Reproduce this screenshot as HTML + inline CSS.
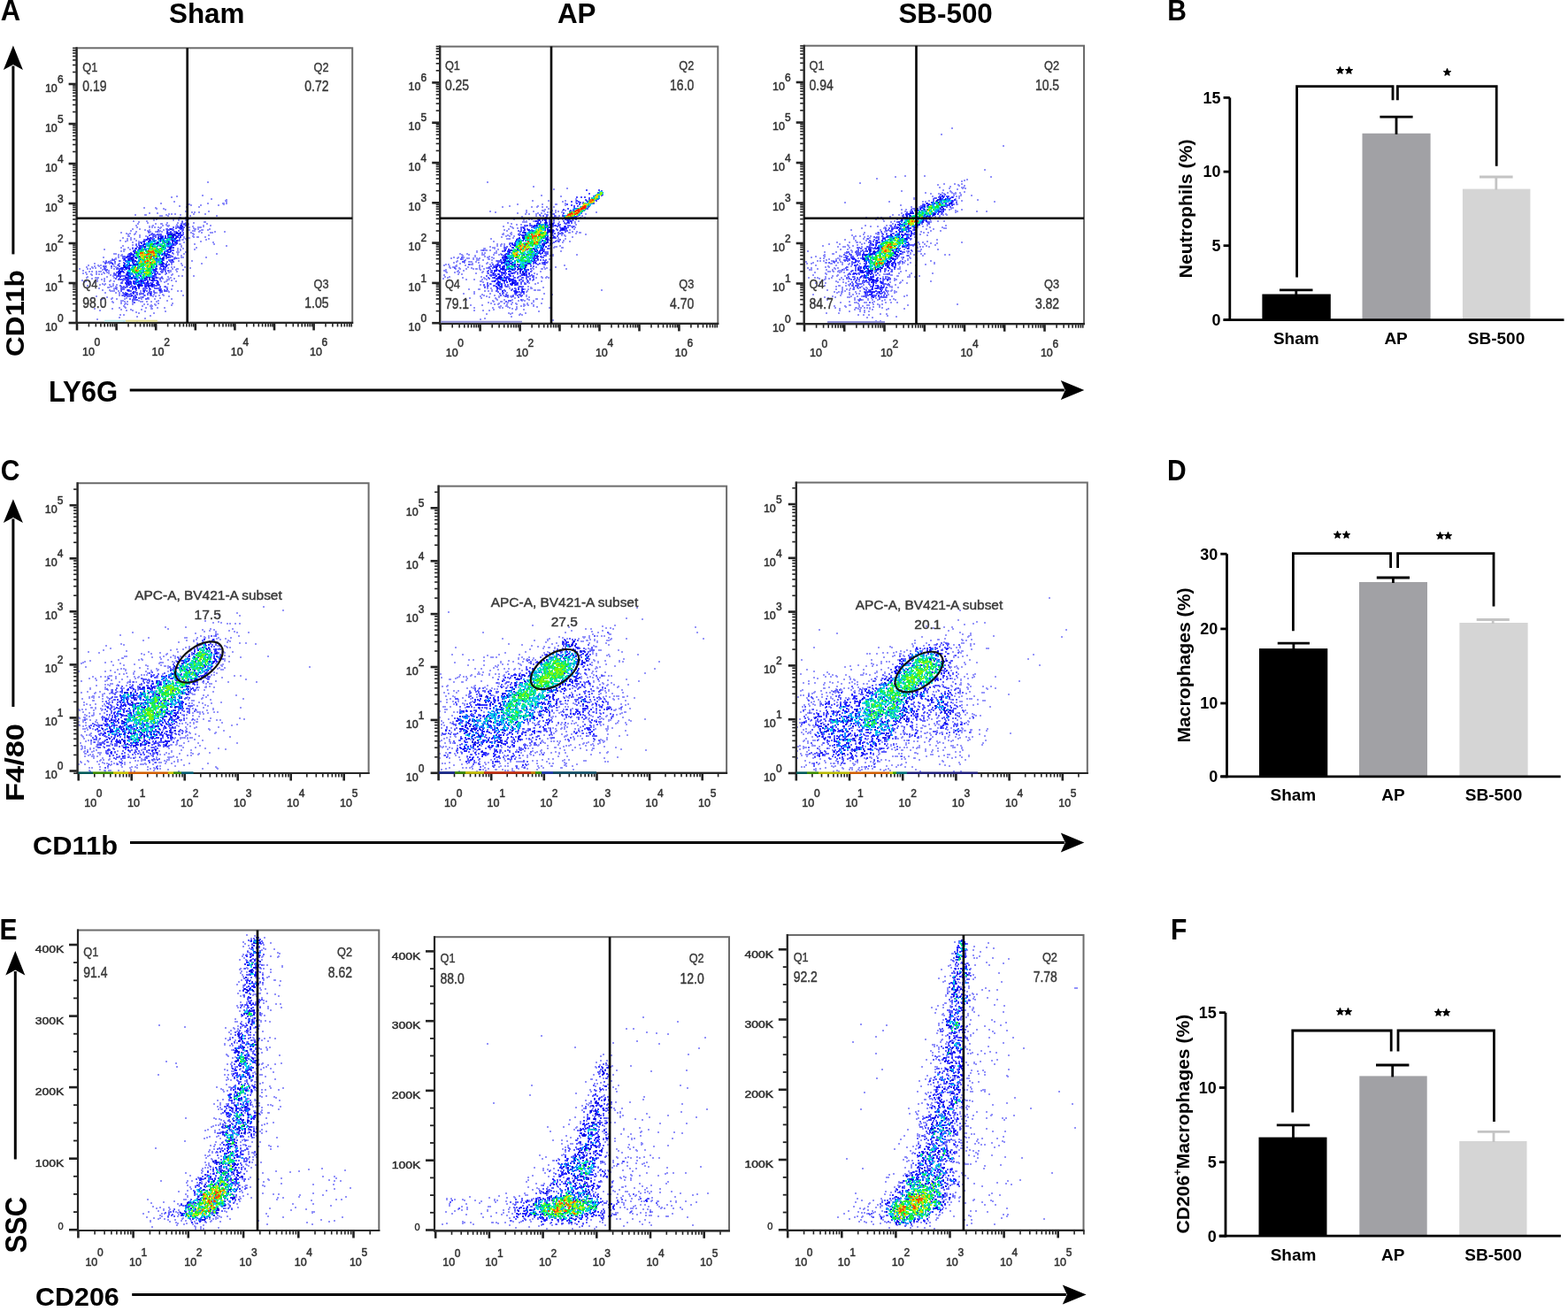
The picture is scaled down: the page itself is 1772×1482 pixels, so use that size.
<!DOCTYPE html><html><head><meta charset="utf-8"><title>Figure</title><style>html,body{margin:0;padding:0;background:#fff;overflow:hidden}svg{display:block}</style></head><body><svg width="1772" height="1482" viewBox="0 0 1772 1482" font-family='"Liberation Sans", Arial, Helvetica, sans-serif'><rect width="1772" height="1482" fill="#fff"/><g fill="none" stroke-linecap="square"><path stroke="rgb(135,135,250)" stroke-width="1.8" d="M235 206h0m-6 15h0m-29 1h0m-6 1h0m45 2h0m17 1h0m-1 1h0m-58 1h0m59 0h0m-74 2h0m53 0h0m17 0h0m1 0h0m3 0h0m-42 1h0m39 0h0m-37 1h0m11 0h0m20 0h0m-44 1h0m8 1h0m14 0h0m-62 1h0m13 0h0m1 1h0m8 0h0m2 1h0m23 2h0m26 0h0m-19 1h0m3 0h0m5 0h0m-56 1h0m9 0h0m13 1h0m3 0h0m4 0h0m21 0h0m13 0h0m-79 1h0m11 0h0m1 0h0m23 0h0m16 0h0m-23 1h0m2 0h0m7 0h0m25 0h0m30 0h0m-42 2h0m1 0h0m6 0h0m1 0h0m-58 1h0m38 0h0m9 0h0m11 0h0m-34 1h0m19 0h0m14 0h0m2 0h0m1 0h0m-39 1h0m22 0h0m6 0h0m8 0h0m-59 1h0m15 0h0m40 0h0m-49 1h0m74 0h0m1 0h0m-65 1h0m22 0h0m12 0h0m9 0h0m9 0h0m-63 1h0m20 0h0m6 0h0m1 0h0m24 0h0m6 0h0m21 0h0m-46 1h0m12 0h0m13 0h0m-59 1h0m19 0h0m11 0h0m5 0h0m2 0h0m39 0h0m8 0h0m-69 1h0m3 0h0m18 0h0m9 0h0m13 0h0m6 0h0m12 0h0m-75 1h0m14 0h0m3 0h0m3 0h0m4 0h0m3 0h0m32 0h0m10 0h0m2 0h0m1 0h0m-46 1h0m38 0h0m-69 1h0m8 0h0m30 0h0m32 0h0m1 0h0m3 0h0m13 0h0m-73 1h0m5 0h0m16 0h0m29 0h0m14 0h0m1 0h0m6 0h0m-87 1h0m19 0h0m14 0h0m37 0h0m2 0h0m6 0h0m-72 1h0m16 0h0m6 0h0m4 0h0m3 0h0m42 0h0m18 0h0m11 0h0m-117 1h0m31 0h0m1 0h0m47 0h0m12 0h0m10 0h0m2 0h0m-97 1h0m4 0h0m6 0h0m65 0h0m-73 1h0m7 0h0m67 0h0m-61 1h0m78 0h0m-91 1h0m1 0h0m19 0h0m53 0h0m-60 1h0m50 0h0m11 0h0m4 0h0m1 0h0m8 0h0m-93 1h0m9 0h0m60 0h0m4 0h0m2 0h0m-70 1h0m8 0h0m58 0h0m26 0h0m-88 1h0m58 0h0m1 0h0m4 0h0m22 0h0m-97 1h0m8 0h0m10 0h0m-12 1h0m15 0h0m70 0h0m-77 1h0m10 0h0m48 0h0m4 0h0m29 0h0m-87 2h0m49 0h0m1 0h0m16 0h0m22 0h0m-92 1h0m-11 1h0m66 0h0m7 0h0m44 0h0m-51 1h0m-68 1h0m8 0h0m5 0h0m72 0h0m-21 1h0m6 0h0m-89 1h0m22 0h0m1 0h0m6 0h0m57 0h0m16 0h0m-19 1h0m3 0h0m-67 1h0m3 0h0m60 1h0m2 0h0m8 0h0m-9 1h0m11 0h0m-83 1h0m2 0h0m65 0h0m12 0h0m37 0h0m-111 1h0m4 0h0m63 0h0m-67 1h0m3 0h0m68 0h0m-88 2h0m17 0h0m64 0h0m7 0h0m2 0h0m26 0h0m-102 1h0m69 0h0m2 0h0m-75 1h0m3 0h0m1 0h0m66 0h0m-77 2h0m5 0h0m11 0h0m66 0h0m15 0h0m-100 1h0m5 1h0m-15 1h0m17 0h0m6 0h0m5 0h0m70 0h0m23 0h0m-100 1h0m66 0h0m-94 1h0m11 0h0m3 0h0m19 0h0m73 0h0m-99 1h0m5 0h0m8 0h0m9 0h0m-31 1h0m6 0h0m16 0h0m6 0h0m5 0h0m63 0h0m3 0h0m12 0h0m-104 1h0m3 0h0m6 0h0m12 0h0m64 0h0m25 0h0m-125 1h0m9 0h0m3 0h0m27 0h0m66 0h0m5 0h0m1 0h0m-85 1h0m83 0h0m8 0h0m-113 1h0m29 0h0m68 0h0m2 0h0m-92 1h0m3 0h0m5 0h0m3 0h0m2 0h0m79 0h0m7 0h0m-103 1h0m20 0h0m4 0h0m2 0h0m68 0h0m-97 1h0m15 0h0m9 0h0m5 0h0m-25 1h0m5 0h0m6 0h0m3 0h0m3 0h0m66 0h0m6 0h0m8 0h0m-91 1h0m21 0h0m69 0h0m-66 1h0m74 0h0m4 0h0m13 0h0m-120 1h0m22 0h0m62 0h0m7 0h0m-92 1h0m10 0h0m2 0h0m1 0h0m18 0h0m50 0h0m3 0h0m11 0h0m-89 1h0m14 0h0m66 0h0m7 0h0m6 0h0m-87 1h0m5 0h0m3 0h0m71 0h0m2 0h0m-98 1h0m25 0h0m7 0h0m64 0h0m5 0h0m-97 1h0m4 0h0m9 0h0m8 0h0m6 0h0m5 0h0m53 0h0m6 0h0m11 0h0m-104 1h0m12 0h0m79 0h0m-70 2h0m3 0h0m9 0h0m62 0h0m-77 1h0m5 0h0m6 0h0m8 0h0m-33 1h0m29 0h0m67 0h0m-70 1h0m1 0h0m5 0h0m55 0h0m-64 1h0m1 0h0m9 0h0m56 0h0m1 0h0m-77 1h0m17 0h0m60 0h0m-60 1h0m3 0h0m62 0h0m-78 1h0m8 0h0m1 1h0m2 0h0m2 0h0m5 0h0m25 0h0m28 0h0m3 0h0m11 0h0m4 0h0m-46 1h0m32 0h0m-72 1h0m12 0h0m4 0h0m42 0h0m4 0h0m-46 1h0m23 1h0m16 0h0m10 0h0m-49 1h0m3 0h0m26 0h0m6 0h0m10 0h0m5 0h0m22 0h0m-98 1h0m64 0h0m3 0h0m15 0h0m-70 1h0m38 0h0m3 0h0m-58 1h0m14 0h0m9 0h0m16 0h0m16 0h0m9 0h0m13 0h0m-65 1h0m10 0h0m6 0h0m9 0h0m10 0h0m9 0h0m6 0h0m2 0h0m7 0h0m19 0h0m-80 1h0m23 1h0m2 0h0m18 0h0m22 0h0m10 0h0m-62 1h0m10 0h0m4 0h0m3 0h0m15 0h0m2 0h0m5 0h0m5 0h0m6 0h0m-49 1h0m22 0h0m1 0h0m-14 1h0m5 0h0m37 0h0m16 0h0m-54 1h0m3 0h0m6 0h0m13 0h0m4 0h0m8 0h0m-4 1h0m5 0h0m18 0h0m-54 1h0m21 0h0m9 0h0m2 0h0m-31 1h0m30 0h0m-36 1h0m7 0h0m23 0h0m13 0h0m8 0h0m-79 1h0m20 0h0m44 0h0m1 0h0m-35 1h0m11 0h0m12 0h0m-47 1h0m30 0h0m7 0h0m14 1h0m23 0h0m-33 1h0m3 1h0m17 0h0m-38 2h0m4 0h0m30 1h0m-15 1h0m-20 1h0m29 1h0m-54 1h0m30 2h0m15 0h0"/><path stroke="rgb(80,80,252)" stroke-width="1.8" d="M206 251h0m-1 2h0m4 0h0m-4 1h0m3 0h0m3 0h0m-7 1h0m6 0h0m-9 1h0m-5 1h0m5 0h0m1 0h0m6 0h0m-9 1h0m4 0h0m3 0h0m-17 1h0m3 0h0m2 0h0m1 0h0m9 0h0m3 0h0m-28 1h0m10 0h0m1 0h0m1 0h0m4 0h0m1 0h0m10 0h0m1 0h0m-5 1h0m4 0h0m-38 1h0m10 0h0m15 0h0m4 0h0m2 0h0m-10 1h0m2 0h0m7 0h0m9 0h0m-35 1h0m23 0h0m4 0h0m5 0h0m-33 1h0m2 0h0m1 0h0m4 0h0m1 0h0m2 0h0m1 0h0m25 0h0m-38 1h0m7 0h0m28 0h0m2 0h0m-33 1h0m1 0h0m5 0h0m2 0h0m3 0h0m15 0h0m-32 1h0m6 0h0m3 0h0m-4 1h0m31 0h0m-32 1h0m3 0h0m6 0h0m-17 1h0m2 0h0m38 0h0m-39 1h0m37 0h0m2 0h0m-41 1h0m35 0h0m3 0h0m-41 1h0m4 0h0m-6 1h0m20 1h0m21 0h0m1 0h0m-45 1h0m3 0h0m41 0h0m-43 2h0m2 1h0m38 0h0m-45 1h0m3 0h0m0 1h0m40 0h0m-41 1h0m43 0h0m1 0h0m-6 1h0m-42 2h0m47 0h0m-49 1h0m41 0h0m-42 1h0m44 0h0m1 0h0m-45 1h0m41 0h0m5 0h0m2 0h0m-54 1h0m2 0h0m52 0h0m2 0h0m-56 1h0m2 0h0m4 0h0m43 0h0m4 0h0m-53 1h0m49 0h0m9 0h0m2 0h0m-59 1h0m-13 1h0m2 0h0m11 0h0m45 0h0m6 0h0m2 0h0m1 0h0m-59 1h0m57 0h0m1 0h0m-73 1h0m3 0h0m7 0h0m22 0h0m37 0h0m4 0h0m2 0h0m1 0h0m-77 1h0m1 0h0m5 0h0m1 0h0m14 0h0m54 0h0m-75 1h0m69 0h0m-54 1h0m46 0h0m4 0h0m3 0h0m4 0h0m-57 1h0m55 0h0m-72 1h0m2 0h0m7 0h0m9 0h0m11 1h0m30 0h0m9 0h0m-67 1h0m15 0h0m4 0h0m44 0h0m-63 1h0m1 0h0m13 0h0m2 0h0m4 0h0m43 0h0m1 0h0m5 0h0m-68 1h0m2 0h0m20 0h0m42 0h0m2 0h0m-65 1h0m67 0h0m3 0h0m-52 1h0m39 0h0m5 0h0m2 0h0m3 0h0m-55 1h0m1 0h0m7 0h0m38 0h0m5 0h0m-54 1h0m5 0h0m2 0h0m42 0h0m10 0h0m-59 1h0m2 0h0m49 0h0m-50 1h0m1 0h0m5 0h0m-3 1h0m5 0h0m2 0h0m2 0h0m34 0h0m-44 1h0m41 1h0m2 0h0m8 0h0m-52 1h0m4 0h0m5 0h0m12 0h0m29 0h0m-47 1h0m2 0h0m1 0h0m1 0h0m1 0h0m2 0h0m1 0h0m32 0h0m7 0h0m-42 1h0m15 0h0m17 0h0m5 0h0m1 0h0m-39 2h0m35 0h0m6 0h0m-42 1h0m1 0h0m10 0h0m11 0h0m6 0h0m5 0h0m1 0h0m1 0h0m5 0h0m2 1h0m-36 1h0m37 0h0m-44 1h0m13 0h0m12 0h0m11 0h0m2 0h0m2 0h0m1 0h0m-40 1h0m3 0h0m3 0h0m1 0h0m4 0h0m1 0h0m2 0h0m13 0h0m10 0h0m7 0h0m6 0h0m-48 1h0m1 0h0m2 0h0m5 0h0m34 0h0m-50 1h0m6 0h0m16 0h0m4 0h0m5 0h0m2 0h0m2 0h0m9 0h0m2 0h0m2 0h0m2 0h0m-44 1h0m1 0h0m2 0h0m10 0h0m3 0h0m17 0h0m12 0h0m7 0h0m-45 1h0m2 0h0m8 0h0m8 0h0m2 0h0m5 0h0m11 0h0m2 0h0m4 0h0m-49 1h0m8 0h0m1 0h0m1 0h0m1 0h0m14 0h0m4 0h0m3 0h0m5 0h0m7 0h0m2 0h0m3 0h0m2 0h0m-35 1h0m10 0h0m7 0h0m1 0h0m3 0h0m8 0h0m1 0h0m-44 1h0m3 0h0m8 0h0m4 0h0m1 0h0m13 0h0m7 0h0m-35 1h0m4 0h0m4 0h0m3 0h0m7 0h0m2 0h0m2 0h0m5 0h0m4 0h0m-30 1h0m4 0h0m2 0h0m8 0h0m12 0h0m3 0h0m-31 1h0m4 0h0m10 0h0m10 0h0m8 0h0m-30 1h0m3 0h0m2 0h0m2 0h0m3 0h0m1 1h0m9 0h0m-10 1h0m2 0h0m4 0h0m10 0h0m-20 1h0m6 0h0m12 0h0m-15 1h0m2 0h0m2 0h0m1 0h0m-5 1h0m2 2h0"/><path stroke="rgb(25,25,255)" stroke-width="1.8" d="M205 255h0m1 1h0m-2 1h0m1 1h0m-12 1h0m-4 3h0m4 1h0m11 0h0m-15 1h0m11 0h0m1 0h0m1 0h0m1 0h0m-9 1h0m4 1h0m4 0h0m3 0h0m-23 1h0m5 0h0m3 0h0m10 0h0m-17 1h0m1 0h0m3 0h0m3 0h0m11 0h0m3 0h0m-34 1h0m-3 1h0m1 0h0m21 0h0m8 0h0m1 0h0m-32 1h0m3 0h0m4 0h0m21 0h0m-21 1h0m8 0h0m1 0h0m15 0h0m3 0h0m-37 1h0m5 0h0m7 0h0m6 0h0m-12 1h0m26 0h0m3 0h0m1 0h0m-39 1h0m16 0h0m16 0h0m8 0h0m-36 1h0m28 0h0m3 0h0m1 0h0m-34 1h0m34 0h0m-38 1h0m1 0h0m2 0h0m33 0h0m-36 1h0m4 0h0m28 0h0m3 0h0m-33 1h0m27 0h0m9 0h0m-42 1h0m3 1h0m34 0h0m1 0h0m-3 1h0m-38 1h0m2 0h0m36 0h0m4 0h0m-7 1h0m4 0h0m2 0h0m-40 1h0m1 0h0m-6 1h0m2 0h0m36 0h0m4 0h0m-41 1h0m1 0h0m2 0h0m32 0h0m8 0h0m-44 1h0m33 0h0m-36 1h0m2 0h0m5 0h0m37 0h0m-45 1h0m5 0h0m5 0h0m37 0h0m-43 1h0m1 0h0m6 0h0m31 0h0m-44 1h0m4 0h0m1 0h0m5 0h0m31 0h0m-35 1h0m3 0h0m1 0h0m33 0h0m11 0h0m-53 1h0m4 0h0m34 0h0m2 0h0m-32 2h0m13 0h0m21 0h0m-57 1h0m14 0h0m5 0h0m5 0h0m31 0h0m3 0h0m-41 1h0m38 0h0m-37 1h0m8 0h0m31 0h0m4 0h0m-48 1h0m2 0h0m35 0h0m5 0h0m2 0h0m1 0h0m3 0h0m-48 1h0m4 0h0m14 0h0m29 0h0m-49 1h0m1 0h0m3 0h0m2 0h0m2 0h0m-10 1h0m3 0h0m4 0h0m33 0h0m1 0h0m8 0h0m-47 1h0m9 0h0m26 0h0m1 0h0m1 0h0m-40 1h0m39 0h0m2 0h0m-42 1h0m2 0h0m1 0h0m2 0h0m5 1h0m31 0h0m-31 1h0m1 0h0m27 0h0m-38 1h0m9 0h0m14 0h0m18 0h0m1 0h0m-32 1h0m-10 1h0m11 0h0m2 0h0m4 0h0m8 0h0m14 0h0m1 0h0m-38 1h0m6 1h0m3 0h0m7 0h0m5 0h0m15 0h0m5 0h0m-30 1h0m2 0h0m17 0h0m8 0h0m-30 1h0m1 0h0m10 0h0m11 0h0m-22 1h0m1 0h0m14 0h0m1 0h0m4 0h0m10 0h0m-31 1h0m2 0h0m2 0h0m4 0h0m2 0h0m4 0h0m2 0h0m3 0h0m5 0h0m11 0h0m-34 1h0m3 0h0m1 0h0m6 0h0m6 0h0m-18 1h0m9 0h0m2 0h0m9 0h0m1 0h0m3 0h0m1 0h0m11 0h0m-35 1h0m3 0h0m2 0h0m4 0h0m8 0h0m6 0h0m2 0h0m4 0h0m6 0h0m-33 1h0m1 0h0m10 0h0m8 0h0m7 0h0m3 0h0m5 0h0m-22 1h0m2 0h0m1 0h0m4 0h0m2 0h0m4 0h0m-17 1h0m12 0h0m3 0h0m4 0h0m-20 1h0m5 0h0m-7 1h0m4 0h0m15 0h0m-24 2h0m36 0h0m-18 1h0m-12 1h0m0 1h0m-8 1h0m27 0h0m-28 1h0m1 0h0m6 1h0m5 2h0"/><path stroke="rgb(0,0,220)" stroke-width="1.8" d="M200 263h0m-9 2h0m2 0h0m4 0h0m-7 1h0m5 0h0m1 0h0m-2 1h0m2 0h0m-4 1h0m2 0h0m-15 1h0m3 0h0m5 0h0m5 0h0m2 0h0m2 0h0m3 0h0m-20 1h0m2 0h0m2 0h0m-1 1h0m3 0h0m-16 1h0m1 0h0m25 0h0m-21 1h0m11 0h0m5 0h0m-12 1h0m1 0h0m12 0h0m-2 1h0m-26 1h0m11 0h0m4 0h0m12 0h0m-22 2h0m10 0h0m3 0h0m4 0h0m-21 1h0m8 0h0m12 0h0m1 0h0m-10 1h0m11 0h0m6 0h0m1 0h0m-35 1h0m6 0h0m20 0h0m8 0h0m-9 1h0m-23 1h0m1 0h0m4 0h0m3 0h0m-13 3h0m16 1h0m8 0h0m4 0h0m3 0h0m0 1h0m-35 1h0m4 0h0m1 0h0m32 0h0m-30 1h0m16 0h0m-24 1h0m4 0h0m31 0h0m-36 1h0m28 0h0m4 0h0m3 0h0m-1 1h0m-34 1h0m9 0h0m3 0h0m-16 1h0m5 0h0m3 0h0m4 0h0m20 0h0m-33 1h0m11 0h0m28 0h0m-7 2h0m7 0h0m-31 1h0m2 0h0m1 0h0m1 0h0m-16 1h0m6 0h0m1 0h0m4 0h0m20 1h0m-30 1h0m2 0h0m28 0h0m-15 1h0m-10 1h0m22 0h0m-23 3h0m7 0h0m7 0h0m3 0h0m3 0h0m-29 1h0m35 0h0m-36 1h0m11 0h0m9 0h0m1 0h0m4 0h0m-15 1h0m1 1h0m8 0h0m-7 2h0m19 0h0m1 0h0m-24 1h0m6 0h0m14 0h0m1 0h0m5 0h0m-16 1h0m8 0h0m3 0h0m9 0h0m-4 1h0m3 1h0m-16 1h0m4 0h0m-4 1h0m11 0h0m-22 1h0m12 1h0m0 1h0m1 0h0m14 0h0m-16 1h0m12 0h0m-11 1h0"/><path stroke="rgb(0,140,255)" stroke-width="1.8" d="M191 267h0m-6 3h0m5 0h0m3 0h0m3 0h0m-22 1h0m6 0h0m3 0h0m9 0h0m-16 1h0m4 0h0m6 0h0m3 0h0m2 0h0m7 0h0m-28 1h0m3 0h0m15 0h0m1 0h0m-18 1h0m16 0h0m1 0h0m4 0h0m-25 1h0m2 0h0m15 0h0m-18 1h0m2 0h0m26 0h0m-29 1h0m3 0h0m4 0h0m8 0h0m9 0h0m-20 1h0m20 0h0m2 0h0m-30 1h0m22 0h0m-15 2h0m9 0h0m4 0h0m6 0h0m-27 1h0m3 0h0m5 0h0m11 0h0m3 0h0m-26 1h0m15 0h0m-15 1h0m25 0h0m6 0h0m-7 2h0m0 1h0m5 1h0m-33 1h0m27 1h0m-23 1h0m18 0h0m1 2h0m4 0h0m1 0h0m-23 1h0m6 0h0m1 0h0m13 0h0m1 0h0m-34 1h0m4 0h0m28 0h0m-33 1h0m2 0h0m13 0h0m5 0h0m14 0h0m4 0h0m-36 1h0m11 0h0m4 0h0m1 0h0m5 0h0m8 0h0m3 0h0m-23 1h0m26 0h0m-3 1h0m-35 1h0m7 0h0m22 0h0m-28 1h0m10 0h0m14 0h0m7 0h0m-24 1h0m-1 1h0m12 0h0m-11 1h0m5 0h0m-8 2h0m5 0h0m7 0h0m3 0h0m5 1h0m7 1h0m-26 1h0m1 0h0m4 0h0m15 0h0m-22 1h0m2 0h0m2 0h0m8 0h0m5 0h0m-16 1h0m7 1h0m-1 1h0m3 0h0m15 0h0m-24 1h0m4 0h0m4 0h0m5 0h0m2 2h0m-8 2h0m1 0h0m2 2h0m4 0h0m-7 1h0"/><path stroke="rgb(0,215,230)" stroke-width="1.8" d="M192 267h0m-1 3h0m-1 1h0m1 0h0m-8 1h0m4 0h0m-15 1h0m8 0h0m-5 1h0m-9 1h0m4 0h0m2 0h0m-3 1h0m11 0h0m1 0h0m1 0h0m-7 1h0m3 0h0m5 0h0m4 0h0m5 0h0m-26 1h0m8 0h0m1 1h0m1 0h0m11 0h0m-18 1h0m8 0h0m-16 1h0m4 0h0m1 0h0m17 0h0m2 0h0m-14 1h0m15 0h0m-24 1h0m-4 1h0m-1 1h0m18 0h0m6 0h0m-19 1h0m4 0h0m17 0h0m-27 1h0m10 0h0m16 0h0m-28 1h0m6 0h0m18 0h0m-6 1h0m4 0h0m1 0h0m-22 1h0m11 0h0m6 0h0m6 0h0m-3 1h0m6 0h0m-24 2h0m15 0h0m-12 1h0m21 0h0m1 0h0m-21 1h0m20 0h0m-35 1h0m10 0h0m6 0h0m6 0h0m8 1h0m-18 1h0m-13 1h0m14 0h0m9 0h0m1 0h0m2 0h0m3 0h0m1 0h0m-18 1h0m2 0h0m3 0h0m2 0h0m10 0h0m-23 1h0m9 0h0m1 0h0m5 1h0m9 0h0m-24 1h0m2 0h0m5 0h0m5 0h0m-15 1h0m1 0h0m11 0h0m2 0h0m9 0h0m-17 1h0m6 0h0m10 0h0m-25 1h0m20 0h0m7 0h0m-26 1h0m1 0h0m11 0h0m2 0h0m10 0h0m-13 1h0m5 0h0m9 1h0m-16 1h0m5 0h0m5 0h0m-2 1h0m1 0h0m2 0h0m3 0h0m2 0h0m-7 1h0m3 0h0m2 0h0m-8 1h0m3 0h0m-8 1h0m3 1h0m3 0h0m-6 2h0"/><path stroke="rgb(0,235,120)" stroke-width="1.8" d="M193 267h0m-1 3h0m-3 1h0m-5 2h0m5 1h0m-4 1h0m1 1h0m-4 1h0m4 0h0m-19 1h0m3 0h0m4 1h0m3 0h0m9 0h0m-16 1h0m2 0h0m4 0h0m7 0h0m-5 1h0m-3 1h0m9 0h0m1 0h0m-27 1h0m20 0h0m2 0h0m2 0h0m-22 1h0m5 0h0m2 0h0m3 0h0m5 0h0m5 0h0m-11 1h0m-13 1h0m4 0h0m3 0h0m5 0h0m9 0h0m-20 1h0m7 0h0m-8 1h0m5 0h0m12 0h0m1 0h0m-1 1h0m-17 1h0m6 0h0m18 0h0m-15 1h0m4 0h0m2 0h0m-13 1h0m1 0h0m4 0h0m4 0h0m1 0h0m3 1h0m-5 1h0m1 0h0m1 0h0m2 0h0m5 0h0m-12 1h0m16 1h0m-7 1h0m10 0h0m-25 1h0m2 0h0m1 0h0m2 0h0m1 0h0m8 0h0m5 1h0m-3 1h0m-17 1h0m6 0h0m8 1h0m3 0h0m-16 1h0m12 0h0m4 0h0m-12 1h0m2 0h0m4 0h0m3 0h0m-19 1h0m16 0h0m-16 1h0m7 0h0m11 0h0m1 0h0m-19 1h0m2 0h0m2 0h0m1 0h0m8 0h0m2 0h0m2 0h0m-15 1h0m1 0h0m5 0h0m10 1h0m-1 1h0m1 0h0m-12 1h0m11 0h0m-13 1h0m13 0h0m-6 1h0m0 1h0"/><path stroke="rgb(30,240,30)" stroke-width="1.8" d="M171 276h0m1 0h0m-2 1h0m14 1h0m-14 1h0m1 0h0m-2 2h0m13 0h0m-20 1h0m10 0h0m1 0h0m7 0h0m-4 1h0m5 0h0m-15 1h0m5 0h0m5 0h0m1 0h0m6 0h0m-29 1h0m5 0h0m1 0h0m19 0h0m-12 1h0m14 0h0m-22 1h0m8 0h0m2 0h0m7 0h0m-21 1h0m14 0h0m-8 1h0m3 0h0m4 0h0m3 0h0m4 0h0m-11 1h0m5 0h0m8 0h0m-14 1h0m3 1h0m3 0h0m-8 1h0m1 0h0m4 0h0m3 0h0m4 0h0m-4 1h0m3 2h0m2 0h0m-7 1h0m-2 1h0m7 0h0m3 0h0m-15 1h0m2 0h0m8 0h0m2 0h0m-12 1h0m6 0h0m-7 1h0m9 0h0m2 0h0m-17 1h0m14 0h0m-15 1h0m-3 2h0m7 0h0m12 0h0m-18 1h0m3 0h0m13 0h0m1 0h0m-17 1h0m2 1h0m3 0h0m8 0h0m2 0h0m4 0h0m-4 1h0m5 0h0m-3 1h0m-5 1h0"/><path stroke="rgb(180,245,0)" stroke-width="1.8" d="M171 280h0m3 1h0m7 1h0m-12 1h0m1 0h0m2 0h0m-10 2h0m11 0h0m1 0h0m-4 1h0m-10 1h0m1 0h0m1 0h0m11 0h0m-8 1h0m3 0h0m4 0h0m4 0h0m-16 3h0m16 0h0m-5 1h0m-3 1h0m-3 1h0m8 0h0m-14 1h0m6 0h0m3 0h0m1 0h0m5 0h0m-10 2h0m4 1h0m-2 1h0m2 3h0m-9 2h0m6 0h0m-12 1h0m13 3h0m2 0h0m-1 1h0m-2 2h0"/><path stroke="rgb(255,200,0)" stroke-width="1.8" d="M175 281h0m-3 5h0m2 1h0m-15 1h0m3 0h0m1 0h0m1 0h0m-5 1h0m3 0h0m-1 1h0m6 1h0m-5 1h0m4 3h0m-6 1h0m15 0h0m-17 1h0m15 0h0m-4 3h0m-4 1h0m4 0h0m-15 2h0m-1 1h0m3 2h0m8 2h0"/><path stroke="rgb(255,70,0)" stroke-width="1.8" d="M168 284h0m5 0h0m-3 1h0m1 0h0m1 0h0m-13 1h0m2 0h0m13 0h0m-6 1h0m-2 1h0m8 1h0m-3 1h0m-5 1h0m4 1h0m-3 3h0m-3 1h0m6 1h0m-16 9h0"/><path stroke="rgb(135,135,250)" stroke-width="1.8" d="M551 206h0m52 5h0m38 2h0m-15 1h0m-14 7h0m22 1h0m17 3h0m-49 2h0m18 0h0m19 0h0m12 0h0m-15 1h0m15 1h0m-12 1h0m-54 1h0m28 0h0m10 0h0m5 0h0m1 0h0m10 1h0m-63 1h0m32 0h0m-40 1h0m33 0h0m6 0h0m6 0h0m5 0h0m8 0h0m30 0h0m-36 2h0m-4 1h0m7 0h0m32 0h0m-60 1h0m18 0h0m1 0h0m10 0h0m4 0h0m8 0h0m3 0h0m15 0h0m-100 1h0m49 0h0m12 0h0m13 0h0m3 0h0m15 0h0m1 0h0m-87 1h0m35 0h0m24 0h0m3 0h0m6 0h0m7 0h0m39 0h0m-89 1h0m23 0h0m4 0h0m-18 1h0m4 0h0m8 0h0m10 0h0m8 0h0m38 0h0m-43 1h0m17 0h0m-30 1h0m5 0h0m17 0h0m4 0h0m17 0h0m9 0h0m-68 1h0m50 0h0m-9 1h0m11 0h0m4 0h0m10 0h0m5 0h0m-89 1h0m17 0h0m16 0h0m1 0h0m6 0h0m22 0h0m13 0h0m7 0h0m-73 1h0m17 0h0m3 0h0m30 0h0m5 0h0m5 0h0m-49 1h0m56 0h0m-53 1h0m8 0h0m23 0h0m28 0h0m-63 1h0m2 0h0m2 0h0m37 0h0m18 0h0m-76 1h0m76 0h0m-72 1h0m6 1h0m5 0h0m62 0h0m-82 2h0m8 0h0m17 0h0m52 0h0m3 0h0m-70 1h0m71 0h0m-70 1h0m5 0h0m-10 1h0m74 0h0m-79 1h0m74 0h0m-71 1h0m74 1h0m5 0h0m-74 1h0m65 0h0m1 0h0m11 0h0m1 0h0m-87 1h0m8 0h0m10 0h0m64 0h0m-83 1h0m1 0h0m9 0h0m84 0h0m-88 1h0m61 0h0m3 0h0m-66 1h0m4 0h0m5 0h0m58 0h0m-72 1h0m80 0h0m-67 1h0m51 0h0m-76 1h0m18 0h0m2 0h0m1 0h0m63 0h0m-8 1h0m-2 1h0m8 0h0m-79 1h0m74 0h0m12 0h0m-8 1h0m-60 1h0m48 0h0m-62 1h0m5 0h0m3 0h0m-4 1h0m-4 1h0m4 0h0m4 0h0m63 0h0m-79 1h0m73 0h0m2 0h0m-72 1h0m2 0h0m67 0h0m9 0h0m1 0h0m-89 1h0m1 0h0m11 0h0m62 0h0m-58 1h0m7 0h0m-26 1h0m3 0h0m2 0h0m1 0h0m4 0h0m-15 1h0m22 0h0m73 0h0m-95 1h0m6 1h0m3 0h0m11 0h0m2 0h0m-41 1h0m8 0h0m38 0h0m-44 1h0m8 0h0m15 0h0m2 0h0m11 0h0m6 0h0m61 0h0m27 0h0m-129 1h0m14 0h0m85 0h0m3 0h0m-88 1h0m11 0h0m5 0h0m70 0h0m-110 1h0m5 0h0m6 0h0m27 0h0m1 0h0m4 0h0m-46 1h0m7 0h0m11 0h0m2 0h0m5 0h0m4 0h0m3 0h0m16 0h0m-36 1h0m1 0h0m12 0h0m6 0h0m11 0h0m1 0h0m68 0h0m-95 1h0m13 0h0m2 0h0m5 0h0m10 0h0m-39 1h0m44 0h0m-45 1h0m14 0h0m1 0h0m2 0h0m5 0h0m81 0h0m-106 1h0m12 0h0m16 0h0m10 0h0m5 0h0m-36 1h0m14 0h0m16 0h0m65 0h0m-111 1h0m3 0h0m24 0h0m2 0h0m1 0h0m20 0h0m-52 1h0m14 0h0m10 0h0m16 0h0m96 0h0m-130 1h0m7 0h0m1 0h0m29 0h0m-37 1h0m4 0h0m1 0h0m16 0h0m13 0h0m64 0h0m9 0h0m13 0h0m-119 1h0m10 0h0m14 0h0m17 0h0m52 0h0m16 0h0m-103 1h0m5 0h0m7 0h0m8 0h0m3 0h0m1 0h0m3 0h0m5 0h0m56 0h0m9 0h0m1 0h0m3 0h0m24 0h0m-136 1h0m39 0h0m79 0h0m-120 1h0m1 0h0m15 0h0m6 0h0m77 0h0m-97 1h0m13 0h0m29 0h0m65 0h0m-106 1h0m9 0h0m5 0h0m26 0h0m40 0h0m-47 1h0m13 0h0m53 0h0m19 0h0m-105 1h0m4 0h0m63 0h0m22 0h0m-105 1h0m1 2h0m5 0h0m36 0h0m68 0h0m6 0h0m-112 1h0m17 0h0m24 0h0m59 0h0m7 0h0m4 0h0m3 0h0m-119 1h0m47 0h0m55 0h0m-76 1h0m9 0h0m9 0h0m5 0h0m37 0h0m15 1h0m-59 1h0m1 0h0m12 0h0m56 0h0m-66 1h0m52 1h0m10 0h0m-53 1h0m50 0h0m-62 1h0m4 1h0m5 0h0m-4 1h0m27 0h0m22 0h0m3 1h0m14 0h0m-63 1h0m4 0h0m21 0h0m24 0h0m1 0h0m-71 1h0m11 0h0m1 0h0m51 0h0m4 0h0m-41 1h0m48 0h0m1 0h0m3 0h0m2 0h0m70 0h0m-132 1h0m4 0h0m4 0h0m40 0h0m-60 1h0m59 0h0m-22 1h0m-49 1h0m12 0h0m18 0h0m61 0h0m-70 1h0m79 0h0m-77 1h0m12 0h0m10 0h0m26 0h0m-52 1h0m7 0h0m14 0h0m13 0h0m18 0h0m-42 1h0m11 0h0m10 0h0m4 0h0m20 0h0m-67 1h0m13 0h0m16 0h0m22 0h0m-21 1h0m35 0h0m10 0h0m1 0h0m6 0h0m-86 1h0m35 0h0m8 0h0m9 0h0m12 0h0m7 0h0m-41 1h0m29 0h0m4 0h0m3 0h0m10 0h0m-45 1h0m8 0h0m1 0h0m36 0h0m-51 1h0m22 0h0m5 0h0m-24 1h0m9 0h0m6 0h0m13 0h0m13 0h0m5 0h0m11 0h0m-53 1h0m4 0h0m10 0h0m5 0h0m6 0h0m8 0h0m4 0h0m-64 1h0m13 0h0m28 0h0m20 0h0m4 0h0m6 0h0m-37 1h0m6 0h0m17 0h0m3 0h0m11 0h0m-39 1h0m10 0h0m10 0h0m23 0h0m-71 1h0m21 0h0m8 0h0m3 0h0m8 0h0m45 0h0m-42 1h0m5 0h0m39 0h0m-65 1h0m25 0h0m9 0h0m-56 1h0m10 0h0m7 0h0m56 1h0m-34 2h0m4 0h0m15 0h0m-44 1h0m27 0h0m11 0h0m-1 1h0m3 0h0m-12 2h0m-30 2h0m-5 1h0m82 1h0"/><path stroke="rgb(80,80,252)" stroke-width="1.8" d="M626 242h0m-16 1h0m8 0h0m-4 1h0m13 0h0m-9 1h0m9 0h0m-10 1h0m5 0h0m3 0h0m4 0h0m-19 1h0m8 0h0m5 0h0m-8 1h0m8 0h0m19 0h0m-34 1h0m5 0h0m8 0h0m5 0h0m15 0h0m6 0h0m-42 1h0m16 0h0m16 0h0m6 0h0m-32 1h0m12 0h0m23 0h0m-25 1h0m5 0h0m12 0h0m3 0h0m5 0h0m-47 1h0m32 0h0m8 0h0m1 0h0m-19 1h0m10 0h0m2 0h0m-40 1h0m2 0h0m1 0h0m3 0h0m1 0h0m1 0h0m26 0h0m4 0h0m1 0h0m10 0h0m2 0h0m-19 1h0m5 0h0m8 0h0m4 0h0m6 0h0m-59 1h0m2 0h0m1 0h0m9 0h0m2 0h0m30 0h0m9 0h0m5 0h0m-58 1h0m45 0h0m-45 1h0m4 0h0m3 0h0m33 0h0m-7 1h0m2 0h0m1 0h0m5 0h0m10 0h0m-54 1h0m3 0h0m3 0h0m34 0h0m7 0h0m8 0h0m-53 1h0m51 0h0m-14 1h0m6 0h0m4 0h0m-8 1h0m6 0h0m2 0h0m1 0h0m-50 1h0m2 0h0m36 0h0m7 0h0m-44 1h0m38 0h0m5 1h0m-3 1h0m-3 1h0m2 0h0m1 0h0m1 0h0m-43 1h0m35 1h0m3 0h0m10 0h0m-11 1h0m1 1h0m5 0h0m3 0h0m-14 1h0m9 0h0m-49 1h0m2 0h0m43 0h0m-46 1h0m46 1h0m-45 1h0m43 0h0m-47 1h0m-3 1h0m1 0h0m41 0h0m-40 1h0m47 0h0m1 0h0m-49 1h0m44 0h0m-69 1h0m69 0h0m-47 1h0m2 0h0m45 0h0m2 1h0m2 0h0m-3 1h0m3 0h0m-47 1h0m45 0h0m1 0h0m1 0h0m-52 1h0m2 1h0m46 0h0m2 0h0m-6 1h0m1 0h0m-90 1h0m90 0h0m2 0h0m-46 1h0m39 0h0m-86 1h0m87 1h0m3 0h0m3 0h0m3 0h0m-92 1h0m37 0h0m2 0h0m42 0h0m10 0h0m-93 1h0m1 0h0m39 0h0m2 0h0m2 0h0m38 0h0m-6 1h0m14 0h0m3 0h0m1 0h0m1 0h0m-55 1h0m4 0h0m36 0h0m3 0h0m4 0h0m3 0h0m-83 1h0m27 0h0m16 0h0m35 0h0m7 0h0m1 0h0m-56 1h0m40 0h0m-45 1h0m3 0h0m3 0h0m39 0h0m3 0h0m-50 1h0m5 0h0m-44 1h0m38 0h0m5 0h0m13 0h0m12 0h0m-28 1h0m46 0h0m-38 1h0m23 0h0m10 0h0m-43 1h0m3 0h0m1 0h0m-5 1h0m32 0h0m17 0h0m-45 1h0m1 0h0m13 0h0m12 0h0m1 0h0m-30 1h0m5 0h0m15 0h0m6 0h0m3 0h0m4 0h0m3 0h0m7 0h0m-35 1h0m7 0h0m23 0h0m8 0h0m-44 1h0m1 0h0m1 0h0m12 0h0m3 0h0m21 0h0m9 0h0m-51 1h0m5 0h0m5 0h0m20 0h0m8 0h0m11 0h0m4 0h0m-33 1h0m5 0h0m11 0h0m9 0h0m1 0h0m1 0h0m5 0h0m1 0h0m-51 1h0m5 0h0m1 0h0m23 0h0m1 0h0m3 0h0m5 0h0m1 0h0m-38 1h0m8 0h0m34 0h0m4 0h0m-37 1h0m13 0h0m14 0h0m10 0h0m4 0h0m-43 1h0m27 0h0m4 0h0m5 0h0m-39 1h0m34 0h0m6 0h0m-8 1h0m7 0h0m-45 1h0m19 0h0m23 0h0m-39 1h0m7 0h0m28 0h0m4 0h0m1 0h0m-47 1h0m4 0h0m20 0h0m3 0h0m5 0h0m6 0h0m-27 1h0m1 0h0m12 0h0m-20 1h0m21 0h0m1 0h0m14 0h0m1 0h0m1 0h0m2 0h0m-43 1h0m17 0h0m2 0h0m19 0h0m-22 1h0m18 0h0m8 0h0m-28 1h0m3 0h0m1 0h0m13 0h0m4 0h0m-21 1h0m8 0h0m8 0h0m-17 1h0m10 0h0m10 0h0m-18 1h0m22 0h0m2 0h0m3 0h0m-22 1h0m1 0h0m15 0h0m5 0h0m-24 1h0m3 0h0m14 0h0m10 0h0m-20 1h0m11 0h0m4 0h0m1 0h0m-22 1h0m7 0h0m1 0h0m6 0h0m5 0h0m3 0h0m2 0h0m-19 1h0m1 0h0m2 0h0m5 0h0m1 0h0m9 0h0m-3 1h0m3 3h0m-14 1h0m2 0h0m-5 1h0"/><path stroke="rgb(25,25,255)" stroke-width="1.8" d="M609 249h0m1 0h0m6 0h0m1 0h0m25 0h0m-36 1h0m39 0h0m-37 1h0m34 0h0m-26 1h0m1 0h0m1 0h0m25 0h0m-36 1h0m3 0h0m7 0h0m7 0h0m1 0h0m-2 1h0m2 0h0m-21 1h0m2 0h0m13 0h0m3 0h0m6 0h0m-25 1h0m1 0h0m35 0h0m-19 1h0m18 0h0m-46 1h0m44 0h0m4 0h0m-24 1h0m18 0h0m3 0h0m1 0h0m-45 1h0m4 0h0m1 0h0m36 0h0m1 0h0m1 0h0m2 0h0m-38 1h0m2 0h0m17 0h0m6 0h0m-3 1h0m1 0h0m1 0h0m-33 1h0m3 0h0m30 0h0m-30 1h0m24 0h0m-28 2h0m1 0h0m1 0h0m-1 2h0m4 0h0m31 0h0m-39 1h0m6 0h0m24 0h0m2 0h0m3 0h0m-38 2h0m35 0h0m-35 1h0m10 0h0m25 0h0m-36 1h0m3 0h0m24 1h0m8 0h0m-36 1h0m-3 1h0m34 0h0m-33 1h0m2 0h0m1 0h0m32 0h0m-1 2h0m3 0h0m-38 1h0m1 0h0m-5 2h0m-4 1h0m6 0h0m34 0h0m2 0h0m-39 1h0m1 0h0m1 0h0m30 0h0m4 0h0m4 0h0m-39 1h0m1 0h0m34 0h0m-3 1h0m1 0h0m5 0h0m-40 1h0m38 0h0m-40 1h0m36 1h0m1 1h0m-40 1h0m2 0h0m2 0h0m35 0h0m-30 1h0m3 0h0m23 0h0m2 0h0m-35 1h0m38 0h0m-42 1h0m3 0h0m2 1h0m25 0h0m-26 1h0m6 0h0m10 0h0m17 0h0m-36 1h0m2 0h0m36 0h0m10 0h0m-38 1h0m-15 1h0m1 1h0m2 0h0m14 0h0m-17 1h0m3 0h0m4 0h0m1 0h0m-11 1h0m6 0h0m3 0h0m1 0h0m19 1h0m4 0h0m1 0h0m-32 1h0m5 0h0m1 0h0m12 0h0m-11 1h0m2 0h0m2 0h0m16 0h0m1 0h0m8 0h0m-38 1h0m1 0h0m1 0h0m3 0h0m1 0h0m29 0h0m-35 1h0m6 0h0m6 0h0m4 0h0m1 0h0m1 0h0m14 0h0m3 0h0m1 0h0m-28 1h0m-9 1h0m11 0h0m1 0h0m9 0h0m14 0h0m5 0h0m-35 1h0m1 0h0m11 0h0m1 0h0m17 0h0m-35 1h0m18 0h0m14 0h0m3 0h0m2 0h0m-34 1h0m4 0h0m1 0h0m11 0h0m-12 1h0m8 0h0m-14 1h0m4 0h0m7 0h0m1 0h0m2 0h0m-11 1h0m1 0h0m1 0h0m2 0h0m6 0h0m3 0h0m1 0h0m-10 1h0m12 0h0m1 0h0m1 0h0m-12 1h0m2 0h0m2 0h0m4 0h0m1 0h0m5 0h0m-23 1h0m4 0h0m7 0h0m6 0h0m3 0h0m1 0h0m2 0h0m1 0h0m-20 1h0m1 0h0m1 0h0m8 0h0m7 0h0m3 0h0m-21 1h0m2 0h0m17 0h0m1 0h0m3 0h0m-21 1h0m3 0h0m10 0h0m2 0h0m5 0h0m-21 1h0m4 0h0m11 0h0m4 0h0m1 0h0m-19 1h0m3 0h0m-6 1h0m5 0h0m1 0h0m-5 1h0m0 1h0m24 1h0m5 0h0m-1 1h0m-22 1h0m14 0h0m1 0h0m7 0h0m-8 1h0m2 0h0m7 0h0m1 0h0m-9 1h0"/><path stroke="rgb(0,0,220)" stroke-width="1.8" d="M617 251h0m-9 2h0m1 1h0m5 0h0m2 0h0m6 0h0m-15 1h0m11 0h0m-6 1h0m5 1h0m5 0h0m-3 2h0m17 0h0m-15 1h0m-5 1h0m4 0h0m-21 1h0m22 0h0m-28 1h0m26 0h0m-25 3h0m22 1h0m3 0h0m-26 1h0m-2 1h0m23 0h0m-27 1h0m5 0h0m13 0h0m12 0h0m1 1h0m-31 1h0m1 0h0m3 0h0m22 0h0m3 1h0m3 1h0m-4 1h0m2 0h0m-24 1h0m22 0h0m-9 1h0m4 0h0m-28 1h0m32 0h0m-2 1h0m1 1h0m-28 1h0m13 0h0m5 0h0m3 0h0m6 0h0m1 0h0m-25 1h0m6 0h0m7 0h0m3 0h0m-26 1h0m7 0h0m22 0h0m-6 1h0m4 0h0m-30 2h0m34 0h0m-34 1h0m30 0h0m-13 1h0m3 0h0m-17 1h0m26 0h0m1 0h0m-34 1h0m2 0h0m17 0h0m14 0h0m3 0h0m-29 1h0m5 0h0m-11 1h0m2 0h0m-3 2h0m17 0h0m16 0h0m-31 1h0m1 0h0m12 0h0m12 0h0m3 0h0m-27 1h0m1 0h0m7 0h0m12 0h0m5 0h0m-29 1h0m9 0h0m1 0h0m17 1h0m2 0h0m-27 1h0m3 0h0m4 0h0m1 0h0m2 0h0m3 0h0m3 0h0m-8 1h0m7 0h0m6 0h0m2 0h0m-22 1h0m6 0h0m2 0h0m6 0h0m-26 1h0m24 0h0m9 0h0m-21 1h0m2 0h0m-7 1h0m1 0h0m5 0h0m1 0h0m2 0h0m1 0h0m4 0h0m4 0h0m3 0h0m1 0h0m3 0h0m-14 1h0m2 0h0m7 2h0m3 1h0m1 2h0m-28 3h0m1 1h0m2 0h0m2 3h0m10 3h0m1 0h0m-16 2h0"/><path stroke="rgb(0,140,255)" stroke-width="1.8" d="M608 254h0m3 0h0m2 0h0m5 0h0m-5 1h0m2 1h0m1 0h0m-10 1h0m1 0h0m2 0h0m1 0h0m5 0h0m3 0h0m1 0h0m-15 1h0m2 0h0m-5 2h0m8 0h0m-5 1h0m-6 1h0m14 0h0m-14 1h0m2 0h0m11 0h0m-16 1h0m16 1h0m-15 1h0m21 0h0m2 0h0m-23 1h0m20 2h0m-30 2h0m4 1h0m22 1h0m3 0h0m-28 1h0m17 0h0m7 0h0m5 0h0m-22 1h0m-2 1h0m-8 2h0m23 0h0m5 0h0m1 1h0m-25 1h0m19 0h0m1 0h0m-17 1h0m8 0h0m6 0h0m6 0h0m-19 1h0m8 0h0m-20 1h0m6 0h0m1 0h0m7 0h0m12 0h0m-24 1h0m2 0h0m16 0h0m-16 1h0m24 0h0m-34 1h0m4 0h0m11 0h0m3 0h0m9 0h0m2 0h0m-13 1h0m7 0h0m7 0h0m-3 1h0m5 0h0m-26 1h0m1 0h0m20 0h0m-27 1h0m2 0h0m24 0h0m3 0h0m-23 1h0m18 0h0m3 0h0m-26 1h0m13 0h0m2 0h0m9 0h0m-19 1h0m6 0h0m3 0h0m-13 1h0m11 0h0m10 0h0m-19 1h0m4 0h0m17 0h0m-4 1h0m-23 1h0m19 0h0m4 0h0m-24 1h0m4 0h0m20 0h0m-24 1h0m3 1h0m14 0h0m4 0h0m-9 1h0m5 0h0m1 0h0m1 0h0m-11 1h0m12 0h0m-17 1h0m17 0h0m-18 1h0m8 0h0m-5 1h0m17 1h0m-25 9h0m-3 6h0"/><path stroke="rgb(0,215,230)" stroke-width="1.8" d="M615 254h0m-2 4h0m-7 1h0m5 1h0m2 0h0m1 0h0m1 0h0m-10 1h0m-5 1h0m4 0h0m-7 1h0m16 0h0m2 0h0m1 0h0m-20 1h0m5 0h0m3 0h0m-1 1h0m-4 2h0m-5 1h0m17 0h0m2 1h0m-11 1h0m7 0h0m3 0h0m-24 1h0m6 0h0m2 0h0m1 0h0m1 0h0m11 1h0m6 0h0m-30 1h0m13 0h0m12 0h0m-26 1h0m1 0h0m15 0h0m8 0h0m-24 1h0m2 0h0m6 0h0m7 1h0m9 0h0m2 0h0m-26 1h0m2 0h0m1 0h0m22 0h0m-13 1h0m3 0h0m2 0h0m4 0h0m1 0h0m-19 1h0m18 0h0m5 0h0m-26 1h0m11 0h0m10 0h0m1 0h0m-11 1h0m-14 1h0m18 0h0m-17 1h0m6 1h0m9 0h0m-17 1h0m12 0h0m1 0h0m5 0h0m1 0h0m4 0h0m1 1h0m-19 1h0m4 0h0m5 0h0m4 0h0m9 0h0m-27 1h0m7 0h0m-13 1h0m2 0h0m1 0h0m7 0h0m1 0h0m10 0h0m-17 1h0m2 0h0m6 0h0m9 0h0m2 0h0m4 0h0m-10 1h0m2 0h0m2 0h0m0 1h0m-7 1h0m13 0h0m-28 1h0m13 0h0m7 0h0m9 0h0m-17 1h0m2 1h0m2 0h0m2 0h0m1 0h0m8 0h0m-26 1h0m7 0h0m1 0h0m18 0h0m-20 1h0m9 0h0m4 0h0m-3 1h0m-1 1h0m-13 1h0m-3 1h0m19 0h0m-14 1h0m1 0h0m11 0h0"/><path stroke="rgb(0,235,120)" stroke-width="1.8" d="M614 255h0m-3 1h0m2 1h0m1 0h0m-5 1h0m1 0h0m1 0h0m4 0h0m-14 5h0m2 0h0m1 0h0m13 0h0m-17 1h0m5 0h0m8 0h0m-1 1h0m2 0h0m3 0h0m-11 1h0m-12 1h0m7 0h0m10 0h0m3 0h0m-17 1h0m3 0h0m5 0h0m3 0h0m7 0h0m-21 1h0m2 0h0m2 0h0m6 0h0m-7 1h0m1 0h0m5 0h0m7 1h0m-14 1h0m5 0h0m4 0h0m5 0h0m6 0h0m-28 1h0m1 0h0m10 0h0m3 0h0m7 0h0m-20 1h0m16 0h0m-17 1h0m1 0h0m4 0h0m2 0h0m7 0h0m1 0h0m-3 1h0m3 0h0m-15 1h0m9 0h0m3 0h0m-7 1h0m2 0h0m-12 1h0m8 0h0m3 0h0m7 2h0m-19 1h0m9 0h0m-3 1h0m4 0h0m-12 1h0m1 0h0m18 0h0m3 0h0m-6 1h0m4 0h0m-8 2h0m7 0h0m-20 1h0m19 0h0m1 0h0m4 0h0m-7 1h0m-11 1h0m8 0h0m-16 1h0m12 0h0m11 0h0m-3 1h0m-18 1h0m11 0h0m1 0h0m-7 1h0m7 0h0m5 0h0m2 0h0m-8 1h0m2 0h0m5 0h0m0 1h0m1 0h0m-7 3h0m-13 2h0m2 0h0m12 0h0m-18 1h0m14 0h0"/><path stroke="rgb(30,240,30)" stroke-width="1.8" d="M610 255h0m8 1h0m-6 1h0m2 1h0m-3 1h0m-2 2h0m-3 1h0m1 0h0m3 0h0m-5 1h0m3 0h0m6 0h0m-2 1h0m-14 1h0m8 0h0m7 0h0m-15 2h0m2 0h0m5 0h0m4 0h0m1 0h0m5 0h0m-19 1h0m8 0h0m9 0h0m-8 1h0m2 0h0m5 0h0m-16 1h0m4 0h0m4 0h0m4 1h0m-2 2h0m-18 1h0m13 0h0m-5 1h0m1 0h0m2 0h0m1 0h0m8 0h0m-21 1h0m4 0h0m5 0h0m8 0h0m2 0h0m-16 1h0m12 0h0m-8 1h0m3 0h0m5 0h0m-18 1h0m2 1h0m1 1h0m2 0h0m3 0h0m8 0h0m-17 2h0m16 0h0m-14 1h0m-4 1h0m7 0h0m13 0h0m-11 1h0m-7 1h0m-2 1h0m16 0h0m3 0h0m-18 1h0m5 0h0m3 0h0m-9 1h0m3 0h0m1 1h0m7 0h0m2 0h0m-3 1h0m-2 2h0m5 1h0m-9 1h0"/><path stroke="rgb(180,245,0)" stroke-width="1.8" d="M610 259h0m-3 1h0m5 1h0m-4 1h0m-1 2h0m2 0h0m7 0h0m-14 1h0m5 0h0m8 0h0m-10 1h0m7 0h0m-9 1h0m0 2h0m3 0h0m4 0h0m-6 2h0m5 0h0m-1 1h0m-4 1h0m2 2h0m1 1h0m-11 1h0m-10 1h0m9 1h0m3 0h0m-5 1h0m1 0h0m2 0h0m2 0h0m-7 3h0m2 0h0m-13 3h0m4 1h0m-2 1h0m1 1h0m3 0h0m-4 1h0m5 2h0"/><path stroke="rgb(255,200,0)" stroke-width="1.8" d="M614 256h0m-4 5h0m-1 1h0m7 0h0m-11 3h0m3 0h0m5 1h0m-7 4h0m-3 1h0m2 2h0m-7 2h0m-8 1h0m1 1h0m-1 2h0m-1 1h0m-1 1h0m5 0h0m0 1h0m-2 2h0m-6 1h0m-2 1h0m-2 1h0m1 0h0"/><path stroke="rgb(255,70,0)" stroke-width="1.8" d="M601 265h0m9 0h0m-1 1h0m-7 1h0m2 0h0m2 0h0m-9 2h0m5 0h0m-5 4h0m10 1h0m-3 1h0m-9 1h0m-7 2h0m5 1h0m-4 3h0m7 0h0m-12 6h0"/><path stroke="rgb(60,60,255)" stroke-width="1.8" d="M663 215h0m14 0h0m3 1h0m-4 2h0m-10 1h0m15 1h0m-1 1h0m-9 1h0m-19 1h0m5 0h0m4 0h0m5 1h0m10 1h0m-14 1h0m4 0h0m-14 1h0m11 0h0m11 0h0m-28 1h0m8 0h0m10 0h0m-9 1h0m1 0h0m3 0h0m-7 1h0m7 0h0m12 0h0m-30 1h0m14 0h0m-9 1h0m3 1h0m4 0h0m13 0h0m-1 1h0m-16 1h0m-7 1h0m9 0h0m10 0h0m3 0h0m-27 1h0m8 1h0m3 0h0m-4 1h0m-7 2h0m7 0h0m13 0h0m-11 1h0m9 1h0m-19 1h0m1 0h0m3 0h0m13 0h0m-5 1h0m3 0h0m-5 1h0m4 0h0m-12 1h0m9 0h0m5 0h0m-13 1h0m1 0h0m2 0h0m1 0h0m1 0h0m7 0h0"/><path stroke="rgb(0,120,255)" stroke-width="1.8" d="M677 218h0m4 0h0m-5 1h0m1 0h0m-4 2h0m4 1h0m-5 1h0m4 0h0m-7 1h0m8 0h0m-6 1h0m3 0h0m1 0h0m-3 1h0m-1 1h0m-6 1h0m-4 2h0m4 0h0m3 0h0m2 0h0m-5 3h0m-3 2h0m-12 1h0m2 0h0m1 0h0m9 0h0m-14 1h0m10 0h0m2 1h0m-6 4h0m-11 1h0m-5 1h0m4 0h0m7 0h0m-11 1h0m1 0h0m3 0h0m3 1h0"/><path stroke="rgb(0,220,220)" stroke-width="1.8" d="M678 217h0m2 0h0m-1 2h0m2 0h0m-8 3h0m-2 1h0m6 0h0m-7 1h0m-1 3h0m-1 2h0m-6 1h0m2 0h0m2 1h0m1 1h0m-7 1h0m3 0h0m-7 1h0m7 0h0m-12 3h0m-1 1h0m8 0h0m-2 2h0m-11 1h0m9 0h0m2 0h0m-14 1h0m13 0h0m-2 1h0m-14 1h0m9 0h0m-6 2h0"/><path stroke="rgb(0,235,80)" stroke-width="1.8" d="M680 219h0m-5 1h0m-1 1h0m-2 3h0m3 0h0m-6 1h0m-3 2h0m4 0h0m-4 1h0m-1 3h0m0 1h0m-7 2h0m0 1h0m-4 1h0m1 0h0m6 1h0m-5 1h0m0 1h0m2 0h0m-14 1h0m1 0h0m3 0h0m5 0h0m-4 1h0m3 1h0m-6 1h0m3 0h0m-10 3h0m2 0h0m2 0h0m1 0h0"/><path stroke="rgb(150,245,0)" stroke-width="1.8" d="M679 218h0m1 0h0m-4 2h0m2 0h0m1 0h0m-4 2h0m-1 1h0m-1 2h0m-2 1h0m0 2h0m-2 1h0m-9 1h0m0 1h0m1 0h0m0 1h0m-2 1h0m-8 6h0m-4 2h0m3 0h0m1 0h0m-3 2h0m4 0h0m-9 1h0m3 0h0m1 0h0m-7 3h0"/><path stroke="rgb(255,200,0)" stroke-width="1.8" d="M675 221h0m-1 1h0m-1 1h0m2 0h0m-6 5h0m1 0h0m-4 1h0m1 0h0m-5 2h0m2 0h0m-4 1h0m-4 4h0m4 0h0m-9 2h0m2 0h0m1 0h0m-7 2h0m4 0h0m1 0h0m-9 2h0m6 0h0m2 0h0m-7 2h0m-4 1h0m1 0h0"/><path stroke="rgb(255,110,0)" stroke-width="1.8" d="M668 226h0m1 0h0m-2 1h0m1 0h0m-1 1h0m1 0h0m-6 5h0m-2 1h0m1 0h0m1 0h0m-5 1h0m2 1h0m-6 1h0m2 0h0m1 0h0m1 0h0m-2 1h0m0 1h0m-1 1h0m-1 1h0m-8 1h0m2 0h0m-3 1h0m1 1h0"/><path stroke="rgb(255,30,0)" stroke-width="1.8" d="M670 226h0m-9 7h0m-2 1h0m0 1h0m1 0h0m1 0h0m-4 1h0m1 0h0m-4 1h0m-2 1h0m-2 1h0m4 0h0m-8 2h0m6 0h0m-8 1h0m6 0h0m-8 1h0"/><path stroke="rgb(135,135,250)" stroke-width="1.8" d="M1076 145h0m-12 7h0m70 13h0m-98 21h0m77 6h0m-90 7h0m22 0h0m-33 1h0m108 0h0m-129 2h0m102 1h0m-3 1h0m-3 1h0m-115 2h0m95 1h0m12 0h0m8 0h0m-27 1h0m23 0h0m1 1h0m6 0h0m-16 1h0m-12 1h0m25 0h0m2 0h0m-16 1h0m15 0h0m3 0h0m-9 1h0m-16 1h0m-47 1h0m55 0h0m1 1h0m15 0h0m-44 1h0m19 0h0m6 0h0m5 0h0m4 0h0m5 0h0m-33 1h0m9 0h0m6 0h0m11 0h0m2 0h0m6 1h0m-8 1h0m8 0h0m12 0h0m-44 1h0m27 0h0m3 0h0m-51 2h0m23 0h0m28 0h0m-51 1h0m47 0h0m25 1h0m-55 1h0m31 0h0m6 0h0m-82 1h0m38 0h0m3 0h0m78 0h0m-169 1h0m126 2h0m1 0h0m-64 1h0m12 2h0m9 0h0m37 1h0m1 0h0m-46 1h0m44 0h0m-56 1h0m5 0h0m49 0h0m14 0h0m-7 1h0m-57 1h0m41 0h0m18 0h0m22 0h0m11 0h0m-35 1h0m-61 1h0m50 1h0m-60 1h0m7 0h0m50 0h0m4 0h0m-8 1h0m-56 1h0m15 0h0m36 0h0m-78 1h0m13 0h0m4 0h0m65 0h0m1 0h0m10 1h0m-82 1h0m8 0h0m16 0h0m-15 2h0m12 0h0m41 0h0m8 0h0m7 0h0m-60 1h0m45 0h0m-43 2h0m39 1h0m-70 1h0m24 0h0m4 0h0m42 0h0m21 0h0m-85 1h0m8 0h0m51 0h0m-43 1h0m37 0h0m14 0h0m14 0h0m-91 1h0m25 0h0m68 0h0m2 0h0m-22 1h0m8 0h0m-93 1h0m33 0h0m57 1h0m11 0h0m-63 1h0m41 0h0m-64 1h0m15 0h0m52 0h0m5 0h0m-59 1h0m-14 1h0m16 0h0m1 0h0m42 0h0m5 0h0m-77 1h0m85 0h0m-81 1h0m5 0h0m9 0h0m3 0h0m-19 1h0m12 0h0m57 0h0m-51 1h0m9 0h0m44 0h0m-71 1h0m11 0h0m4 0h0m50 0h0m-75 1h0m74 0h0m30 0h0m-92 1h0m12 0h0m11 0h0m45 0h0m13 1h0m-102 1h0m14 0h0m8 0h0m1 0h0m3 0h0m63 0h0m3 0h0m5 0h0m44 0h0m-110 1h0m75 0h0m7 0h0m-122 1h0m12 0h0m25 0h0m65 0h0m6 0h0m-87 1h0m11 0h0m64 0h0m24 0h0m-127 1h0m29 0h0m5 0h0m68 0h0m15 0h0m-100 1h0m6 0h0m2 0h0m19 0h0m62 0h0m4 0h0m3 0h0m7 0h0m-90 1h0m14 0h0m63 0h0m-87 2h0m8 0h0m64 0h0m19 0h0m19 0h0m-98 1h0m-49 1h0m50 0h0m62 0h0m6 0h0m7 0h0m2 0h0m-108 1h0m13 0h0m18 0h0m-8 1h0m65 0h0m6 0h0m3 0h0m7 0h0m-95 1h0m1 0h0m78 0h0m9 0h0m12 0h0m4 0h0m-113 1h0m101 0h0m35 0h0m5 0h0m-142 1h0m18 0h0m76 0h0m2 0h0m16 0h0m-121 1h0m10 0h0m17 0h0m2 0h0m-34 1h0m37 0h0m65 0h0m9 0h0m-101 1h0m4 0h0m16 0h0m23 0h0m59 0h0m7 0h0m-99 1h0m8 0h0m4 0h0m16 0h0m55 0h0m6 0h0m-92 1h0m15 0h0m8 0h0m69 0h0m10 0h0m-112 1h0m3 0h0m4 0h0m9 0h0m2 0h0m76 0h0m5 0h0m29 0h0m-141 1h0m39 0h0m-31 1h0m14 0h0m1 0h0m9 0h0m4 0h0m5 0h0m68 0h0m2 0h0m7 0h0m27 0h0m-144 1h0m5 0h0m22 0h0m1 0h0m20 0h0m12 0h0m48 0h0m36 0h0m-104 1h0m7 0h0m57 0h0m10 0h0m20 0h0m-124 1h0m23 0h0m90 0h0m-99 1h0m26 0h0m-29 1h0m4 0h0m21 0h0m54 0h0m5 0h0m-104 1h0m4 0h0m26 0h0m4 0h0m-23 1h0m20 0h0m10 0h0m52 0h0m9 0h0m2 0h0m-102 1h0m2 0h0m17 0h0m7 0h0m13 0h0m4 0h0m-17 1h0m7 0h0m2 0h0m14 0h0m44 0h0m16 0h0m-88 1h0m2 0h0m4 0h0m5 0h0m4 0h0m56 0h0m11 0h0m-97 1h0m28 0h0m5 0h0m-21 1h0m83 0h0m14 0h0m24 0h0m-120 1h0m65 0h0m2 0h0m-82 1h0m28 0h0m11 0h0m36 0h0m13 0h0m1 0h0m20 0h0m-87 1h0m5 0h0m9 0h0m59 0h0m1 0h0m24 0h0m-106 1h0m33 0h0m32 0h0m5 0h0m23 0h0m2 0h0m6 0h0m-120 1h0m7 0h0m3 0h0m16 0h0m11 0h0m-25 1h0m7 0h0m4 0h0m20 0h0m1 0h0m53 0h0m-79 1h0m17 0h0m4 0h0m53 0h0m6 0h0m1 0h0m-83 1h0m81 0h0m9 0h0m-75 1h0m14 0h0m12 0h0m81 0h0m-125 1h0m20 0h0m6 0h0m53 0h0m12 0h0m-96 1h0m11 0h0m23 0h0m61 0h0m8 0h0m-66 2h0m17 0h0m36 0h0m-87 1h0m7 0h0m16 0h0m1 0h0m7 0h0m4 0h0m45 0h0m-60 1h0m29 0h0m32 0h0m2 0h0m-56 1h0m27 0h0m29 0h0m7 0h0m-63 1h0m9 0h0m9 0h0m6 0h0m4 0h0m21 0h0m-56 1h0m12 0h0m7 0h0m-29 1h0m17 0h0m8 0h0m48 0h0m-53 1h0m17 0h0m32 0h0m3 0h0m4 0h0m-68 1h0m5 0h0m3 0h0m1 0h0m15 0h0m46 0h0m-67 1h0m14 0h0m40 0h0m3 0h0m8 0h0m-60 1h0m17 0h0m3 0h0m-52 1h0m41 0h0m4 0h0m40 0h0m-54 1h0m75 0h0m-84 1h0m21 0h0m7 0h0m5 0h0m34 0h0m14 0h0m-90 1h0m12 0h0m14 0h0m2 0h0m42 0h0m-66 1h0m30 0h0m19 0h0m5 0h0m-9 1h0m29 0h0m-75 1h0m31 0h0m4 0h0m1 0h0m4 0h0m6 0h0m5 0h0m6 0h0m8 0h0m6 0h0m6 0h0m-15 1h0m-37 1h0m28 0h0m-38 1h0m16 0h0m2 0h0m9 0h0m2 0h0m7 0h0m15 0h0m6 0h0m7 0h0m-94 1h0m50 0h0m17 1h0m5 0h0m5 0h0m85 0h0m-122 1h0m1 0h0m10 0h0m9 0h0m2 0h0m12 0h0m32 0h0m-83 1h0m12 0h0m20 0h0m19 0h0m-38 1h0m15 0h0m16 0h0m7 0h0m-50 1h0m23 0h0m1 0h0m5 0h0m4 0h0m3 0h0m3 0h0m14 0h0m-48 1h0m21 0h0m13 0h0m21 0h0m18 0h0m-56 1h0m6 0h0m14 0h0m16 0h0m-53 1h0m28 0h0m-17 1h0m12 0h0m10 0h0m-5 1h0m-43 1h0m14 0h0m47 1h0m7 0h0m-32 1h0m6 0h0m6 0h0m21 1h0m10 1h0m-33 1h0m6 0h0m4 4h0m5 0h0m-48 1h0"/><path stroke="rgb(80,80,252)" stroke-width="1.8" d="M1063 220h0m5 0h0m-3 1h0m-3 1h0m5 0h0m3 0h0m2 0h0m-11 1h0m16 0h0m-20 1h0m1 0h0m4 0h0m12 0h0m-19 1h0m0 2h0m22 0h0m0 1h0m-23 1h0m27 0h0m-34 1h0m29 0h0m-33 1h0m1 0h0m34 0h0m-5 1h0m-32 1h0m29 1h0m4 0h0m-41 2h0m-3 1h0m34 0h0m4 0h0m-34 1h0m3 0h0m-8 1h0m-4 1h0m32 0h0m7 0h0m1 1h0m-37 1h0m36 0h0m-43 1h0m3 0h0m32 0h0m-36 1h0m34 0h0m-2 2h0m-1 2h0m-32 1h0m1 0h0m25 0h0m2 0h0m-29 1h0m-4 1h0m34 0h0m2 0h0m-1 1h0m-7 1h0m8 0h0m-38 1h0m-5 1h0m0 1h0m4 0h0m1 0h0m-4 1h0m-7 1h0m4 0h0m5 0h0m1 0h0m2 0h0m20 0h0m-24 1h0m9 0h0m7 0h0m8 0h0m-32 1h0m3 0h0m28 0h0m1 0h0m-31 1h0m4 0h0m2 0h0m21 0h0m-33 1h0m11 0h0m20 0h0m-34 1h0m41 0h0m-37 1h0m5 0h0m7 0h0m1 0h0m13 0h0m8 0h0m2 0h0m-35 1h0m4 0h0m25 0h0m6 0h0m-4 1h0m1 0h0m-33 1h0m-9 1h0m3 0h0m2 0h0m5 0h0m-8 1h0m8 0h0m2 0h0m-19 1h0m12 0h0m36 0h0m-41 1h0m5 0h0m-10 1h0m1 1h0m3 0h0m-5 1h0m8 0h0m-4 2h0m4 0h0m44 0h0m-51 1h0m2 0h0m43 0h0m2 0h0m2 0h0m3 0h0m-52 1h0m7 0h0m30 0h0m16 0h0m-56 1h0m1 0h0m46 0h0m-58 1h0m2 0h0m14 0h0m39 0h0m3 0h0m-54 1h0m5 0h0m1 0h0m8 0h0m30 0h0m10 0h0m-57 1h0m9 0h0m-4 1h0m55 0h0m-62 1h0m2 0h0m3 0h0m5 0h0m49 0h0m-70 1h0m1 0h0m1 0h0m8 0h0m1 0h0m8 0h0m44 0h0m2 0h0m-65 1h0m13 0h0m2 0h0m-12 1h0m8 0h0m15 0h0m34 0h0m-63 1h0m7 0h0m1 0h0m8 0h0m2 0h0m-16 1h0m6 0h0m7 0h0m47 0h0m10 0h0m-68 1h0m6 0h0m50 0h0m1 0h0m-59 1h0m6 0h0m59 0h0m-48 1h0m41 0h0m-55 1h0m1 0h0m6 0h0m9 0h0m-21 1h0m2 0h0m4 0h0m-15 1h0m10 0h0m3 0h0m10 0h0m1 0h0m2 0h0m-29 1h0m1 0h0m20 0h0m7 0h0m47 0h0m3 0h0m-83 1h0m26 0h0m2 0h0m1 0h0m43 0h0m2 0h0m4 0h0m2 0h0m-40 1h0m32 0h0m-46 1h0m6 0h0m36 0h0m-38 1h0m1 0h0m44 0h0m-41 1h0m38 0h0m-52 1h0m10 0h0m9 0h0m28 0h0m-48 1h0m11 0h0m5 0h0m-5 1h0m3 0h0m30 0h0m1 0h0m10 0h0m-59 1h0m5 0h0m10 0h0m5 0h0m28 0h0m1 0h0m7 0h0m-45 1h0m4 0h0m37 0h0m-42 1h0m28 0h0m5 0h0m5 0h0m8 0h0m-36 1h0m17 0h0m-29 1h0m10 0h0m16 0h0m6 0h0m13 0h0m-46 1h0m2 0h0m3 0h0m1 0h0m3 0h0m3 0h0m32 0h0m2 0h0m-18 1h0m3 0h0m-16 1h0m1 0h0m-16 1h0m5 0h0m1 0h0m36 0h0m-44 1h0m12 0h0m3 0h0m4 0h0m16 0h0m12 0h0m1 0h0m-45 1h0m6 0h0m3 0h0m26 0h0m3 0h0m3 0h0m5 0h0m-44 1h0m3 0h0m6 0h0m28 0h0m5 0h0m-36 1h0m8 0h0m22 0h0m5 0h0m-36 1h0m8 0h0m3 0h0m17 0h0m-32 1h0m4 0h0m10 0h0m3 0h0m2 0h0m6 0h0m7 0h0m3 0h0m-30 1h0m7 0h0m12 0h0m3 0h0m-29 1h0m3 0h0m5 0h0m2 0h0m2 0h0m9 0h0m16 0h0m1 0h0m2 0h0m3 0h0m-40 1h0m19 0h0m20 0h0m2 0h0m-42 1h0m1 0h0m3 0h0m1 0h0m1 0h0m1 0h0m17 0h0m3 0h0m6 0h0m3 0h0m-15 1h0m9 0h0m6 0h0m-34 1h0m4 0h0m3 0h0m21 0h0m2 0h0m7 0h0m-13 1h0m1 0h0m3 0h0m-28 1h0m12 0h0m8 0h0m12 0h0m-18 1h0m3 0h0m2 0h0m17 0h0m1 1h0m-25 1h0m2 0h0m13 0h0m1 0h0m6 0h0m-19 1h0m6 0h0m6 0h0m5 0h0m-6 1h0m4 0h0m1 0h0m4 0h0m-22 1h0m2 0h0m-1 1h0m2 0h0m7 0h0m1 0h0m1 0h0m9 0h0m3 0h0m-26 1h0m2 0h0m7 0h0m4 0h0m4 0h0m3 0h0m-17 1h0m15 0h0m2 0h0m2 0h0m1 0h0m2 0h0m-29 2h0m22 0h0m-21 1h0m-2 1h0m12 2h0"/><path stroke="rgb(25,25,255)" stroke-width="1.8" d="M1065 222h0m-2 1h0m3 0h0m5 0h0m5 0h0m-11 2h0m6 0h0m2 0h0m0 1h0m6 0h0m-6 1h0m3 0h0m-18 1h0m18 0h0m-23 1h0m16 0h0m6 0h0m-27 1h0m8 0h0m9 0h0m8 0h0m-23 1h0m19 0h0m4 0h0m-28 1h0m4 0h0m22 0h0m5 0h0m-33 1h0m2 0h0m22 0h0m1 0h0m-4 1h0m-23 1h0m1 0h0m-5 1h0m3 0h0m4 0h0m-7 1h0m3 0h0m19 0h0m7 0h0m-28 1h0m4 0h0m-11 1h0m8 0h0m23 0h0m1 0h0m3 0h0m-5 1h0m-31 1h0m1 0h0m-7 1h0m2 0h0m1 0h0m30 0h0m3 0h0m-32 2h0m23 0h0m-1 1h0m-29 1h0m2 0h0m1 1h0m-5 1h0m28 2h0m-31 1h0m7 0h0m18 0h0m-19 1h0m-5 1h0m-2 1h0m2 0h0m1 0h0m4 0h0m1 0h0m14 0h0m-1 1h0m1 0h0m-23 2h0m1 0h0m19 0h0m-20 1h0m13 0h0m2 0h0m-21 1h0m15 0h0m-7 1h0m11 0h0m7 0h0m-14 1h0m7 0h0m-14 1h0m5 0h0m12 0h0m0 1h0m-14 1h0m14 0h0m-7 1h0m2 0h0m-13 1h0m4 0h0m4 0h0m1 0h0m-18 1h0m1 0h0m1 0h0m15 0h0m6 0h0m3 0h0m-27 1h0m2 0h0m21 1h0m2 0h0m-29 1h0m2 0h0m25 1h0m-34 1h0m6 0h0m3 1h0m17 0h0m-25 1h0m2 0h0m30 0h0m2 0h0m-42 1h0m7 0h0m32 0h0m4 1h0m-40 1h0m3 0h0m35 0h0m1 0h0m-5 1h0m4 0h0m-32 1h0m27 0h0m2 0h0m-39 1h0m6 0h0m26 0h0m-33 1h0m7 0h0m2 0h0m24 0h0m11 0h0m-44 1h0m2 0h0m9 1h0m23 0h0m-36 1h0m4 0h0m28 0h0m6 0h0m-35 1h0m4 0h0m1 0h0m2 0h0m20 0h0m1 1h0m1 0h0m-36 1h0m8 0h0m4 0h0m30 0h0m-43 1h0m2 0h0m2 0h0m3 0h0m-7 1h0m35 0h0m-35 1h0m5 1h0m5 0h0m-28 1h0m6 0h0m2 0h0m10 0h0m1 0h0m20 0h0m-32 1h0m45 0h0m1 0h0m2 0h0m-45 1h0m10 0h0m0 1h0m8 0h0m26 0h0m-44 1h0m12 0h0m27 0h0m-3 1h0m2 0h0m5 0h0m-31 1h0m21 0h0m8 0h0m4 0h0m-9 1h0m6 0h0m3 0h0m-46 1h0m12 0h0m23 0h0m7 0h0m-31 1h0m3 0h0m1 0h0m17 0h0m6 0h0m-31 1h0m5 0h0m1 0h0m24 0h0m8 0h0m-41 1h0m3 0h0m3 0h0m21 0h0m8 0h0m-28 1h0m12 1h0m3 0h0m3 0h0m-23 1h0m3 0h0m9 0h0m-11 1h0m5 0h0m-4 1h0m1 0h0m1 0h0m4 0h0m5 0h0m-20 1h0m2 0h0m15 0h0m-5 2h0m0 1h0m1 0h0m1 0h0m-6 1h0m5 0h0m6 0h0m2 0h0m1 0h0m-8 1h0m2 0h0m4 0h0m-2 1h0m8 0h0m-9 1h0m2 0h0m3 0h0m4 0h0m12 0h0m-24 1h0m4 0h0m3 0h0m3 0h0m1 0h0m2 0h0m-6 1h0m4 0h0m1 0h0m-6 1h0m2 0h0m9 0h0m0 1h0m1 0h0m-10 1h0m0 1h0m5 1h0m-6 1h0m0 1h0m6 0h0m4 0h0m2 0h0m-7 1h0m-5 1h0m9 0h0m-12 2h0m7 0h0m6 0h0m-15 1h0m2 0h0m1 0h0m2 0h0m2 0h0m6 0h0m-16 1h0m16 0h0m-9 1h0m-2 1h0m1 0h0m2 1h0m7 0h0m-7 1h0m1 1h0"/><path stroke="rgb(0,0,220)" stroke-width="1.8" d="M1063 225h0m6 0h0m-9 1h0m2 0h0m6 0h0m1 0h0m-10 1h0m5 0h0m-5 1h0m2 1h0m-1 1h0m15 0h0m-23 2h0m7 0h0m-11 1h0m-3 1h0m4 0h0m16 0h0m-2 2h0m3 0h0m-21 1h0m3 0h0m12 1h0m-24 1h0m10 0h0m-17 2h0m3 0h0m5 0h0m18 0h0m-19 1h0m10 0h0m10 0h0m-11 1h0m10 0h0m-30 1h0m4 0h0m13 0h0m6 0h0m-1 1h0m-22 1h0m3 0h0m9 0h0m6 0h0m4 1h0m-4 2h0m-24 1h0m19 1h0m2 0h0m3 0h0m-12 1h0m-11 2h0m7 0h0m12 0h0m-22 1h0m10 0h0m-5 1h0m4 0h0m6 0h0m-8 1h0m2 0h0m-9 1h0m6 2h0m-6 2h0m3 0h0m5 0h0m-18 3h0m8 0h0m1 0h0m3 0h0m-6 1h0m-6 1h0m1 0h0m-2 1h0m10 0h0m-6 1h0m9 0h0m1 0h0m3 1h0m1 0h0m-17 1h0m11 0h0m-17 1h0m14 0h0m6 1h0m-9 4h0m-1 1h0m5 0h0m-24 2h0m4 0h0m-3 1h0m13 0h0m7 0h0m0 1h0m-30 1h0m26 0h0m-21 1h0m4 0h0m4 0h0m17 0h0m2 1h0m-26 1h0m-3 1h0m3 0h0m22 0h0m-31 1h0m4 0h0m29 0h0m1 0h0m-36 1h0m4 0h0m8 0h0m15 1h0m2 0h0m5 0h0m-34 2h0m28 0h0m2 0h0m1 0h0m-33 1h0m5 0h0m6 0h0m-9 1h0m3 0h0m20 0h0m2 1h0m4 0h0m-25 1h0m22 0h0m-14 2h0m12 0h0m-4 1h0m-9 1h0m3 1h0m11 0h0m-9 1h0m1 0h0m-16 1h0m10 0h0m7 0h0m-15 1h0m11 0h0m1 0h0m-23 1h0m14 0h0m6 0h0m-17 1h0m8 0h0m1 0h0m3 0h0m1 0h0m4 0h0m-15 1h0m8 0h0m-1 1h0m-2 2h0m4 0h0m-3 1h0m-3 3h0m7 2h0m2 1h0"/><path stroke="rgb(0,140,255)" stroke-width="1.8" d="M1070 225h0m-4 1h0m4 0h0m2 0h0m-10 1h0m8 0h0m2 0h0m-9 1h0m8 0h0m-16 1h0m9 0h0m3 0h0m-13 2h0m5 0h0m2 0h0m-8 1h0m2 0h0m14 0h0m-21 2h0m7 0h0m-11 1h0m18 0h0m-10 2h0m9 0h0m-18 1h0m2 0h0m12 0h0m2 0h0m-7 1h0m7 0h0m-18 1h0m17 0h0m-11 1h0m2 0h0m5 0h0m-1 1h0m-3 1h0m-6 1h0m-16 1h0m10 0h0m8 0h0m-7 1h0m5 0h0m1 0h0m-22 2h0m9 0h0m6 0h0m-13 1h0m-1 1h0m16 0h0m1 0h0m-22 1h0m17 1h0m3 0h0m1 0h0m-5 2h0m-16 1h0m1 0h0m13 0h0m-2 1h0m-13 1h0m6 1h0m-4 1h0m-1 1h0m2 0h0m3 0h0m-5 1h0m7 1h0m-11 2h0m-2 1h0m0 2h0m2 0h0m10 0h0m-18 1h0m7 0h0m-6 1h0m-2 1h0m10 0h0m1 0h0m-13 1h0m4 0h0m13 0h0m-9 1h0m4 0h0m6 0h0m1 0h0m-24 1h0m23 0h0m2 0h0m-27 1h0m19 1h0m-21 2h0m18 0h0m4 0h0m4 0h0m3 0h0m-31 1h0m2 0h0m1 0h0m1 0h0m26 0h0m-28 2h0m21 1h0m-22 2h0m21 1h0m-23 1h0m4 1h0m5 0h0m-19 1h0m24 0h0m3 0h0m-27 3h0m-1 1h0m24 0h0m-4 2h0m1 0h0m3 0h0m1 0h0m-27 1h0m1 0h0m3 0h0m-1 1h0m4 1h0m-3 1h0m5 0h0m12 0h0m-17 1h0m3 2h0m8 0h0m3 0h0m-14 1h0m6 0h0m-7 1h0m-4 1h0m6 0h0m2 1h0m-6 2h0m9 0h0m-9 5h0m-1 2h0"/><path stroke="rgb(0,215,230)" stroke-width="1.8" d="M1065 227h0m9 0h0m-6 1h0m2 0h0m-12 2h0m5 0h0m-3 1h0m5 0h0m-3 1h0m4 0h0m-12 1h0m6 0h0m1 0h0m-11 2h0m4 0h0m2 0h0m3 1h0m-20 2h0m12 0h0m1 0h0m4 0h0m-13 2h0m1 0h0m2 0h0m5 0h0m1 0h0m-13 1h0m1 0h0m2 0h0m4 0h0m-9 1h0m2 0h0m5 0h0m-9 1h0m4 0h0m10 0h0m-17 1h0m2 0h0m0 1h0m1 1h0m-6 1h0m12 0h0m0 1h0m1 0h0m-19 1h0m4 0h0m1 0h0m8 0h0m5 0h0m-18 1h0m5 0h0m8 0h0m-12 1h0m15 0h0m-18 2h0m5 0h0m-2 1h0m-6 1h0m10 0h0m-7 1h0m1 3h0m-5 8h0m-12 1h0m5 0h0m3 0h0m6 2h0m2 0h0m-12 1h0m2 0h0m-9 1h0m-1 1h0m2 0h0m3 0h0m-7 1h0m1 0h0m18 0h0m5 0h0m-22 1h0m13 0h0m5 0h0m-22 1h0m4 0h0m10 0h0m4 0h0m2 0h0m-20 1h0m14 0h0m5 0h0m-18 1h0m10 0h0m7 1h0m-13 1h0m6 0h0m-13 1h0m10 0h0m3 0h0m3 1h0m1 1h0m-17 1h0m-4 2h0m1 0h0m13 0h0m1 0h0m2 0h0m-18 1h0m7 0h0m7 0h0m6 1h0m-29 1h0m5 0h0m5 0h0m8 0h0m6 0h0m-11 1h0m-16 1h0m9 0h0m7 0h0m2 0h0m-11 1h0m4 0h0m15 0h0m-5 2h0m-7 1h0m5 0h0m4 0h0m-17 1h0m9 0h0m6 0h0m-14 1h0m4 0h0m0 1h0m9 0h0m-14 2h0m1 0h0m0 1h0m1 0h0m9 0h0m-11 1h0m9 0h0"/><path stroke="rgb(0,235,120)" stroke-width="1.8" d="M1068 227h0m-1 1h0m-9 1h0m1 0h0m3 1h0m-2 2h0m1 0h0m2 0h0m1 0h0m3 0h0m-14 1h0m-2 1h0m2 0h0m4 0h0m-6 1h0m1 0h0m8 0h0m-3 1h0m-9 2h0m-6 1h0m5 1h0m1 1h0m-10 1h0m4 0h0m5 0h0m5 0h0m-10 1h0m-2 1h0m-9 1h0m2 0h0m2 0h0m1 0h0m3 0h0m-6 1h0m1 0h0m-6 1h0m3 0h0m4 0h0m-4 2h0m7 1h0m-10 1h0m5 0h0m3 0h0m2 1h0m-15 1h0m1 0h0m4 0h0m3 0h0m1 1h0m-10 4h0m0 2h0m-9 9h0m-6 1h0m3 1h0m5 0h0m-4 1h0m7 0h0m2 0h0m-13 1h0m1 0h0m-2 1h0m14 0h0m-22 1h0m0 1h0m11 1h0m-10 1h0m1 0h0m2 0h0m10 0h0m-8 1h0m-3 2h0m6 0h0m-11 2h0m9 0h0m-8 1h0m1 0h0m-4 1h0m4 0h0m7 0h0m-11 1h0m0 1h0m6 0h0m7 0h0m-6 1h0m-3 1h0m3 0h0m7 0h0m-29 1h0m5 1h0m4 0h0m2 0h0m8 0h0m3 0h0m-17 1h0m3 0h0m8 0h0m-16 1h0m9 0h0m12 0h0m-16 1h0m6 0h0m8 0h0m-14 1h0m1 1h0m7 0h0m2 0h0m1 0h0m2 0h0m1 0h0m-12 1h0m-2 1h0m9 0h0m1 0h0m-7 1h0m5 0h0m-8 2h0m9 0h0m-2 1h0m-3 1h0m-4 1h0"/><path stroke="rgb(30,240,30)" stroke-width="1.8" d="M1059 233h0m-9 1h0m8 0h0m2 0h0m-7 1h0m-1 1h0m-3 1h0m1 0h0m5 0h0m-5 1h0m3 1h0m-14 1h0m4 1h0m-3 2h0m-1 1h0m-7 3h0m7 0h0m1 0h0m-12 1h0m4 1h0m-6 1h0m1 0h0m5 0h0m-5 1h0m2 1h0m0 2h0m-17 15h0m-7 2h0m15 0h0m-6 2h0m-13 1h0m1 0h0m1 0h0m2 0h0m3 0h0m1 0h0m7 0h0m-17 1h0m3 0h0m4 0h0m1 0h0m5 0h0m5 0h0m3 0h0m-24 1h0m11 0h0m1 0h0m6 0h0m-11 1h0m7 0h0m-3 1h0m-9 1h0m7 0h0m-1 1h0m5 0h0m-11 1h0m6 1h0m-2 1h0m5 0h0m-4 2h0m3 0h0m-7 1h0m1 0h0m9 0h0m-14 1h0m0 1h0m8 0h0m4 0h0m-14 1h0m1 0h0m9 0h0m3 0h0m-23 1h0m7 0h0m5 0h0m6 0h0m5 0h0m-15 1h0m9 0h0m4 0h0m-15 2h0m1 0h0m1 0h0m3 0h0m-5 3h0m7 1h0m1 0h0m-9 1h0m6 1h0m3 0h0"/><path stroke="rgb(180,245,0)" stroke-width="1.8" d="M1052 233h0m-1 3h0m0 5h0m-9 4h0m0 1h0m0 1h0m-11 1h0m-2 1h0m4 1h0m-2 1h0m-1 1h0m-1 1h0m1 0h0m2 0h0m-10 4h0m-10 13h0m3 0h0m-2 2h0m-9 3h0m7 0h0m2 1h0m-12 1h0m4 0h0m-4 1h0m7 1h0m-7 1h0m9 0h0m2 0h0m-11 2h0m-3 1h0m7 1h0m-5 1h0m1 0h0m1 3h0m-10 1h0m12 0h0m-7 2h0m2 0h0m-7 2h0m0 1h0m2 0h0m-4 3h0m0 3h0m-2 4h0"/><path stroke="rgb(255,200,0)" stroke-width="1.8" d="M1049 238h0m-13 10h0m-6 2h0m-1 1h0m3 0h0m-2 3h0m-20 22h0m2 0h0m-9 2h0m-3 1h0m-1 1h0m7 0h0m-8 2h0m2 0h0m3 0h0m0 2h0m1 0h0m-7 1h0m5 4h0m-9 4h0m6 0h0m-6 1h0m3 0h0m-1 3h0m3 0h0m-8 2h0"/><path stroke="rgb(255,70,0)" stroke-width="1.8" d="M1062 231h0m-31 19h0m3 0h0m3 0h0m-10 3h0m-21 23h0m-2 1h0m-1 2h0m3 0h0m1 0h0m0 1h0m-10 1h0m4 2h0m-1 1h0m1 0h0m-6 9h0m-1 4h0m-3 1h0m5 0h0"/><path stroke="rgb(140,140,250)" stroke-width="1.8" d="M298 686h0m22 4h0m-52 3h0m-21 2h0m24 1h0m-39 6h0m15 1h0m-6 1h0m9 0h0m7 1h0m3 0h0m6 0h0m5 0h0m-84 4h0m23 0h0m-20 2h0m48 0h0m25 0h0m-34 1h0m13 0h0m-5 1h0m22 0h0m-28 1h0m13 0h0m21 0h0m-115 1h0m118 0h0m13 0h0m-60 1h0m23 0h0m2 1h0m-110 1h0m91 1h0m9 0h0m6 0h0m28 0h0m-39 1h0m-63 1h0m41 0h0m2 0h0m12 0h0m9 0h0m4 0h0m11 0h0m14 0h0m-30 1h0m14 0h0m10 0h0m-33 1h0m20 0h0m7 0h0m-87 1h0m49 0h0m8 0h0m39 0h0m-39 1h0m10 0h0m31 0h0m-58 1h0m41 0h0m3 0h0m11 0h0m-34 1h0m48 0h0m7 0h0m-141 1h0m92 0h0m9 0h0m51 0h0m-149 1h0m-20 1h0m105 0h0m21 0h0m8 0h0m-40 1h0m42 0h0m-46 1h0m47 0h0m3 0h0m-135 1h0m89 0h0m34 0h0m-48 1h0m7 0h0m39 0h0m-129 1h0m76 0h0m23 0h0m-73 1h0m72 0h0m23 0h0m-138 1h0m68 0h0m33 0h0m50 0h0m2 0h0m10 0h0m-151 1h0m69 0h0m73 0h0m-94 1h0m11 0h0m18 0h0m-26 1h0m25 0h0m8 1h0m58 0h0m-113 1h0m2 0h0m42 0h0m13 0h0m6 0h0m6 0h0m49 0h0m44 0h0m-131 1h0m9 0h0m12 0h0m53 0h0m26 0h0m-134 1h0m1 0h0m59 0h0m-38 1h0m22 0h0m69 0h0m3 0h0m-120 1h0m23 0h0m4 0h0m29 0h0m-88 1h0m97 0h0m55 0h0m-158 1h0m30 0h0m69 0h0m52 0h0m12 0h0m-165 1h0m25 0h0m62 0h0m1 0h0m2 0h0m13 0h0m-105 1h0m44 0h0m44 0h0m64 0h0m-92 1h0m100 0h0m-124 1h0m12 0h0m25 0h0m17 0h0m68 0h0m-83 1h0m19 0h0m1 0h0m3 0h0m61 0h0m-154 1h0m253 0h0m-192 1h0m32 0h0m58 0h0m6 0h0m-117 1h0m3 0h0m27 0h0m10 0h0m69 0h0m-113 1h0m9 0h0m37 0h0m71 0h0m2 0h0m-127 1h0m17 0h0m29 0h0m7 0h0m-89 1h0m30 0h0m33 0h0m13 0h0m6 0h0m19 0h0m-60 1h0m112 0h0m-99 1h0m8 0h0m16 0h0m78 0h0m-110 1h0m5 0h0m11 0h0m33 0h0m-24 1h0m3 0h0m3 0h0m73 0h0m3 0h0m-118 1h0m2 0h0m57 0h0m82 0h0m7 0h0m-167 1h0m9 0h0m5 0h0m3 0h0m9 0h0m13 0h0m8 0h0m5 0h0m-35 1h0m34 0h0m22 0h0m73 0h0m-150 1h0m7 0h0m14 0h0m9 0h0m22 0h0m8 0h0m-23 1h0m30 0h0m16 0h0m52 0h0m42 0h0m-169 1h0m12 0h0m5 0h0m21 0h0m-55 1h0m27 0h0m125 0h0m-109 1h0m10 0h0m5 0h0m4 0h0m12 0h0m7 0h0m56 0h0m29 0h0m32 0h0m-146 1h0m79 0h0m7 0h0m-105 1h0m2 0h0m106 0h0m4 0h0m2 0h0m-120 1h0m3 0h0m11 0h0m14 0h0m3 0h0m-41 1h0m15 0h0m8 0h0m1 0h0m10 0h0m90 1h0m4 0h0m-118 1h0m96 0h0m10 0h0m7 0h0m1 0h0m9 0h0m-140 1h0m38 0h0m82 0h0m-120 1h0m17 0h0m37 0h0m-34 1h0m4 0h0m30 0h0m68 0h0m7 0h0m-105 1h0m24 0h0m25 0h0m-76 1h0m14 0h0m19 0h0m1 0h0m4 0h0m104 0h0m-149 1h0m16 0h0m-1 1h0m11 0h0m6 0h0m4 0h0m1 0h0m84 0h0m4 0h0m-101 1h0m102 0h0m2 0h0m10 1h0m5 0h0m32 0h0m-162 1h0m1 0h0m10 0h0m-15 1h0m3 0h0m8 0h0m9 0h0m27 0h0m64 0h0m21 0h0m-132 1h0m5 0h0m16 0h0m33 0h0m74 0h0m-136 1h0m23 0h0m112 0h0m47 0h0m-62 1h0m25 0h0m-133 1h0m1 0h0m17 0h0m4 0h0m21 0h0m69 0h0m2 0h0m-103 1h0m28 0h0m-49 1h0m29 0h0m101 0h0m25 0h0m-113 1h0m77 0h0m3 0h0m12 0h0m10 0h0m-141 1h0m10 0h0m10 0h0m14 0h0m5 0h0m-42 1h0m7 0h0m117 0h0m13 0h0m-116 1h0m3 0h0m104 0h0m12 0h0m-108 1h0m2 0h0m86 0h0m-112 1h0m1 0h0m4 0h0m122 0h0m42 0h0m-164 1h0m6 0h0m10 0h0m90 0h0m4 0h0m23 0h0m-152 1h0m4 0h0m4 0h0m19 0h0m125 0h0m-151 1h0m16 0h0m9 0h0m29 0h0m78 0h0m12 0h0m-22 1h0m-118 1h0m129 0h0m1 0h0m2 0h0m3 0h0m13 0h0m4 0h0m-145 1h0m5 0h0m12 0h0m100 0h0m17 0h0m-122 1h0m113 0h0m4 0h0m-134 1h0m10 0h0m85 0h0m15 0h0m2 0h0m3 0h0m-113 1h0m6 0h0m1 0h0m19 0h0m94 0h0m-117 1h0m29 0h0m95 0h0m-136 1h0m6 0h0m1 0h0m19 0h0m8 0h0m-33 1h0m102 0h0m8 0h0m11 0h0m27 0h0m33 0h0m-175 1h0m2 0h0m125 0h0m7 0h0m46 0h0m-182 1h0m8 0h0m7 0h0m7 0h0m101 0h0m3 0h0m25 0h0m4 0h0m-128 1h0m83 0h0m32 0h0m1 0h0m-148 1h0m5 0h0m14 0h0m114 0h0m1 0h0m-126 1h0m13 0h0m90 0h0m10 0h0m5 0h0m4 0h0m32 0h0m-134 1h0m64 0h0m22 0h0m3 0h0m13 0h0m-130 1h0m22 0h0m101 0h0m56 0h0m-179 1h0m1 0h0m7 0h0m103 0h0m62 0h0m-168 1h0m108 0h0m13 0h0m-114 1h0m109 0h0m12 0h0m25 0h0m-149 1h0m90 0h0m32 0h0m-126 1h0m2 0h0m9 0h0m106 0h0m25 0h0m-137 1h0m52 0h0m86 0h0m-120 1h0m67 0h0m13 0h0m13 0h0m43 0h0m-157 1h0m111 0h0m-88 1h0m91 0h0m4 0h0m30 0h0m-141 1h0m12 0h0m100 0h0m28 0h0m-141 1h0m28 0h0m51 0h0m40 0h0m-129 1h0m6 0h0m3 0h0m93 0h0m9 0h0m9 0h0m-119 1h0m10 0h0m107 0h0m15 0h0m-131 1h0m15 0h0m12 0h0m139 0h0m-82 1h0m20 0h0m6 0h0m2 0h0m2 0h0m1 0h0m3 0h0m3 0h0m2 0h0m-122 1h0m102 0h0m7 0h0m8 0h0m-106 1h0m6 0h0m108 0h0m-120 1h0m44 0h0m43 0h0m6 0h0m36 0h0m-132 1h0m14 0h0m89 0h0m13 0h0m-110 1h0m3 0h0m67 0h0m27 0h0m-109 1h0m20 0h0m15 0h0m82 0h0m16 0h0m44 0h0m-165 1h0m22 0h0m75 0h0m-60 1h0m53 0h0m1 0h0m5 0h0m-107 1h0m32 0h0m14 0h0m65 0h0m2 0h0m21 0h0m-133 1h0m3 0h0m13 0h0m1 0h0m7 0h0m22 0h0m9 1h0m23 0h0m36 0h0m14 0h0m-128 1h0m3 0h0m6 0h0m4 0h0m85 0h0m41 0h0m15 0h0m-155 1h0m10 0h0m60 0h0m93 0h0m-156 1h0m10 0h0m51 0h0m45 0h0m11 0h0m-120 1h0m10 0h0m27 0h0m47 0h0m14 0h0m-99 1h0m9 0h0m18 0h0m40 0h0m14 0h0m18 0h0m-83 1h0m1 0h0m2 0h0m16 0h0m28 0h0m10 0h0m7 0h0m13 0h0m28 0h0m21 0h0m-141 1h0m1 0h0m94 0h0m12 0h0m15 0h0m7 0h0m-123 1h0m3 0h0m8 0h0m32 0h0m8 0h0m7 0h0m21 0h0m5 0h0m38 0h0m-124 1h0m41 0h0m30 0h0m41 0h0m4 0h0m-120 1h0m8 0h0m2 0h0m4 0h0m36 0h0m20 0h0m30 0h0m-61 1h0m11 0h0m7 0h0m24 0h0m13 0h0m2 0h0m2 0h0m6 0h0m-94 1h0m10 0h0m32 0h0m4 0h0m12 0h0m13 0h0m14 0h0m-67 1h0m36 0h0m17 0h0m-63 1h0m3 0h0m6 0h0m39 0h0m13 0h0m14 0h0m2 0h0m10 0h0m4 0h0m-106 1h0m14 0h0m25 0h0m15 0h0m3 0h0m4 0h0m9 0h0m4 0h0m13 0h0m-95 1h0m9 0h0m10 0h0m16 0h0m9 0h0m34 0h0m19 0h0m9 0h0m4 0h0m-109 1h0m24 0h0m25 0h0m6 0h0m28 0h0m5 0h0m2 0h0m-64 1h0m3 0h0m8 0h0m3 0h0m32 0h0m23 0h0m7 0h0m20 0h0m21 0h0m-146 1h0m7 0h0m16 0h0m14 0h0m6 0h0m9 0h0m18 0h0m1 0h0m2 0h0m3 0h0m8 0h0m-48 1h0m12 0h0m18 0h0m53 0h0m-30 1h0m3 0h0m17 0h0m-85 1h0m25 0h0m11 0h0m4 0h0m14 0h0m77 0h0m-143 1h0m3 0h0m18 0h0m25 0h0m8 0h0m19 0h0m3 0h0m68 0h0m-75 1h0m5 0h0m6 0h0m48 0h0m17 0h0m-133 1h0m35 0h0m19 0h0m23 0h0m-89 1h0m17 0h0m1 0h0m4 0h0m2 0h0m9 0h0m40 0h0m-72 1h0m17 0h0m21 0h0m8 0h0m4 0h0m50 0h0"/><path stroke="rgb(80,80,252)" stroke-width="1.8" d="M244 718h0m-5 1h0m5 0h0m-15 5h0m11 0h0m-3 1h0m5 0h0m-12 1h0m8 1h0m-15 1h0m21 0h0m-18 1h0m1 0h0m13 0h0m4 0h0m-11 1h0m15 0h0m-9 1h0m3 0h0m-19 1h0m0 1h0m13 0h0m-16 1h0m22 0h0m5 0h0m2 0h0m-29 3h0m9 0h0m16 0h0m-28 1h0m26 0h0m4 0h0m-1 1h0m-32 1h0m3 0h0m32 0h0m1 1h0m-37 1h0m36 0h0m-48 1h0m18 0h0m16 0h0m-33 1h0m10 0h0m-10 1h0m46 0h0m4 0h0m-43 1h0m-5 1h0m39 0h0m1 0h0m-44 1h0m1 1h0m-5 2h0m10 0h0m10 1h0m19 1h0m5 0h0m-48 1h0m6 0h0m41 0h0m-43 1h0m42 0h0m-45 1h0m3 0h0m2 0h0m5 0h0m-8 1h0m44 0h0m1 0h0m-31 2h0m22 0h0m8 0h0m-67 1h0m62 0h0m-65 1h0m17 0h0m8 0h0m38 0h0m3 0h0m-56 1h0m26 0h0m-34 1h0m3 0h0m57 0h0m-58 1h0m5 0h0m49 0h0m-50 1h0m10 0h0m48 0h0m1 0h0m1 0h0m-62 1h0m1 0h0m15 0h0m41 0h0m-109 1h0m37 0h0m33 0h0m10 0h0m31 0h0m2 0h0m-74 1h0m1 0h0m2 0h0m41 0h0m29 0h0m-68 1h0m2 0h0m32 0h0m15 0h0m1 0h0m-55 1h0m7 0h0m18 0h0m43 0h0m-83 1h0m4 0h0m31 0h0m39 0h0m2 0h0m12 0h0m-72 1h0m4 0h0m1 0h0m14 0h0m-22 1h0m12 0h0m46 0h0m-60 1h0m2 0h0m60 0h0m3 0h0m-89 1h0m16 0h0m16 0h0m1 0h0m31 0h0m-60 1h0m11 0h0m7 0h0m11 0h0m7 0h0m2 0h0m-20 1h0m12 0h0m44 0h0m11 0h0m-91 1h0m5 0h0m11 0h0m2 0h0m11 0h0m7 0h0m7 0h0m-54 1h0m17 0h0m19 0h0m-30 1h0m4 0h0m14 0h0m8 0h0m18 0h0m1 0h0m9 0h0m38 0h0m2 0h0m-94 1h0m88 0h0m5 0h0m-84 1h0m-10 1h0m1 0h0m4 0h0m7 0h0m37 0h0m34 0h0m6 0h0m-47 1h0m42 0h0m-80 1h0m83 0h0m-60 1h0m1 0h0m-18 1h0m1 0h0m19 0h0m1 0h0m-30 1h0m3 0h0m2 0h0m-6 1h0m14 0h0m70 0h0m1 0h0m3 0h0m-90 1h0m21 0h0m13 0h0m51 0h0m-80 1h0m1 0h0m-10 2h0m15 0h0m-8 1h0m6 0h0m17 0h0m36 0h0m-65 1h0m2 0h0m18 0h0m4 0h0m30 0h0m10 0h0m19 0h0m-81 1h0m29 0h0m46 0h0m-73 1h0m81 0h0m-80 1h0m24 0h0m38 0h0m25 0h0m2 0h0m2 0h0m-96 1h0m1 0h0m15 0h0m-11 1h0m27 0h0m-28 1h0m5 0h0m4 0h0m1 0h0m2 0h0m4 0h0m62 0h0m3 0h0m1 0h0m4 0h0m1 0h0m-93 1h0m6 0h0m4 0h0m7 0h0m3 0h0m12 0h0m63 0h0m7 0h0m-60 1h0m41 0h0m4 0h0m-85 1h0m5 0h0m19 0h0m46 0h0m17 0h0m6 0h0m6 0h0m-90 1h0m17 0h0m41 0h0m6 0h0m18 0h0m-86 1h0m74 0h0m4 0h0m10 0h0m-85 1h0m3 0h0m2 0h0m65 0h0m-78 1h0m3 0h0m15 0h0m18 0h0m19 0h0m16 0h0m-65 1h0m13 0h0m1 0h0m8 0h0m28 0h0m31 0h0m-92 1h0m16 0h0m66 0h0m-82 1h0m2 0h0m9 0h0m10 0h0m-17 1h0m88 0h0m-92 1h0m3 0h0m12 0h0m16 0h0m37 0h0m11 0h0m4 0h0m19 0h0m-122 1h0m31 0h0m2 0h0m13 0h0m53 0h0m8 0h0m2 0h0m3 0h0m-22 1h0m-66 1h0m11 0h0m7 0h0m7 0h0m42 0h0m-30 1h0m18 0h0m19 0h0m-89 1h0m16 0h0m8 0h0m27 0h0m6 0h0m17 0h0m18 0h0m-90 1h0m15 0h0m29 0h0m38 0h0m2 0h0m4 0h0m-92 1h0m6 0h0m3 0h0m1 0h0m14 0h0m3 0h0m2 0h0m15 0h0m17 0h0m3 0h0m-66 1h0m5 0h0m5 0h0m10 0h0m5 0h0m13 0h0m32 0h0m20 0h0m-79 1h0m27 0h0m36 0h0m12 0h0m11 0h0m-96 1h0m13 0h0m17 0h0m3 0h0m13 0h0m37 0h0m7 0h0m2 0h0m2 0h0m2 0h0m-73 1h0m20 0h0m5 0h0m9 0h0m26 0h0m-77 1h0m11 0h0m24 0h0m38 0h0m23 0h0m-93 1h0m2 0h0m19 0h0m8 0h0m6 0h0m6 0h0m41 0h0m10 0h0m3 0h0m-95 1h0m12 0h0m2 0h0m54 0h0m10 0h0m13 0h0m1 0h0m8 0h0m-93 1h0m14 0h0m2 0h0m19 0h0m27 0h0m12 0h0m3 0h0m-81 1h0m72 0h0m8 0h0m4 0h0m8 0h0m-94 1h0m15 0h0m4 0h0m18 0h0m21 0h0m7 0h0m17 0h0m5 0h0m3 0h0m-89 1h0m3 0h0m42 0h0m23 0h0m2 0h0m1 0h0m8 0h0m-84 1h0m10 0h0m1 0h0m1 1h0m6 0h0m4 0h0m6 0h0m58 0h0m-89 1h0m4 0h0m14 0h0m6 0h0m12 0h0m29 0h0m14 0h0m-71 1h0m33 0h0m17 0h0m12 0h0m18 0h0m-86 1h0m2 0h0m18 0h0m5 0h0m14 0h0m2 0h0m21 0h0m25 0h0m-91 1h0m16 0h0m16 0h0m5 0h0m23 0h0m38 0h0m-83 1h0m13 0h0m42 0h0m-66 1h0m9 0h0m5 0h0m1 0h0m19 0h0m20 0h0m7 0h0m12 0h0m1 0h0m2 0h0m13 0h0m-83 1h0m2 0h0m2 0h0m49 0h0m10 0h0m2 0h0m-60 1h0m12 0h0m2 0h0m28 0h0m14 0h0m5 0h0m-69 1h0m2 0h0m15 0h0m19 0h0m3 0h0m12 0h0m2 0h0m9 0h0m8 0h0m5 0h0m1 0h0m-65 1h0m2 0h0m7 0h0m2 0h0m36 0h0m11 0h0m2 0h0m10 0h0m-56 1h0m7 0h0m1 0h0m8 0h0m25 0h0m9 0h0m4 0h0m1 0h0m-79 1h0m2 0h0m5 0h0m25 0h0m21 0h0m8 0h0m2 0h0m-46 1h0m14 0h0m13 0h0m23 0h0m-55 1h0m6 0h0m13 0h0m13 0h0m9 0h0m11 0h0m1 0h0m-52 1h0m25 0h0m4 0h0m15 0h0m1 0h0m3 0h0m1 0h0m-53 1h0m19 0h0m7 0h0m1 0h0m6 0h0m4 0h0m9 0h0m-67 1h0m31 0h0m17 0h0m6 0h0m1 0h0m12 0h0m-46 1h0m5 0h0m16 0h0m11 0h0m10 0h0m11 0h0m5 0h0m-57 1h0m1 0h0m4 0h0m12 0h0m18 0h0m14 0h0m4 0h0m-42 1h0m18 0h0m9 0h0m4 0h0m10 0h0m5 0h0m-54 1h0m4 0h0m-4 1h0m11 0h0m6 0h0m27 0h0m5 0h0m-41 1h0m1 0h0m6 0h0m2 0h0m4 0h0m13 0h0m7 0h0m1 0h0m-37 1h0m10 0h0m2 0h0m10 0h0m15 0h0m-35 1h0m6 0h0m37 0h0m6 0h0m-16 1h0m8 0h0m6 0h0m-10 1h0m-32 2h0m1 0h0m32 0h0m7 0h0m-38 1h0m-15 1h0m10 0h0m-11 2h0m55 1h0m-58 1h0m59 1h0"/><path stroke="rgb(25,25,255)" stroke-width="1.8" d="M231 723h0m10 0h0m-12 4h0m3 1h0m0 1h0m4 0h0m-7 3h0m7 0h0m1 2h0m7 0h0m0 1h0m-24 1h0m23 0h0m-18 2h0m20 0h0m-7 2h0m-6 1h0m19 0h0m-37 1h0m28 0h0m-18 1h0m3 0h0m4 0h0m7 0h0m-3 1h0m3 0h0m4 0h0m6 0h0m-28 1h0m7 0h0m16 0h0m1 1h0m-41 1h0m3 0h0m1 0h0m18 0h0m12 0h0m-36 1h0m10 0h0m10 0h0m20 0h0m4 0h0m-4 1h0m-13 2h0m-31 2h0m8 0h0m34 0h0m-35 1h0m4 0h0m24 0h0m-31 1h0m13 0h0m-3 2h0m-18 1h0m4 2h0m2 0h0m33 2h0m-18 1h0m20 0h0m-46 1h0m13 0h0m28 0h0m1 0h0m-59 1h0m12 0h0m2 0h0m6 0h0m6 0h0m28 0h0m3 0h0m-29 1h0m-14 1h0m9 0h0m1 0h0m18 1h0m7 0h0m3 0h0m4 0h0m-40 1h0m12 0h0m9 0h0m-36 1h0m5 0h0m3 0h0m5 0h0m37 0h0m-27 1h0m24 0h0m-42 1h0m4 0h0m18 0h0m12 0h0m-38 1h0m46 0h0m-39 1h0m2 0h0m28 0h0m-39 1h0m0 1h0m8 0h0m9 0h0m22 0h0m1 0h0m-64 1h0m16 0h0m9 0h0m2 0h0m32 0h0m12 1h0m-73 1h0m6 0h0m8 0h0m2 0h0m2 0h0m7 0h0m41 0h0m2 0h0m3 0h0m-72 1h0m-6 1h0m57 0h0m-42 1h0m10 0h0m42 0h0m-61 1h0m15 0h0m47 0h0m-62 1h0m4 0h0m7 0h0m6 0h0m12 0h0m34 0h0m-44 1h0m-27 1h0m4 0h0m8 0h0m16 0h0m9 0h0m7 0h0m-17 1h0m16 0h0m-40 1h0m19 0h0m12 0h0m24 0h0m-57 1h0m12 0h0m4 0h0m6 0h0m44 0h0m-44 1h0m-26 1h0m21 0h0m8 0h0m6 0h0m-31 1h0m27 0h0m18 1h0m12 0h0m8 0h0m4 0h0m-70 1h0m3 0h0m5 0h0m20 0h0m38 0h0m5 0h0m-52 1h0m5 0h0m18 0h0m27 0h0m1 0h0m-61 1h0m2 0h0m3 0h0m43 0h0m17 0h0m-77 1h0m4 0h0m5 0h0m5 0h0m-8 1h0m3 0h0m11 0h0m3 0h0m12 0h0m-32 1h0m24 0h0m34 0h0m4 0h0m3 0h0m-79 1h0m10 0h0m71 0h0m-57 1h0m7 0h0m51 0h0m-15 1h0m-49 1h0m56 0h0m-62 1h0m9 0h0m8 0h0m-11 1h0m61 0h0m-72 1h0m4 0h0m14 0h0m36 0h0m14 0h0m1 0h0m3 0h0m-65 1h0m54 0h0m2 0h0m-37 1h0m-25 1h0m8 0h0m58 0h0m-45 1h0m1 0h0m34 0h0m2 0h0m5 0h0m8 0h0m-71 1h0m34 0h0m38 0h0m-9 1h0m-73 1h0m2 0h0m4 0h0m8 0h0m7 0h0m11 0h0m-5 1h0m10 0h0m29 0h0m5 0h0m3 0h0m3 0h0m-78 1h0m5 0h0m5 0h0m1 0h0m67 0h0m-17 1h0m10 0h0m9 0h0m-71 1h0m6 0h0m8 0h0m19 0h0m5 0h0m18 0h0m-46 1h0m2 0h0m3 0h0m31 0h0m-55 1h0m2 0h0m22 0h0m39 0h0m10 0h0m-77 1h0m4 0h0m10 0h0m12 0h0m7 0h0m25 0h0m5 0h0m5 0h0m10 0h0m-57 1h0m39 0h0m2 0h0m2 0h0m7 0h0m-49 1h0m11 0h0m1 0h0m21 0h0m2 0h0m-48 1h0m13 0h0m50 0h0m-77 1h0m27 0h0m15 0h0m13 0h0m-40 1h0m2 0h0m11 0h0m38 0h0m17 0h0m-21 1h0m20 0h0m-70 1h0m5 0h0m1 0h0m11 0h0m1 0h0m26 0h0m3 0h0m5 0h0m14 0h0m-63 1h0m38 0h0m8 0h0m-52 1h0m26 0h0m15 0h0m10 0h0m-53 1h0m18 0h0m1 0h0m4 0h0m1 0h0m41 0h0m6 0h0m-65 1h0m7 0h0m5 0h0m28 0h0m13 0h0m1 0h0m13 0h0m-57 1h0m51 0h0m5 0h0m4 0h0m-46 1h0m12 0h0m-14 1h0m12 0h0m2 0h0m12 0h0m6 0h0m2 0h0m11 0h0m3 0h0m2 0h0m-66 1h0m43 0h0m10 0h0m-61 1h0m32 0h0m2 0h0m-23 1h0m9 0h0m12 0h0m5 0h0m6 0h0m18 0h0m-56 1h0m7 0h0m3 0h0m5 0h0m22 0h0m3 0h0m10 0h0m12 0h0m1 0h0m-57 1h0m24 0h0m29 0h0m-37 1h0m5 0h0m16 0h0m6 0h0m14 0h0m-34 1h0m33 0h0m-74 1h0m28 0h0m14 0h0m8 0h0m-16 1h0m3 0h0m8 0h0m28 0h0m-47 2h0m2 0h0m3 0h0m9 0h0m-32 3h0m23 0h0m27 1h0m-46 1h0m0 1h0m51 0h0m-38 4h0"/><path stroke="rgb(0,0,220)" stroke-width="1.8" d="M233 733h0m1 1h0m-10 1h0m15 3h0m-20 1h0m4 0h0m21 0h0m1 3h0m-25 1h0m-6 2h0m-1 2h0m-3 1h0m27 0h0m5 0h0m-34 1h0m-2 1h0m34 0h0m-9 2h0m-31 3h0m26 0h0m-21 1h0m24 0h0m-14 1h0m19 0h0m-30 1h0m9 0h0m7 0h0m15 0h0m-9 2h0m-5 1h0m12 0h0m-39 1h0m1 0h0m1 0h0m25 0h0m3 0h0m-20 1h0m19 0h0m-1 2h0m-2 2h0m-4 1h0m6 0h0m-44 2h0m0 2h0m35 0h0m-25 1h0m-7 1h0m32 2h0m-55 1h0m4 0h0m5 1h0m2 0h0m3 0h0m24 2h0m12 0h0m-45 1h0m26 1h0m5 0h0m19 0h0m-72 1h0m1 0h0m6 0h0m20 0h0m-27 1h0m44 0h0m21 0h0m-55 1h0m9 0h0m17 0h0m1 0h0m33 0h0m-60 2h0m-7 1h0m20 0h0m33 0h0m6 0h0m2 0h0m-54 1h0m43 0h0m11 0h0m-62 1h0m-5 1h0m14 0h0m14 0h0m14 0h0m7 0h0m-43 1h0m42 0h0m4 0h0m8 0h0m-49 2h0m8 1h0m8 0h0m2 0h0m-14 1h0m50 0h0m-63 1h0m9 0h0m1 0h0m9 0h0m31 0h0m-23 1h0m37 0h0m-40 1h0m29 0h0m6 0h0m7 0h0m-45 1h0m2 0h0m35 0h0m-23 1h0m14 0h0m-21 1h0m14 0h0m-31 1h0m32 0h0m15 0h0m-16 1h0m12 0h0m-46 2h0m26 0h0m14 0h0m1 0h0m4 0h0m-15 1h0m-41 1h0m11 0h0m51 0h0m-56 1h0m43 0h0m12 0h0m-13 1h0m-39 1h0m48 0h0m-10 1h0m17 0h0m-58 1h0m31 0h0m18 0h0m-66 1h0m7 1h0m5 0h0m44 0h0m-42 1h0m-14 1h0m15 0h0m47 1h0m-34 1h0m10 0h0m-19 2h0m1 0h0m30 0h0m-52 1h0m11 0h0m27 0h0m33 0h0m-40 1h0m5 0h0m-44 1h0m24 0h0m3 0h0m37 0h0m-48 1h0m2 0h0m-9 1h0m73 0h0m-72 1h0m31 0h0m20 0h0m-31 1h0m13 0h0m20 0h0m4 0h0m10 0h0m-52 1h0m7 0h0m3 0h0m2 0h0m8 1h0m5 0h0m5 0h0m3 0h0m-14 1h0m-16 1h0m19 0h0m4 0h0m-23 1h0m1 0h0m18 0h0m10 0h0m0 1h0m-49 1h0m25 0h0m-11 1h0m11 0h0m8 0h0m-17 2h0m47 0h0m4 0h0m-57 1h0m17 0h0m3 0h0m-18 1h0m5 0h0m27 0h0m-24 1h0m15 0h0m6 0h0m-11 1h0m34 0h0m-35 1h0m23 5h0"/><path stroke="rgb(0,140,255)" stroke-width="1.8" d="M231 732h0m-5 1h0m-1 1h0m8 3h0m3 0h0m0 3h0m3 0h0m3 0h0m-23 2h0m13 1h0m15 0h0m-10 1h0m-25 1h0m2 1h0m7 0h0m1 0h0m-13 1h0m1 0h0m-1 1h0m21 0h0m5 0h0m-20 2h0m2 0h0m8 0h0m3 0h0m8 0h0m3 0h0m-32 1h0m7 0h0m1 1h0m13 0h0m5 0h0m-27 1h0m24 0h0m-18 1h0m16 1h0m2 0h0m5 0h0m2 0h0m-1 1h0m1 0h0m-30 1h0m21 0h0m-32 1h0m36 0h0m2 0h0m-35 1h0m30 0h0m-13 1h0m3 0h0m0 1h0m4 0h0m-30 1h0m4 0h0m12 0h0m14 0h0m-32 1h0m9 0h0m13 0h0m-20 1h0m-6 2h0m9 0h0m6 0h0m9 0h0m4 0h0m7 0h0m-34 1h0m-5 1h0m15 0h0m5 0h0m-13 2h0m1 0h0m1 1h0m18 0h0m4 0h0m-14 1h0m2 0h0m6 0h0m-29 1h0m35 0h0m-36 2h0m22 0h0m-14 1h0m3 0h0m-1 2h0m5 0h0m4 0h0m4 1h0m-38 1h0m17 0h0m32 0h0m-29 1h0m-13 1h0m1 0h0m2 0h0m10 0h0m1 0h0m6 0h0m9 0h0m-23 1h0m32 0h0m-57 1h0m8 0h0m4 0h0m16 0h0m22 0h0m-57 1h0m18 0h0m38 0h0m-59 1h0m8 0h0m9 0h0m29 0h0m9 0h0m1 0h0m6 0h0m-65 1h0m9 0h0m12 0h0m5 0h0m8 0h0m1 0h0m10 0h0m12 0h0m7 0h0m-61 1h0m4 0h0m12 0h0m10 0h0m10 0h0m3 0h0m18 0h0m6 0h0m-62 1h0m56 0h0m-58 1h0m26 0h0m-27 1h0m20 0h0m11 0h0m26 0h0m5 0h0m-61 1h0m33 0h0m-33 1h0m32 0h0m23 0h0m3 0h0m6 0h0m-34 1h0m12 0h0m12 0h0m6 0h0m-38 1h0m26 0h0m2 0h0m-25 1h0m1 0h0m29 0h0m9 0h0m-42 1h0m-5 1h0m1 0h0m24 0h0m21 0h0m-53 1h0m5 0h0m33 0h0m17 0h0m-34 1h0m8 0h0m10 0h0m16 0h0m-48 1h0m26 0h0m19 0h0m-50 1h0m8 0h0m4 0h0m-17 1h0m25 0h0m15 0h0m-27 1h0m1 0h0m3 0h0m31 0h0m-62 1h0m21 0h0m-3 1h0m9 0h0m-15 1h0m42 0h0m-40 1h0m5 0h0m9 0h0m21 0h0m-49 1h0m13 0h0m13 0h0m20 0h0m-32 1h0m32 1h0m3 0h0m-35 1h0m32 0h0m-25 1h0m14 0h0m25 0h0m-40 1h0m2 0h0m26 0h0m-35 1h0m3 0h0m8 0h0m1 0h0m14 0h0m11 0h0m-26 1h0m4 0h0m5 0h0m13 0h0m-8 1h0m5 0h0m-15 1h0m7 0h0m7 0h0m16 0h0m-50 1h0m-18 1h0m37 0h0m2 0h0m-11 1h0m3 0h0m-25 1h0m14 0h0m4 0h0m3 0h0m8 0h0m10 0h0m-39 1h0m41 0h0m-49 1h0m25 1h0m8 0h0m7 0h0m-30 1h0m10 0h0m15 0h0m11 0h0m-36 1h0m20 0h0m25 0h0m-34 1h0m32 0h0m-8 1h0m5 0h0m9 0h0m-51 1h0m3 0h0m5 0h0m18 0h0m4 0h0m-7 1h0m-11 1h0m24 0h0m6 0h0m-4 1h0m-12 2h0m-10 2h0m7 0h0m-2 3h0m14 0h0"/><path stroke="rgb(0,210,230)" stroke-width="1.8" d="M230 729h0m1 1h0m-4 3h0m0 2h0m3 0h0m1 0h0m4 1h0m-5 1h0m8 2h0m-17 1h0m1 0h0m13 0h0m2 0h0m2 1h0m-14 1h0m6 0h0m1 0h0m4 0h0m-3 1h0m-15 1h0m-8 1h0m22 0h0m-14 2h0m12 0h0m4 0h0m-15 1h0m6 0h0m14 0h0m-23 1h0m13 0h0m-19 1h0m4 0h0m12 0h0m-9 1h0m1 0h0m14 0h0m-29 1h0m4 0h0m29 0h0m1 0h0m2 0h0m-20 1h0m3 0h0m4 0h0m-20 1h0m3 0h0m10 0h0m1 0h0m2 0h0m1 0h0m-19 1h0m7 0h0m2 0h0m4 0h0m18 1h0m-31 1h0m21 0h0m4 0h0m3 0h0m-27 1h0m2 0h0m1 0h0m2 0h0m18 0h0m-3 1h0m-21 1h0m7 0h0m2 0h0m7 0h0m9 0h0m-29 1h0m24 0h0m3 0h0m-25 1h0m6 0h0m10 1h0m15 0h0m-25 1h0m5 0h0m-8 1h0m2 0h0m2 0h0m6 0h0m1 0h0m5 0h0m2 0h0m-39 1h0m14 1h0m14 0h0m4 0h0m-28 2h0m15 1h0m10 0h0m6 0h0m-40 1h0m6 0h0m1 0h0m-1 1h0m1 0h0m4 0h0m5 0h0m8 0h0m3 0h0m1 0h0m5 0h0m-26 1h0m7 0h0m17 0h0m2 0h0m-13 1h0m-14 1h0m1 0h0m10 0h0m1 0h0m2 0h0m10 0h0m-16 1h0m8 0h0m6 0h0m2 0h0m-28 1h0m11 0h0m1 0h0m-12 2h0m4 0h0m7 1h0m17 0h0m-42 1h0m10 0h0m26 0h0m1 0h0m3 0h0m-31 1h0m-4 1h0m9 0h0m22 0h0m1 0h0m-40 1h0m44 0h0m-67 1h0m54 0h0m-50 1h0m18 0h0m30 0h0m-53 1h0m20 0h0m37 0h0m-13 1h0m-19 1h0m9 0h0m3 0h0m1 0h0m9 0h0m-17 1h0m3 0h0m20 0h0m5 0h0m-31 1h0m26 0h0m9 0h0m-23 1h0m-15 1h0m3 0h0m3 0h0m9 0h0m14 0h0m10 0h0m-34 1h0m7 0h0m12 0h0m7 0h0m-37 1h0m23 0h0m6 0h0m2 0h0m10 0h0m-17 1h0m6 0h0m8 0h0m-44 1h0m11 0h0m4 0h0m8 0h0m4 0h0m4 0h0m3 0h0m11 0h0m-25 1h0m2 0h0m13 0h0m7 0h0m-42 1h0m5 0h0m10 0h0m14 0h0m-5 1h0m2 0h0m7 0h0m-24 1h0m15 0h0m1 0h0m-21 1h0m3 0h0m9 1h0m8 0h0m10 0h0m-50 1h0m48 0h0m6 0h0m-19 1h0m8 0h0m4 0h0m10 0h0m-39 1h0m1 0h0m1 0h0m2 0h0m22 0h0m-7 1h0m9 0h0m12 0h0m-40 1h0m8 0h0m3 0h0m2 0h0m16 0h0m-18 1h0m10 0h0m-30 1h0m1 0h0m2 1h0m3 0h0m24 0h0m-11 1h0m10 0h0m2 0h0m2 0h0m-27 1h0m7 0h0m6 0h0m-20 1h0m6 0h0m11 0h0m5 0h0m-18 1h0m6 0h0m8 0h0m13 0h0m-31 1h0m8 0h0m43 0h0m-43 1h0m3 0h0m-28 1h0m15 0h0m29 0h0m2 0h0m-18 1h0m10 0h0m2 0h0m11 0h0m-34 2h0m9 0h0m21 0h0m-13 1h0m-16 1h0m21 0h0m8 0h0m5 0h0m-47 1h0m2 0h0m33 0h0m3 0h0m-22 1h0m9 0h0m9 0h0m1 0h0m-4 1h0m-33 1h0m5 0h0m13 0h0m13 0h0m6 0h0m-40 2h0m-4 1h0m31 0h0m4 0h0m-9 2h0m6 0h0m20 0h0m-27 1h0m0 1h0m4 0h0m3 0h0m14 0h0m-19 1h0m3 0h0m1 0h0m-8 3h0m6 0h0m1 0h0m3 0h0m-14 5h0"/><path stroke="rgb(0,230,150)" stroke-width="1.8" d="M232 732h0m-2 1h0m-4 1h0m2 1h0m1 1h0m1 0h0m4 0h0m2 0h0m1 0h0m-13 2h0m7 0h0m-4 1h0m2 0h0m5 0h0m-10 1h0m3 0h0m10 1h0m-1 2h0m1 0h0m-16 1h0m10 0h0m5 0h0m-17 1h0m4 0h0m14 1h0m-20 1h0m12 0h0m3 0h0m-14 1h0m2 1h0m4 0h0m-5 1h0m3 0h0m2 0h0m11 0h0m-6 1h0m-12 1h0m3 0h0m2 0h0m2 0h0m-17 1h0m3 0h0m1 0h0m7 1h0m12 0h0m-27 1h0m1 1h0m4 0h0m13 0h0m-18 1h0m6 0h0m9 0h0m-4 1h0m10 0h0m-27 1h0m7 0h0m7 0h0m-13 1h0m14 0h0m-2 1h0m4 0h0m6 0h0m-8 1h0m3 0h0m1 0h0m-14 1h0m1 0h0m7 0h0m1 0h0m-14 1h0m6 0h0m5 1h0m3 0h0m2 0h0m-15 1h0m9 0h0m5 0h0m5 1h0m2 0h0m-12 1h0m-18 1h0m13 0h0m10 0h0m-17 1h0m7 1h0m3 0h0m1 0h0m2 0h0m-12 1h0m5 0h0m8 0h0m-31 1h0m18 0h0m8 0h0m7 0h0m-20 1h0m16 0h0m-16 1h0m12 0h0m-18 1h0m6 0h0m-12 1h0m25 0h0m-26 1h0m3 0h0m13 0h0m1 0h0m3 0h0m-18 1h0m13 0h0m6 0h0m-2 1h0m4 0h0m2 0h0m-23 1h0m2 0h0m6 0h0m2 0h0m-13 1h0m25 0h0m-40 1h0m21 0h0m1 0h0m4 0h0m7 0h0m-28 1h0m26 0h0m7 0h0m5 0h0m-60 1h0m30 0h0m10 0h0m2 0h0m5 0h0m4 0h0m2 0h0m-8 1h0m5 0h0m-28 1h0m8 0h0m1 0h0m8 0h0m3 0h0m1 0h0m2 0h0m-25 1h0m11 0h0m-9 1h0m13 0h0m1 0h0m5 0h0m9 0h0m-23 2h0m3 0h0m19 0h0m-22 1h0m3 0h0m9 0h0m4 1h0m-21 1h0m6 1h0m1 0h0m5 1h0m12 0h0m-40 1h0m8 1h0m17 0h0m7 0h0m-7 1h0m7 0h0m-28 1h0m2 0h0m15 0h0m16 0h0m-37 1h0m15 0h0m1 0h0m2 0h0m-7 1h0m5 0h0m-11 1h0m25 0h0m-25 1h0m14 0h0m2 0h0m14 0h0m-29 1h0m16 0h0m4 0h0m-16 1h0m3 0h0m15 0h0m-33 2h0m31 0h0m9 0h0m-35 1h0m12 0h0m13 0h0m2 0h0m-21 1h0m3 0h0m2 0h0m3 0h0m19 0h0m-34 1h0m22 0h0m-13 1h0m10 0h0m-25 1h0m1 0h0m22 0h0m4 0h0m-25 1h0m10 0h0m2 0h0m13 0h0m2 0h0m-10 1h0m3 0h0m5 0h0m7 0h0m-20 1h0m12 0h0m1 0h0m-17 1h0m23 0h0m-23 1h0m4 1h0m7 1h0m1 1h0m2 0h0m-5 3h0m9 0h0m-12 1h0m2 1h0m2 0h0m7 0h0m-9 1h0m-12 5h0m1 0h0m9 2h0m-10 2h0"/><path stroke="rgb(30,240,60)" stroke-width="1.8" d="M227 738h0m-2 1h0m7 0h0m-2 1h0m4 0h0m-12 1h0m3 0h0m3 0h0m1 0h0m-5 1h0m2 0h0m1 0h0m-5 2h0m-1 1h0m9 0h0m1 0h0m4 0h0m3 0h0m-6 1h0m2 0h0m-10 1h0m-4 1h0m7 1h0m5 0h0m-5 1h0m-15 1h0m4 0h0m11 0h0m6 0h0m-7 1h0m1 0h0m-7 1h0m-4 1h0m-8 1h0m15 0h0m2 0h0m-16 1h0m10 0h0m4 0h0m4 0h0m-21 2h0m4 2h0m4 0h0m4 0h0m-7 1h0m-2 2h0m11 0h0m-9 1h0m10 0h0m-15 3h0m4 3h0m-10 1h0m3 0h0m4 0h0m-12 2h0m11 0h0m-1 1h0m3 0h0m-20 1h0m2 0h0m16 0h0m-10 1h0m-12 1h0m5 0h0m0 1h0m10 0h0m2 0h0m-11 1h0m7 0h0m1 0h0m-15 1h0m19 0h0m-21 2h0m5 1h0m1 0h0m3 0h0m-10 1h0m4 0h0m2 0h0m2 0h0m2 0h0m6 0h0m-13 1h0m3 0h0m5 0h0m2 0h0m-9 1h0m5 1h0m-10 1h0m-4 1h0m-1 1h0m11 0h0m2 0h0m4 0h0m-13 1h0m-1 1h0m-2 1h0m11 0h0m-13 1h0m2 0h0m-5 1h0m1 0h0m9 0h0m-8 1h0m12 0h0m-12 1h0m2 0h0m4 1h0m7 0h0m1 0h0m-13 1h0m2 0h0m5 0h0m7 0h0m-19 1h0m7 0h0m9 0h0m-28 1h0m14 0h0m4 0h0m-8 1h0m9 0h0m-8 1h0m2 0h0m1 0h0m1 0h0m2 0h0m-4 1h0m12 0h0m-25 1h0m7 0h0m5 0h0m4 0h0m13 0h0m1 0h0m-20 1h0m7 0h0m-17 1h0m2 0h0m7 0h0m11 0h0m-8 1h0m5 0h0m7 0h0m-19 1h0m3 0h0m3 0h0m5 0h0m1 0h0m-15 1h0m11 0h0m1 0h0m3 0h0m5 0h0m1 0h0m-26 2h0m10 0h0m-3 1h0m-9 1h0m8 0h0m5 1h0m3 0h0m7 1h0m-15 2h0m-6 8h0m3 10h0"/><path stroke="rgb(130,245,0)" stroke-width="1.8" d="M226 737h0m3 3h0m2 0h0m-3 3h0m1 0h0m-2 1h0m-1 1h0m0 2h0m8 1h0m-14 3h0m9 2h0m-15 6h0m3 3h0m-7 5h0m-2 6h0m-15 2h0m-3 1h0m2 0h0m3 0h0m-7 1h0m7 0h0m-9 1h0m4 0h0m1 0h0m5 0h0m-4 1h0m2 0h0m1 0h0m-6 1h0m4 0h0m5 0h0m-11 1h0m6 0h0m1 0h0m3 0h0m-4 2h0m1 0h0m8 0h0m-14 2h0m7 3h0m-19 1h0m0 2h0m0 2h0m1 0h0m6 2h0m-6 3h0m5 1h0m-14 2h0m11 0h0m-14 1h0m0 1h0m-3 1h0m9 0h0m-4 1h0m2 0h0m9 0h0m3 0h0m-14 2h0m1 0h0m2 0h0m-6 1h0m5 0h0m1 0h0m2 0h0m-2 1h0m-15 2h0m14 0h0m2 0h0m-1 1h0m3 0h0m-12 1h0m8 0h0m1 0h0m2 0h0m2 4h0"/><path stroke="rgb(140,140,250)" stroke-width="1.8" d="M720 687h0m-213 5h0m201 7h0m18 1h0m-124 7h0m93 0h0m-14 1h0m-38 1h0m143 0h0m-101 1h0m5 0h0m-28 1h0m6 0h0m25 0h0m-47 2h0m35 0h0m-12 1h0m-123 1h0m93 0h0m37 0h0m112 0h0m-100 1h0m-18 1h0m19 0h0m1 0h0m-24 2h0m9 0h0m5 0h0m3 0h0m-51 1h0m27 0h0m2 0h0m-25 1h0m24 0h0m6 0h0m22 0h0m-120 1h0m53 0h0m20 0h0m13 0h0m37 0h0m17 0h0m87 0h0m-176 1h0m48 0h0m5 0h0m18 0h0m-86 1h0m15 0h0m44 0h0m1 0h0m8 0h0m14 0h0m2 0h0m-52 1h0m21 0h0m2 0h0m16 0h0m-58 1h0m58 0h0m-46 1h0m37 0h0m19 0h0m-110 1h0m49 0h0m-34 1h0m98 0h0m-87 1h0m30 0h0m40 0h0m-63 1h0m7 0h0m58 0h0m1 0h0m-159 1h0m105 0h0m1 0h0m6 0h0m-13 1h0m13 0h0m38 0h0m-66 1h0m63 0h0m5 0h0m10 1h0m2 0h0m20 0h0m-105 2h0m25 0h0m51 0h0m33 0h0m-132 1h0m44 0h0m55 1h0m4 0h0m-163 1h0m12 0h0m41 0h0m23 0h0m101 0h0m33 0h0m-170 1h0m62 0h0m42 0h0m19 0h0m12 0h0m3 1h0m-142 1h0m8 0h0m2 0h0m4 0h0m29 0h0m8 0h0m-12 1h0m17 0h0m-17 1h0m6 0h0m4 0h0m109 0h0m-175 1h0m5 0h0m60 0h0m7 0h0m3 0h0m66 0h0m-124 1h0m28 0h0m89 0h0m8 0h0m12 0h0m16 0h0m-134 1h0m14 0h0m11 0h0m85 0h0m24 0h0m4 0h0m41 0h0m-231 1h0m52 0h0m32 0h0m71 0h0m7 0h0m-90 1h0m75 0h0m-93 1h0m6 0h0m14 0h0m97 0h0m-156 1h0m18 0h0m16 0h0m26 0h0m80 0h0m-109 1h0m135 0h0m-133 1h0m112 0h0m4 0h0m-120 1h0m117 0h0m-138 1h0m7 0h0m26 0h0m5 0h0m7 0h0m5 0h0m78 0h0m8 0h0m67 0h0m-177 1h0m18 0h0m80 0h0m4 0h0m-111 1h0m36 0h0m-16 1h0m96 0h0m4 0h0m-133 1h0m5 0h0m26 0h0m112 0h0m-96 1h0m81 0h0m60 0h0m-231 1h0m42 0h0m2 0h0m11 0h0m7 0h0m4 0h0m92 0h0m-136 1h0m13 0h0m12 0h0m8 0h0m17 0h0m93 0h0m8 0h0m9 0h0m-148 1h0m37 0h0m1 0h0m113 0h0m5 0h0m3 0h0m-172 1h0m5 0h0m3 0h0m10 0h0m27 0h0m26 0h0m7 0h0m60 0h0m10 0h0m-168 1h0m18 0h0m40 0h0m107 0h0m6 0h0m5 0h0m3 0h0m-163 1h0m13 0h0m129 0h0m-149 1h0m1 0h0m74 0h0m125 0h0m-181 1h0m120 0h0m40 0h0m-143 1h0m127 0h0m6 0h0m45 0h0m-209 1h0m9 0h0m1 0h0m137 0h0m11 0h0m-110 1h0m3 0h0m117 0h0m10 0h0m-127 1h0m7 0h0m111 0h0m-21 1h0m17 0h0m9 0h0m7 0h0m16 0h0m-204 1h0m31 0h0m14 0h0m23 0h0m55 0h0m38 0h0m19 0h0m-186 1h0m5 0h0m31 0h0m27 0h0m6 0h0m130 0h0m-166 1h0m15 0h0m25 0h0m13 0h0m65 0h0m24 0h0m23 0h0m-170 1h0m7 0h0m21 0h0m91 0h0m28 0h0m1 0h0m-135 1h0m9 0h0m9 0h0m3 0h0m119 0h0m-175 1h0m48 0h0m85 0h0m1 0h0m41 0h0m7 0h0m15 0h0m-190 1h0m5 0h0m13 0h0m22 0h0m80 0h0m36 0h0m15 0h0m4 0h0m-186 2h0m14 0h0m46 0h0m84 0h0m39 0h0m19 0h0m-197 1h0m172 0h0m13 0h0m-162 1h0m147 0h0m-150 1h0m30 0h0m95 0h0m-148 1h0m8 0h0m18 0h0m29 0h0m81 0h0m3 0h0m42 0h0m9 0h0m3 0h0m2 0h0m10 0h0m-195 1h0m25 0h0m98 0h0m4 0h0m7 0h0m15 0h0m19 0h0m7 0h0m15 0h0m1 0h0m-182 1h0m120 0h0m74 0h0m-208 1h0m7 0h0m16 0h0m161 0h0m6 0h0m-194 1h0m13 0h0m31 0h0m128 0h0m7 0h0m10 0h0m-168 1h0m181 0h0m-209 1h0m14 0h0m6 0h0m16 0h0m24 0h0m76 0h0m34 0h0m-163 1h0m27 0h0m101 0h0m-110 1h0m116 0h0m9 0h0m-135 1h0m12 0h0m111 0h0m5 0h0m9 0h0m52 0h0m8 0h0m-194 1h0m9 0h0m144 0h0m38 0h0m-51 1h0m22 0h0m-177 1h0m2 0h0m6 0h0m123 0h0m7 0h0m3 0h0m45 0h0m16 0h0m-177 1h0m10 0h0m77 0h0m17 0h0m40 0h0m10 0h0m-33 1h0m53 0h0m12 0h0m-209 1h0m2 0h0m15 0h0m117 0h0m8 0h0m8 0h0m43 0h0m6 0h0m-73 1h0m1 0h0m64 0h0m1 0h0m-198 1h0m36 0h0m141 0h0m-171 1h0m10 0h0m4 0h0m30 0h0m61 0h0m26 0h0m11 0h0m25 0h0m36 0h0m1 0h0m-185 1h0m87 0h0m17 0h0m6 0h0m46 0h0m25 0h0m-2 1h0m-89 1h0m2 0h0m83 0h0m-186 1h0m157 0h0m18 0h0m-61 1h0m3 0h0m18 0h0m24 0h0m15 0h0m8 0h0m-196 1h0m126 0h0m29 0h0m11 0h0m28 0h0m13 0h0m-80 1h0m30 0h0m12 0h0m14 0h0m-173 1h0m131 0h0m27 0h0m13 0h0m4 0h0m47 0h0m-107 1h0m52 0h0m14 0h0m2 0h0m21 0h0m-212 1h0m111 0h0m37 0h0m19 0h0m22 0h0m11 0h0m14 0h0m-201 1h0m147 0h0m-158 1h0m8 0h0m93 0h0m6 0h0m27 0h0m16 0h0m47 0h0m9 0h0m-196 1h0m93 0h0m27 0h0m11 0h0m4 0h0m3 0h0m29 0h0m18 0h0m-197 1h0m98 0h0m10 0h0m27 0h0m4 0h0m44 0h0m26 0h0m-206 1h0m127 0h0m10 0h0m14 0h0m18 0h0m8 0h0m-68 1h0m76 0h0m-49 1h0m3 0h0m15 0h0m15 0h0m16 0h0m-188 1h0m11 0h0m93 0h0m17 0h0m2 0h0m3 0h0m10 0h0m57 0h0m-187 1h0m9 0h0m114 0h0m6 0h0m4 0h0m12 0h0m4 0h0m19 0h0m12 0h0m2 0h0m-92 2h0m34 0h0m57 0h0m21 0h0m-121 1h0m21 0h0m21 0h0m12 0h0m15 0h0m-145 1h0m101 0h0m38 0h0m-145 1h0m122 0h0m32 0h0m5 0h0m-28 1h0m11 0h0m41 0h0m-188 1h0m100 0h0m1 0h0m15 0h0m9 0h0m17 0h0m68 0h0m-195 1h0m125 0h0m1 0h0m13 0h0m3 0h0m9 0h0m35 0h0m-191 1h0m6 0h0m91 0h0m32 0h0m10 0h0m-143 1h0m16 0h0m101 0h0m64 0h0m-184 1h0m93 0h0m24 0h0m4 0h0m26 0h0m9 0h0m-150 1h0m24 0h0m66 0h0m2 0h0m39 0h0m10 0h0m30 0h0m7 0h0m-187 1h0m26 0h0m34 0h0m20 0h0m9 0h0m25 0h0m68 0h0m-184 1h0m11 0h0m70 0h0m34 0h0m11 0h0m3 0h0m4 0h0m3 0h0m10 0h0m28 0h0m7 0h0m5 0h0m-174 1h0m92 0h0m13 0h0m51 0h0m17 0h0m-179 1h0m6 0h0m3 0h0m104 0h0m16 0h0m28 0h0m3 0h0m15 0h0m-85 1h0m66 0h0m11 0h0m6 0h0m-76 1h0m9 0h0m22 0h0m14 0h0m10 0h0m13 0h0m-171 1h0m20 0h0m27 0h0m52 0h0m3 0h0m9 0h0m11 0h0m21 0h0m3 0h0m19 0h0m9 0h0m-173 1h0m3 0h0m3 0h0m73 0h0m60 0h0m46 0h0m-183 1h0m8 0h0m46 0h0m13 0h0m60 0h0m1 0h0m22 0h0m46 0h0m-185 1h0m86 0h0m5 0h0m17 0h0m14 0h0m23 0h0m14 0h0m1 0h0m-165 1h0m48 0h0m148 0h0m-186 1h0m23 0h0m26 0h0m19 0h0m28 0h0m26 0h0m9 0h0m16 0h0m6 0h0m61 0h0m-195 1h0m58 0h0m9 0h0m9 0h0m-90 1h0m17 0h0m46 0h0m23 0h0m21 0h0m59 0h0m-183 1h0m64 0h0m21 0h0m16 0h0m7 0h0m3 0h0m8 0h0m9 0h0m7 0h0m39 0h0m8 0h0m-189 1h0m17 0h0m8 0h0m77 0h0m33 0h0m-126 1h0m39 0h0m55 0h0m10 0h0m3 0h0m55 0h0m-166 1h0m13 0h0m55 0h0m21 0h0m5 0h0m7 0h0m-97 1h0m66 0h0m59 0h0m10 0h0m-122 1h0m9 0h0m55 0h0m13 0h0m102 0h0m-201 1h0m11 0h0m79 0h0m1 0h0m95 0h0m-113 1h0m50 0h0m5 0h0m-105 1h0m21 0h0m14 0h0m7 0h0m51 0h0m25 0h0m5 0h0m-72 1h0m31 0h0m5 0h0m29 0h0m24 0h0m2 0h0m-120 1h0m35 0h0m7 0h0m2 0h0m2 0h0m2 0h0m28 0h0m66 0h0m3 0h0m-179 1h0m30 0h0m10 0h0m4 0h0m5 0h0m81 0h0m-138 1h0m3 0h0m25 0h0m37 0h0m9 0h0m33 0h0m14 0h0m4 0h0m15 0h0m-118 1h0m19 0h0m8 0h0m48 0h0m42 0h0m13 0h0m-139 1h0m125 0h0m-104 1h0m12 0h0m20 0h0m5 0h0m3 0h0m9 0h0m25 0h0m4 0h0m11 0h0m1 0h0m16 0h0m7 0h0m-114 1h0m31 0h0m20 0h0m6 0h0m3 0h0m-85 1h0m15 0h0m4 0h0m4 0h0m17 0h0m44 0h0m17 0h0m5 0h0m20 0h0m1 0h0m-131 1h0m30 0h0m18 0h0m27 0h0m7 0h0m10 0h0m-97 1h0m47 0h0m14 0h0m1 0h0m7 0h0m39 0h0m41 0h0m-99 1h0m22 0h0m3 0h0m5 0h0m-60 1h0m20 0h0m42 0h0"/><path stroke="rgb(80,80,252)" stroke-width="1.8" d="M687 715h0m-15 4h0m-28 3h0m-6 1h0m9 0h0m3 0h0m3 1h0m-6 3h0m-9 1h0m27 1h0m-28 1h0m2 2h0m12 0h0m3 0h0m15 0h0m-33 1h0m18 0h0m1 0h0m5 0h0m-30 1h0m9 0h0m30 0h0m-39 1h0m17 0h0m22 0h0m2 0h0m-45 1h0m32 0h0m9 0h0m-32 1h0m30 0h0m-44 1h0m13 0h0m30 1h0m-48 1h0m41 0h0m10 0h0m-50 1h0m34 0h0m5 0h0m-39 1h0m27 0h0m-33 1h0m12 0h0m34 0h0m-35 2h0m44 0h0m-68 1h0m-2 1h0m69 0h0m-65 1h0m7 0h0m29 0h0m-30 1h0m55 0h0m-61 1h0m3 1h0m51 0h0m13 0h0m-3 1h0m-4 1h0m-65 1h0m11 0h0m45 0h0m8 0h0m-64 1h0m4 0h0m-4 2h0m1 0h0m6 0h0m64 0h0m-54 3h0m-17 1h0m59 0h0m7 0h0m-86 1h0m7 0h0m5 0h0m75 0h0m-17 1h0m-67 1h0m1 0h0m95 0h0m6 0h0m1 0h0m-92 1h0m-15 1h0m3 0h0m23 0h0m-24 1h0m9 0h0m-22 1h0m6 0h0m16 0h0m56 0h0m3 0h0m32 0h0m-106 1h0m3 2h0m2 0h0m49 0h0m32 0h0m7 0h0m2 0h0m-103 1h0m10 0h0m6 0h0m83 0h0m5 0h0m-15 1h0m2 0h0m1 0h0m13 0h0m-100 1h0m10 0h0m5 0h0m2 0h0m15 0h0m34 0h0m9 0h0m-53 1h0m58 0h0m5 0h0m6 0h0m-92 1h0m83 0h0m11 0h0m10 0h0m-64 1h0m49 0h0m1 0h0m5 0h0m20 0h0m-144 1h0m5 0h0m4 0h0m26 0h0m82 0h0m30 0h0m-55 1h0m6 0h0m4 0h0m5 0h0m9 0h0m15 0h0m-131 1h0m142 0h0m-139 1h0m6 0h0m2 0h0m102 0h0m12 0h0m9 0h0m7 0h0m-147 1h0m7 0h0m3 0h0m7 0h0m13 0h0m2 0h0m71 0h0m26 0h0m5 0h0m1 0h0m11 0h0m-145 1h0m9 0h0m20 0h0m100 0h0m-130 1h0m22 0h0m84 0h0m24 0h0m8 0h0m-130 1h0m3 0h0m83 0h0m22 0h0m8 0h0m11 0h0m-111 1h0m-23 1h0m10 0h0m1 0h0m104 0h0m15 0h0m-132 1h0m19 0h0m73 0h0m24 0h0m11 0h0m1 0h0m8 0h0m5 0h0m6 0h0m-143 1h0m29 0h0m75 0h0m16 0h0m1 0h0m1 0h0m19 0h0m3 0h0m-163 1h0m2 0h0m46 0h0m58 0h0m4 0h0m6 0h0m48 0h0m4 0h0m-125 1h0m71 0h0m1 0h0m20 0h0m2 0h0m1 0h0m14 0h0m5 0h0m-135 1h0m23 0h0m79 0h0m3 0h0m19 0h0m-124 1h0m96 0h0m18 0h0m24 0h0m10 0h0m-170 1h0m100 0h0m39 0h0m10 0h0m2 0h0m16 0h0m5 0h0m-156 1h0m123 0h0m19 0h0m-157 1h0m12 0h0m14 0h0m77 0h0m9 0h0m6 0h0m36 0h0m17 0h0m-155 1h0m8 0h0m89 0h0m23 0h0m25 0h0m4 0h0m-58 1h0m36 0h0m3 0h0m12 0h0m-154 1h0m13 0h0m90 0h0m1 0h0m54 0h0m11 0h0m-147 1h0m3 0h0m3 0h0m2 0h0m56 0h0m23 0h0m57 0h0m1 0h0m2 0h0m1 0h0m12 0h0m-160 1h0m8 0h0m114 0h0m10 0h0m12 0h0m-46 1h0m1 0h0m10 0h0m8 0h0m15 0h0m9 0h0m8 0h0m-164 1h0m9 0h0m2 0h0m6 0h0m57 0h0m19 0h0m4 0h0m21 0h0m16 0h0m17 0h0m-158 1h0m8 0h0m96 0h0m12 0h0m23 0h0m7 0h0m-142 1h0m80 0h0m6 0h0m27 0h0m34 0h0m-134 1h0m128 0h0m9 0h0m8 0h0m-149 1h0m88 0h0m29 0h0m29 0h0m11 0h0m-158 1h0m3 0h0m6 0h0m1 0h0m67 0h0m12 0h0m14 0h0m4 0h0m2 0h0m8 0h0m10 0h0m7 0h0m27 0h0m-152 1h0m13 0h0m14 0h0m68 0h0m25 0h0m-131 1h0m16 0h0m1 0h0m16 0h0m77 0h0m3 0h0m35 0h0m14 0h0m-52 1h0m5 0h0m9 0h0m4 0h0m4 0h0m14 0h0m-162 1h0m3 0h0m26 0h0m5 0h0m114 0h0m29 0h0m-160 1h0m89 0h0m34 0h0m6 0h0m-139 1h0m20 0h0m33 0h0m49 0h0m-27 1h0m3 0h0m15 0h0m58 0h0m-88 1h0m25 0h0m15 0h0m43 0h0m10 0h0m2 0h0m-159 1h0m2 0h0m18 0h0m57 0h0m20 0h0m2 0h0m12 0h0m8 0h0m29 0h0m-156 1h0m15 0h0m19 0h0m-33 1h0m2 0h0m94 0h0m52 0h0m14 0h0m-160 1h0m23 0h0m67 0h0m11 0h0m51 0h0m-145 1h0m37 0h0m100 0h0m9 0h0m-163 1h0m33 0h0m7 0h0m65 0h0m58 0h0m-152 1h0m23 0h0m17 0h0m24 0h0m24 0h0m59 0h0m-134 1h0m62 0h0m1 0h0m5 0h0m2 0h0m18 0h0m5 0h0m39 0h0m3 0h0m-160 1h0m10 0h0m37 0h0m65 0h0m55 0h0m-163 1h0m13 0h0m3 0h0m35 0h0m38 0h0m18 0h0m2 0h0m5 0h0m32 0h0m4 0h0m-138 1h0m30 0h0m10 0h0m25 0h0m6 0h0m12 0h0m7 0h0m1 0h0m7 0h0m31 0h0m-123 1h0m52 0h0m14 0h0m31 0h0m29 0h0m-152 1h0m7 0h0m10 0h0m14 0h0m24 0h0m7 0h0m8 0h0m6 0h0m9 0h0m19 0h0m55 0h0m-158 1h0m1 0h0m1 0h0m6 0h0m4 0h0m2 0h0m59 0h0m27 0h0m22 0h0m44 0h0m-137 1h0m19 0h0m24 0h0m21 0h0m27 0h0m-13 1h0m1 0h0m54 0h0m7 0h0m2 0h0m1 0h0m1 0h0m-153 1h0m12 0h0m6 0h0m9 0h0m35 0h0m24 0h0m-70 1h0m13 0h0m3 0h0m9 0h0m18 0h0m22 0h0m22 0h0m2 0h0m19 0h0m-123 1h0m7 0h0m5 0h0m64 0h0m12 0h0m61 0h0m-106 1h0m8 0h0m13 0h0m4 0h0m16 0h0m36 0h0m30 0h0m-153 1h0m1 0h0m123 0h0m34 0h0m-164 1h0m12 0h0m9 0h0m13 0h0m4 0h0m16 0h0m5 0h0m10 0h0m3 0h0m16 0h0m-73 1h0m13 0h0m32 0h0m6 0h0m-65 1h0m22 0h0m2 0h0m21 0h0m40 0h0m5 0h0m1 0h0m6 0h0m-89 1h0m-2 1h0m42 0h0m9 0h0m21 0h0m2 0h0m10 0h0m2 0h0m-74 1h0m21 0h0m13 0h0m27 0h0m-61 1h0m31 0h0m11 0h0m6 0h0m1 0h0m-26 1h0m21 0h0m11 0h0m6 0h0m-76 1h0m18 0h0m14 0h0m40 0h0m5 0h0m-71 1h0m5 0h0m9 0h0m22 0h0m28 0h0m4 0h0m-74 1h0m49 0h0m8 0h0m14 0h0m1 0h0m-73 1h0m29 0h0m14 0h0m7 0h0m5 0h0m5 0h0m-46 1h0m14 0h0m15 0h0m6 0h0m11 0h0m7 0h0m17 0h0m-92 1h0m1 0h0m8 0h0m5 0h0m43 0h0m-24 1h0m6 0h0m3 0h0m2 0h0m28 0h0m-48 1h0m1 0h0m5 0h0m13 0h0m9 0h0m54 0h0m-111 1h0m46 0h0m25 0h0m7 0h0m6 0h0m-59 1h0m52 0h0m-75 1h0m30 0h0m5 0h0m21 0h0m2 0h0m6 0h0m9 0h0m-13 1h0m-36 1h0m13 0h0m17 0h0m15 0h0m1 0h0m3 0h0m4 0h0m-49 1h0m44 0h0m-48 1h0m2 0h0m5 0h0m56 0h0m-35 1h0m7 0h0m28 0h0m4 0h0m-66 1h0m6 0h0m5 1h0m16 0h0m-22 1h0m7 0h0m52 0h0m-35 1h0m36 0h0m-38 1h0m27 0h0m-41 1h0m15 0h0m26 1h0m9 0h0m-51 2h0m1 0h0"/><path stroke="rgb(25,25,255)" stroke-width="1.8" d="M639 724h0m9 1h0m-12 1h0m1 0h0m3 0h0m2 0h0m6 0h0m-12 2h0m4 0h0m11 0h0m-8 1h0m3 0h0m0 1h0m6 2h0m1 1h0m-19 2h0m6 0h0m10 0h0m-9 2h0m11 0h0m4 0h0m1 0h0m4 0h0m-11 1h0m-21 1h0m14 0h0m4 0h0m12 0h0m-41 1h0m4 0h0m9 0h0m10 0h0m-8 1h0m29 0h0m-33 1h0m22 0h0m14 0h0m-16 1h0m-12 1h0m-4 1h0m29 0h0m-20 1h0m13 0h0m-40 1h0m43 0h0m-47 1h0m41 0h0m-44 1h0m2 0h0m2 0h0m39 0h0m7 0h0m-15 2h0m9 0h0m5 0h0m1 0h0m-18 2h0m-22 2h0m33 0h0m-49 1h0m52 0h0m8 1h0m-16 1h0m7 0h0m-55 1h0m12 1h0m41 1h0m2 1h0m-72 1h0m2 0h0m7 0h0m1 0h0m1 0h0m7 0h0m53 1h0m-2 1h0m-79 1h0m80 0h0m4 0h0m-66 1h0m64 0h0m-69 1h0m3 0h0m64 0h0m-83 2h0m72 0h0m7 0h0m3 0h0m15 0h0m-71 1h0m9 0h0m43 0h0m-64 1h0m6 0h0m2 0h0m57 0h0m-11 1h0m3 0h0m27 0h0m-79 1h0m49 0h0m3 0h0m5 0h0m14 0h0m-76 1h0m35 0h0m25 0h0m-75 2h0m10 0h0m2 0h0m53 0h0m6 1h0m-31 1h0m29 0h0m-13 1h0m-68 1h0m17 0h0m6 0h0m43 0h0m3 0h0m14 0h0m-86 1h0m70 0h0m6 1h0m-74 1h0m14 0h0m2 0h0m1 0h0m-27 2h0m74 0h0m2 0h0m24 0h0m-77 1h0m3 0h0m-7 1h0m6 0h0m52 0h0m-70 1h0m3 0h0m4 0h0m14 0h0m27 0h0m15 0h0m11 0h0m-82 1h0m118 0h0m-124 1h0m3 0h0m19 0h0m67 0h0m-84 1h0m6 0h0m3 0h0m2 0h0m6 0h0m4 0h0m28 0h0m-39 1h0m68 0h0m2 0h0m7 0h0m32 0h0m1 0h0m19 0h0m-145 1h0m19 0h0m4 0h0m53 0h0m-48 1h0m6 0h0m40 0h0m4 0h0m6 0h0m-80 1h0m76 0h0m58 0h0m-136 1h0m6 0h0m2 0h0m2 0h0m2 0h0m19 0h0m4 0h0m34 0h0m-53 1h0m6 0h0m61 0h0m5 0h0m-98 1h0m2 0h0m134 0h0m16 0h0m-139 1h0m17 0h0m47 0h0m11 0h0m-62 1h0m63 0h0m42 0h0m2 0h0m1 0h0m-100 1h0m5 0h0m101 0h0m18 0h0m-72 1h0m38 0h0m-130 1h0m2 0h0m3 0h0m5 0h0m6 0h0m19 0h0m32 0h0m21 0h0m2 0h0m4 0h0m37 0h0m-35 1h0m3 0h0m30 0h0m4 0h0m4 0h0m-139 1h0m43 0h0m92 0h0m-86 1h0m33 0h0m43 0h0m3 0h0m5 0h0m-101 1h0m23 0h0m81 0h0m-123 1h0m10 0h0m4 0h0m17 0h0m14 0h0m10 0h0m22 0h0m11 0h0m-96 1h0m2 0h0m8 0h0m23 0h0m6 0h0m-39 1h0m2 0h0m86 0h0m-10 1h0m4 0h0m-89 1h0m31 0h0m47 0h0m-77 1h0m12 0h0m62 0h0m25 0h0m51 0h0m-153 1h0m1 0h0m6 0h0m39 0h0m59 0h0m-56 1h0m1 0h0m19 0h0m89 0h0m-82 1h0m28 0h0m-101 1h0m11 0h0m32 0h0m-30 1h0m30 0h0m57 0h0m-83 1h0m16 0h0m2 0h0m10 0h0m-41 1h0m32 0h0m-29 1h0m18 0h0m9 0h0m61 0h0m-86 1h0m8 0h0m38 0h0m13 0h0m77 0h0m2 0h0m-143 1h0m19 0h0m17 0h0m56 0h0m-90 1h0m18 0h0m14 0h0m13 0h0m10 0h0m6 0h0m13 0h0m66 0h0m2 0h0m-163 1h0m23 0h0m5 0h0m8 0h0m5 0h0m25 0h0m1 0h0m33 0h0m-57 1h0m4 0h0m13 0h0m38 0h0m7 0h0m60 0h0m-131 1h0m7 0h0m8 0h0m6 0h0m17 0h0m28 0h0m62 0h0m1 0h0m-142 1h0m15 0h0m50 0h0m61 0h0m-105 1h0m33 0h0m11 0h0m81 0h0m-110 1h0m3 0h0m2 0h0m3 0h0m-26 1h0m2 0h0m13 0h0m29 0h0m1 0h0m-10 1h0m9 0h0m-61 1h0m31 0h0m17 0h0m12 0h0m-65 1h0m35 0h0m-29 1h0m25 0h0m29 0h0m7 0h0m-42 1h0m1 0h0m20 0h0m-7 1h0m11 0h0m-45 1h0m18 0h0m2 0h0m4 0h0m4 0h0m2 0h0m-16 1h0m33 0h0m8 0h0m-45 1h0m9 0h0m24 0h0m2 0h0m-44 1h0m8 0h0m28 0h0m16 0h0m-23 1h0m1 0h0m24 0h0m-56 1h0m4 0h0m6 0h0m17 0h0m4 0h0m-36 1h0m5 0h0m28 0h0m-32 1h0m4 0h0m1 0h0m5 1h0m10 0h0m1 0h0m19 1h0m-36 1h0m1 0h0m1 0h0m33 0h0m2 1h0m24 0h0m-49 1h0m10 0h0m2 0h0m9 1h0m-12 1h0m2 0h0m11 1h0m-14 1h0m13 0h0m6 0h0m15 0h0m-48 1h0m3 1h0m0 1h0m-2 1h0m-5 2h0m33 0h0m2 0h0m29 4h0"/><path stroke="rgb(0,0,220)" stroke-width="1.8" d="M649 725h0m-2 3h0m0 1h0m-7 1h0m10 0h0m-7 1h0m1 0h0m4 3h0m-15 2h0m23 0h0m4 0h0m3 4h0m-23 1h0m8 0h0m-30 1h0m17 0h0m4 0h0m4 1h0m21 0h0m-25 1h0m25 0h0m-50 2h0m4 0h0m35 0h0m-14 1h0m24 0h0m-44 1h0m35 0h0m-43 1h0m49 0h0m-11 1h0m-36 1h0m-8 4h0m40 1h0m6 0h0m-46 4h0m47 0h0m-53 1h0m39 0h0m-11 2h0m-40 1h0m6 0h0m5 0h0m3 0h0m41 0h0m-7 1h0m14 0h0m-67 1h0m45 0h0m-24 1h0m-17 1h0m59 0h0m-9 1h0m14 0h0m-57 1h0m4 0h0m38 0h0m9 0h0m8 0h0m-69 2h0m0 3h0m50 1h0m-12 1h0m-24 1h0m32 0h0m-48 1h0m11 1h0m27 0h0m7 0h0m2 0h0m-52 1h0m54 0h0m-49 1h0m43 0h0m-56 3h0m13 0h0m-8 1h0m4 0h0m6 0h0m3 0h0m40 0h0m-82 1h0m6 0h0m58 0h0m10 0h0m7 0h0m-74 1h0m17 0h0m6 0h0m41 1h0m-47 1h0m91 1h0m-76 1h0m-15 1h0m2 0h0m1 0h0m4 0h0m7 0h0m75 0h0m-108 1h0m16 1h0m19 0h0m24 0h0m21 0h0m-75 1h0m3 0h0m29 0h0m27 0h0m46 0h0m-117 1h0m24 0h0m36 1h0m61 0h0m-98 1h0m2 1h0m9 0h0m7 0h0m12 0h0m22 0h0m71 1h0m-123 1h0m3 0h0m49 0h0m1 0h0m-57 1h0m27 1h0m-26 1h0m5 0h0m32 1h0m-42 2h0m1 0h0m41 0h0m-71 1h0m23 0h0m48 0h0m12 0h0m-91 1h0m3 0h0m27 0h0m26 0h0m15 0h0m12 0h0m-64 1h0m46 0h0m7 0h0m12 0h0m-50 1h0m15 0h0m4 0h0m29 0h0m-66 2h0m33 0h0m-39 1h0m4 0h0m4 0h0m13 0h0m2 0h0m1 0h0m1 1h0m-26 1h0m29 0h0m14 0h0m11 0h0m-32 1h0m-13 1h0m13 0h0m14 0h0m9 0h0m-48 1h0m1 0h0m19 0h0m29 0h0m-44 1h0m4 0h0m49 0h0m-14 1h0m9 0h0m-17 1h0m7 0h0m10 0h0m-59 1h0m2 0h0m11 0h0m2 0h0m3 0h0m8 0h0m-9 1h0m30 0h0m2 0h0m-36 1h0m46 0h0m-51 1h0m6 0h0m-7 1h0m41 0h0m26 0h0m-49 1h0m-15 1h0m-1 1h0m6 0h0m1 0h0m5 0h0m-7 1h0m7 1h0m2 0h0m21 0h0m22 0h0m-20 1h0m-36 1h0m56 0h0m-51 1h0m5 1h0m12 0h0m10 0h0m4 0h0m-32 2h0m3 0h0m26 0h0m1 0h0m1 0h0m2 1h0m-30 2h0m5 0h0m21 1h0m-23 1h0m-16 3h0m21 3h0"/><path stroke="rgb(0,140,255)" stroke-width="1.8" d="M641 729h0m0 1h0m-2 7h0m5 0h0m-15 1h0m-6 1h0m2 1h0m4 0h0m7 0h0m10 0h0m-12 1h0m11 0h0m-18 1h0m7 0h0m9 0h0m-22 1h0m4 0h0m23 0h0m15 0h0m-40 1h0m28 1h0m-13 1h0m8 0h0m-11 2h0m15 0h0m1 0h0m-6 2h0m-34 1h0m1 0h0m36 0h0m-36 1h0m12 1h0m24 1h0m-34 1h0m30 1h0m3 1h0m-43 1h0m7 0h0m38 0h0m-40 1h0m10 0h0m30 0h0m-49 1h0m15 0h0m31 0h0m-42 1h0m2 0h0m36 0h0m10 0h0m-5 1h0m-11 1h0m8 1h0m3 0h0m-46 1h0m5 0h0m34 0h0m-1 1h0m-37 1h0m-10 1h0m4 1h0m18 0h0m15 0h0m-20 1h0m-25 1h0m16 0h0m35 0h0m-30 1h0m18 0h0m-24 1h0m5 0h0m-15 1h0m36 0h0m-34 2h0m6 0h0m28 0h0m-42 1h0m17 0h0m1 0h0m11 0h0m3 0h0m8 0h0m-44 2h0m29 0h0m12 0h0m-16 1h0m23 0h0m-53 1h0m15 0h0m27 0h0m9 0h0m-47 1h0m36 0h0m7 0h0m-38 1h0m30 0h0m-38 1h0m4 0h0m5 0h0m12 0h0m17 0h0m-34 1h0m14 0h0m10 0h0m6 0h0m-34 1h0m32 1h0m-40 1h0m12 0h0m37 0h0m-48 1h0m13 0h0m24 0h0m3 0h0m-56 1h0m18 0h0m38 0h0m-56 1h0m50 0h0m7 0h0m7 0h0m2 0h0m40 0h0m-108 1h0m52 0h0m-10 1h0m15 0h0m53 0h0m-90 1h0m36 0h0m3 0h0m-40 1h0m28 0h0m-27 1h0m8 0h0m9 0h0m35 0h0m-22 1h0m8 0h0m-47 1h0m11 0h0m12 0h0m21 0h0m-33 1h0m22 0h0m1 0h0m13 0h0m4 0h0m-8 1h0m16 0h0m-62 1h0m3 0h0m7 0h0m1 0h0m14 0h0m2 0h0m5 0h0m1 0h0m21 0h0m-48 1h0m17 0h0m14 0h0m1 0h0m3 0h0m-24 1h0m18 0h0m10 0h0m-41 1h0m33 0h0m-74 1h0m31 0h0m7 0h0m36 0h0m2 0h0m-43 1h0m17 0h0m2 0h0m29 0h0m-47 1h0m1 0h0m3 0h0m35 0h0m17 0h0m-84 1h0m33 0h0m13 0h0m25 0h0m4 0h0m-35 1h0m3 0h0m17 0h0m6 0h0m1 0h0m1 0h0m-71 1h0m4 0h0m8 0h0m15 0h0m2 0h0m-29 1h0m36 0h0m4 0h0m3 0h0m34 0h0m-75 1h0m2 0h0m28 0h0m7 0h0m25 0h0m13 0h0m-81 1h0m14 0h0m1 0h0m13 0h0m12 0h0m35 0h0m4 0h0m-64 1h0m7 0h0m62 0h0m-83 1h0m20 0h0m2 0h0m25 0h0m11 0h0m-52 1h0m9 0h0m11 0h0m1 0h0m3 0h0m21 0h0m8 0h0m10 0h0m-31 1h0m8 0h0m20 0h0m-39 1h0m16 0h0m-25 1h0m28 0h0m3 0h0m5 0h0m6 0h0m1 0h0m5 0h0m1 0h0m-48 1h0m23 0h0m-24 1h0m5 0h0m1 0h0m1 0h0m6 0h0m18 0h0m1 0h0m16 0h0m1 0h0m-46 1h0m44 0h0m1 0h0m-40 1h0m8 0h0m4 0h0m1 0h0m9 1h0m13 0h0m-19 1h0m10 0h0m4 0h0m-52 1h0m36 0h0m22 1h0m-48 1h0m28 0h0m-25 1h0m-9 1h0m15 0h0m-10 1h0m6 2h0m22 0h0m-29 1h0m26 0h0m1 0h0m-17 1h0m16 0h0m5 0h0m-15 2h0m10 2h0m-15 1h0m12 0h0m-30 2h0m35 2h0m-28 1h0m-4 1h0"/><path stroke="rgb(0,210,230)" stroke-width="1.8" d="M642 731h0m-3 8h0m7 0h0m4 0h0m-1 3h0m-15 1h0m6 0h0m1 0h0m-20 1h0m26 0h0m-26 1h0m4 0h0m3 0h0m3 0h0m13 0h0m-24 1h0m4 0h0m9 0h0m10 0h0m-14 1h0m4 0h0m1 0h0m4 0h0m-20 1h0m9 0h0m2 0h0m-13 1h0m6 0h0m6 0h0m14 0h0m7 0h0m-6 1h0m7 0h0m-9 1h0m-17 1h0m19 0h0m2 0h0m4 0h0m-37 1h0m13 0h0m19 0h0m-30 1h0m2 0h0m26 0h0m-32 1h0m13 0h0m3 0h0m18 0h0m-36 1h0m3 0h0m14 0h0m12 0h0m-29 1h0m5 0h0m25 0h0m3 0h0m3 0h0m-7 1h0m5 0h0m-38 1h0m1 0h0m1 0h0m5 0h0m20 0h0m3 0h0m6 0h0m-32 1h0m3 0h0m9 0h0m3 0h0m5 0h0m11 0h0m-13 1h0m-21 1h0m12 0h0m27 0h0m-15 1h0m-29 1h0m4 0h0m5 0h0m-10 1h0m20 0h0m1 0h0m13 0h0m-32 1h0m4 0h0m24 0h0m-28 1h0m3 0h0m29 0h0m4 0h0m3 0h0m-35 1h0m24 0h0m8 1h0m-25 1h0m19 0h0m5 0h0m-38 1h0m6 0h0m12 0h0m4 0h0m3 0h0m15 0h0m-43 1h0m6 0h0m5 0h0m-17 1h0m11 0h0m26 0h0m1 0h0m1 0h0m2 0h0m-42 1h0m2 0h0m7 0h0m3 0h0m17 0h0m-23 1h0m10 0h0m6 0h0m8 0h0m7 0h0m-35 1h0m2 0h0m29 0h0m-27 1h0m10 0h0m21 0h0m2 0h0m-39 1h0m5 0h0m1 0h0m13 0h0m13 0h0m-25 1h0m-8 1h0m2 0h0m1 0h0m9 0h0m13 0h0m-26 1h0m16 0h0m3 0h0m8 0h0m2 0h0m-38 1h0m36 0h0m-27 1h0m5 0h0m12 0h0m16 0h0m-33 1h0m14 0h0m5 0h0m5 0h0m-27 1h0m11 0h0m19 0h0m-35 1h0m34 0h0m-24 1h0m10 0h0m5 0h0m9 0h0m1 0h0m-41 1h0m4 0h0m27 0h0m3 0h0m5 0h0m2 0h0m-42 1h0m9 0h0m20 0h0m2 0h0m2 0h0m7 0h0m1 0h0m-25 1h0m23 0h0m3 0h0m-37 1h0m6 0h0m17 0h0m5 0h0m-25 1h0m7 0h0m1 0h0m9 0h0m-27 1h0m9 0h0m17 0h0m4 0h0m5 0h0m1 0h0m1 0h0m-30 1h0m10 0h0m11 0h0m10 0h0m-34 1h0m2 0h0m13 0h0m13 0h0m5 0h0m-23 1h0m9 0h0m8 0h0m2 0h0m3 0h0m-18 1h0m5 0h0m14 0h0m-33 1h0m5 0h0m15 0h0m1 0h0m5 0h0m-26 1h0m7 0h0m11 0h0m1 0h0m8 0h0m11 0h0m-39 1h0m18 0h0m-16 1h0m18 0h0m8 0h0m5 0h0m-30 1h0m8 0h0m1 0h0m-5 1h0m1 0h0m3 0h0m3 0h0m-30 1h0m13 0h0m6 0h0m9 0h0m1 0h0m-12 1h0m3 0h0m3 0h0m8 0h0m3 0h0m6 0h0m-32 1h0m20 0h0m4 0h0m-31 1h0m4 0h0m14 0h0m1 0h0m9 0h0m1 0h0m14 0h0m-45 1h0m6 0h0m-8 1h0m4 0h0m24 0h0m4 0h0m16 0h0m-45 1h0m4 0h0m8 0h0m22 0h0m4 0h0m-36 1h0m15 0h0m6 0h0m1 0h0m13 0h0m-34 2h0m8 0h0m3 0h0m1 0h0m11 0h0m2 0h0m8 0h0m-53 1h0m10 0h0m1 0h0m3 0h0m13 0h0m9 0h0m9 0h0m-44 1h0m20 0h0m3 0h0m4 0h0m11 0h0m-19 1h0m10 0h0m-9 1h0m9 0h0m6 0h0m13 0h0m-43 1h0m43 0h0m-68 1h0m16 0h0m14 0h0m26 0h0m-18 1h0m28 0h0m-8 1h0m8 0h0m-35 1h0m20 0h0m7 0h0m7 0h0m-15 1h0m3 0h0m8 1h0m5 0h0m-20 1h0m-39 6h0m3 1h0m16 0h0m13 0h0m-17 4h0"/><path stroke="rgb(0,230,150)" stroke-width="1.8" d="M628 742h0m10 1h0m-9 1h0m11 0h0m2 1h0m5 0h0m-22 1h0m-2 1h0m4 0h0m4 0h0m11 0h0m7 0h0m-27 1h0m8 0h0m7 0h0m-20 1h0m4 0h0m5 0h0m6 0h0m-15 1h0m1 0h0m1 0h0m3 0h0m3 0h0m12 0h0m1 0h0m4 0h0m5 0h0m-33 1h0m1 0h0m6 0h0m13 0h0m3 1h0m-22 1h0m1 0h0m4 0h0m1 0h0m12 0h0m-18 1h0m3 0h0m4 0h0m5 0h0m9 0h0m8 0h0m-23 1h0m9 0h0m4 0h0m5 0h0m-22 1h0m9 0h0m17 0h0m-32 1h0m3 0h0m1 0h0m3 0h0m10 0h0m6 0h0m-24 1h0m8 0h0m13 0h0m7 0h0m-23 1h0m5 0h0m2 0h0m1 0h0m-6 1h0m24 0h0m-26 1h0m12 0h0m6 0h0m-20 1h0m3 0h0m5 0h0m-18 1h0m3 0h0m2 0h0m8 0h0m9 0h0m1 0h0m6 0h0m5 0h0m-18 1h0m8 0h0m1 0h0m7 0h0m1 0h0m5 0h0m-33 1h0m3 0h0m20 0h0m5 0h0m3 0h0m-26 1h0m10 0h0m9 0h0m-24 1h0m4 0h0m11 0h0m1 0h0m1 0h0m3 0h0m8 0h0m-35 1h0m7 0h0m6 0h0m10 0h0m-26 1h0m5 0h0m19 0h0m1 0h0m-5 1h0m9 0h0m2 0h0m3 0h0m-21 1h0m4 0h0m-7 1h0m17 0h0m-32 1h0m3 0h0m22 0h0m-23 1h0m20 0h0m4 0h0m1 0h0m-33 1h0m11 0h0m1 0h0m3 0h0m5 0h0m7 0h0m-13 1h0m1 0h0m15 0h0m3 0h0m3 0h0m-25 1h0m10 0h0m-6 1h0m6 0h0m-20 1h0m8 0h0m2 0h0m3 0h0m4 0h0m5 0h0m-22 1h0m7 0h0m-8 1h0m1 0h0m4 0h0m0 1h0m7 0h0m2 0h0m2 0h0m1 0h0m1 0h0m-16 1h0m6 0h0m-6 1h0m5 0h0m1 0h0m4 0h0m-19 1h0m4 0h0m-3 1h0m12 0h0m6 0h0m1 0h0m4 0h0m6 0h0m4 0h0m-27 1h0m8 0h0m19 1h0m1 0h0m-33 1h0m4 1h0m3 0h0m2 0h0m1 0h0m1 0h0m13 0h0m-27 1h0m2 0h0m3 0h0m1 0h0m13 0h0m-9 1h0m4 0h0m1 0h0m-17 1h0m23 0h0m1 0h0m-23 1h0m16 0h0m-17 1h0m1 0h0m1 0h0m26 0h0m-31 1h0m10 0h0m1 0h0m12 0h0m1 0h0m-22 1h0m7 0h0m10 0h0m12 0h0m-35 1h0m20 0h0m-15 1h0m1 0h0m17 0h0m-9 1h0m-11 2h0m6 0h0m1 0h0m-8 1h0m-5 1h0m10 1h0m3 0h0m6 0h0m2 0h0m-19 1h0m1 0h0m12 0h0m-10 1h0m12 0h0m-5 1h0m4 0h0m2 0h0m9 0h0m-12 1h0m7 0h0m3 0h0m5 0h0m-23 1h0m3 0h0m5 0h0m6 0h0m7 0h0m-20 1h0m1 0h0m1 0h0m4 0h0m-31 1h0m20 0h0m10 0h0m2 0h0m3 0h0m-16 1h0m8 1h0m5 0h0m-32 1h0m29 1h0m-1 1h0m8 0h0m-1 2h0m0 1h0"/><path stroke="rgb(30,240,60)" stroke-width="1.8" d="M627 743h0m3 2h0m0 1h0m9 2h0m-12 1h0m8 0h0m4 0h0m-13 1h0m1 0h0m1 0h0m6 0h0m1 0h0m-16 1h0m1 0h0m5 0h0m7 0h0m7 0h0m1 0h0m2 0h0m-26 1h0m9 0h0m5 0h0m1 0h0m5 0h0m5 0h0m-18 1h0m11 0h0m1 0h0m4 0h0m-18 1h0m17 0h0m-18 1h0m4 0h0m3 0h0m1 0h0m1 0h0m9 0h0m5 0h0m-27 1h0m4 0h0m7 0h0m8 0h0m1 0h0m10 0h0m-30 1h0m13 0h0m6 0h0m-11 1h0m15 0h0m-23 1h0m8 0h0m5 0h0m9 0h0m1 0h0m-6 1h0m7 0h0m-24 1h0m3 0h0m1 0h0m1 0h0m7 0h0m1 0h0m5 0h0m-15 1h0m7 0h0m6 0h0m3 0h0m-15 1h0m1 0h0m1 0h0m2 0h0m6 0h0m3 0h0m-20 1h0m8 0h0m-8 1h0m1 0h0m10 0h0m2 0h0m6 0h0m-21 1h0m17 0h0m3 0h0m3 0h0m-24 1h0m5 0h0m3 0h0m4 0h0m-15 1h0m2 0h0m1 0h0m1 0h0m2 0h0m14 0h0m-22 1h0m1 0h0m5 0h0m-4 1h0m3 0h0m7 0h0m-4 1h0m1 0h0m3 0h0m4 0h0m-22 1h0m18 0h0m1 0h0m1 0h0m1 0h0m-9 1h0m5 0h0m8 0h0m-20 1h0m3 0h0m5 0h0m-3 1h0m10 0h0m-13 1h0m2 0h0m1 0h0m2 0h0m1 0h0m1 0h0m5 0h0m-20 2h0m11 0h0m-13 3h0m5 0h0m-16 2h0m9 0h0m-7 1h0m1 0h0m15 0h0m-13 1h0m6 0h0m1 0h0m4 0h0m-19 1h0m5 0h0m2 0h0m3 0h0m3 0h0m1 0h0m1 0h0m-6 1h0m-11 1h0m1 0h0m5 0h0m1 0h0m1 0h0m1 0h0m4 0h0m3 0h0m1 1h0m-7 1h0m5 0h0m-3 1h0m-8 1h0m-3 1h0m2 0h0m-7 3h0m1 0h0m14 0h0m-11 1h0m-5 1h0m7 0h0m-5 1h0m0 3h0m15 0h0m-18 2h0m9 0h0m2 2h0m-5 3h0m4 1h0m-6 1h0m1 2h0m1 0h0m-3 3h0"/><path stroke="rgb(130,245,0)" stroke-width="1.8" d="M632 746h0m-4 1h0m-2 1h0m3 2h0m2 0h0m-13 2h0m11 0h0m6 0h0m-5 1h0m1 0h0m1 0h0m5 0h0m-1 2h0m-8 1h0m2 0h0m2 0h0m2 0h0m-3 1h0m1 0h0m7 0h0m-18 1h0m6 0h0m2 0h0m4 0h0m1 0h0m-4 1h0m6 0h0m1 0h0m-16 1h0m3 0h0m5 0h0m2 0h0m4 0h0m1 0h0m-14 1h0m13 0h0m-11 1h0m3 0h0m3 0h0m3 0h0m3 0h0m-19 1h0m17 0h0m-14 1h0m9 0h0m-14 1h0m2 0h0m8 0h0m4 0h0m-15 1h0m2 0h0m3 0h0m1 0h0m6 0h0m-13 1h0m3 0h0m1 0h0m-5 1h0m-4 1h0m5 0h0m-2 1h0m2 0h0m2 0h0m1 0h0m3 0h0m-9 2h0m2 0h0m0 1h0m-14 1h0m3 1h0m12 0h0m-6 5h0m-13 2h0m-2 2h0m3 1h0m-4 1h0m6 1h0m-10 2h0m1 0h0m-15 11h0m11 5h0"/><path stroke="rgb(140,140,250)" stroke-width="1.8" d="M1186 676h0m-101 14h0m-2 11h0m21 2h0m9 1h0m-13 1h0m-10 1h0m-43 2h0m20 1h0m9 0h0m-21 1h0m22 1h0m-151 1h0m279 0h0m-133 1h0m13 2h0m-139 1h0m151 0h0m-9 1h0m-19 1h0m28 0h0m-2 1h0m28 0h0m-81 1h0m52 0h0m106 0h0m-132 2h0m-8 1h0m1 0h0m26 0h0m11 0h0m-64 1h0m18 0h0m36 0h0m4 0h0m-25 2h0m-33 1h0m13 0h0m24 0h0m16 0h0m2 0h0m-58 1h0m66 0h0m4 0h0m-45 1h0m1 0h0m6 0h0m15 0h0m19 0h0m-65 1h0m12 0h0m53 0h0m-91 1h0m26 0h0m53 0h0m-165 1h0m73 0h0m15 0h0m65 0h0m8 0h0m4 0h0m-10 1h0m40 0h0m2 0h0m-74 1h0m22 0h0m33 0h0m-73 1h0m58 0h0m-65 1h0m11 0h0m58 0h0m1 0h0m-75 1h0m9 0h0m55 0h0m7 0h0m-86 1h0m5 0h0m7 0h0m76 0h0m-106 1h0m3 0h0m8 0h0m26 0h0m1 0h0m47 0h0m-48 1h0m151 0h0m-157 1h0m10 0h0m58 0h0m14 0h0m-84 1h0m13 0h0m56 0h0m10 0h0m-89 1h0m79 0h0m5 0h0m-53 2h0m29 0h0m103 0h0m-256 1h0m79 0h0m30 0h0m81 0h0m-100 2h0m6 0h0m3 0h0m85 1h0m14 0h0m-119 1h0m11 0h0m78 0h0m-87 1h0m22 0h0m82 0h0m-121 1h0m21 0h0m184 0h0m-214 1h0m18 0h0m7 0h0m95 0h0m-126 1h0m120 0h0m4 0h0m8 0h0m-83 1h0m70 0h0m8 0h0m1 1h0m-171 1h0m50 0h0m14 0h0m20 0h0m79 1h0m-155 1h0m71 0h0m-56 1h0m56 0h0m9 0h0m72 0h0m-96 1h0m13 0h0m11 0h0m-95 1h0m32 0h0m42 0h0m104 0h0m10 0h0m9 0h0m-171 1h0m10 0h0m15 0h0m17 0h0m2 0h0m8 0h0m90 0h0m27 0h0m-155 1h0m55 0h0m-67 1h0m6 0h0m7 0h0m14 0h0m31 0h0m99 0h0m11 0h0m24 0h0m-205 1h0m91 0h0m71 0h0m17 0h0m-175 1h0m37 0h0m37 0h0m78 0h0m18 0h0m-140 1h0m7 0h0m4 0h0m20 0h0m5 0h0m89 0h0m7 0h0m-120 1h0m120 0h0m-172 1h0m68 0h0m7 0h0m68 0h0m95 0h0m-214 1h0m9 0h0m16 0h0m6 0h0m108 0h0m-169 1h0m13 0h0m11 0h0m9 0h0m19 0h0m37 0h0m89 0h0m-172 1h0m37 0h0m15 0h0m10 0h0m4 0h0m114 0h0m-163 1h0m38 0h0m21 0h0m75 0h0m20 0h0m1 0h0m9 0h0m-29 1h0m9 0h0m-129 1h0m130 0h0m21 0h0m14 0h0m9 0h0m-183 1h0m33 0h0m11 0h0m86 0h0m2 0h0m24 0h0m-162 1h0m1 0h0m22 0h0m5 0h0m5 0h0m11 0h0m106 0h0m1 0h0m12 0h0m21 0h0m10 0h0m-180 1h0m5 0h0m135 0h0m9 0h0m22 0h0m-209 1h0m44 0h0m11 0h0m20 0h0m78 0h0m15 0h0m-170 1h0m23 0h0m12 0h0m26 0h0m5 0h0m-50 1h0m25 0h0m6 0h0m13 0h0m90 0h0m3 0h0m38 0h0m-176 1h0m14 0h0m4 0h0m6 0h0m129 0h0m37 0h0m2 0h0m-198 1h0m4 0h0m53 0h0m109 0h0m5 0h0m7 0h0m-163 1h0m12 0h0m113 0h0m86 0h0m-235 1h0m3 0h0m27 1h0m144 0h0m8 0h0m14 0h0m-199 1h0m21 0h0m6 0h0m10 0h0m117 0h0m28 0h0m-172 1h0m27 0h0m17 0h0m3 0h0m-40 1h0m22 0h0m19 0h0m133 0h0m3 0h0m2 0h0m-185 1h0m12 0h0m41 0h0m109 0h0m30 0h0m-162 1h0m107 0h0m61 0h0m2 0h0m-193 1h0m7 0h0m6 0h0m152 0h0m2 0h0m-170 1h0m29 0h0m135 0h0m-154 1h0m1 0h0m112 0h0m37 0h0m-163 1h0m5 0h0m8 0h0m178 0h0m-196 1h0m12 0h0m26 0h0m140 0h0m6 0h0m7 0h0m-185 1h0m12 0h0m106 0h0m5 0h0m-131 1h0m30 0h0m1 0h0m13 0h0m168 0h0m-32 1h0m-44 1h0m-133 1h0m8 0h0m-3 1h0m8 0h0m50 0h0m78 0h0m12 0h0m12 0h0m16 0h0m-183 1h0m19 0h0m18 0h0m4 0h0m-44 1h0m10 0h0m174 0h0m-176 1h0m4 0h0m141 0h0m24 0h0m11 0h0m-13 1h0m19 0h0m-188 1h0m124 0h0m16 0h0m34 0h0m6 0h0m10 0h0m-57 1h0m59 0h0m5 0h0m-9 1h0m-186 1h0m7 0h0m14 0h0m126 0h0m-63 1h0m53 0h0m9 0h0m12 0h0m15 0h0m10 0h0m4 0h0m-196 1h0m27 0h0m101 0h0m12 0h0m9 0h0m-5 1h0m34 0h0m-166 1h0m6 0h0m15 0h0m124 0h0m1 0h0m32 0h0m-17 1h0m9 0h0m9 0h0m-191 1h0m2 0h0m24 0h0m162 0h0m-120 1h0m84 0h0m3 0h0m23 0h0m-168 1h0m18 0h0m104 0h0m14 0h0m11 0h0m33 0h0m-179 1h0m4 0h0m3 0h0m82 0h0m39 0h0m14 0h0m-152 1h0m16 0h0m38 0h0m60 0h0m1 0h0m25 0h0m1 0h0m17 0h0m-162 1h0m19 0h0m111 0h0m5 0h0m-72 1h0m77 0h0m1 0h0m18 0h0m15 0h0m12 0h0m-176 1h0m15 0h0m96 0h0m29 0h0m1 0h0m36 0h0m28 0h0m-208 1h0m61 0h0m3 0h0m59 0h0m1 0h0m39 0h0m7 0h0m19 0h0m1 0h0m9 0h0m-48 1h0m19 0h0m9 0h0m3 0h0m1 0h0m6 0h0m18 0h0m-204 1h0m5 0h0m125 0h0m15 0h0m22 0h0m-172 1h0m8 0h0m2 0h0m96 0h0m9 0h0m1 0h0m26 0h0m16 0h0m1 0h0m22 0h0m10 0h0m-184 1h0m3 0h0m75 0h0m32 0h0m13 0h0m9 0h0m1 0h0m5 0h0m11 0h0m80 0h0m-234 1h0m13 0h0m97 0h0m16 0h0m73 0h0m-144 1h0m65 0h0m24 0h0m21 0h0m11 0h0m-161 1h0m39 0h0m7 0h0m61 0h0m11 0h0m72 0h0m-195 1h0m95 0h0m7 0h0m21 0h0m13 0h0m14 0h0m4 0h0m8 0h0m12 0h0m7 0h0m-132 1h0m52 0h0m28 0h0m21 0h0m17 0h0m10 0h0m-184 1h0m70 0h0m33 0h0m1 0h0m37 0h0m16 0h0m15 0h0m-158 1h0m26 0h0m29 0h0m5 0h0m111 0h0m-187 1h0m10 0h0m2 0h0m101 0h0m3 0h0m47 0h0m5 0h0m17 0h0m20 0h0m-206 1h0m5 0h0m54 0h0m66 0h0m4 0h0m13 0h0m9 0h0m16 0h0m-108 1h0m30 0h0m48 0h0m17 0h0m-149 1h0m17 0h0m94 0h0m3 0h0m33 0h0m6 0h0m45 0h0m-108 1h0m10 0h0m-95 1h0m11 0h0m78 0h0m17 0h0m27 0h0m31 0h0m28 0h0m-206 1h0m14 0h0m2 0h0m1 0h0m86 0h0m32 0h0m19 0h0m17 0h0m2 0h0m9 0h0m-184 1h0m6 0h0m18 0h0m20 0h0m32 0h0m-69 1h0m2 0h0m93 0h0m7 0h0m6 0h0m5 0h0m3 0h0m7 0h0m5 0h0m2 0h0m29 0h0m9 0h0m2 0h0m8 0h0m-179 1h0m29 0h0m52 0h0m10 0h0m37 0h0m24 0h0m27 0h0m-183 1h0m22 0h0m82 0h0m38 0h0m-132 1h0m27 0h0m21 0h0m22 0h0m28 0h0m7 0h0m1 0h0m9 0h0m25 0h0m12 0h0m22 0h0m-187 1h0m98 0h0m47 0h0m14 0h0m-148 1h0m81 0h0m60 0h0m27 0h0m5 0h0m-117 1h0m66 0h0m1 0h0m-130 1h0m19 0h0m70 0h0m22 0h0m3 0h0m18 0h0m-126 1h0m2 0h0m6 0h0m7 0h0m67 0h0m59 0h0m2 0h0m17 0h0m2 0h0m-167 1h0m49 0h0m112 0h0m18 0h0m10 0h0m-183 1h0m9 0h0m42 0h0m10 0h0m18 0h0m18 0h0m3 0h0m2 0h0m4 0h0m9 0h0m20 0h0m14 0h0m34 0h0m-112 1h0m1 0h0m38 0h0m49 0h0m9 0h0m7 0h0m-186 1h0m18 0h0m42 0h0m16 0h0m8 0h0m48 0h0m1 0h0m42 0h0m-149 1h0m12 0h0m40 0h0m40 0h0m4 0h0m-54 1h0m27 0h0m5 0h0m38 0h0m52 0h0m-181 1h0m22 0h0m13 0h0m16 0h0m44 0h0m60 0h0m-98 1h0m17 0h0m8 0h0m2 0h0m72 0h0m-151 1h0m18 0h0m36 0h0m9 0h0m9 0h0m37 0h0m60 0h0m-166 1h0m1 0h0m7 0h0m13 0h0m3 0h0m1 0h0m4 0h0m8 0h0m9 0h0m25 0h0m-64 1h0m41 0h0m53 0h0m43 0h0m23 0h0m-174 1h0m39 0h0m15 0h0m43 0h0m7 0h0m3 0h0m50 0h0m-128 1h0m4 0h0m41 0h0m17 0h0m71 0h0m-167 1h0m3 0h0m33 0h0m32 0h0m3 0h0m12 0h0m24 0h0m10 0h0m8 0h0m-98 1h0m19 0h0m9 0h0m2 0h0m8 0h0m-49 1h0m5 0h0m26 0h0m25 0h0m3 0h0m5 0h0m18 0h0m-84 1h0m40 0h0m3 0h0m7 0h0m4 0h0m21 0h0m6 0h0m34 0h0m-113 1h0m24 0h0m26 0h0m27 0h0m7 0h0m-64 1h0m6 0h0m20 0h0m72 0h0m38 0h0m8 0h0"/><path stroke="rgb(80,80,252)" stroke-width="1.8" d="M1064 727h0m5 0h0m-10 1h0m11 0h0m1 0h0m1 0h0m-22 1h0m8 0h0m8 0h0m18 0h0m-13 1h0m-9 1h0m-26 1h0m21 0h0m11 0h0m-28 1h0m5 0h0m9 0h0m5 0h0m10 0h0m-34 1h0m2 0h0m20 0h0m-9 1h0m16 0h0m1 0h0m-30 1h0m7 0h0m16 1h0m11 0h0m14 1h0m-54 1h0m35 0h0m7 0h0m1 0h0m-45 2h0m53 0h0m-63 1h0m47 0h0m-43 3h0m2 0h0m9 0h0m37 0h0m-52 1h0m52 1h0m6 0h0m1 0h0m-57 1h0m8 0h0m46 1h0m1 0h0m-47 1h0m-7 1h0m48 1h0m4 0h0m-58 1h0m31 0h0m-33 1h0m61 0h0m-57 2h0m-9 1h0m23 1h0m35 0h0m2 0h0m0 1h0m2 0h0m-61 1h0m73 0h0m-4 1h0m-72 1h0m47 0h0m12 0h0m13 0h0m-79 1h0m9 1h0m60 0h0m7 0h0m7 0h0m-79 1h0m57 0h0m11 0h0m-4 1h0m-77 1h0m8 0h0m4 0h0m59 0h0m11 0h0m3 0h0m-4 1h0m-74 1h0m-9 1h0m1 0h0m78 1h0m-60 1h0m-10 1h0m54 0h0m30 0h0m-94 2h0m71 0h0m1 0h0m2 0h0m1 0h0m-98 1h0m92 0h0m7 0h0m4 0h0m-83 1h0m60 0h0m13 0h0m12 0h0m-82 1h0m50 0h0m34 0h0m2 0h0m11 0h0m-111 1h0m5 0h0m10 0h0m4 0h0m58 0h0m31 0h0m-134 1h0m3 0h0m25 0h0m105 0h0m-135 1h0m45 0h0m58 0h0m1 0h0m13 0h0m24 0h0m-143 1h0m5 0h0m27 0h0m12 0h0m18 0h0m64 0h0m17 0h0m-137 1h0m18 0h0m69 0h0m13 0h0m35 0h0m5 0h0m-24 1h0m7 0h0m-98 1h0m2 0h0m13 0h0m80 0h0m4 0h0m3 0h0m-161 1h0m35 0h0m14 0h0m16 0h0m62 0h0m15 0h0m20 0h0m-162 1h0m31 0h0m3 0h0m17 0h0m3 0h0m48 0h0m24 0h0m1 0h0m8 0h0m17 0h0m-149 1h0m31 0h0m28 0h0m90 0h0m-148 1h0m32 0h0m62 0h0m46 0h0m11 0h0m-135 1h0m16 0h0m14 0h0m43 0h0m25 0h0m10 0h0m4 0h0m27 0h0m-126 1h0m27 0h0m74 0h0m1 0h0m5 0h0m5 0h0m4 0h0m1 0h0m13 0h0m4 0h0m-167 1h0m41 0h0m64 0h0m-64 1h0m11 0h0m6 0h0m53 0h0m1 0h0m-90 1h0m14 0h0m4 0h0m2 0h0m5 0h0m72 0h0m5 0h0m17 0h0m16 0h0m4 0h0m-109 1h0m39 0h0m8 0h0m26 0h0m-111 1h0m8 0h0m1 0h0m6 0h0m87 0h0m2 0h0m19 0h0m-121 1h0m10 0h0m20 0h0m83 0h0m8 0h0m11 0h0m7 0h0m10 0h0m-133 1h0m11 0h0m11 0h0m59 0h0m17 0h0m5 0h0m22 0h0m3 0h0m7 0h0m4 0h0m-175 1h0m44 0h0m8 0h0m72 0h0m5 0h0m43 0h0m-149 1h0m6 0h0m10 0h0m14 0h0m81 0h0m1 0h0m9 0h0m-79 1h0m45 0h0m11 0h0m26 0h0m21 0h0m2 0h0m-161 1h0m34 0h0m6 0h0m66 0h0m6 0h0m6 0h0m1 0h0m5 0h0m10 0h0m9 0h0m4 0h0m-158 1h0m26 0h0m116 0h0m5 0h0m33 0h0m-148 1h0m8 0h0m11 0h0m10 0h0m53 0h0m53 0h0m14 0h0m-145 1h0m89 0h0m12 0h0m7 0h0m-137 1h0m8 0h0m8 0h0m4 0h0m11 0h0m6 0h0m11 0h0m8 0h0m56 0h0m17 0h0m4 0h0m15 0h0m21 0h0m-164 1h0m4 0h0m10 0h0m2 0h0m5 0h0m94 0h0m-104 1h0m3 0h0m12 0h0m91 0h0m13 0h0m8 0h0m22 0h0m-135 1h0m16 0h0m19 0h0m53 0h0m9 0h0m19 0h0m10 0h0m11 0h0m-173 1h0m15 0h0m10 0h0m21 0h0m15 0h0m47 0h0m8 0h0m10 0h0m14 0h0m35 0h0m-40 1h0m23 0h0m3 0h0m30 0h0m-190 1h0m82 0h0m33 0h0m2 0h0m9 0h0m8 0h0m21 0h0m12 0h0m3 0h0m-166 1h0m10 0h0m8 0h0m6 0h0m39 0h0m19 0h0m44 0h0m28 0h0m-151 1h0m11 0h0m18 0h0m50 0h0m17 0h0m23 0h0m5 0h0m31 0h0m-161 1h0m13 0h0m3 0h0m6 0h0m5 0h0m8 0h0m14 0h0m83 0h0m2 0h0m24 0h0m-160 1h0m2 0h0m14 0h0m100 0h0m1 0h0m4 0h0m29 0h0m-152 1h0m15 0h0m17 0h0m79 0h0m13 0h0m56 0h0m-118 1h0m44 0h0m54 0h0m12 0h0m11 0h0m-184 1h0m25 0h0m81 0h0m13 0h0m42 0h0m2 0h0m2 0h0m9 0h0m2 0h0m5 0h0m-143 1h0m65 0h0m22 0h0m47 0h0m4 0h0m-87 1h0m6 0h0m14 0h0m50 0h0m13 0h0m3 0h0m-156 1h0m20 0h0m26 0h0m29 0h0m22 0h0m8 0h0m40 0h0m-135 1h0m19 0h0m8 0h0m47 0h0m5 0h0m17 0h0m32 0h0m3 0h0m-134 1h0m15 0h0m64 0h0m58 0h0m14 0h0m-165 1h0m67 0h0m50 0h0m-72 1h0m10 0h0m37 0h0m11 0h0m16 0h0m48 0h0m-138 1h0m2 0h0m23 0h0m83 0h0m2 0h0m-133 1h0m5 0h0m50 0h0m5 0h0m6 0h0m46 0h0m23 0h0m14 0h0m5 0h0m18 0h0m-165 1h0m35 0h0m17 0h0m87 0h0m-139 1h0m6 0h0m22 0h0m17 0h0m31 0h0m15 0h0m3 0h0m3 0h0m30 0h0m7 0h0m16 0h0m-104 1h0m16 0h0m38 0h0m-101 1h0m13 0h0m6 0h0m30 0h0m2 0h0m22 0h0m-79 1h0m5 0h0m7 0h0m38 0h0m11 0h0m27 0h0m16 0h0m10 0h0m-105 1h0m5 0h0m5 0h0m94 0h0m1 0h0m-107 1h0m78 0h0m3 0h0m-80 1h0m30 0h0m9 0h0m1 0h0m14 0h0m16 0h0m49 0h0m-127 1h0m16 0h0m24 0h0m29 0h0m2 0h0m32 0h0m-90 1h0m24 0h0m39 0h0m2 0h0m-67 1h0m11 0h0m30 0h0m1 0h0m6 0h0m-66 1h0m14 0h0m49 0h0m-44 1h0m23 0h0m8 0h0m27 0h0m16 0h0m-54 1h0m6 0h0m27 0h0m21 0h0m-72 1h0m3 0h0m44 0h0m17 0h0m-34 1h0m46 0h0m-100 1h0m29 0h0m32 0h0m-51 1h0m11 0h0m16 0h0m7 0h0m26 0h0m10 0h0m4 0h0m5 0h0m-37 1h0m3 0h0m12 0h0m10 0h0m4 0h0m19 0h0m-70 1h0m11 0h0m3 0h0m35 0h0m-66 1h0m5 0h0m10 0h0m21 0h0m-30 1h0m9 0h0m55 0h0m2 0h0m2 0h0m-84 1h0m6 0h0m27 0h0m11 0h0m14 0h0m-60 1h0m6 0h0m5 0h0m8 0h0m2 0h0m9 0h0m34 0h0m1 0h0m4 0h0m3 0h0m-55 1h0m10 0h0m10 0h0m6 0h0m18 0h0m2 0h0m9 0h0m-63 1h0m6 0h0m2 0h0m35 0h0m-26 1h0m27 0h0m51 0h0m-98 1h0m23 0h0m20 0h0m-27 1h0m12 0h0m11 0h0m3 0h0m29 0h0m-54 1h0m8 0h0m6 0h0m1 0h0m5 0h0m30 1h0m-35 1h0m16 0h0m19 0h0m4 0h0m-45 1h0m-24 1h0m29 0h0m-32 1h0m31 0h0m3 0h0m-34 1h0m68 0h0m-68 2h0m62 0h0m-3 1h0m9 0h0"/><path stroke="rgb(25,25,255)" stroke-width="1.8" d="M1051 732h0m-15 1h0m12 0h0m4 0h0m19 0h0m-19 1h0m18 0h0m-22 2h0m4 0h0m3 1h0m5 0h0m-22 1h0m3 0h0m8 1h0m9 1h0m2 0h0m-25 2h0m-7 1h0m0 1h0m3 0h0m34 0h0m-46 1h0m18 0h0m28 0h0m-4 1h0m-40 1h0m43 1h0m-47 2h0m3 0h0m5 0h0m4 0h0m-10 1h0m5 0h0m8 1h0m29 0h0m-30 1h0m-18 1h0m3 0h0m1 0h0m19 0h0m30 0h0m-54 1h0m56 1h0m-54 2h0m49 0h0m7 0h0m-59 1h0m1 0h0m42 1h0m-42 1h0m3 0h0m49 0h0m3 0h0m5 0h0m-24 1h0m-32 2h0m50 0h0m-59 2h0m51 1h0m-58 1h0m63 0h0m-56 1h0m1 0h0m30 0h0m19 0h0m3 0h0m-49 4h0m29 0h0m1 0h0m-47 1h0m4 0h0m4 1h0m44 0h0m5 2h0m-61 1h0m12 0h0m21 0h0m21 0h0m2 0h0m-67 1h0m67 0h0m-1 1h0m-67 1h0m4 0h0m90 0h0m-35 1h0m7 0h0m-93 1h0m23 0h0m7 0h0m3 0h0m52 0h0m5 0h0m33 0h0m-91 1h0m3 0h0m4 0h0m78 0h0m-105 1h0m60 0h0m9 0h0m5 0h0m3 0h0m-50 1h0m31 0h0m3 0h0m-58 1h0m15 0h0m55 0h0m35 0h0m-43 1h0m3 0h0m31 0h0m11 0h0m-108 1h0m1 0h0m11 0h0m45 0h0m4 0h0m6 0h0m9 0h0m12 0h0m-85 1h0m60 0h0m-70 1h0m23 0h0m20 0h0m29 0h0m22 0h0m-80 1h0m-35 1h0m30 0h0m2 0h0m-12 1h0m14 0h0m43 0h0m39 0h0m8 0h0m5 0h0m-132 1h0m3 0h0m19 0h0m-23 1h0m17 0h0m5 0h0m113 0h0m2 0h0m-114 1h0m58 0h0m7 0h0m-71 1h0m8 0h0m1 0h0m11 0h0m1 0h0m-37 1h0m93 0h0m31 1h0m6 0h0m4 0h0m7 0h0m-118 1h0m67 0h0m6 0h0m-64 1h0m2 0h0m1 0h0m40 0h0m-56 1h0m66 0h0m12 0h0m46 0h0m-135 1h0m13 0h0m1 0h0m12 0h0m9 0h0m40 0h0m16 0h0m3 0h0m-94 1h0m22 0h0m60 0h0m40 0h0m8 0h0m5 0h0m-99 1h0m23 0h0m6 0h0m67 0h0m-149 1h0m17 0h0m19 0h0m7 0h0m15 0h0m12 0h0m37 0h0m5 0h0m33 0h0m-145 1h0m24 0h0m22 0h0m99 0h0m-136 1h0m96 0h0m-104 1h0m2 0h0m11 0h0m12 0h0m3 0h0m2 0h0m12 0h0m69 0h0m35 0h0m-52 1h0m15 0h0m-114 1h0m28 0h0m8 0h0m52 0h0m3 0h0m-73 1h0m15 0h0m18 0h0m55 0h0m-84 1h0m16 0h0m3 0h0m12 0h0m30 0h0m13 0h0m-70 1h0m2 0h0m4 0h0m3 0h0m54 0h0m4 0h0m13 0h0m-84 1h0m8 0h0m49 0h0m12 0h0m4 0h0m-107 1h0m44 0h0m17 0h0m6 0h0m16 0h0m6 0h0m-41 1h0m5 0h0m3 0h0m104 0h0m1 0h0m-148 1h0m25 0h0m54 0h0m10 0h0m75 0h0m-162 1h0m43 0h0m99 0h0m-140 1h0m2 0h0m6 0h0m7 0h0m12 0h0m1 0h0m50 0h0m25 0h0m-90 1h0m125 0h0m-123 1h0m34 0h0m89 0h0m-137 1h0m33 0h0m-24 1h0m6 0h0m1 0h0m31 0h0m5 0h0m26 0h0m4 0h0m-82 1h0m17 0h0m4 0h0m3 0h0m20 0h0m3 0h0m35 0h0m71 0h0m-148 1h0m10 0h0m10 0h0m1 0h0m41 0h0m12 0h0m77 0h0m-102 1h0m-41 1h0m21 0h0m35 0h0m1 0h0m2 0h0m5 0h0m31 0h0m-106 1h0m11 0h0m20 0h0m13 0h0m-51 1h0m30 0h0m7 0h0m7 0h0m3 0h0m18 0h0m14 0h0m6 0h0m-81 1h0m20 0h0m12 0h0m28 0h0m2 0h0m46 0h0m-104 1h0m8 0h0m10 0h0m5 0h0m52 0h0m-57 1h0m25 0h0m25 0h0m3 0h0m3 0h0m1 0h0m-59 1h0m9 0h0m9 0h0m14 0h0m8 0h0m5 0h0m-48 1h0m15 0h0m35 0h0m7 0h0m-65 1h0m18 0h0m20 0h0m-30 1h0m2 0h0m40 0h0m1 0h0m7 0h0m-45 1h0m0 1h0m11 0h0m12 0h0m4 0h0m14 0h0m-17 1h0m18 0h0m10 0h0m-57 1h0m3 0h0m2 0h0m7 0h0m29 0h0m-31 1h0m22 0h0m9 0h0m-33 1h0m9 0h0m26 0h0m-28 1h0m10 0h0m2 0h0m1 0h0m25 1h0m-47 1h0m14 0h0m5 0h0m3 0h0m11 0h0m2 0h0m-30 1h0m11 0h0m1 0h0m-18 1h0m-5 1h0m3 0h0m-17 1h0m45 0h0m10 0h0m-9 1h0m1 0h0m-46 1h0m18 0h0m-22 1h0m21 0h0m16 0h0m-37 1h0m26 1h0m10 0h0m18 1h0m-16 1h0"/><path stroke="rgb(0,0,220)" stroke-width="1.8" d="M1051 735h0m9 1h0m-4 2h0m7 1h0m-5 2h0m-27 1h0m37 0h0m-38 1h0m22 1h0m3 0h0m-4 1h0m6 0h0m-5 1h0m-35 1h0m14 0h0m25 0h0m10 0h0m4 0h0m-3 1h0m-3 2h0m-10 1h0m1 0h0m9 0h0m-40 1h0m17 0h0m21 2h0m-44 2h0m-5 1h0m13 0h0m34 0h0m-47 1h0m9 0h0m-5 1h0m36 1h0m4 0h0m-44 1h0m4 0h0m5 0h0m1 3h0m-18 3h0m46 0h0m8 1h0m-56 1h0m1 0h0m3 2h0m39 0h0m-46 1h0m40 0h0m9 0h0m-48 1h0m37 2h0m-4 2h0m-39 1h0m30 0h0m-18 2h0m28 1h0m-55 2h0m41 0h0m10 0h0m-4 2h0m-26 1h0m41 0h0m-19 1h0m8 0h0m11 0h0m-52 1h0m9 0h0m65 0h0m-69 1h0m10 0h0m28 0h0m-58 1h0m9 0h0m80 0h0m-67 1h0m22 0h0m-17 1h0m22 0h0m25 0h0m4 0h0m13 1h0m-94 1h0m38 0h0m14 0h0m40 0h0m-39 1h0m36 0h0m-90 1h0m89 0h0m-3 2h0m1 0h0m7 0h0m-112 1h0m29 0h0m19 0h0m20 0h0m2 1h0m44 1h0m-68 1h0m7 0h0m2 0h0m22 0h0m-62 1h0m54 0h0m45 0h0m3 0h0m3 0h0m1 0h0m-91 1h0m5 0h0m80 0h0m-133 1h0m12 0h0m10 0h0m27 0h0m3 0h0m17 0h0m21 0h0m5 0h0m-41 1h0m31 0h0m48 0h0m-101 1h0m26 0h0m24 0h0m57 0h0m-77 1h0m6 0h0m20 0h0m-56 1h0m26 0h0m29 0h0m-2 1h0m-98 1h0m36 0h0m1 0h0m9 1h0m50 0h0m-72 1h0m16 0h0m1 0h0m59 0h0m3 0h0m-84 1h0m12 0h0m24 0h0m10 0h0m1 0h0m-36 1h0m6 0h0m3 0h0m23 0h0m2 0h0m17 0h0m21 0h0m-66 1h0m24 0h0m15 0h0m6 0h0m65 1h0m-140 1h0m75 0h0m-67 1h0m20 0h0m23 0h0m16 0h0m4 0h0m-26 1h0m10 0h0m25 0h0m-75 1h0m31 0h0m23 0h0m2 1h0m-59 1h0m62 0h0m-40 2h0m4 0h0m25 0h0m8 0h0m8 0h0m2 0h0m-64 1h0m1 0h0m14 0h0m-16 1h0m23 0h0m1 0h0m-30 1h0m13 1h0m61 0h0m-35 3h0m38 0h0m-49 1h0m36 0h0m-20 1h0m27 0h0m-67 1h0m33 0h0m-16 1h0m4 0h0m4 0h0m9 1h0m6 2h0m-15 1h0m30 0h0m3 3h0m-30 2h0m-7 1h0m19 1h0m4 0h0m-10 2h0m11 0h0m-49 2h0m24 1h0m2 0h0m8 0h0m12 2h0"/><path stroke="rgb(0,140,255)" stroke-width="1.8" d="M1054 734h0m-14 2h0m-3 1h0m15 2h0m1 0h0m-22 1h0m4 0h0m2 0h0m7 0h0m8 0h0m-9 1h0m4 0h0m13 0h0m-28 1h0m11 0h0m1 0h0m16 0h0m-6 2h0m-22 2h0m6 0h0m-15 1h0m21 0h0m15 0h0m2 0h0m0 1h0m-23 1h0m-6 2h0m26 0h0m-35 1h0m4 0h0m6 0h0m31 0h0m-45 1h0m43 0h0m2 0h0m-15 1h0m1 0h0m-10 1h0m22 0h0m-42 1h0m4 0h0m34 0h0m5 0h0m-42 1h0m41 2h0m-44 1h0m9 0h0m1 0h0m32 0h0m1 0h0m-46 2h0m14 0h0m8 0h0m16 1h0m-37 2h0m23 0h0m15 0h0m3 0h0m-45 1h0m2 0h0m37 0h0m-42 1h0m38 0h0m-29 1h0m2 0h0m10 0h0m24 0h0m-42 1h0m4 0h0m37 0h0m-42 1h0m6 0h0m36 0h0m-32 1h0m21 0h0m-26 1h0m-17 1h0m5 0h0m11 0h0m17 0h0m-35 1h0m5 0h0m-7 1h0m14 0h0m26 0h0m7 0h0m2 0h0m-45 1h0m20 1h0m-26 2h0m21 0h0m17 0h0m-12 1h0m-27 1h0m1 0h0m2 0h0m28 0h0m8 0h0m-48 1h0m31 0h0m2 0h0m-13 1h0m-4 1h0m26 0h0m3 0h0m16 0h0m-51 1h0m49 0h0m-57 1h0m1 0h0m49 0h0m30 0h0m-63 1h0m42 0h0m-50 1h0m2 0h0m10 0h0m27 0h0m36 0h0m-72 1h0m12 0h0m61 0h0m-87 1h0m3 0h0m20 0h0m19 0h0m-46 1h0m14 1h0m22 0h0m45 0h0m-72 1h0m72 0h0m-83 2h0m20 0h0m-18 1h0m43 0h0m39 0h0m-82 1h0m1 0h0m23 0h0m5 1h0m-53 1h0m25 0h0m15 0h0m17 0h0m47 0h0m3 0h0m1 0h0m3 0h0m-91 1h0m39 0h0m3 0h0m44 0h0m-89 1h0m45 0h0m5 0h0m7 0h0m-47 1h0m18 0h0m71 0h0m-90 1h0m27 0h0m12 0h0m9 0h0m-5 1h0m-53 1h0m7 0h0m5 0h0m19 0h0m-47 1h0m15 0h0m41 0h0m-49 1h0m24 0h0m8 0h0m7 0h0m2 0h0m-61 1h0m26 0h0m44 0h0m8 0h0m-61 1h0m3 0h0m13 0h0m1 0h0m3 0h0m3 0h0m6 0h0m17 0h0m1 0h0m8 0h0m1 0h0m4 0h0m-50 1h0m3 0h0m12 0h0m17 0h0m-39 1h0m29 0h0m80 0h0m-70 1h0m-9 1h0m-26 1h0m14 0h0m10 0h0m-27 1h0m14 0h0m8 0h0m10 0h0m10 0h0m-59 1h0m1 0h0m3 0h0m6 0h0m12 0h0m-27 1h0m5 0h0m21 0h0m4 0h0m17 1h0m7 0h0m1 0h0m-26 1h0m11 0h0m-20 1h0m9 0h0m26 0h0m7 1h0m-27 1h0m4 0h0m5 0h0m3 0h0m5 0h0m10 0h0m-27 1h0m21 0h0m-60 1h0m19 0h0m40 0h0m12 0h0m-57 1h0m33 0h0m17 0h0m81 0h0m-143 1h0m18 0h0m34 0h0m8 0h0m-25 1h0m-43 1h0m76 0h0m-82 1h0m17 0h0m13 0h0m40 1h0m-45 1h0m5 0h0m35 0h0m2 0h0m16 0h0m-53 2h0m18 2h0m-23 1h0m10 0h0m-5 1h0m33 2h0m-39 1h0m32 1h0m6 0h0m-40 2h0m2 0h0m10 0h0m-5 1h0m2 0h0m17 1h0m0 2h0m-23 1h0m18 0h0m18 0h0m-35 2h0m0 1h0"/><path stroke="rgb(0,210,230)" stroke-width="1.8" d="M1055 740h0m-14 1h0m-4 1h0m16 0h0m-22 1h0m13 0h0m6 0h0m1 0h0m-13 1h0m5 0h0m1 0h0m5 0h0m7 0h0m0 1h0m-26 1h0m11 0h0m6 0h0m-7 1h0m-4 1h0m2 0h0m-6 2h0m14 0h0m1 0h0m2 0h0m9 0h0m8 0h0m-41 2h0m11 0h0m3 0h0m20 0h0m-15 1h0m-10 1h0m10 0h0m-24 1h0m8 0h0m1 0h0m10 0h0m-9 1h0m7 0h0m14 0h0m3 0h0m-10 1h0m6 0h0m-7 1h0m2 0h0m2 0h0m15 0h0m-41 1h0m4 0h0m3 0h0m-6 1h0m2 0h0m1 0h0m15 0h0m19 0h0m-29 1h0m3 0h0m7 0h0m6 0h0m13 0h0m-17 1h0m9 0h0m-35 1h0m3 0h0m3 0h0m5 0h0m18 0h0m-11 1h0m-14 1h0m20 0h0m6 0h0m-24 1h0m1 0h0m29 0h0m2 0h0m-38 1h0m33 0h0m-39 1h0m21 0h0m1 0h0m8 0h0m8 0h0m-29 1h0m18 0h0m-6 1h0m16 0h0m1 0h0m1 0h0m-44 1h0m21 0h0m18 0h0m1 0h0m7 0h0m-44 1h0m6 0h0m6 0h0m9 0h0m24 0h0m-39 1h0m8 0h0m9 0h0m8 0h0m5 0h0m-36 1h0m4 0h0m1 0h0m20 0h0m1 0h0m-34 1h0m18 0h0m14 0h0m-21 1h0m20 0h0m-13 1h0m5 0h0m3 0h0m6 0h0m-35 1h0m2 0h0m6 0h0m4 0h0m4 0h0m14 0h0m1 0h0m1 0h0m8 0h0m-34 1h0m12 0h0m20 0h0m-27 1h0m10 0h0m6 0h0m10 0h0m-40 1h0m5 0h0m6 0h0m5 0h0m3 0h0m1 0h0m12 1h0m-31 1h0m4 0h0m20 0h0m-30 1h0m6 0h0m1 0h0m1 0h0m21 0h0m4 0h0m-33 1h0m5 0h0m4 0h0m8 0h0m9 0h0m6 0h0m3 0h0m4 0h0m5 0h0m-24 1h0m-9 1h0m19 0h0m-34 1h0m12 0h0m6 0h0m9 0h0m3 1h0m-23 1h0m8 0h0m5 0h0m11 0h0m5 0h0m-38 1h0m4 0h0m29 0h0m-37 1h0m1 0h0m5 0h0m15 0h0m9 0h0m4 0h0m-29 1h0m13 0h0m6 0h0m61 0h0m-87 1h0m4 0h0m11 0h0m13 0h0m2 0h0m14 0h0m-46 1h0m3 0h0m4 0h0m7 0h0m2 0h0m10 0h0m17 0h0m-21 1h0m2 0h0m5 0h0m5 0h0m6 0h0m2 0h0m-17 1h0m-19 1h0m1 0h0m3 0h0m8 0h0m17 0h0m-58 1h0m33 0h0m8 0h0m21 0h0m50 0h0m-70 1h0m4 0h0m-48 1h0m28 0h0m1 0h0m15 0h0m16 0h0m2 0h0m-21 1h0m5 0h0m69 0h0m-88 1h0m27 0h0m6 0h0m2 0h0m2 0h0m-33 1h0m25 0h0m5 0h0m-39 1h0m16 0h0m4 0h0m22 0h0m-38 1h0m4 0h0m2 1h0m9 0h0m28 0h0m-58 1h0m19 0h0m22 0h0m5 1h0m-34 1h0m10 0h0m28 0h0m-59 1h0m12 0h0m3 0h0m14 0h0m12 0h0m14 0h0m-36 1h0m6 0h0m2 0h0m10 0h0m19 0h0m7 0h0m-62 1h0m-8 1h0m12 0h0m55 0h0m-72 1h0m14 0h0m13 0h0m3 0h0m-29 1h0m1 0h0m36 0h0m12 0h0m12 0h0m-56 2h0m32 0h0m3 0h0m17 1h0m2 0h0m2 0h0m-25 1h0m11 0h0m19 0h0m-65 1h0m32 0h0m4 0h0m7 0h0m-3 1h0m5 0h0m7 0h0m-61 1h0m70 0h0m2 0h0m-65 1h0m43 0h0m-44 1h0m59 0h0m-58 1h0m68 0h0m-18 1h0m1 0h0m1 1h0m2 0h0m-4 1h0m-18 2h0m-13 5h0m45 0h0m-44 1h0m1 0h0m-14 1h0m11 0h0m0 9h0"/><path stroke="rgb(0,230,150)" stroke-width="1.8" d="M1040 740h0m13 1h0m-12 1h0m1 0h0m5 1h0m6 1h0m-14 1h0m3 0h0m4 0h0m-9 1h0m2 0h0m4 0h0m3 0h0m-9 1h0m14 0h0m-16 1h0m-1 1h0m5 0h0m11 0h0m9 0h0m4 0h0m-30 1h0m3 0h0m18 0h0m3 1h0m-20 1h0m6 0h0m1 0h0m5 0h0m5 0h0m9 0h0m-6 1h0m1 0h0m8 0h0m-34 1h0m23 0h0m-25 1h0m3 0h0m19 0h0m3 0h0m-28 1h0m12 0h0m-9 1h0m7 0h0m4 0h0m-10 1h0m7 0h0m19 0h0m1 0h0m-28 1h0m21 0h0m-17 1h0m13 0h0m1 0h0m4 0h0m6 0h0m-30 1h0m22 0h0m2 0h0m-20 1h0m3 0h0m-6 1h0m13 0h0m-22 1h0m9 0h0m1 0h0m6 0h0m6 0h0m11 0h0m-12 1h0m6 0h0m-28 1h0m13 0h0m12 0h0m11 0h0m-35 1h0m17 0h0m2 0h0m2 0h0m5 0h0m-33 1h0m9 0h0m1 0h0m-9 1h0m12 0h0m21 0h0m3 0h0m1 0h0m-33 1h0m10 0h0m15 0h0m-14 1h0m2 0h0m1 0h0m3 0h0m14 0h0m-34 1h0m8 0h0m5 0h0m9 0h0m7 0h0m3 0h0m-26 1h0m2 0h0m10 0h0m-26 2h0m1 0h0m22 0h0m-17 1h0m2 0h0m17 0h0m-23 1h0m7 0h0m6 0h0m3 0h0m8 0h0m-27 1h0m-11 1h0m9 0h0m19 0h0m7 0h0m3 0h0m-16 1h0m11 0h0m-30 1h0m27 0h0m-33 1h0m3 0h0m8 0h0m3 0h0m-16 1h0m16 0h0m4 0h0m1 0h0m5 0h0m-18 1h0m5 0h0m11 0h0m10 0h0m-24 1h0m4 0h0m4 0h0m-4 1h0m9 0h0m3 0h0m-20 1h0m10 0h0m3 0h0m13 0h0m2 0h0m-31 1h0m11 1h0m-8 1h0m-2 1h0m23 0h0m-33 1h0m2 0h0m3 0h0m9 0h0m6 0h0m6 0h0m-29 1h0m18 0h0m17 0h0m1 0h0m2 0h0m-40 1h0m10 0h0m2 0h0m2 0h0m8 0h0m-7 1h0m1 0h0m12 0h0m3 0h0m-30 1h0m5 0h0m-3 1h0m5 0h0m1 0h0m1 0h0m4 0h0m3 0h0m13 0h0m-29 1h0m9 0h0m7 0h0m-8 1h0m3 0h0m15 0h0m-19 1h0m9 0h0m1 0h0m13 0h0m-26 1h0m13 0h0m14 0h0m4 0h0m-36 1h0m1 0h0m13 0h0m1 0h0m13 0h0m-21 1h0m9 0h0m10 0h0m-8 1h0m5 0h0m11 0h0m3 0h0m-23 1h0m13 0h0m2 0h0m2 0h0m-12 1h0m2 0h0m2 0h0m-24 1h0m9 0h0m19 0h0m3 0h0m-17 1h0m15 0h0m3 0h0m-21 1h0m7 0h0m6 0h0m-17 1h0m6 0h0m4 0h0m14 0h0m7 0h0m-5 1h0m2 0h0m-28 1h0m5 0h0m24 0h0m-33 1h0m5 0h0m-42 3h0m37 0h0m4 0h0m2 0h0m-5 1h0m-2 2h0m6 0h0m-8 1h0m1 0h0m7 0h0m10 1h0"/><path stroke="rgb(30,240,60)" stroke-width="1.8" d="M1040 745h0m8 0h0m-13 1h0m7 0h0m6 0h0m7 0h0m-16 1h0m4 0h0m3 0h0m-3 1h0m1 0h0m7 0h0m1 0h0m-4 3h0m5 1h0m-18 1h0m5 0h0m14 0h0m-7 1h0m5 0h0m5 0h0m4 0h0m-16 1h0m3 0h0m-12 1h0m5 0h0m1 0h0m3 0h0m7 0h0m-6 1h0m8 0h0m7 0h0m-29 1h0m4 0h0m5 0h0m1 0h0m-18 1h0m7 0h0m7 0h0m-15 1h0m19 0h0m8 0h0m-8 1h0m7 0h0m7 0h0m-31 1h0m14 0h0m14 0h0m-29 1h0m2 0h0m11 0h0m2 0h0m9 0h0m4 0h0m-31 1h0m5 0h0m11 0h0m14 0h0m-28 1h0m1 0h0m1 0h0m8 0h0m1 0h0m-4 1h0m5 0h0m1 0h0m-6 1h0m2 0h0m1 0h0m7 0h0m8 0h0m-27 1h0m1 1h0m6 0h0m-2 1h0m1 0h0m11 0h0m2 0h0m-25 1h0m10 0h0m2 0h0m1 0h0m19 0h0m-29 1h0m14 0h0m1 0h0m3 0h0m-28 1h0m8 0h0m11 0h0m-23 1h0m10 0h0m2 0h0m12 0h0m-18 1h0m13 0h0m2 0h0m-3 1h0m2 1h0m4 0h0m-8 1h0m2 0h0m8 0h0m-8 1h0m4 0h0m-30 1h0m13 0h0m-5 1h0m26 0h0m-34 1h0m1 0h0m12 0h0m11 0h0m10 0h0m-30 1h0m8 0h0m1 0h0m5 0h0m-7 1h0m5 0h0m5 0h0m-15 2h0m9 0h0m1 0h0m10 0h0m-12 1h0m0 3h0m1 0h0m3 0h0m-5 1h0m6 0h0m-8 1h0m-28 1h0m10 0h0m12 0h0m11 0h0m-2 3h0m-24 1h0m6 0h0m3 0h0m16 0h0m-25 2h0m4 0h0m25 0h0m-11 1h0m7 0h0m-7 1h0m3 0h0m-27 2h0m16 0h0m-11 1h0m13 0h0m-8 1h0m5 0h0m-7 1h0m7 0h0m-10 1h0m5 0h0m-8 1h0m8 0h0m-6 1h0m-1 4h0m-5 1h0m10 1h0m-7 2h0m7 0h0m-2 1h0m4 0h0m-5 1h0m-5 1h0m2 1h0"/><path stroke="rgb(130,245,0)" stroke-width="1.8" d="M1039 748h0m1 0h0m7 0h0m2 0h0m-7 1h0m4 0h0m1 0h0m5 0h0m-8 1h0m8 1h0m-4 1h0m-11 2h0m11 0h0m-13 2h0m13 0h0m-10 1h0m7 0h0m-6 1h0m7 0h0m-5 1h0m1 0h0m1 0h0m-5 1h0m1 0h0m-2 1h0m2 0h0m2 0h0m-1 1h0m-9 1h0m7 1h0m1 0h0m-8 1h0m1 0h0m12 0h0m-19 1h0m2 0h0m2 0h0m2 0h0m9 0h0m-9 1h0m12 0h0m-18 1h0m1 0h0m7 0h0m8 0h0m-12 1h0m0 1h0m4 0h0m-3 1h0m3 0h0m-2 3h0m5 0h0m-9 1h0m-11 1h0m11 0h0m-20 2h0m1 0h0m0 1h0m19 0h0m-21 2h0m2 0h0m-3 5h0m9 0h0m3 0h0m-8 2h0m1 0h0m-2 1h0m-11 3h0m-10 4h0m4 2h0m1 0h0m3 0h0m16 0h0m-2 2h0m0 1h0m-16 2h0m-8 5h0m3 3h0"/><path stroke="rgb(135,135,250)" stroke-width="1.8" d="M279 1057h0m9 1h0m3 1h0m8 1h0m-15 1h0m7 0h0m-7 1h0m-1 2h0m-8 1h0m31 1h0m-29 1h0m8 0h0m13 1h0m-17 1h0m-6 1h0m7 2h0m4 0h0m12 0h0m2 1h0m10 0h0m-14 1h0m-16 1h0m2 2h0m32 0h0m2 1h0m-41 1h0m4 0h0m6 1h0m9 0h0m-20 1h0m23 0h0m9 0h0m9 0h0m-19 1h0m18 0h0m-38 1h0m13 1h0m-18 1h0m7 0h0m18 0h0m-12 2h0m10 3h0m4 1h0m4 0h0m17 1h0m0 1h0m-40 1h0m-7 1h0m4 0h0m4 0h0m15 0h0m3 0h0m-27 1h0m18 0h0m17 0h0m-33 2h0m13 0h0m6 0h0m-13 1h0m27 0h0m-34 1h0m25 0h0m-15 1h0m-8 1h0m16 1h0m-15 1h0m29 0h0m-15 1h0m8 0h0m5 0h0m-22 1h0m13 0h0m5 1h0m-25 1h0m10 0h0m15 0h0m12 0h0m1 0h0m6 1h0m-47 1h0m19 0h0m5 1h0m-26 2h0m29 0h0m-22 1h0m41 0h0m-30 1h0m-11 1h0m19 1h0m6 1h0m-25 1h0m20 0h0m-24 1h0m16 1h0m-18 2h0m23 0h0m2 0h0m8 0h0m-15 1h0m2 0h0m22 0h0m-36 1h0m11 0h0m-14 1h0m18 0h0m25 0h0m-39 1h0m4 1h0m16 0h0m-15 1h0m15 0h0m2 2h0m3 1h0m-29 1h0m7 0h0m10 0h0m9 1h0m14 1h0m5 0h0m-45 1h0m18 0h0m2 0h0m-24 1h0m8 1h0m18 0h0m9 0h0m-34 1h0m49 0h0m-39 1h0m24 0h0m-11 2h0m14 0h0m-35 1h0m6 0h0m3 1h0m16 2h0m-20 1h0m19 1h0m4 0h0m-26 1h0m10 0h0m3 2h0m-20 1h0m21 1h0m6 0h0m2 1h0m5 0h0m-34 1h0m2 0h0m5 0h0m22 0h0m10 0h0m-27 2h0m-98 2h0m105 0h0m8 0h0m-24 1h0m5 0h0m19 0h0m-84 1h0m69 0h0m-23 1h0m9 0h0m23 0h0m1 0h0m-23 1h0m4 0h0m0 1h0m14 0h0m-22 1h0m20 0h0m-13 1h0m9 0h0m20 0h0m-38 1h0m30 0h0m-9 1h0m-19 1h0m8 2h0m5 0h0m-14 2h0m10 0h0m16 0h0m19 0h0m-50 1h0m32 0h0m12 0h0m12 0h0m-40 1h0m-13 1h0m8 0h0m20 0h0m10 0h0m7 1h0m-28 1h0m4 0h0m11 0h0m-25 1h0m3 0h0m-14 1h0m0 1h0m6 1h0m3 0h0m10 0h0m14 0h0m-7 2h0m21 0h0m4 0h0m-12 1h0m-3 1h0m5 0h0m7 0h0m-40 1h0m21 0h0m19 0h0m-18 1h0m-18 1h0m24 0h0m-15 1h0m21 0h0m-40 2h0m1 1h0m32 0h0m27 0h0m-58 1h0m20 0h0m4 0h0m-16 1h0m18 0h0m-21 1h0m23 0h0m2 0h0m4 2h0m-104 2h0m97 0h0m-23 1h0m-63 1h0m90 0h0m8 0h0m21 0h0m-61 1h0m4 0h0m32 0h0m3 0h0m15 0h0m-21 1h0m13 0h0m-103 2h0m66 0h0m35 0h0m-39 1h0m36 0h0m-26 1h0m18 0h0m16 0h0m-52 1h0m30 0h0m11 0h0m-38 1h0m5 1h0m2 0h0m24 1h0m21 0h0m-23 1h0m-24 1h0m27 0h0m-110 1h0m75 0h0m4 0h0m36 0h0m2 0h0m4 2h0m-43 1h0m33 0h0m-32 2h0m32 0h0m21 0h0m-55 1h0m5 0h0m16 1h0m11 1h0m1 0h0m8 1h0m-3 1h0m-38 1h0m32 0h0m17 2h0m-60 1h0m14 0h0m1 0h0m1 1h0m45 0h0m14 0h0m-70 1h0m2 1h0m21 0h0m15 0h0m8 0h0m4 0h0m15 0h0m-58 1h0m33 0h0m-37 1h0m43 1h0m-12 1h0m-19 1h0m12 0h0m17 2h0m7 0h0m-41 1h0m36 0h0m14 0h0m2 1h0m-31 1h0m-29 1h0m36 0h0m-42 1h0m33 0h0m9 0h0m1 0h0m27 0h0m-51 2h0m10 0h0m9 0h0m-35 1h0m41 0h0m3 0h0m-51 1h0m14 0h0m-7 1h0m17 0h0m19 0h0m18 0h0m3 0h0m-48 1h0m35 0h0m15 0h0m-62 1h0m40 0h0m3 0h0m28 0h0m-68 1h0m47 0h0m-49 2h0m3 0h0m1 0h0m64 0h0m-60 1h0m41 0h0m-30 1h0m21 0h0m1 0h0m-34 1h0m41 0h0m-18 1h0m19 0h0m7 0h0m1 0h0m-54 1h0m23 0h0m21 1h0m-5 1h0m2 0h0m-33 1h0m22 1h0m6 0h0m-76 1h0m32 0h0m30 0h0m8 0h0m4 0h0m17 0h0m-57 1h0m4 0h0m2 1h0m3 1h0m12 0h0m27 1h0m17 1h0m-60 1h0m6 0h0m47 0h0m-53 1h0m50 0h0m-55 1h0m3 0h0m7 0h0m42 0h0m-55 1h0m24 0h0m-26 1h0m47 0h0m1 0h0m3 0h0m-55 3h0m13 0h0m48 0h0m-64 1h0m11 0h0m27 0h0m14 0h0m-32 1h0m42 0h0m7 0h0m-58 1h0m38 0h0m-13 1h0m12 0h0m16 0h0m-27 1h0m8 0h0m-25 1h0m-5 1h0m21 0h0m22 0h0m-53 1h0m8 0h0m28 0h0m8 0h0m-47 1h0m33 0h0m20 0h0m26 0h0m-82 1h0m18 0h0m27 1h0m-2 1h0m6 0h0m-71 1h0m56 0h0m12 0h0m-33 1h0m8 0h0m20 0h0m13 0h0m9 0h0m-51 3h0m6 0h0m26 0h0m2 0h0m-39 1h0m17 0h0m17 0h0m32 0h0m-62 1h0m26 0h0m13 0h0m2 0h0m9 0h0m14 0h0m8 0h0m-138 2h0m66 1h0m7 0h0m1 0h0m22 0h0m34 0h0m-69 1h0m13 0h0m-14 2h0m4 0h0m26 0h0m6 0h0m9 0h0m-41 1h0m4 0h0m2 0h0m35 0h0m4 0h0m1 0h0m2 0h0m-1 1h0m-12 1h0m6 0h0m-49 1h0m5 0h0m51 0h0m-53 1h0m15 0h0m36 1h0m4 0h0m-57 1h0m14 0h0m26 0h0m-34 1h0m42 0h0m-41 1h0m46 0h0m-4 2h0m-50 1h0m53 0h0m10 0h0m-59 1h0m42 1h0m-45 1h0m3 0h0m24 0h0m19 0h0m10 0h0m-52 1h0m44 0h0m-6 1h0m-43 1h0m3 0h0m6 0h0m43 0h0m-55 1h0m135 0h0m-126 1h0m12 0h0m27 0h0m72 0h0m-121 1h0m13 0h0m6 0h0m11 0h0m132 0h0m-161 1h0m17 0h0m33 0h0m33 0h0m26 0h0m-10 1h0m-118 1h0m18 0h0m14 0h0m20 0h0m35 0h0m-59 1h0m-4 1h0m28 0h0m-47 1h0m45 0h0m5 0h0m-31 1h0m10 0h0m121 0h0m13 0h0m-154 1h0m48 0h0m11 0h0m35 1h0m62 0h0m-106 1h0m2 0h0m5 0h0m11 0h0m11 0h0m1 1h0m68 0h0m-190 1h0m30 0h0m5 0h0m18 0h0m143 0h0m7 0h0m-157 1h0m70 0h0m-87 1h0m12 0h0m10 0h0m25 1h0m60 0h0m36 1h0m23 0h0m-165 1h0m59 0h0m7 0h0m1 0h0m18 0h0m-20 1h0m22 0h0m-84 1h0m59 0h0m9 0h0m-28 1h0m24 0h0m117 0h0m-180 1h0m162 0h0m-166 2h0m61 0h0m96 0h0m-167 1h0m69 0h0m3 1h0m23 1h0m57 0h0m-144 1h0m11 0h0m59 0h0m29 0h0m6 0h0m24 1h0m26 0h0m-153 1h0m63 0h0m-63 1h0m13 0h0m14 0h0m28 0h0m4 0h0m67 0h0m53 0h0m-107 1h0m30 0h0m6 0h0m-48 1h0m-105 1h0m41 0h0m2 0h0m103 0h0m67 0h0m6 0h0m-34 1h0m-155 1h0m74 0h0m-86 1h0m80 0h0m-94 1h0m30 1h0m16 0h0m41 0h0m10 0h0m63 0h0m23 0h0m-143 1h0m8 0h0m25 0h0m15 0h0m-56 1h0m5 0h0m12 0h0m154 0h0m-201 1h0m87 0h0m-79 1h0m10 0h0m46 0h0m22 0h0m10 0h0m65 0h0m-157 1h0m43 0h0m35 0h0m7 0h0m43 0h0m-120 1h0m7 0h0m154 0h0m-161 1h0m17 0h0m11 0h0m24 0h0m6 0h0m86 0h0m-150 1h0m12 0h0m23 0h0m40 0h0m-86 1h0m28 0h0m3 0h0m4 0h0m53 0h0m97 0h0m2 0h0m-154 1h0m152 0h0m-191 1h0m21 0h0m3 0h0m23 0h0m3 0h0m26 0h0m63 0h0m-99 1h0m-21 1h0m65 0h0m-63 1h0m18 0h0m47 0h0m9 0h0m46 0h0m-137 1h0m24 0h0m54 0h0m6 0h0m70 0h0m67 0h0m-213 1h0m7 0h0m26 0h0m39 0h0m-67 1h0m7 0h0m20 0h0m31 0h0m4 0h0m3 0h0m16 0h0m-70 1h0m8 0h0m24 0h0m141 0h0m-193 1h0m35 0h0m5 0h0m6 0h0m9 0h0m14 0h0m53 0h0m86 0h0m-208 1h0m22 0h0m28 0h0m18 0h0m11 0h0m123 0h0m-173 1h0m34 0h0m114 0h0m-146 1h0m10 0h0m10 0h0m-13 1h0m10 0h0m84 0h0m51 0h0m-153 1h0m30 0h0m-10 1h0m-48 1h0m49 0h0m6 0h0m20 1h0m-26 1h0m6 0h0m3 0h0"/><path stroke="rgb(80,80,252)" stroke-width="1.8" d="M290 1060h0m2 0h0m-5 1h0m7 1h0m-13 1h0m3 0h0m12 1h0m-6 1h0m4 0h0m3 1h0m-2 1h0m-10 1h0m8 2h0m-3 1h0m3 0h0m-8 1h0m5 0h0m-6 1h0m10 2h0m-14 1h0m11 0h0m3 0h0m-10 2h0m2 1h0m12 0h0m-20 1h0m6 1h0m9 1h0m-7 2h0m-2 1h0m-5 1h0m12 1h0m-11 1h0m6 0h0m5 0h0m-3 2h0m1 0h0m7 1h0m-12 1h0m5 0h0m3 1h0m2 1h0m-17 1h0m9 2h0m-1 2h0m9 0h0m-15 3h0m2 0h0m16 0h0m-13 3h0m-8 1h0m21 0h0m-19 2h0m16 2h0m3 1h0m-10 1h0m-10 1h0m15 0h0m-16 1h0m14 0h0m-3 1h0m-8 1h0m4 3h0m-1 4h0m1 1h0m-7 1h0m0 1h0m5 2h0m-1 1h0m11 0h0m-11 1h0m13 0h0m3 0h0m-12 1h0m10 0h0m-13 1h0m2 0h0m10 1h0m-7 1h0m6 0h0m-13 1h0m10 0h0m-15 1h0m3 0h0m1 0h0m10 0h0m-15 1h0m-1 2h0m8 0h0m1 0h0m5 0h0m8 0h0m-18 3h0m9 0h0m3 3h0m6 0h0m-21 2h0m21 0h0m-10 1h0m7 1h0m-13 2h0m3 1h0m0 1h0m0 1h0m9 0h0m-3 1h0m-1 1h0m-14 1h0m13 0h0m-12 1h0m2 1h0m2 1h0m14 0h0m-19 1h0m5 0h0m-5 1h0m8 1h0m12 0h0m-21 2h0m9 1h0m-14 1h0m13 0h0m4 0h0m-10 1h0m-7 2h0m15 0h0m2 0h0m4 0h0m-10 1h0m-14 2h0m20 0h0m-6 1h0m4 0h0m11 0h0m1 0h0m-33 1h0m11 1h0m13 0h0m4 0h0m4 0h0m-27 2h0m15 0h0m-6 1h0m-12 1h0m10 1h0m6 0h0m8 0h0m5 0h0m-7 1h0m-14 1h0m3 2h0m16 0h0m0 1h0m-25 1h0m3 1h0m10 0h0m10 0h0m-1 1h0m-21 1h0m15 0h0m-6 1h0m12 0h0m6 0h0m-23 1h0m12 0h0m-1 2h0m11 1h0m-10 2h0m-6 1h0m-8 1h0m12 0h0m8 0h0m-22 4h0m8 0h0m3 0h0m16 1h0m-30 1h0m6 1h0m7 0h0m9 0h0m-9 1h0m7 0h0m-16 1h0m-1 1h0m6 0h0m3 2h0m4 2h0m-7 2h0m10 0h0m1 0h0m-19 1h0m4 0h0m3 0h0m2 1h0m3 0h0m8 0h0m-15 1h0m10 0h0m5 0h0m-18 1h0m3 2h0m11 0h0m5 0h0m1 0h0m-16 1h0m15 0h0m-14 1h0m1 0h0m1 0h0m7 0h0m-2 2h0m3 0h0m-7 1h0m-7 1h0m15 0h0m4 0h0m-20 1h0m21 0h0m1 0h0m-23 1h0m-2 1h0m20 0h0m5 0h0m3 0h0m-24 1h0m5 0h0m-10 1h0m15 0h0m4 0h0m5 1h0m0 1h0m-17 1h0m5 0h0m-15 3h0m22 0h0m3 0h0m-23 1h0m16 1h0m3 2h0m-20 1h0m19 0h0m-19 1h0m2 0h0m11 0h0m11 0h0m-21 1h0m0 2h0m2 0h0m5 0h0m14 0h0m-25 1h0m7 1h0m4 0h0m5 0h0m1 0h0m8 0h0m-3 1h0m-26 1h0m1 0h0m4 0h0m17 0h0m-17 1h0m-3 1h0m15 0h0m1 0h0m5 1h0m-14 1h0m18 0h0m-19 1h0m13 0h0m5 0h0m-17 1h0m5 0h0m-16 1h0m13 0h0m15 0h0m10 0h0m-32 1h0m35 0h0m-37 1h0m27 0h0m-23 2h0m-1 1h0m4 2h0m-4 1h0m9 0h0m5 0h0m7 0h0m-22 1h0m2 1h0m-6 1h0m13 0h0m6 0h0m-11 1h0m10 0h0m-20 1h0m11 0h0m12 0h0m-23 2h0m8 1h0m-8 1h0m2 0h0m22 1h0m5 0h0m6 0h0m3 0h0m-29 1h0m5 0h0m15 0h0m-24 1h0m30 0h0m-25 1h0m-12 1h0m4 0h0m9 0h0m5 0h0m21 0h0m-43 1h0m2 0h0m1 0h0m14 0h0m14 0h0m7 1h0m3 0h0m0 1h0m-33 1h0m18 0h0m2 0h0m1 1h0m10 1h0m-24 1h0m-6 2h0m13 0h0m9 0h0m1 0h0m-22 1h0m-5 2h0m12 1h0m-5 1h0m8 1h0m12 0h0m-16 1h0m-2 1h0m6 0h0m-18 1h0m3 0h0m21 0h0m7 0h0m-33 1h0m8 0h0m25 0h0m1 0h0m-3 1h0m-8 1h0m4 0h0m2 0h0m-30 1h0m43 0h0m-25 1h0m0 1h0m9 1h0m1 0h0m17 0h0m-44 1h0m20 0h0m1 0h0m1 0h0m3 1h0m-2 1h0m13 0h0m-4 1h0m-25 1h0m23 0h0m3 0h0m-29 1h0m13 0h0m13 0h0m-33 1h0m24 0h0m3 0h0m6 0h0m3 0h0m-36 1h0m33 0h0m2 0h0m-36 1h0m40 0h0m-39 1h0m29 0h0m-24 1h0m7 0h0m18 1h0m-9 1h0m-26 1h0m18 0h0m-6 1h0m3 0h0m14 0h0m3 0h0m3 0h0m-12 1h0m16 0h0m-28 1h0m9 0h0m8 0h0m7 0h0m-38 2h0m6 0h0m13 0h0m10 1h0m4 0h0m1 0h0m3 0h0m-15 1h0m14 0h0m-29 1h0m34 0h0m-40 2h0m8 0h0m-15 1h0m29 0h0m13 1h0m-46 1h0m11 0h0m7 0h0m12 0h0m6 0h0m-39 1h0m8 0h0m8 0h0m27 0h0m12 0h0m-50 1h0m27 0h0m5 0h0m-23 1h0m25 0h0m15 0h0m-30 2h0m16 0h0m8 0h0m-42 1h0m36 0h0m2 0h0m3 0h0m-44 1h0m28 0h0m-3 1h0m16 0h0m4 0h0m-49 1h0m4 0h0m33 0h0m-37 1h0m11 0h0m37 0h0m9 1h0m-1 1h0m-58 2h0m48 0h0m-47 1h0m6 0h0m39 0h0m-13 1h0m4 0h0m-36 1h0m7 0h0m24 1h0m-31 1h0m44 0h0m3 0h0m-43 1h0m41 1h0m-42 2h0m41 0h0m-48 1h0m29 0h0m18 0h0m3 0h0m4 0h0m-43 1h0m39 0h0m-7 1h0m-35 1h0m36 0h0m-47 1h0m4 0h0m1 0h0m25 0h0m7 0h0m14 0h0m-59 1h0m50 1h0m-48 1h0m43 0h0m10 0h0m-46 1h0m39 2h0m5 0h0m-61 1h0m65 0h0m-24 1h0m-42 1h0m24 0h0m3 0h0m28 0h0m-58 1h0m51 0h0m-57 1h0m4 0h0m38 0h0m10 0h0m-34 1h0m40 0h0m-54 1h0m4 0h0m11 0h0m-12 1h0m-4 1h0m7 0h0m37 2h0m-19 1h0m10 0h0m1 0h0m6 0h0m-5 2h0m5 1h0m-9 2h0"/><path stroke="rgb(25,25,255)" stroke-width="1.8" d="M292 1063h0m1 0h0m-9 1h0m8 2h0m2 0h0m-7 3h0m0 7h0m5 2h0m-9 1h0m8 0h0m-5 1h0m7 0h0m-14 1h0m13 0h0m-9 1h0m5 3h0m0 1h0m4 0h0m-13 2h0m-2 2h0m8 0h0m-4 1h0m11 0h0m-7 5h0m-2 1h0m6 2h0m0 2h0m-6 1h0m5 0h0m0 1h0m1 0h0m-9 5h0m2 1h0m-3 1h0m6 0h0m-6 1h0m6 0h0m5 0h0m1 0h0m-9 1h0m10 0h0m-5 2h0m-6 1h0m4 0h0m2 1h0m1 0h0m-5 1h0m-7 1h0m6 0h0m-7 2h0m6 0h0m-3 2h0m3 5h0m11 5h0m-10 2h0m1 0h0m3 1h0m-2 1h0m-4 1h0m4 3h0m-2 2h0m-1 1h0m4 0h0m2 0h0m-10 2h0m4 0h0m6 0h0m-13 3h0m6 1h0m8 2h0m-6 1h0m3 1h0m0 2h0m2 1h0m-8 3h0m4 2h0m6 0h0m-6 2h0m-4 2h0m-9 2h0m1 2h0m3 1h0m-1 2h0m-2 1h0m2 2h0m-2 2h0m3 0h0m14 1h0m-12 1h0m5 1h0m5 0h0m3 1h0m-17 2h0m11 0h0m3 0h0m-14 1h0m4 0h0m-10 1h0m4 0h0m5 1h0m8 0h0m1 0h0m-18 2h0m0 2h0m22 2h0m-19 1h0m8 0h0m4 0h0m-9 1h0m-1 2h0m8 0h0m6 0h0m-7 2h0m6 1h0m5 0h0m-23 1h0m20 1h0m2 0h0m-12 1h0m-6 2h0m1 1h0m15 2h0m-23 1h0m19 1h0m1 0h0m-17 1h0m1 0h0m13 0h0m4 0h0m-18 3h0m2 0h0m13 0h0m-17 1h0m4 1h0m12 0h0m6 1h0m-9 1h0m5 0h0m4 0h0m-21 1h0m7 0h0m0 1h0m-2 6h0m6 2h0m11 2h0m1 0h0m-19 1h0m8 0h0m-13 2h0m10 0h0m4 0h0m6 0h0m-5 1h0m5 0h0m-18 1h0m18 0h0m-18 1h0m5 1h0m-11 1h0m1 0h0m7 0h0m-9 1h0m0 1h0m8 0h0m1 0h0m-3 1h0m-5 1h0m13 0h0m-2 1h0m2 0h0m-8 1h0m-3 1h0m8 0h0m9 2h0m-7 2h0m6 0h0m2 0h0m0 1h0m-23 1h0m4 2h0m6 0h0m12 0h0m-16 1h0m5 0h0m1 0h0m12 0h0m-14 1h0m12 0h0m3 0h0m-22 1h0m13 0h0m4 0h0m-23 1h0m24 0h0m-9 1h0m-13 1h0m2 0h0m15 0h0m15 0h0m-31 1h0m23 0h0m-19 1h0m13 0h0m6 0h0m-21 1h0m13 0h0m3 0h0m13 0h0m-31 1h0m10 0h0m20 0h0m-6 1h0m7 0h0m-2 1h0m-2 1h0m3 0h0m-13 2h0m10 1h0m-16 1h0m7 0h0m9 0h0m-1 1h0m-25 3h0m8 0h0m8 0h0m6 0h0m-29 1h0m8 0h0m7 0h0m16 0h0m2 0h0m-16 3h0m6 0h0m3 1h0m10 1h0m-17 1h0m12 0h0m-25 1h0m-5 1h0m18 0h0m-16 1h0m30 0h0m-23 1h0m23 0h0m-12 1h0m-15 1h0m4 3h0m-4 1h0m8 1h0m2 1h0m-14 2h0m3 0h0m9 0h0m2 1h0m-8 2h0m-2 1h0m1 1h0m-6 2h0m5 0h0m11 0h0m-19 1h0m11 0h0m3 0h0m4 0h0m-9 1h0m14 0h0m-18 1h0m2 0h0m18 1h0m-20 1h0m8 0h0m-4 1h0m11 0h0m-16 1h0m2 0h0m2 0h0m11 0h0m-13 2h0m-11 4h0m3 0h0m3 0h0m-5 2h0m7 0h0m11 0h0m6 0h0m-1 1h0m-24 3h0m22 0h0m-10 1h0m-15 1h0m20 0h0m-10 1h0m-16 2h0m15 0h0m-5 1h0m24 0h0m1 0h0m-29 1h0m17 0h0m6 0h0m-32 1h0m18 0h0m-15 1h0m21 0h0m-18 1h0m36 0h0m-7 1h0m7 0h0m-47 1h0m20 0h0m-19 1h0m12 0h0m3 0h0m18 0h0m6 0h0m2 0h0m-43 1h0m15 1h0m26 0h0m-31 1h0m21 0h0m10 0h0m-41 1h0m37 0h0m5 1h0m-36 1h0m-9 1h0m14 0h0m10 0h0m-6 1h0m-14 2h0m12 0h0m32 1h0m-47 1h0m7 0h0m28 0h0m8 0h0m-33 1h0m24 1h0m-38 1h0m37 1h0m5 1h0m-31 1h0m12 0h0m-6 1h0m4 0h0m23 1h0m-34 1h0m31 0h0m1 0h0m-35 1h0m6 0h0m21 0h0m3 1h0m-44 3h0m12 1h0m21 0h0m-34 1h0m33 0h0m5 0h0m-45 1h0m30 0h0m-25 1h0m42 0h0m-41 2h0m2 0h0m26 0h0m-18 2h0m17 0h0m9 0h0m-20 1h0m-18 1h0m9 0h0m23 0h0m-31 1h0m-6 1h0m37 0h0m5 0h0m-40 1h0m2 0h0m-3 2h0m2 0h0m9 1h0m20 0h0m-23 1h0m8 0h0m7 0h0m3 0h0m-17 1h0m18 0h0m-14 1h0m9 0h0m-1 1h0m0 2h0m-9 1h0"/><path stroke="rgb(0,0,220)" stroke-width="1.8" d="M288 1063h0m-1 3h0m2 0h0m-4 5h0m3 5h0m1 1h0m4 0h0m-10 9h0m11 1h0m-14 4h0m7 3h0m2 0h0m-5 3h0m-2 1h0m2 1h0m0 1h0m1 0h0m-7 5h0m-1 13h0m2 1h0m6 0h0m-5 1h0m6 0h0m-7 2h0m4 6h0m4 14h0m-4 1h0m-7 3h0m3 0h0m8 1h0m-5 7h0m-1 2h0m3 2h0m-15 11h0m1 2h0m3 3h0m-3 3h0m15 4h0m-11 2h0m1 1h0m-8 3h0m8 0h0m-7 1h0m11 0h0m-11 1h0m2 0h0m0 1h0m3 0h0m-5 6h0m2 0h0m7 0h0m9 1h0m-17 1h0m0 1h0m-2 1h0m10 1h0m-6 1h0m8 0h0m-7 3h0m6 6h0m-2 1h0m3 0h0m0 1h0m-4 2h0m0 1h0m7 3h0m-10 1h0m10 9h0m-10 1h0m1 0h0m6 0h0m-10 1h0m2 1h0m7 1h0m-10 5h0m-7 3h0m9 1h0m-1 1h0m4 0h0m-7 7h0m1 0h0m11 1h0m-4 1h0m3 0h0m-15 1h0m5 2h0m14 5h0m-13 1h0m0 3h0m4 1h0m3 1h0m-11 1h0m16 0h0m1 0h0m-1 1h0m0 1h0m-20 3h0m16 0h0m-21 1h0m20 0h0m1 0h0m-20 1h0m1 0h0m13 0h0m-6 1h0m8 0h0m-13 1h0m9 0h0m2 0h0m7 0h0m6 1h0m-12 1h0m-19 2h0m4 0h0m21 0h0m-4 1h0m3 0h0m-15 5h0m1 0h0m3 2h0m-2 1h0m-4 1h0m-1 3h0m2 0h0m-2 3h0m3 0h0m7 9h0m-13 2h0m1 1h0m9 1h0m-21 3h0m-3 1h0m4 1h0m5 1h0m15 0h0m1 1h0m-8 1h0m7 0h0m-15 1h0m-2 1h0m15 0h0m-15 2h0m-3 1h0m20 1h0m3 0h0m-19 1h0m4 0h0m5 0h0m-3 1h0m7 0h0m-11 1h0m3 1h0m-1 1h0m15 0h0m1 1h0m4 1h0m-35 1h0m17 0h0m-23 1h0m34 1h0m-16 1h0m1 0h0m-9 1h0m-1 1h0m6 2h0m-4 1h0m8 0h0m-10 1h0m-10 1h0m3 0h0m23 0h0m-12 3h0m16 0h0m-31 1h0m7 0h0m23 0h0m4 0h0m-39 1h0m14 1h0m19 1h0m-30 3h0m26 1h0m-30 1h0m10 0h0m19 0h0m-11 1h0m23 0h0m-2 1h0m-39 1h0m1 0h0m5 0h0m24 2h0m-35 1h0m-7 1h0m3 0h0m6 0h0m33 3h0m-44 3h0m6 0h0m30 0h0m-1 2h0m2 0h0m-13 1h0m10 2h0m-37 2h0m4 0h0m5 1h0m26 0h0m-5 2h0m-8 3h0m2 0h0"/><path stroke="rgb(0,140,255)" stroke-width="1.8" d="M289 1063h0m-2 1h0m5 3h0m-6 7h0m1 3h0m1 0h0m6 0h0m-13 11h0m8 1h0m-7 1h0m1 22h0m6 0h0m-5 7h0m1 29h0m-3 5h0m5 4h0m-8 23h0m4 1h0m2 1h0m-12 1h0m-5 2h0m11 7h0m-8 2h0m3 1h0m1 4h0m11 1h0m-14 1h0m2 2h0m7 2h0m0 1h0m3 1h0m-4 1h0m-2 1h0m0 3h0m-4 4h0m-5 1h0m7 0h0m-3 1h0m1 9h0m-8 2h0m8 0h0m1 2h0m-1 4h0m3 1h0m-12 2h0m6 0h0m-12 2h0m18 0h0m-11 2h0m11 3h0m-2 2h0m1 3h0m-5 5h0m9 0h0m-1 1h0m-11 2h0m-8 1h0m5 2h0m6 0h0m-1 1h0m11 0h0m-14 1h0m-3 1h0m3 2h0m3 0h0m1 2h0m12 0h0m-14 1h0m8 0h0m-7 1h0m-3 1h0m11 0h0m-11 6h0m-7 1h0m3 0h0m-7 1h0m9 2h0m-10 2h0m6 0h0m1 0h0m1 0h0m0 2h0m-7 4h0m7 3h0m-4 2h0m9 4h0m-1 1h0m-1 2h0m-3 5h0m8 2h0m-18 1h0m7 0h0m14 0h0m-12 2h0m0 3h0m1 0h0m-14 1h0m6 0h0m5 3h0m-7 1h0m-5 1h0m8 0h0m8 2h0m-3 2h0m-11 5h0m8 0h0m-6 2h0m4 0h0m1 1h0m-6 1h0m-15 1h0m19 0h0m3 1h0m-18 1h0m25 0h0m-26 2h0m4 0h0m8 0h0m3 0h0m7 0h0m-1 1h0m2 1h0m-14 1h0m11 0h0m-4 1h0m-29 2h0m25 0h0m14 0h0m3 0h0m-44 2h0m4 0h0m15 0h0m-18 1h0m26 0h0m1 0h0m9 0h0m5 0h0m-19 1h0m-19 1h0m16 0h0m12 0h0m-30 2h0m31 0h0m-1 1h0m-17 3h0m11 0h0m-23 1h0m-4 1h0m-8 1h0m4 0h0m41 0h0m-20 1h0m2 0h0m-18 1h0m11 0h0m14 0h0m3 0h0m-26 1h0m12 0h0m4 0h0m12 0h0m-22 1h0m9 0h0m-29 1h0m2 0h0m13 1h0m2 0h0m22 0h0m-41 1h0m19 1h0m-16 1h0m2 1h0m13 0h0m-2 1h0m1 0h0m-13 2h0m9 1h0m10 0h0m-19 1h0m26 0h0m-30 2h0m24 0h0m-11 2h0m4 0h0m-2 2h0"/><path stroke="rgb(0,215,230)" stroke-width="1.8" d="M289 1065h0m-6 26h0m1 2h0m0 8h0m2 0h0m-7 41h0m-2 2h0m2 0h0m4 2h0m-8 25h0m0 3h0m1 13h0m-3 4h0m0 2h0m0 2h0m-4 1h0m14 2h0m-10 3h0m4 1h0m1 0h0m0 1h0m5 0h0m-6 1h0m1 0h0m0 1h0m1 1h0m0 2h0m-5 7h0m10 3h0m-9 9h0m4 2h0m-1 1h0m-4 1h0m0 2h0m7 0h0m-7 1h0m-6 6h0m10 2h0m-10 1h0m5 1h0m8 1h0m-1 1h0m-12 3h0m5 2h0m-6 8h0m4 1h0m13 2h0m0 1h0m-15 5h0m3 1h0m-9 5h0m10 0h0m6 0h0m-21 1h0m15 1h0m2 0h0m-11 3h0m-9 3h0m12 0h0m-8 1h0m10 0h0m-12 1h0m1 2h0m1 0h0m4 1h0m0 3h0m0 6h0m-3 2h0m4 6h0m-9 2h0m-1 1h0m10 0h0m-4 1h0m-6 1h0m5 1h0m-6 2h0m7 0h0m5 0h0m-13 1h0m7 0h0m3 0h0m-6 2h0m1 0h0m-3 4h0m-9 4h0m15 0h0m1 0h0m-4 2h0m-9 1h0m3 1h0m-15 3h0m24 0h0m-12 4h0m-2 1h0m-1 2h0m24 0h0m-7 2h0m-26 1h0m8 0h0m9 0h0m3 0h0m2 0h0m-22 1h0m2 0h0m7 0h0m2 0h0m14 1h0m-3 1h0m-35 2h0m40 0h0m-19 1h0m20 0h0m-40 1h0m29 0h0m3 0h0m-28 1h0m4 0h0m7 0h0m-4 1h0m8 0h0m9 0h0m-29 1h0m22 0h0m13 0h0m-17 1h0m-13 3h0m8 0h0m18 0h0m-19 1h0m12 0h0m10 0h0m-35 1h0m15 0h0m4 0h0m2 0h0m-23 1h0m2 0h0m18 0h0m4 0h0m-15 1h0m21 0h0m-33 1h0m15 0h0m4 0h0m13 0h0m4 0h0m-10 2h0m-23 1h0m5 0h0m23 0h0m2 0h0m-28 1h0m4 0h0m-6 2h0m7 0h0m6 0h0m8 0h0m-31 2h0m9 0h0m8 0h0m1 0h0m16 0h0m-34 1h0m12 0h0m12 0h0m1 0h0m7 1h0m-13 1h0m-13 1h0m5 0h0m-6 1h0m14 0h0m3 0h0m-24 1h0m5 0h0m4 0h0m14 1h0m-14 1h0m11 0h0m1 0h0m8 0h0m-23 1h0m19 0h0m-20 1h0m7 0h0"/><path stroke="rgb(0,235,120)" stroke-width="1.8" d="M285 1089h0m-1 57h0m-3 1h0m3 0h0m3 34h0m-15 14h0m3 0h0m-3 2h0m1 1h0m4 1h0m-4 1h0m2 0h0m6 28h0m-6 5h0m-3 1h0m3 1h0m-6 1h0m3 0h0m-2 3h0m-5 2h0m2 1h0m1 18h0m5 0h0m-5 2h0m2 1h0m-14 10h0m17 0h0m-17 9h0m6 3h0m-5 6h0m6 0h0m-1 12h0m-1 1h0m1 0h0m-2 2h0m-2 2h0m0 1h0m-2 1h0m1 1h0m5 1h0m1 0h0m-2 1h0m3 0h0m-15 1h0m12 0h0m-9 1h0m1 0h0m7 6h0m-14 4h0m8 0h0m-1 1h0m3 0h0m-3 1h0m1 1h0m-5 2h0m0 1h0m2 0h0m-3 2h0m2 0h0m7 0h0m-9 2h0m4 0h0m-13 1h0m10 1h0m4 1h0m-14 1h0m5 0h0m4 0h0m6 0h0m0 1h0m-19 1h0m3 1h0m5 0h0m14 0h0m-4 2h0m2 0h0m-11 1h0m13 0h0m-24 1h0m5 0h0m1 0h0m-5 1h0m-3 1h0m12 0h0m-5 1h0m20 0h0m-22 1h0m3 0h0m1 0h0m6 0h0m2 0h0m8 0h0m5 0h0m-27 1h0m3 0h0m15 0h0m8 0h0m-29 1h0m19 0h0m14 0h0m-32 1h0m11 0h0m1 0h0m4 0h0m6 0h0m-25 1h0m5 0h0m15 0h0m6 0h0m-9 3h0m4 0h0m-24 1h0m19 0h0m7 0h0m-19 1h0m-1 1h0m1 0h0m5 0h0m9 0h0m-32 1h0m5 0h0m3 0h0m2 0h0m16 0h0m11 0h0m-13 1h0m13 0h0m-36 1h0m9 0h0m9 0h0m11 0h0m-27 1h0m28 0h0m-21 1h0m4 0h0m1 0h0m8 0h0m6 0h0m-31 1h0m19 0h0m-18 1h0m29 0h0m-26 1h0m7 0h0m11 1h0m-21 1h0m11 0h0m12 0h0m6 0h0m-26 1h0m26 0h0m-6 1h0m-21 1h0m3 0h0m2 1h0m8 0h0m7 0h0m-18 2h0"/><path stroke="rgb(30,240,30)" stroke-width="1.8" d="M282 1145h0m0 2h0m-7 50h0m-3 3h0m2 28h0m-1 1h0m2 43h0m-16 16h0m5 4h0m-2 1h0m-1 18h0m-3 1h0m-4 1h0m5 2h0m3 6h0m0 1h0m-10 4h0m5 8h0m6 0h0m-13 1h0m3 1h0m2 2h0m-17 1h0m2 0h0m16 0h0m1 0h0m-16 3h0m1 0h0m-2 1h0m1 0h0m5 0h0m2 0h0m3 0h0m1 0h0m9 0h0m-23 1h0m3 0h0m3 0h0m4 1h0m1 0h0m3 0h0m-12 1h0m13 0h0m-26 1h0m16 0h0m5 0h0m-4 1h0m5 0h0m-18 1h0m1 0h0m10 0h0m-9 1h0m19 0h0m-20 1h0m17 0h0m-19 1h0m4 0h0m11 0h0m4 0h0m4 0h0m-3 2h0m-20 1h0m4 0h0m2 0h0m4 0h0m4 0h0m4 0h0m-18 2h0m5 0h0m2 0h0m-2 2h0m10 0h0m-19 1h0m1 0h0m2 0h0m1 0h0m4 0h0m2 0h0m12 0h0m3 0h0m-23 1h0m3 0h0m4 0h0m11 0h0m2 0h0m-35 1h0m13 0h0m-9 1h0m18 0h0m-3 1h0m2 0h0m5 0h0m-21 1h0m16 0h0m-10 1h0m2 0h0m5 0h0m11 1h0m-12 2h0m1 0h0m1 0h0m6 0h0m-17 1h0m1 0h0m10 0h0m1 0h0m3 0h0m-12 1h0m2 0h0m-15 1h0m10 0h0m1 0h0m2 0h0m-2 1h0m2 0h0m-12 1h0m11 0h0m-10 1h0m7 0h0"/><path stroke="rgb(180,245,0)" stroke-width="1.8" d="M258 1310h0m3 8h0m-11 18h0m2 0h0m-3 2h0m6 2h0m-11 1h0m1 2h0m1 3h0m4 0h0m-10 1h0m10 0h0m4 0h0m-18 1h0m12 0h0m7 0h0m-15 1h0m6 0h0m-8 1h0m9 0h0m2 0h0m-18 3h0m2 0h0m13 0h0m-11 1h0m4 0h0m9 0h0m-13 2h0m3 0h0m-9 1h0m3 0h0m19 0h0m-20 1h0m13 0h0m-5 2h0m1 1h0m-13 1h0m9 0h0m4 0h0m5 0h0m-7 1h0m2 0h0m1 1h0m-20 1h0m19 0h0m-7 1h0m7 0h0m-5 1h0m5 0h0m-10 1h0m-13 1h0m25 1h0m-23 2h0m8 0h0m-6 1h0m2 0h0m9 0h0m-19 1h0"/><path stroke="rgb(255,200,0)" stroke-width="1.8" d="M258 1311h0m-12 30h0m-6 3h0m1 1h0m2 0h0m2 0h0m7 1h0m-12 2h0m9 1h0m4 0h0m-21 1h0m6 1h0m4 0h0m-10 1h0m1 0h0m8 1h0m-10 1h0m10 0h0m0 1h0m5 0h0m-11 3h0m-1 1h0m4 0h0m-7 1h0m2 3h0m3 3h0m3 0h0m-13 1h0m3 0h0m-6 1h0m5 2h0m-2 2h0m5 0h0m-13 2h0"/><path stroke="rgb(255,70,0)" stroke-width="1.8" d="M253 1345h0m-9 2h0m5 0h0m-4 1h0m1 0h0m-16 2h0m14 0h0m3 1h0m1 1h0m-11 1h0m8 0h0m2 0h0m-3 1h0m1 0h0m-14 1h0m5 2h0m6 0h0m-6 1h0m3 0h0m3 0h0m1 0h0m-6 2h0m2 3h0m3 2h0m-13 3h0m7 1h0"/><path stroke="rgb(135,135,250)" stroke-width="1.8" d="M727 1150h0m39 5h0m-58 8h0m8 0h0m15 4h0m11 1h0m13 1h0m-143 2h0m185 2h0m-77 4h0m-27 2h0m-142 1h0m194 0h0m-95 4h0m140 1h0m-108 7h0m96 0h0m-87 1h0m-12 1h0m10 2h0m-10 3h0m7 0h0m-12 2h0m4 3h0m7 0h0m1 0h0m6 1h0m21 0h0m-40 1h0m15 0h0m-14 1h0m7 2h0m3 0h0m13 1h0m79 0h0m-40 1h0m-58 2h0m-7 2h0m22 0h0m-11 4h0m-14 1h0m1 0h0m5 1h0m17 1h0m-29 1h0m17 1h0m-7 1h0m3 0h0m12 1h0m-86 1h0m81 0h0m17 0h0m70 0h0m-96 1h0m20 1h0m-5 1h0m89 0h0m-81 1h0m-29 1h0m15 0h0m3 0h0m-11 1h0m-6 1h0m10 0h0m19 0h0m-46 2h0m-52 2h0m66 0h0m8 0h0m10 0h0m-1 1h0m46 1h0m-39 3h0m38 0h0m-65 1h0m27 2h0m7 0h0m16 0h0m-154 1h0m108 0h0m2 0h0m-5 1h0m26 0h0m2 0h0m80 0h0m-106 1h0m-7 1h0m9 1h0m-16 1h0m9 1h0m10 0h0m11 0h0m13 0h0m9 0h0m-30 1h0m126 0h0m-141 1h0m37 0h0m6 2h0m69 0h0m-82 1h0m10 0h0m3 0h0m30 1h0m-67 2h0m6 0h0m34 0h0m51 0h0m-66 1h0m12 0h0m-51 1h0m10 0h0m41 0h0m33 0h0m53 0h0m-100 1h0m31 1h0m-74 1h0m82 0h0m-63 1h0m10 0h0m11 0h0m1 0h0m-29 1h0m29 1h0m5 0h0m5 0h0m-39 1h0m90 0h0m30 0h0m-133 1h0m40 2h0m-64 1h0m18 0h0m15 0h0m-1 1h0m72 0h0m-38 1h0m20 0h0m-56 1h0m56 0h0m28 0h0m-79 1h0m-32 1h0m59 0h0m44 0h0m-1 1h0m20 0h0m18 0h0m-79 1h0m6 0h0m82 0h0m-84 1h0m15 0h0m11 0h0m-44 1h0m-29 1h0m84 0h0m-14 1h0m-65 1h0m11 0h0m26 1h0m13 0h0m19 0h0m3 0h0m43 0h0m-46 1h0m-89 1h0m10 0h0m51 0h0m-45 1h0m54 0h0m-11 1h0m41 1h0m-90 1h0m10 0h0m2 0h0m79 0h0m-70 1h0m2 0h0m29 0h0m24 0h0m14 0h0m-83 1h0m29 0h0m84 0h0m-16 1h0m-100 1h0m3 0h0m47 0h0m21 0h0m6 0h0m-80 2h0m61 0h0m15 0h0m7 1h0m10 0h0m-63 1h0m13 0h0m20 0h0m21 0h0m-81 1h0m23 1h0m24 0h0m17 0h0m-39 1h0m-27 1h0m-27 1h0m25 0h0m53 0h0m47 0h0m-73 1h0m-45 1h0m32 0h0m48 0h0m13 0h0m10 0h0m8 0h0m-30 1h0m9 0h0m6 0h0m10 0h0m15 0h0m7 0h0m-132 1h0m18 0h0m32 0h0m26 0h0m-64 2h0m1 0h0m38 0h0m29 0h0m27 0h0m-37 2h0m10 0h0m16 0h0m22 0h0m-92 1h0m40 0h0m24 0h0m16 0h0m9 0h0m-44 1h0m15 0h0m27 0h0m-106 1h0m74 1h0m3 0h0m12 0h0m20 0h0m-83 1h0m30 0h0m57 0h0m59 0h0m-188 1h0m88 0h0m62 0h0m-140 1h0m12 0h0m86 0h0m7 0h0m-100 1h0m50 0h0m-55 1h0m8 0h0m36 0h0m26 0h0m3 0h0m17 0h0m11 1h0m-52 1h0m13 0h0m14 0h0m-74 1h0m10 0h0m105 0h0m23 0h0m7 0h0m14 0h0m-23 1h0m-89 1h0m50 0h0m-111 1h0m72 0h0m15 0h0m25 0h0m9 0h0m21 0h0m-124 1h0m6 0h0m59 0h0m20 0h0m-108 1h0m40 0h0m64 0h0m6 0h0m-60 1h0m55 0h0m11 0h0m-116 2h0m46 0h0m29 0h0m34 0h0m7 0h0m-20 1h0m-98 1h0m85 0h0m75 0h0m-103 1h0m40 0h0m-86 1h0m9 0h0m57 0h0m51 0h0m30 0h0m-141 2h0m124 0h0m-44 1h0m15 0h0m19 0h0m-129 1h0m22 0h0m12 0h0m72 0h0m1 0h0m-97 1h0m110 0h0m14 0h0m-122 1h0m137 0h0m-144 1h0m18 0h0m14 0h0m66 0h0m29 0h0m-36 1h0m-72 1h0m8 0h0m41 0h0m12 0h0m7 0h0m6 0h0m12 0h0m2 0h0m13 0h0m10 0h0m4 0h0m23 0h0m-149 1h0m63 0h0m56 0h0m17 0h0m-174 1h0m21 0h0m131 0h0m10 0h0m35 0h0m31 0h0m-113 1h0m3 0h0m8 0h0m13 0h0m77 0h0m-194 1h0m2 0h0m123 0h0m64 0h0m-219 1h0m23 0h0m117 0h0m8 0h0m6 0h0m-187 1h0m50 0h0m142 0h0m40 0h0m-210 1h0m20 0h0m9 0h0m115 0h0m5 0h0m35 0h0m-232 1h0m5 0h0m93 0h0m72 0h0m39 0h0m-209 1h0m9 0h0m9 0h0m36 0h0m163 0h0m-197 1h0m12 0h0m22 0h0m3 0h0m36 0h0m109 0h0m30 0h0m-193 1h0m28 0h0m22 0h0m1 0h0m4 0h0m7 0h0m19 0h0m61 0h0m27 0h0m12 0h0m3 0h0m8 0h0m7 0h0m1 0h0m14 0h0m6 0h0m11 0h0m-215 1h0m138 0h0m5 0h0m61 0h0m23 0h0m-245 1h0m163 0h0m-197 1h0m19 0h0m46 0h0m7 0h0m3 0h0m98 1h0m13 0h0m11 0h0m19 0h0m5 0h0m14 0h0m11 0h0m27 0h0m-273 1h0m143 0h0m13 0h0m54 0h0m41 0h0m-237 1h0m30 0h0m2 0h0m52 0h0m39 0h0m71 0h0m17 0h0m12 0h0m-217 1h0m48 0h0m112 0h0m13 0h0m5 0h0m42 0h0m21 0h0m-187 1h0m22 0h0m109 0h0m2 0h0m4 0h0m28 0h0m4 0h0m10 0h0m-243 1h0m10 0h0m47 0h0m75 0h0m59 0h0m18 0h0m5 0h0m39 0h0m-249 1h0m29 0h0m18 0h0m166 0h0m-221 1h0m37 0h0m163 0h0m-210 1h0m71 0h0m7 0h0m155 0h0m-176 1h0m8 0h0m26 0h0m71 0h0m16 0h0m14 0h0m2 0h0m14 0h0m12 0h0m6 0h0m-219 1h0m33 0h0m35 0h0m69 0h0m13 0h0m28 0h0m3 0h0m23 0h0m45 0h0m-233 1h0m40 0h0m153 0h0m-147 1h0m48 0h0m58 0h0m51 0h0m4 0h0m2 0h0m-181 1h0m189 0h0m9 0h0m1 0h0m1 0h0m-209 1h0m79 0h0m28 0h0m26 0h0m98 0h0m-201 1h0m16 0h0m10 1h0m12 0h0m83 0h0m4 0h0m14 0h0m-116 1h0m69 0h0m61 0h0m-151 1h0m111 0h0m-166 1h0m57 0h0m9 0h0m11 0h0m78 0h0m45 0h0m-198 1h0m7 0h0m24 0h0m1 0h0m4 0h0m10 0h0m16 0h0m94 0h0m28 0h0m25 0h0m-229 1h0m18 0h0m40 0h0m59 0h0m28 0h0m-150 1h0m35 0h0m93 0h0m7 0h0m11 0h0m13 0h0m67 0h0m-150 1h0m36 0h0m12 0h0m60 0h0m52 0h0m47 0h0m-174 1h0m57 0h0m39 0h0m-107 1h0m57 0h0m19 0h0m-91 1h0m35 1h0m29 0h0m25 0h0"/><path stroke="rgb(80,80,252)" stroke-width="1.8" d="M685 1202h0m-3 1h0m6 2h0m-8 1h0m10 0h0m-4 1h0m-7 2h0m-1 2h0m-2 1h0m7 1h0m-6 1h0m11 1h0m-10 2h0m9 0h0m-2 2h0m1 0h0m-3 4h0m-12 4h0m7 3h0m0 1h0m3 0h0m-9 1h0m1 1h0m-2 5h0m-1 1h0m5 0h0m5 1h0m7 0h0m-9 1h0m6 0h0m-12 2h0m5 0h0m11 0h0m-8 1h0m8 0h0m-20 1h0m23 1h0m-8 2h0m4 0h0m-12 1h0m2 0h0m9 0h0m-18 1h0m10 0h0m-16 1h0m9 0h0m17 1h0m3 0h0m-29 1h0m23 0h0m1 0h0m-17 2h0m14 0h0m4 0h0m-20 1h0m4 0h0m14 0h0m-25 1h0m7 1h0m8 0h0m7 1h0m-18 1h0m9 1h0m6 0h0m3 0h0m-5 1h0m-13 1h0m8 0h0m11 1h0m2 0h0m-20 1h0m1 0h0m12 2h0m0 2h0m2 0h0m4 1h0m1 0h0m-4 2h0m-14 1h0m8 0h0m-14 1h0m16 0h0m-11 1h0m5 0h0m-15 1h0m10 0h0m5 0h0m-11 1h0m17 0h0m6 0h0m-30 1h0m8 1h0m15 0h0m-1 2h0m-2 1h0m3 1h0m9 0h0m-30 1h0m21 1h0m12 0h0m-3 1h0m-32 1h0m32 0h0m3 0h0m-11 1h0m5 0h0m-31 1h0m1 0h0m3 2h0m10 0h0m12 0h0m-23 1h0m14 0h0m-16 1h0m25 2h0m1 0h0m4 0h0m-7 1h0m-24 1h0m26 0h0m-34 1h0m38 0h0m-37 1h0m8 0h0m-13 1h0m10 0h0m-6 1h0m18 0h0m12 0h0m-2 1h0m0 2h0m-12 1h0m18 0h0m-38 1h0m9 1h0m37 0h0m-39 1h0m22 0h0m16 0h0m-26 1h0m16 0h0m2 0h0m-34 1h0m14 0h0m-24 1h0m-3 1h0m10 0h0m7 1h0m21 0h0m12 0h0m2 0h0m23 0h0m1 0h0m-43 1h0m2 0h0m17 0h0m-50 1h0m24 0h0m11 0h0m-34 1h0m66 0h0m-58 2h0m33 1h0m-37 1h0m4 0h0m8 0h0m28 0h0m-35 1h0m20 0h0m18 1h0m-48 1h0m6 0h0m34 0h0m7 0h0m-57 1h0m13 0h0m34 0h0m20 0h0m-46 1h0m41 0h0m-47 1h0m3 0h0m-11 1h0m45 0h0m-41 1h0m23 0h0m7 0h0m4 0h0m13 0h0m0 1h0m4 0h0m-51 1h0m40 0h0m1 0h0m9 0h0m4 1h0m-18 1h0m-26 1h0m18 0h0m-34 1h0m4 0h0m3 0h0m16 0h0m-23 1h0m4 0h0m10 0h0m9 0h0m9 0h0m21 0h0m-49 1h0m5 0h0m4 0h0m5 0h0m17 0h0m7 0h0m9 0h0m1 0h0m14 0h0m-67 1h0m20 0h0m-22 1h0m2 0h0m12 0h0m7 0h0m11 0h0m-26 1h0m4 0h0m31 0h0m-50 1h0m46 0h0m15 0h0m-45 1h0m36 0h0m1 0h0m11 0h0m-13 1h0m26 0h0m-67 1h0m1 0h0m51 0h0m-62 1h0m4 0h0m15 0h0m14 0h0m5 0h0m22 0h0m-53 1h0m18 0h0m-29 1h0m9 0h0m4 0h0m-11 1h0m8 0h0m6 0h0m19 0h0m16 0h0m5 0h0m-31 1h0m5 0h0m-34 1h0m5 0h0m4 0h0m4 0h0m12 0h0m20 0h0m2 0h0m3 0h0m11 1h0m4 0h0m5 0h0m40 0h0m-98 1h0m36 0h0m21 0h0m-37 1h0m30 0h0m-11 1h0m5 0h0m11 0h0m-65 1h0m41 0h0m-59 1h0m18 0h0m16 0h0m1 0h0m54 0h0m45 0h0m8 0h0m1 0h0m-150 1h0m18 0h0m18 0h0m40 0h0m44 0h0m28 0h0m-220 1h0m79 0h0m11 0h0m20 0h0m9 0h0m68 0h0m-101 1h0m19 0h0m65 0h0m-172 1h0m68 0h0m6 0h0m2 0h0m4 0h0m16 0h0m58 0h0m5 0h0m31 0h0m-107 1h0m91 0h0m2 0h0m57 0h0m-99 1h0m46 0h0m8 0h0m-115 1h0m16 0h0m39 0h0m51 0h0m-97 1h0m103 0h0m-94 1h0m1 0h0m7 0h0m5 0h0m26 0h0m-58 1h0m3 0h0m4 0h0m85 0h0m-154 1h0m174 0h0m-82 1h0m9 0h0m47 0h0m15 0h0m12 0h0m-112 1h0m3 0h0m17 0h0m71 0h0m17 0h0m-98 1h0m88 0h0m3 0h0m30 1h0m22 0h0m-103 1h0m47 0h0m4 0h0m-98 1h0m3 0h0m32 0h0m61 0h0m-74 1h0m54 0h0m33 0h0m2 0h0m-61 1h0m20 0h0m18 0h0m1 0h0m17 0h0m-29 1h0m8 0h0m12 0h0m6 0h0m2 0h0m-109 1h0m4 0h0m19 0h0m19 0h0m-15 1h0m47 0h0m2 0h0m7 0h0m18 0h0m-99 1h0m10 0h0m15 0h0m5 0h0m21 0h0m4 0h0m10 0h0m-54 1h0m24 0h0m12 0h0m33 0h0m18 0h0m-104 1h0m14 0h0m24 0h0m20 0h0m-4 1h0m-8 1h0m20 0h0m1 0h0m19 0h0m-28 1h0m1 0h0m7 0h0m16 0h0m-46 1h0m1 0h0m15 0h0m23 0h0m6 2h0"/><path stroke="rgb(25,25,255)" stroke-width="1.8" d="M677 1206h0m4 1h0m6 0h0m-5 5h0m4 2h0m-5 1h0m3 13h0m1 0h0m-6 4h0m-6 5h0m-1 5h0m5 0h0m6 1h0m1 0h0m-1 1h0m-9 1h0m-1 2h0m1 3h0m6 0h0m-1 1h0m3 2h0m-6 1h0m-3 1h0m9 0h0m-7 1h0m-7 1h0m6 1h0m-8 6h0m13 0h0m-15 1h0m7 0h0m2 0h0m-13 2h0m16 2h0m10 0h0m-26 1h0m5 0h0m13 0h0m-19 1h0m4 0h0m7 0h0m2 0h0m6 0h0m-17 1h0m9 0h0m-4 1h0m-2 2h0m-5 1h0m3 0h0m11 0h0m-16 1h0m26 1h0m-18 2h0m3 0h0m1 0h0m16 0h0m-29 1h0m1 0h0m8 0h0m9 0h0m-5 1h0m-11 1h0m2 0h0m2 0h0m9 0h0m-2 1h0m5 2h0m2 0h0m-11 1h0m2 0h0m6 0h0m-7 1h0m6 1h0m3 0h0m-10 1h0m11 0h0m-20 1h0m12 0h0m6 0h0m-18 1h0m22 1h0m-16 1h0m3 0h0m3 1h0m4 0h0m1 0h0m-12 1h0m7 0h0m5 0h0m-5 1h0m-12 1h0m7 0h0m2 0h0m-11 1h0m8 0h0m-1 1h0m-6 1h0m19 0h0m4 0h0m-5 1h0m7 0h0m-21 1h0m16 1h0m-25 1h0m3 0h0m-3 1h0m5 0h0m8 0h0m10 0h0m5 0h0m1 0h0m-40 2h0m19 0h0m2 0h0m-4 1h0m11 0h0m-26 1h0m33 0h0m-21 1h0m17 0h0m-29 1h0m8 0h0m10 0h0m13 0h0m-24 1h0m20 0h0m-23 2h0m25 0h0m2 0h0m-37 1h0m5 0h0m26 0h0m-26 1h0m16 0h0m-22 2h0m37 0h0m-38 1h0m19 0h0m14 0h0m-31 1h0m30 0h0m-23 1h0m11 0h0m-11 1h0m8 0h0m-2 1h0m33 0h0m-45 1h0m33 0h0m-34 1h0m0 1h0m3 0h0m2 0h0m6 0h0m38 0h0m-48 1h0m32 0h0m2 0h0m-36 1h0m14 0h0m5 0h0m-20 1h0m26 0h0m27 0h0m-33 1h0m-11 1h0m1 0h0m7 0h0m-25 1h0m16 0h0m22 0h0m-10 1h0m2 0h0m-28 1h0m21 0h0m20 0h0m-5 2h0m-34 1h0m10 0h0m6 0h0m16 0h0m10 0h0m-11 1h0m-38 1h0m29 0h0m18 0h0m1 0h0m-30 1h0m8 0h0m2 0h0m7 0h0m6 0h0m2 0h0m6 0h0m5 0h0m-21 1h0m4 0h0m18 0h0m-35 1h0m11 0h0m-2 1h0m14 1h0m4 0h0m-34 1h0m13 0h0m11 0h0m-11 1h0m-34 1h0m32 0h0m8 1h0m-20 2h0m15 0h0m7 0h0m-33 1h0m48 0h0m-50 1h0m2 0h0m27 0h0m4 0h0m-44 1h0m9 0h0m-13 1h0m8 0h0m12 0h0m22 0h0m21 0h0m-53 1h0m-20 1h0m13 0h0m39 0h0m82 0h0m-121 1h0m41 0h0m10 0h0m71 0h0m-136 1h0m16 0h0m27 0h0m38 0h0m3 0h0m-2 1h0m-49 1h0m35 0h0m28 0h0m-95 3h0m14 0h0m83 0h0m-104 1h0m7 0h0m97 0h0m-106 1h0m5 0h0m3 0h0m9 1h0m28 1h0m-39 1h0m80 0h0m-77 1h0m14 0h0m62 0h0m4 0h0m-92 2h0m7 0h0m2 0h0m2 0h0m4 0h0m6 0h0m1 0h0m19 0h0m11 0h0m32 0h0m-74 1h0m20 0h0m57 0h0m10 0h0m-87 1h0m4 0h0m6 0h0m43 0h0m11 0h0m19 0h0m-93 1h0m13 0h0m54 0h0m1 0h0m11 0h0m6 0h0m-59 1h0m48 0h0m-47 1h0m3 0h0m4 0h0m10 0h0m16 0h0m36 0h0m-43 1h0m14 0h0m5 0h0m1 0h0m-42 1h0m2 0h0m7 0h0m7 0h0m5 0h0m7 0h0m-27 1h0m25 0h0m-29 1h0m42 0h0"/><path stroke="rgb(0,0,220)" stroke-width="1.8" d="M684 1210h0m-3 1h0m1 3h0m-9 32h0m2 1h0m1 0h0m-6 3h0m-2 6h0m5 0h0m0 3h0m2 1h0m2 0h0m-5 5h0m-3 4h0m2 0h0m3 2h0m-5 2h0m3 4h0m1 0h0m-17 1h0m4 4h0m8 0h0m-9 2h0m2 0h0m16 1h0m9 2h0m-23 7h0m7 0h0m-7 1h0m-1 2h0m12 0h0m-13 2h0m5 0h0m1 0h0m-10 1h0m23 0h0m-25 2h0m-1 1h0m3 0h0m10 1h0m-7 2h0m-9 1h0m-1 2h0m9 0h0m11 0h0m-21 1h0m14 1h0m-13 1h0m-1 3h0m4 0h0m17 1h0m-28 1h0m18 0h0m1 0h0m1 0h0m0 1h0m-25 1h0m10 0h0m-5 1h0m5 1h0m-2 1h0m-3 2h0m13 0h0m12 0h0m-24 2h0m17 0h0m-4 1h0m-7 1h0m1 2h0m6 0h0m2 0h0m5 1h0m-11 1h0m8 0h0m5 0h0m0 1h0m-8 1h0m-9 2h0m2 2h0m-24 1h0m15 0h0m20 0h0m-1 2h0m-3 2h0m13 0h0m-28 1h0m20 2h0m-44 1h0m45 0h0m-10 1h0m13 0h0m-49 1h0m26 0h0m4 0h0m18 0h0m-5 1h0m3 0h0m-26 2h0m-9 1h0m6 0h0m42 0h0m-48 1h0m-7 1h0m15 0h0m30 0h0m1 0h0m-56 1h0m44 0h0m-49 1h0m18 0h0m27 0h0m7 0h0m-52 2h0m53 0h0m11 0h0m3 0h0m-55 1h0m42 0h0m4 0h0m6 0h0m-67 1h0m6 0h0m28 0h0m-34 1h0m72 0h0m-68 1h0m14 0h0m44 0h0m-46 1h0m51 0h0m4 0h0m-27 2h0m0 1h0m21 0h0m-73 1h0m4 0h0m1 0h0m21 0h0m35 0h0m-70 1h0m32 0h0m9 1h0m11 0h0m1 0h0m-36 1h0m2 0h0m65 0h0m-57 1h0m15 0h0m35 0h0m-77 1h0m14 0h0m11 0h0m7 0h0m46 0h0m-59 1h0m37 0h0m4 0h0m-55 1h0m41 0h0m-19 1h0m33 1h0m4 2h0m-6 1h0m2 2h0"/><path stroke="rgb(0,140,255)" stroke-width="1.8" d="M676 1257h0m-2 15h0m-5 5h0m5 0h0m-8 6h0m-1 2h0m3 2h0m2 5h0m3 0h0m-11 1h0m1 3h0m-4 1h0m-1 1h0m0 1h0m-3 9h0m-7 1h0m24 1h0m-23 3h0m6 1h0m8 0h0m-21 1h0m20 0h0m-24 1h0m-4 1h0m18 0h0m19 0h0m-27 1h0m11 0h0m-4 1h0m5 0h0m4 0h0m-11 1h0m3 1h0m3 0h0m5 0h0m4 0h0m4 0h0m-21 1h0m-4 1h0m8 0h0m-4 1h0m21 1h0m-11 1h0m-8 1h0m17 0h0m-9 1h0m-5 3h0m9 0h0m-18 6h0m13 3h0m-10 3h0m4 0h0m12 1h0m-16 1h0m16 0h0m-28 1h0m8 0h0m12 2h0m5 0h0m1 0h0m1 0h0m-27 2h0m13 0h0m18 0h0m-20 1h0m3 0h0m11 0h0m-30 1h0m26 0h0m6 1h0m2 0h0m-37 1h0m4 0h0m2 0h0m31 0h0m-33 1h0m20 0h0m3 0h0m10 0h0m-38 1h0m50 0h0m-13 1h0m-44 1h0m8 0h0m16 0h0m27 0h0m-3 1h0m6 0h0m-67 1h0m4 0h0m43 0h0m10 0h0m10 0h0m-55 1h0m3 0h0m6 0h0m9 0h0m4 0h0m8 0h0m8 0h0m9 0h0m6 0h0m6 0h0m-65 1h0m8 0h0m-11 1h0m4 1h0m14 0h0m22 0h0m7 0h0m4 1h0m2 0h0m5 0h0m2 0h0m-54 1h0m23 0h0m32 0h0m-34 1h0m-39 1h0m16 0h0m41 0h0m2 0h0m10 0h0m6 0h0m-68 1h0m42 0h0m22 0h0m-53 1h0m45 0h0m-59 1h0m50 0h0m9 0h0m8 0h0m-61 2h0m2 0h0m15 1h0m-12 1h0m9 0h0m6 0h0m10 0h0m-9 2h0m6 0h0m23 0h0m-17 1h0"/><path stroke="rgb(0,215,230)" stroke-width="1.8" d="M671 1272h0m-6 5h0m8 1h0m-8 1h0m3 5h0m-17 26h0m3 2h0m8 1h0m7 0h0m-8 1h0m-3 1h0m11 2h0m-30 1h0m15 1h0m14 0h0m-13 1h0m15 0h0m-9 2h0m5 1h0m1 0h0m-5 1h0m1 0h0m-6 1h0m9 0h0m-8 1h0m7 0h0m-7 1h0m3 5h0m-34 4h0m15 1h0m3 2h0m0 3h0m2 1h0m11 1h0m-16 3h0m2 0h0m1 1h0m10 1h0m2 0h0m-15 2h0m-2 2h0m11 0h0m-17 1h0m1 0h0m7 0h0m-10 1h0m10 0h0m3 0h0m-8 1h0m6 0h0m17 0h0m9 0h0m-56 1h0m6 0h0m27 0h0m10 0h0m13 0h0m-59 1h0m37 0h0m19 0h0m6 0h0m3 0h0m-63 1h0m22 0h0m10 0h0m-7 1h0m14 0h0m17 0h0m-62 1h0m10 0h0m16 0h0m24 0h0m17 0h0m-47 1h0m26 0h0m14 0h0m5 0h0m1 0h0m2 0h0m-55 1h0m3 0h0m4 0h0m10 0h0m12 0h0m1 0h0m10 0h0m-52 1h0m11 0h0m35 0h0m-47 1h0m20 0h0m22 0h0m3 0h0m-44 1h0m1 0h0m5 0h0m7 0h0m35 0h0m5 0h0m2 0h0m-54 1h0m6 0h0m5 0h0m7 0h0m11 0h0m26 0h0m3 0h0m7 0h0m-59 1h0m2 0h0m3 0h0m12 0h0m33 0h0m-27 1h0m7 0h0m2 0h0m3 0h0m1 0h0m6 0h0m8 0h0m-59 1h0m13 0h0m34 0h0m-51 1h0m14 0h0m25 0h0m11 0h0m-49 1h0m22 0h0m14 0h0m20 0h0m-24 1h0m9 0h0m4 0h0m1 1h0m8 0h0m-35 1h0m7 0h0m10 1h0m6 0h0m-23 1h0m18 0h0m1 0h0m5 3h0"/><path stroke="rgb(0,235,120)" stroke-width="1.8" d="M667 1277h0m4 0h0m-8 23h0m1 13h0m-4 2h0m-6 6h0m4 0h0m-1 1h0m0 5h0m6 0h0m1 0h0m-3 13h0m-21 9h0m1 1h0m23 2h0m-27 1h0m6 0h0m-6 1h0m10 0h0m-13 1h0m4 0h0m3 0h0m23 0h0m-38 1h0m14 0h0m2 1h0m2 0h0m17 0h0m-32 1h0m8 0h0m7 0h0m11 0h0m1 0h0m12 0h0m-40 1h0m34 0h0m5 0h0m-51 1h0m9 0h0m7 0h0m6 0h0m11 0h0m10 0h0m2 0h0m2 0h0m-42 1h0m10 0h0m3 0h0m7 0h0m8 0h0m-37 1h0m3 0h0m1 0h0m1 0h0m24 0h0m10 0h0m5 0h0m-42 1h0m3 0h0m14 0h0m4 0h0m11 0h0m1 0h0m10 0h0m9 0h0m2 0h0m-53 1h0m9 0h0m13 0h0m5 0h0m15 0h0m11 0h0m4 0h0m-62 1h0m4 0h0m13 0h0m8 0h0m8 0h0m-32 1h0m11 0h0m11 0h0m31 0h0m10 0h0m-53 1h0m18 0h0m19 0h0m14 0h0m-47 1h0m2 0h0m6 0h0m11 0h0m4 0h0m10 0h0m-43 1h0m6 0h0m14 0h0m1 0h0m5 0h0m21 0h0m-50 1h0m12 0h0m19 0h0m5 0h0m6 0h0m-37 1h0m2 0h0m25 0h0m9 0h0m-50 1h0m12 0h0m6 0h0m18 0h0m-13 1h0m5 0h0m5 0h0m-10 1h0m3 0h0m23 0h0m-19 1h0m5 0h0m-14 1h0m4 0h0m9 0h0m-3 1h0"/><path stroke="rgb(30,240,30)" stroke-width="1.8" d="M659 1318h0m6 1h0m-9 2h0m1 0h0m5 5h0m-22 26h0m-1 1h0m-10 2h0m14 0h0m-14 1h0m5 0h0m18 0h0m-27 1h0m4 0h0m6 0h0m2 0h0m6 0h0m2 0h0m7 0h0m0 1h0m1 0h0m12 0h0m-22 1h0m9 0h0m4 1h0m-26 1h0m15 0h0m14 0h0m-54 1h0m13 0h0m2 0h0m20 0h0m3 0h0m2 0h0m8 0h0m6 0h0m-46 1h0m15 0h0m2 0h0m2 0h0m12 0h0m14 0h0m15 0h0m-41 1h0m2 0h0m13 0h0m5 0h0m6 0h0m-40 1h0m3 0h0m8 0h0m41 0h0m-47 1h0m26 0h0m4 0h0m15 0h0m-40 1h0m15 0h0m3 0h0m9 0h0m5 0h0m-45 1h0m14 0h0m10 0h0m1 0h0m2 0h0m17 0h0m-45 1h0m2 0h0m9 0h0m6 0h0m17 0h0m-19 1h0m13 0h0m11 0h0m-29 1h0m6 0h0m11 0h0m6 0h0m9 0h0m-52 1h0m28 0h0m1 0h0m2 0h0m10 0h0m8 0h0m-34 1h0m3 0h0m2 0h0m11 0h0m15 0h0m-34 1h0m15 1h0"/><path stroke="rgb(180,245,0)" stroke-width="1.8" d="M643 1352h0m2 0h0m-6 2h0m1 3h0m19 0h0m-26 1h0m5 0h0m3 0h0m4 1h0m2 0h0m2 0h0m-20 1h0m-14 1h0m21 0h0m14 0h0m-1 1h0m1 0h0m-16 1h0m3 0h0m6 0h0m-10 1h0m16 0h0m2 0h0m5 0h0m9 0h0m-33 1h0m1 0h0m11 0h0m14 0h0m2 0h0m-44 1h0m36 0h0m-29 1h0m34 0h0m-8 1h0m-32 1h0m12 0h0m9 0h0m-5 1h0m-6 1h0m1 0h0m1 0h0m20 0h0m-19 2h0m-3 1h0"/><path stroke="rgb(255,200,0)" stroke-width="1.8" d="M641 1353h0m-1 2h0m-2 1h0m-6 3h0m19 0h0m4 0h0m-21 1h0m11 0h0m1 0h0m-17 1h0m13 0h0m-10 1h0m7 0h0m3 1h0m3 0h0m10 2h0m-30 2h0m7 0h0m-4 1h0m2 0h0m7 0h0m-9 1h0m6 0h0m-3 1h0m16 0h0m1 1h0m3 1h0"/><path stroke="rgb(255,70,0)" stroke-width="1.8" d="M638 1357h0m-6 1h0m17 0h0m-1 1h0m-13 1h0m5 0h0m-7 1h0m9 1h0m2 2h0m-14 1h0m0 1h0m13 0h0m-13 1h0m-4 1h0m-6 1h0m10 0h0m9 0h0m1 0h0m-12 1h0m21 2h0"/><path stroke="rgb(135,135,250)" stroke-width="1.8" d="M1079 1065h0m9 0h0m29 1h0m-16 4h0m14 1h0m8 1h0m-30 2h0m7 0h0m-9 2h0m17 0h0m-32 2h0m1 0h0m4 0h0m19 2h0m-10 1h0m2 0h0m15 0h0m-6 2h0m3 0h0m18 0h0m18 1h0m-65 1h0m5 0h0m-2 2h0m37 1h0m-29 1h0m8 0h0m40 0h0m-60 2h0m28 0h0m16 0h0m-46 1h0m8 0h0m-5 2h0m22 1h0m-33 1h0m16 0h0m-2 4h0m51 0h0m-29 2h0m-26 1h0m13 0h0m-19 1h0m22 0h0m0 1h0m12 0h0m-41 1h0m17 1h0m12 0h0m10 0h0m-32 2h0m23 0h0m-25 1h0m17 0h0m49 0h0m-47 1h0m6 0h0m4 4h0m-9 1h0m-15 1h0m24 0h0m19 0h0m101 0h0m2 0h0m-146 2h0m5 0h0m9 0h0m25 0h0m17 0h0m-43 1h0m34 0h0m-47 1h0m2 0h0m20 0h0m-15 1h0m6 0h0m15 1h0m-10 1h0m11 0h0m4 0h0m-35 1h0m21 0h0m1 0h0m5 0h0m-27 1h0m12 0h0m-4 1h0m24 0h0m-26 1h0m41 0h0m-16 1h0m-5 1h0m7 0h0m25 0h0m-53 2h0m1 0h0m13 0h0m5 0h0m-7 1h0m-18 1h0m1 0h0m7 1h0m5 0h0m-15 1h0m58 0h0m-64 1h0m14 0h0m61 0h0m-61 1h0m22 0h0m-43 1h0m13 0h0m9 0h0m14 0h0m11 0h0m0 1h0m-42 1h0m41 0h0m-16 1h0m7 0h0m1 0h0m8 0h0m-17 1h0m19 1h0m33 0h0m-77 1h0m19 0h0m12 0h0m-22 1h0m28 0h0m-29 1h0m2 1h0m27 0h0m12 0h0m-25 2h0m11 0h0m-3 1h0m-2 1h0m-21 1h0m4 0h0m16 0h0m11 0h0m24 0h0m3 2h0m-59 1h0m72 0h0m-76 1h0m-88 1h0m123 0h0m-94 1h0m59 0h0m70 0h0m-18 1h0m-36 1h0m15 0h0m-20 1h0m2 0h0m-12 1h0m42 1h0m14 0h0m-120 1h0m62 0h0m6 0h0m72 0h0m-44 1h0m28 0h0m-43 1h0m5 0h0m-25 1h0m41 0h0m24 0h0m-49 1h0m-10 1h0m17 0h0m15 0h0m-28 1h0m10 0h0m3 0h0m8 0h0m7 0h0m-107 1h0m103 1h0m25 0h0m27 0h0m-99 2h0m19 0h0m15 0h0m-16 1h0m30 0h0m-18 1h0m2 0h0m-114 1h0m99 0h0m7 0h0m64 1h0m-65 1h0m27 0h0m-42 1h0m2 0h0m3 1h0m-3 1h0m35 0h0m26 0h0m-56 1h0m10 0h0m20 0h0m66 1h0m-96 1h0m32 0h0m-7 1h0m10 0h0m-44 1h0m57 0h0m-48 1h0m58 0h0m-65 1h0m45 0h0m27 0h0m-136 1h0m104 0h0m3 0h0m16 0h0m-47 1h0m39 0h0m-51 1h0m16 0h0m70 0h0m-79 1h0m1 0h0m8 1h0m-12 2h0m-11 1h0m19 0h0m11 0h0m50 0h0m-65 1h0m59 0h0m-13 1h0m-16 1h0m9 0h0m-49 1h0m11 0h0m9 0h0m8 0h0m21 0h0m2 1h0m21 0h0m-36 1h0m6 0h0m-15 1h0m-37 1h0m15 0h0m2 0h0m9 1h0m18 0h0m-22 1h0m4 0h0m-71 1h0m60 0h0m11 0h0m72 0h0m-42 1h0m13 0h0m-45 1h0m39 0h0m-48 1h0m56 0h0m-53 1h0m37 0h0m-27 1h0m1 0h0m35 0h0m7 1h0m-65 1h0m47 0h0m43 0h0m-81 1h0m8 0h0m74 0h0m-65 1h0m-83 1h0m61 0h0m12 0h0m13 0h0m16 0h0m2 0h0m-49 1h0m5 0h0m6 0h0m22 0h0m-12 1h0m-28 1h0m57 0h0m-46 1h0m56 0h0m-46 1h0m39 0h0m-50 2h0m3 0h0m11 0h0m13 1h0m18 0h0m-53 1h0m15 0h0m2 1h0m10 0h0m29 0h0m-9 1h0m-6 1h0m16 0h0m-42 1h0m4 0h0m30 0h0m3 0h0m18 0h0m2 0h0m-4 1h0m-72 1h0m31 0h0m17 0h0m12 0h0m2 0h0m14 0h0m84 0h0m-220 1h0m72 0h0m3 0h0m6 0h0m-12 1h0m1 1h0m17 0h0m54 0h0m-44 1h0m5 0h0m8 0h0m-37 2h0m11 0h0m28 0h0m-30 1h0m27 0h0m61 0h0m-96 1h0m2 0h0m7 0h0m-15 1h0m1 0h0m8 0h0m28 0h0m8 0h0m-20 1h0m15 0h0m7 0h0m1 0h0m3 0h0m3 1h0m-42 1h0m-15 1h0m11 0h0m13 0h0m72 0h0m-100 1h0m10 0h0m164 0h0m-160 1h0m70 0h0m-40 1h0m11 0h0m-27 1h0m22 0h0m7 0h0m-44 1h0m6 0h0m28 0h0m7 0h0m-65 1h0m21 0h0m9 0h0m24 0h0m6 0h0m78 0h0m-192 1h0m120 0h0m-55 2h0m-3 1h0m15 0h0m35 0h0m19 0h0m11 0h0m-87 2h0m8 0h0m28 0h0m21 0h0m-48 1h0m24 0h0m32 0h0m28 0h0m-43 1h0m12 0h0m10 0h0m20 0h0m26 0h0m-103 1h0m17 0h0m26 0h0m5 0h0m-13 1h0m16 0h0m-56 1h0m77 0h0m18 0h0m4 0h0m-101 1h0m43 0h0m8 0h0m2 0h0m10 0h0m-26 1h0m62 0h0m-87 1h0m24 0h0m20 0h0m-23 1h0m-25 1h0m2 0h0m-5 1h0m38 0h0m12 0h0m-52 1h0m20 0h0m-20 1h0m43 0h0m-37 1h0m42 0h0m5 0h0m2 0h0m-9 1h0m-8 1h0m20 0h0m118 0h0m-172 1h0m43 0h0m29 0h0m-89 1h0m48 1h0m15 0h0m33 1h0m14 0h0m-46 2h0m2 0h0m-55 1h0m41 0h0m20 0h0m3 0h0m-62 1h0m6 0h0m-23 1h0m15 0h0m34 0h0m3 0h0m4 0h0m-39 1h0m7 0h0m88 0h0m-78 1h0m36 0h0m3 0h0m15 1h0m17 0h0m-109 1h0m43 0h0m23 0h0m21 0h0m-64 1h0m29 0h0m7 0h0m2 0h0m7 0h0m-33 1h0m1 0h0m50 0h0m29 0h0m-95 1h0m35 0h0m20 0h0m42 0h0m-88 1h0m39 0h0m2 0h0m18 0h0m15 0h0m-105 1h0m53 0h0m33 0h0m-46 1h0m9 0h0m13 0h0m31 0h0m4 0h0m-77 1h0m27 0h0m7 0h0m17 0h0m42 0h0m-97 1h0m48 0h0m-55 1h0m15 0h0m41 0h0m12 0h0m31 0h0m-86 1h0m11 0h0m37 0h0m1 0h0m-76 1h0m24 0h0m41 1h0m8 0h0m12 0h0m-67 1h0m63 0h0m8 0h0m6 0h0m-60 1h0m-14 1h0m71 0h0m-72 1h0m74 0h0m-38 1h0m9 0h0m29 0h0m-64 1h0m9 0h0m7 0h0m15 0h0m23 0h0m26 0h0m-82 1h0m45 0h0m17 0h0m-78 1h0m1 0h0m13 0h0m99 0h0m-111 1h0m28 0h0m52 0h0m50 0h0m-198 1h0m120 0h0m1 0h0m-57 1h0m55 0h0m13 0h0m-62 1h0m4 0h0m31 0h0m11 0h0m-48 1h0m31 0h0m47 0h0m-63 1h0m13 0h0m24 0h0m4 0h0m2 0h0m1 1h0m6 0h0m0 1h0m2 0h0m2 0h0m3 0h0m-67 1h0m9 0h0m92 0h0m-82 1h0m64 0h0m-83 1h0m33 0h0m-40 1h0m7 0h0m8 0h0m-63 1h0m82 0h0m18 0h0m37 0h0m-51 1h0m13 1h0m1 0h0m-48 1h0m53 0h0m1 0h0m-53 2h0m50 0h0m9 0h0m102 0h0m-179 1h0m13 0h0m26 0h0m40 0h0m-84 1h0m24 0h0m39 0h0m20 0h0m-67 1h0m70 0h0m-7 1h0m-82 1h0m2 0h0m41 0h0m24 0h0m-8 1h0m10 0h0m23 0h0m-57 2h0m116 0h0m-100 1h0m86 0h0m-138 1h0m15 0h0m68 0h0m-68 1h0m1 0h0m40 0h0m26 0h0m44 0h0m-56 1h0m8 0h0m22 0h0m36 0h0m-61 1h0m12 0h0m55 0h0m-128 1h0m37 1h0m58 0h0m-99 1h0m61 0h0m-6 1h0m-12 1h0m-42 2h0m78 0h0m-89 1h0m43 0h0m18 0h0m-55 1h0m73 0h0m-113 1h0m103 0h0m51 0h0m-121 1h0m18 0h0m2 0h0m57 0h0m-71 1h0m62 0h0m50 0h0m12 0h0m-60 1h0m8 0h0m1 0h0m-2 1h0m8 0h0m-67 1h0m56 0h0m5 0h0m5 0h0m-115 1h0m27 0h0m39 0h0m34 1h0m32 0h0m-127 1h0m13 0h0m10 0h0m10 0h0m10 0h0m50 0h0m33 0h0m20 0h0m-104 1h0m51 0h0m17 0h0m38 0h0m-155 1h0m42 0h0m62 0h0m4 0h0m35 0h0m-127 1h0m74 0h0m34 0h0m-109 1h0m31 0h0m38 0h0m-59 1h0m81 0h0m40 0h0m12 0h0m-129 1h0m1 0h0m-32 1h0m16 0h0m14 0h0m-5 1h0m5 0h0m71 0h0m-94 1h0m5 0h0m92 0h0m69 0h0m-162 1h0m5 1h0m24 0h0m1 0h0m-47 1h0m27 0h0m11 0h0m77 0h0m23 0h0m6 0h0m-133 1h0m19 0h0m63 0h0m64 0h0m-142 1h0m3 0h0m10 0h0m78 0h0m-111 1h0m26 0h0m14 1h0m64 0h0m4 0h0m72 0h0m5 0h0m-78 1h0m34 0h0m-126 1h0m6 0h0m10 0h0m14 0h0m39 0h0m40 0h0m19 0h0m41 0h0m-191 1h0m19 0h0m8 0h0m12 0h0m12 0h0m52 0h0m9 1h0m1 0h0m72 0h0m-172 1h0m36 0h0m184 0h0m-207 1h0m25 0h0m46 0h0m14 0h0m32 0h0m8 0h0m-49 1h0m-78 1h0m6 0h0m8 0h0m15 0h0m28 0h0m-49 1h0m23 0h0m4 0h0m27 0h0m8 0h0m10 0h0m-56 1h0m103 0h0m-111 1h0m137 0h0m-110 1h0m10 0h0m6 0h0m63 0h0m-62 1h0m20 0h0m-14 1h0m-32 1h0m24 0h0m16 0h0m11 1h0"/><path stroke="rgb(80,80,252)" stroke-width="1.8" d="M1084 1064h0m1 0h0m1 0h0m-2 2h0m9 1h0m-5 1h0m-6 4h0m10 1h0m-13 3h0m3 0h0m9 2h0m0 2h0m-2 1h0m-11 2h0m11 1h0m-8 1h0m-4 1h0m10 2h0m1 0h0m5 1h0m-13 1h0m3 0h0m8 0h0m4 1h0m-13 1h0m10 0h0m-1 1h0m-12 2h0m4 0h0m4 0h0m9 1h0m-18 2h0m8 1h0m-10 1h0m3 0h0m16 0h0m1 0h0m-12 1h0m10 1h0m1 0h0m-14 1h0m16 0h0m-10 1h0m5 0h0m-15 1h0m7 2h0m9 0h0m2 0h0m-6 2h0m-12 2h0m11 0h0m6 0h0m-21 1h0m8 0h0m7 1h0m-15 3h0m17 0h0m0 4h0m-1 2h0m-18 1h0m11 3h0m4 0h0m-11 1h0m4 2h0m11 0h0m-17 1h0m3 1h0m19 0h0m1 0h0m-20 2h0m7 1h0m7 1h0m-10 2h0m-5 1h0m1 0h0m11 1h0m-6 2h0m-10 1h0m2 0h0m7 0h0m-5 1h0m1 0h0m9 0h0m-12 1h0m3 0h0m-2 1h0m7 0h0m1 1h0m-3 1h0m-2 2h0m6 0h0m4 0h0m-14 1h0m1 0h0m12 0h0m-7 1h0m-5 1h0m11 0h0m-12 1h0m6 0h0m-9 5h0m10 0h0m1 2h0m12 0h0m-7 1h0m3 1h0m-24 1h0m10 0h0m4 0h0m9 0h0m-25 1h0m22 0h0m2 0h0m4 0h0m-28 2h0m2 0h0m16 1h0m7 0h0m-15 1h0m2 0h0m-4 2h0m7 1h0m13 1h0m-18 1h0m10 0h0m8 0h0m-18 1h0m5 0h0m15 0h0m-4 1h0m-13 1h0m9 0h0m2 1h0m-14 1h0m-1 1h0m4 0h0m5 0h0m1 1h0m-10 1h0m12 0h0m-12 1h0m1 0h0m12 0h0m-21 1h0m10 1h0m-8 1h0m9 2h0m7 0h0m-13 1h0m14 0h0m-8 1h0m10 0h0m-8 1h0m-6 1h0m1 0h0m3 1h0m1 0h0m-19 2h0m19 0h0m8 0h0m-25 1h0m13 0h0m8 0h0m1 0h0m6 0h0m-4 1h0m3 0h0m2 0h0m-22 1h0m-11 1h0m6 0h0m4 0h0m4 0h0m18 0h0m-9 1h0m10 0h0m1 0h0m-9 1h0m4 0h0m-13 2h0m13 5h0m-25 1h0m2 0h0m21 1h0m-5 1h0m11 0h0m-21 1h0m4 0h0m12 0h0m-3 1h0m-15 1h0m24 0h0m-28 1h0m9 1h0m18 0h0m-16 1h0m5 0h0m4 0h0m-25 2h0m9 0h0m14 0h0m3 0h0m2 0h0m-26 2h0m4 0h0m6 0h0m19 0h0m2 0h0m-34 1h0m30 0h0m2 0h0m-27 2h0m7 0h0m17 0h0m-29 1h0m15 0h0m12 0h0m3 0h0m-18 1h0m1 0h0m1 0h0m4 0h0m10 0h0m3 1h0m-25 1h0m22 1h0m-21 1h0m3 0h0m7 0h0m-1 1h0m1 0h0m-13 1h0m9 0h0m2 1h0m-11 2h0m17 0h0m1 0h0m7 0h0m-18 1h0m5 0h0m2 0h0m-11 1h0m13 0h0m-19 1h0m25 0h0m-23 1h0m6 1h0m18 1h0m-20 1h0m13 1h0m-18 1h0m7 0h0m3 2h0m-8 1h0m14 0h0m2 0h0m13 0h0m-27 1h0m15 0h0m-14 1h0m26 0h0m-39 1h0m26 0h0m-21 1h0m19 0h0m14 1h0m-26 1h0m6 0h0m10 0h0m-24 1h0m18 0h0m4 0h0m-7 2h0m10 0h0m-19 1h0m8 0h0m10 1h0m0 1h0m2 0h0m1 0h0m-9 1h0m1 0h0m-20 1h0m21 0h0m6 0h0m3 0h0m-32 1h0m13 0h0m2 0h0m9 0h0m15 0h0m-40 2h0m21 0h0m-26 1h0m1 0h0m7 0h0m18 0h0m-27 1h0m13 0h0m27 0h0m-13 1h0m11 0h0m-26 1h0m3 0h0m-18 1h0m41 0h0m-9 2h0m13 0h0m-38 1h0m24 0h0m-24 1h0m7 0h0m4 0h0m8 0h0m7 0h0m3 1h0m1 0h0m-37 1h0m2 0h0m4 1h0m3 0h0m8 0h0m19 0h0m9 0h0m-36 1h0m36 1h0m-19 1h0m-19 1h0m11 0h0m10 0h0m14 1h0m-34 1h0m5 0h0m16 0h0m-19 1h0m22 0h0m10 0h0m-18 1h0m17 0h0m1 0h0m-40 1h0m1 0h0m22 0h0m12 0h0m-32 1h0m14 0h0m31 0h0m-53 2h0m10 0h0m12 0h0m-14 1h0m23 0h0m7 0h0m-26 1h0m23 0h0m1 0h0m-9 2h0m4 0h0m2 0h0m10 0h0m4 0h0m-46 2h0m11 0h0m1 0h0m3 0h0m2 0h0m4 0h0m8 0h0m11 0h0m-24 1h0m-14 1h0m29 0h0m13 0h0m-27 1h0m15 1h0m-14 1h0m-3 1h0m13 0h0m9 1h0m-13 1h0m7 0h0m-13 1h0m23 0h0m2 0h0m-37 1h0m8 0h0m29 0h0m-47 1h0m45 0h0m-18 1h0m-19 1h0m27 0h0m-23 1h0m25 0h0m-25 1h0m6 0h0m10 0h0m15 1h0m-24 2h0m8 0h0m5 0h0m-28 1h0m4 0h0m23 0h0m5 0h0m-1 1h0m6 0h0m3 0h0m-46 2h0m9 1h0m6 0h0m20 0h0m-32 1h0m7 0h0m6 1h0m-8 2h0m8 0h0m5 0h0m-4 1h0m2 0h0m25 0h0m-16 1h0m11 0h0m3 0h0m2 0h0m-28 1h0m4 0h0m-17 1h0m1 0h0m27 0h0m-30 1h0m6 0h0m20 0h0m2 0h0m13 0h0m3 0h0m-7 1h0m-3 1h0m-42 1h0m6 0h0m13 0h0m15 0h0m-32 1h0m29 0h0m3 0h0m18 0h0m-33 1h0m5 2h0m6 1h0m16 0h0m3 0h0m5 0h0m-41 1h0m33 0h0m-49 1h0m6 0h0m52 0h0m-43 1h0m-19 1h0m2 0h0m5 0h0m23 1h0m22 0h0m8 0h0m-32 1h0m25 0h0m11 0h0m-51 1h0m43 0h0m-57 1h0m5 0h0m36 0h0m26 0h0m-68 1h0m13 0h0m14 0h0m-23 1h0m2 0h0m27 0h0m4 0h0m11 0h0m-51 1h0m34 0h0m23 0h0m2 0h0m-5 1h0m-55 2h0m5 0h0m7 0h0m2 0h0m30 0h0m-41 1h0m5 0h0m19 0h0m3 2h0m11 0h0m21 0h0m-52 1h0m43 0h0m5 0h0m-13 1h0m20 0h0m-65 1h0m52 0h0m4 0h0m-57 1h0m-5 1h0m3 0h0m56 0h0m8 1h0m-73 1h0m3 0h0m21 0h0m28 1h0m14 0h0m-69 1h0m7 0h0m35 0h0m4 0h0m-38 1h0m-10 1h0m7 1h0m16 0h0m39 0h0m11 0h0m-64 1h0m61 0h0m-59 1h0m32 1h0m-35 1h0m46 0h0m9 0h0m-56 1h0m60 0h0m3 0h0m-65 3h0m62 0h0m-80 2h0m3 0h0m21 0h0m-23 1h0m19 1h0m1 0h0m16 0h0m13 0h0m8 0h0m-45 1h0m-8 1h0m9 0h0m41 2h0m2 0h0m-22 1h0m28 1h0m-41 1h0m15 0h0m14 0h0m3 0h0m1 0h0m8 0h0m-33 1h0m11 0h0m24 1h0m-31 1h0m14 0h0m-7 2h0"/><path stroke="rgb(25,25,255)" stroke-width="1.8" d="M1087 1064h0m0 3h0m1 0h0m3 0h0m-8 2h0m6 1h0m-7 1h0m2 0h0m-2 3h0m9 0h0m-6 2h0m-4 5h0m6 0h0m4 1h0m-7 1h0m-2 2h0m-1 3h0m7 1h0m4 4h0m-12 2h0m6 0h0m6 0h0m-10 4h0m3 1h0m7 0h0m-4 2h0m-9 2h0m6 0h0m-7 1h0m10 0h0m-6 2h0m-3 1h0m-4 3h0m2 1h0m1 2h0m5 1h0m1 1h0m-2 1h0m6 2h0m-8 2h0m-4 3h0m2 0h0m9 0h0m1 0h0m5 2h0m-12 1h0m1 0h0m11 0h0m-12 4h0m-1 1h0m3 1h0m6 0h0m-2 1h0m2 0h0m4 0h0m-9 4h0m1 1h0m1 1h0m-8 1h0m9 1h0m-3 1h0m-4 2h0m-6 4h0m-5 3h0m13 0h0m1 1h0m-12 1h0m-1 1h0m3 0h0m4 2h0m4 0h0m-3 1h0m6 0h0m-9 2h0m12 0h0m-14 1h0m2 1h0m7 0h0m4 2h0m-2 1h0m5 1h0m-13 1h0m14 0h0m-12 1h0m3 3h0m-8 1h0m8 0h0m-2 1h0m6 0h0m1 0h0m-3 3h0m-9 1h0m9 2h0m2 2h0m-6 1h0m-10 2h0m8 0h0m4 0h0m0 1h0m2 0h0m-11 1h0m14 0h0m-14 2h0m-1 2h0m8 0h0m6 0h0m-9 1h0m7 4h0m2 0h0m-16 1h0m7 0h0m11 1h0m-18 2h0m3 0h0m-1 1h0m16 0h0m-12 1h0m-2 1h0m8 0h0m3 0h0m1 2h0m-8 1h0m7 0h0m2 0h0m-12 1h0m11 0h0m-7 1h0m-9 1h0m18 0h0m-17 1h0m14 0h0m-8 1h0m-14 2h0m22 0h0m-6 1h0m5 0h0m3 2h0m1 1h0m-4 1h0m-12 2h0m-7 2h0m-13 1h0m23 0h0m1 3h0m2 0h0m2 2h0m-6 1h0m-12 1h0m14 0h0m3 0h0m5 0h0m-2 1h0m0 1h0m-23 1h0m21 0h0m6 0h0m-20 1h0m-7 1h0m7 0h0m19 1h0m-6 1h0m-18 1h0m22 0h0m-27 1h0m-4 1h0m27 1h0m-22 1h0m25 0h0m-3 1h0m3 1h0m-19 1h0m26 0h0m-12 1h0m5 0h0m3 0h0m-18 1h0m15 0h0m6 0h0m-27 1h0m18 1h0m-1 1h0m-11 1h0m-10 1h0m11 0h0m-14 1h0m9 0h0m9 0h0m1 1h0m2 0h0m-17 4h0m9 0h0m6 0h0m-5 1h0m-5 3h0m6 0h0m-17 1h0m-4 1h0m13 0h0m-5 1h0m1 0h0m19 0h0m7 0h0m-14 1h0m4 0h0m10 0h0m-32 1h0m2 0h0m2 3h0m5 0h0m9 0h0m8 0h0m-14 2h0m3 1h0m2 0h0m-4 1h0m-10 1h0m3 1h0m13 0h0m1 0h0m8 1h0m0 2h0m2 0h0m-5 1h0m4 0h0m-28 1h0m4 0h0m9 1h0m3 0h0m-12 1h0m8 0h0m17 0h0m-12 3h0m-15 1h0m2 0h0m10 1h0m-13 1h0m6 1h0m2 0h0m-7 2h0m5 1h0m8 0h0m-15 2h0m28 0h0m-32 2h0m-8 1h0m11 0h0m10 1h0m-15 1h0m4 0h0m9 0h0m6 0h0m6 0h0m-19 1h0m17 0h0m-11 1h0m9 0h0m-24 1h0m1 0h0m11 0h0m7 0h0m1 0h0m-23 1h0m31 0h0m4 0h0m4 0h0m-7 1h0m-22 1h0m17 0h0m-29 1h0m18 0h0m11 0h0m4 0h0m-32 1h0m21 0h0m0 2h0m-11 1h0m6 0h0m14 0h0m-24 1h0m10 1h0m9 0h0m-20 1h0m17 0h0m-22 2h0m1 0h0m7 0h0m7 1h0m8 0h0m2 0h0m-23 1h0m3 0h0m20 0h0m-12 1h0m9 0h0m-23 2h0m8 0h0m20 0h0m1 1h0m-4 1h0m13 0h0m-18 1h0m3 0h0m-21 1h0m30 0h0m-37 1h0m16 0h0m4 0h0m17 0h0m-39 1h0m13 0h0m13 0h0m-20 1h0m14 0h0m-15 1h0m3 0h0m-14 1h0m7 0h0m6 0h0m35 0h0m-30 1h0m15 0h0m-21 1h0m2 0h0m27 0h0m-2 1h0m-32 1h0m16 0h0m31 0h0m-50 1h0m15 0h0m5 0h0m18 0h0m8 0h0m6 0h0m-59 1h0m40 0h0m14 0h0m-37 1h0m22 0h0m3 0h0m15 0h0m-15 1h0m5 0h0m-19 1h0m7 0h0m-4 1h0m12 0h0m19 0h0m-50 1h0m5 0h0m26 0h0m-7 1h0m-37 1h0m46 0h0m-13 2h0m-39 1h0m13 0h0m-7 1h0m5 0h0m13 1h0m-21 1h0m15 0h0m24 0h0m3 1h0m9 0h0m-38 1h0m6 0h0m15 0h0m-42 1h0m19 0h0m-3 1h0m-1 1h0m36 0h0m-45 1h0m40 0h0m-39 1h0m-4 1h0m14 0h0m28 0h0m4 0h0m-44 1h0m-1 1h0m-8 1h0m13 0h0m-17 2h0m67 0h0m-27 3h0m5 0h0m4 1h0m8 0h0m-37 1h0m38 0h0m-44 1h0m45 0h0m-45 1h0m24 0h0m24 0h0m-46 1h0m32 0h0m5 1h0m-40 1h0m18 0h0m14 1h0m-37 1h0m19 0h0m22 0h0m-38 2h0m5 1h0m4 0h0m4 0h0m-29 1h0m20 0h0m12 0h0m-3 1h0m23 0h0m-40 1h0m14 0h0m16 0h0m-24 1h0m8 0h0m22 0h0m-28 2h0m-3 2h0m4 0h0"/><path stroke="rgb(0,0,220)" stroke-width="1.8" d="M1087 1063h0m2 0h0m1 2h0m-1 4h0m-1 3h0m-1 3h0m-7 3h0m1 4h0m1 0h0m2 0h0m1 2h0m3 13h0m1 0h0m2 3h0m-9 1h0m11 1h0m-14 3h0m1 5h0m0 2h0m-2 4h0m-1 1h0m-1 1h0m10 0h0m-6 1h0m2 0h0m-1 1h0m-2 2h0m2 2h0m-3 2h0m7 1h0m-11 20h0m4 6h0m-5 1h0m11 3h0m-14 2h0m2 0h0m2 1h0m6 3h0m-1 5h0m-2 11h0m-7 5h0m6 1h0m11 1h0m-2 2h0m-7 1h0m-5 2h0m1 0h0m-7 5h0m1 4h0m8 1h0m0 4h0m12 0h0m-2 1h0m-12 1h0m1 0h0m-4 2h0m3 1h0m2 1h0m3 5h0m-3 5h0m1 0h0m-7 2h0m12 4h0m-23 2h0m19 1h0m-11 1h0m16 1h0m-7 4h0m1 0h0m-14 2h0m-2 3h0m0 1h0m15 2h0m-13 1h0m1 1h0m17 1h0m-6 1h0m-9 1h0m-5 1h0m16 0h0m-17 4h0m9 2h0m-8 1h0m7 2h0m-10 2h0m-1 2h0m-3 1h0m15 0h0m-5 3h0m1 0h0m12 0h0m-14 2h0m12 0h0m-16 1h0m15 0h0m-21 1h0m20 0h0m-12 1h0m5 3h0m-14 1h0m1 0h0m1 0h0m6 0h0m13 0h0m-19 1h0m-3 1h0m19 0h0m1 0h0m-15 1h0m1 0h0m-3 1h0m10 0h0m14 0h0m-24 5h0m7 10h0m-12 2h0m18 1h0m-6 3h0m10 0h0m3 1h0m-26 1h0m12 0h0m-17 1h0m5 0h0m9 1h0m-17 1h0m11 0h0m21 1h0m-29 2h0m12 0h0m6 1h0m13 0h0m-28 2h0m4 0h0m-4 1h0m5 1h0m1 2h0m-14 3h0m29 1h0m-25 1h0m-3 1h0m6 1h0m5 0h0m13 0h0m-17 1h0m-3 1h0m19 1h0m-22 1h0m13 1h0m-5 1h0m18 0h0m-41 1h0m32 1h0m-7 1h0m10 0h0m-32 1h0m2 0h0m2 0h0m4 0h0m1 0h0m-6 1h0m16 1h0m19 0h0m-39 1h0m5 0h0m22 0h0m-4 1h0m5 0h0m-9 1h0m-9 1h0m5 0h0m-13 1h0m14 0h0m18 0h0m8 1h0m-29 1h0m10 2h0m-16 2h0m13 0h0m-16 4h0m-11 1h0m5 0h0m41 0h0m-53 2h0m21 0h0m28 0h0m4 0h0m7 1h0m-46 1h0m-2 1h0m32 0h0m-28 2h0m32 0h0m-8 1h0m7 0h0m3 0h0m3 0h0m-63 1h0m61 2h0m-51 1h0m16 0h0m-20 2h0m50 0h0m-48 1h0m44 0h0m2 0h0m-50 1h0m7 0h0m10 0h0m-14 2h0m-8 1h0m14 0h0m20 1h0m-6 3h0m18 0h0m-41 1h0m1 1h0m21 1h0m-17 1h0m22 0h0m-1 2h0m-19 1h0m1 0h0m6 1h0m8 0h0m-16 1h0"/><path stroke="rgb(0,140,255)" stroke-width="1.8" d="M1088 1064h0m-2 8h0m1 2h0m1 0h0m-6 4h0m0 1h0m7 3h0m-5 2h0m6 11h0m-1 1h0m4 0h0m-15 13h0m14 2h0m-14 8h0m5 9h0m5 0h0m1 0h0m3 0h0m-5 1h0m-8 3h0m12 0h0m-9 12h0m1 1h0m-7 3h0m-1 1h0m1 6h0m3 0h0m-8 1h0m6 0h0m6 5h0m-4 5h0m3 13h0m2 0h0m-1 5h0m-10 2h0m-2 6h0m6 17h0m0 2h0m-17 4h0m3 3h0m2 2h0m7 0h0m-6 1h0m17 2h0m-8 3h0m3 0h0m4 2h0m-8 6h0m-10 1h0m15 5h0m0 3h0m-14 8h0m8 3h0m-13 1h0m1 0h0m-2 2h0m6 3h0m-1 2h0m3 0h0m-2 1h0m-1 5h0m-2 1h0m1 1h0m6 2h0m-14 1h0m4 0h0m3 0h0m0 4h0m-10 1h0m10 0h0m2 0h0m8 1h0m-16 1h0m4 0h0m8 1h0m5 0h0m-7 1h0m-12 2h0m9 0h0m-1 2h0m5 2h0m-4 2h0m2 1h0m-9 4h0m2 2h0m-2 2h0m11 1h0m0 2h0m5 7h0m-8 1h0m12 0h0m-26 1h0m4 0h0m9 0h0m-12 4h0m3 0h0m-14 1h0m21 1h0m-3 2h0m1 2h0m6 3h0m-19 1h0m-5 1h0m25 0h0m2 0h0m-16 1h0m10 0h0m-12 1h0m12 0h0m1 0h0m-9 1h0m7 1h0m-29 2h0m11 0h0m-17 1h0m1 1h0m8 0h0m5 0h0m9 0h0m26 0h0m-42 1h0m31 0h0m13 0h0m-47 2h0m4 0h0m-9 1h0m3 0h0m27 0h0m-20 1h0m30 0h0m-32 2h0m18 1h0m4 0h0m-17 1h0m12 0h0m-2 1h0m8 0h0m4 1h0m-36 1h0m9 0h0m27 1h0m-41 2h0m25 0h0m18 0h0m-13 1h0m10 0h0m-20 1h0m12 0h0m10 2h0m4 0h0m-21 1h0m-26 1h0m5 0h0m8 0h0m-18 1h0m2 0h0m28 0h0m-31 2h0m-2 1h0m49 0h0m-32 1h0m9 0h0m-13 1h0m27 0h0m11 0h0m-50 1h0m9 0h0m8 0h0m20 0h0m3 0h0m-34 1h0m42 0h0m-51 1h0m37 0h0m5 0h0m-19 1h0m-29 1h0m14 0h0m46 0h0m-11 1h0m4 0h0m-9 3h0m-3 1h0m8 0h0m-42 1h0m6 0h0m6 0h0m22 0h0m6 0h0m-40 2h0m6 0h0m12 1h0m12 1h0m-5 1h0m8 0h0m-23 5h0m5 1h0m2 0h0"/><path stroke="rgb(0,215,230)" stroke-width="1.8" d="M1085 1065h0m3 4h0m2 0h0m-1 2h0m-2 2h0m3 0h0m1 0h0m-8 6h0m1 1h0m1 0h0m1 0h0m-1 18h0m5 3h0m-12 3h0m0 6h0m0 2h0m0 5h0m2 7h0m10 7h0m-6 9h0m-10 15h0m0 2h0m6 0h0m-2 2h0m6 0h0m-4 21h0m-1 1h0m2 1h0m5 3h0m-3 20h0m-8 4h0m2 17h0m7 17h0m-1 1h0m2 1h0m-5 2h0m-6 7h0m2 0h0m-14 6h0m2 4h0m3 2h0m6 4h0m-11 2h0m2 2h0m-1 5h0m10 3h0m-20 3h0m11 1h0m-7 9h0m0 1h0m-3 2h0m12 0h0m-14 2h0m3 0h0m13 2h0m-17 2h0m-10 1h0m0 2h0m13 0h0m11 1h0m-20 1h0m6 0h0m25 0h0m-24 2h0m3 3h0m-13 2h0m20 0h0m-3 1h0m-1 1h0m-4 3h0m1 1h0m8 0h0m-10 2h0m-6 2h0m-2 1h0m1 1h0m8 0h0m-11 1h0m7 0h0m-17 2h0m15 2h0m10 0h0m-11 1h0m3 0h0m-12 1h0m-5 1h0m28 0h0m-13 1h0m13 1h0m-35 1h0m4 0h0m8 0h0m1 0h0m14 0h0m8 0h0m-20 1h0m-10 1h0m30 0h0m-20 1h0m17 0h0m-28 2h0m2 0h0m1 0h0m1 0h0m2 0h0m15 0h0m-1 1h0m4 0h0m-13 1h0m3 0h0m14 0h0m-27 1h0m8 0h0m-14 1h0m26 1h0m12 0h0m-34 1h0m-8 1h0m39 0h0m-30 1h0m-4 1h0m17 0h0m5 0h0m5 0h0m-29 1h0m2 0h0m15 0h0m10 0h0m-14 1h0m-9 1h0m-15 1h0m15 1h0m6 0h0m25 0h0m-22 1h0m9 0h0m10 0h0m5 0h0m-38 1h0m3 0h0m26 0h0m1 0h0m-44 1h0m8 0h0m5 0h0m27 0h0m8 0h0m1 0h0m5 0h0m-38 1h0m20 0h0m-37 1h0m7 1h0m17 0h0m-18 1h0m32 0h0m15 0h0m-29 1h0m29 0h0m-57 1h0m21 0h0m4 0h0m9 0h0m1 0h0m-22 1h0m11 0h0m-19 1h0m11 1h0m2 0h0m-7 1h0m-10 1h0m2 0h0m18 0h0m3 0h0m3 0h0m10 0h0m-35 1h0m4 0h0m25 0h0m2 0h0m9 0h0m-38 1h0m29 0h0m6 0h0m-34 1h0m14 0h0m-14 1h0m5 0h0m27 1h0m-32 1h0m23 0h0m-21 1h0m9 0h0m4 0h0m-13 1h0m17 0h0m2 0h0m-8 1h0"/><path stroke="rgb(0,235,120)" stroke-width="1.8" d="M1086 1067h0m1 2h0m-3 16h0m8 18h0m-12 26h0m1 27h0m1 3h0m-6 3h0m5 0h0m-5 3h0m-4 25h0m-5 74h0m-12 13h0m11 0h0m8 4h0m-18 1h0m4 4h0m2 2h0m-9 12h0m15 1h0m-26 4h0m8 2h0m14 1h0m-15 2h0m12 9h0m-18 8h0m20 0h0m-32 4h0m18 0h0m10 0h0m0 2h0m-2 1h0m-33 1h0m5 0h0m10 0h0m10 0h0m-13 1h0m-7 2h0m28 0h0m-30 1h0m6 0h0m24 0h0m-17 1h0m2 0h0m3 0h0m9 0h0m8 0h0m-30 1h0m5 0h0m9 0h0m-14 1h0m16 0h0m0 1h0m-15 2h0m4 0h0m3 0h0m6 0h0m1 0h0m6 0h0m5 0h0m-4 1h0m-17 1h0m-10 1h0m16 0h0m8 0h0m1 0h0m7 0h0m2 0h0m-33 1h0m1 0h0m3 0h0m6 0h0m7 1h0m-19 1h0m7 0h0m15 0h0m7 0h0m7 0h0m-42 1h0m23 0h0m8 0h0m-5 1h0m-16 1h0m5 0h0m7 0h0m12 0h0m-16 1h0m15 0h0m-20 2h0m25 0h0m-44 1h0m4 0h0m9 0h0m3 0h0m2 0h0m24 0h0m-43 2h0m33 0h0m3 0h0m-22 1h0m6 0h0m5 0h0m24 0h0m-35 1h0m8 0h0m15 0h0m-39 1h0m4 0h0m5 0h0m13 0h0m10 0h0m1 0h0m2 0h0m3 0h0m8 0h0m-45 1h0m13 0h0m2 1h0m10 0h0m4 0h0m-17 1h0m17 0h0m10 0h0m-41 1h0m16 0h0m22 0h0m1 0h0m1 0h0m-21 1h0m14 0h0m3 0h0m1 0h0m-41 1h0m34 0h0m-27 1h0m6 0h0m5 0h0m11 0h0m8 0h0m-32 1h0m14 0h0m1 0h0m9 0h0m3 0h0m8 0h0m-16 1h0m-16 1h0m10 0h0m5 0h0m5 0h0m7 0h0m4 0h0m4 0h0m-28 1h0m20 0h0m-20 1h0m9 0h0m17 0h0m-37 1h0m18 0h0m-19 1h0m4 0h0m1 0h0m3 0h0m5 0h0m4 1h0m2 0h0m-7 2h0m-4 3h0"/><path stroke="rgb(30,240,30)" stroke-width="1.8" d="M1085 1083h0m-3 73h0m-2 3h0m0 87h0m-13 58h0m-22 24h0m17 4h0m-22 5h0m20 2h0m-5 2h0m-11 1h0m-10 3h0m9 0h0m2 0h0m-6 1h0m9 0h0m7 0h0m-4 1h0m7 0h0m-17 1h0m3 0h0m3 1h0m-20 1h0m1 0h0m6 0h0m28 0h0m-21 1h0m8 0h0m4 0h0m-24 1h0m3 0h0m14 0h0m2 0h0m5 0h0m-26 1h0m9 0h0m2 0h0m-10 1h0m1 0h0m5 0h0m14 0h0m-15 1h0m17 0h0m-17 1h0m12 0h0m2 0h0m4 0h0m-26 1h0m20 0h0m3 0h0m-26 1h0m2 0h0m13 0h0m5 0h0m-22 1h0m6 0h0m15 0h0m3 0h0m1 0h0m10 0h0m2 0h0m-45 1h0m17 0h0m12 0h0m20 0h0m-42 1h0m2 0h0m9 0h0m5 0h0m4 0h0m-26 1h0m29 0h0m-21 1h0m13 0h0m4 0h0m18 0h0m-42 1h0m15 0h0m-19 1h0m14 0h0m1 0h0m1 0h0m6 0h0m-6 1h0m11 0h0m11 0h0m-35 1h0m5 0h0m10 0h0m6 0h0m-25 1h0m21 0h0m2 0h0m2 0h0m6 0h0m2 0h0m8 0h0m-28 1h0m15 0h0m5 0h0m-35 1h0m14 0h0m4 0h0m7 0h0m-16 1h0m2 0h0m2 0h0m13 0h0m9 0h0m-19 1h0m4 0h0m-8 1h0m17 0h0m3 0h0m-8 1h0m-2 1h0m13 0h0m-31 1h0m11 0h0m10 0h0m-22 1h0m20 0h0m-19 1h0m4 0h0m5 0h0m9 0h0m2 0h0"/><path stroke="rgb(180,245,0)" stroke-width="1.8" d="M1053 1338h0m2 5h0m-20 3h0m8 1h0m2 1h0m1 1h0m-9 1h0m7 1h0m6 0h0m-15 2h0m7 0h0m-4 1h0m3 1h0m5 0h0m1 0h0m-17 1h0m4 0h0m-2 1h0m2 0h0m2 0h0m11 0h0m-12 1h0m1 0h0m3 0h0m3 1h0m5 0h0m-17 1h0m8 0h0m1 0h0m-6 2h0m3 0h0m16 0h0m-34 1h0m1 0h0m9 0h0m7 1h0m-18 1h0m1 0h0m16 0h0m2 0h0m11 0h0m-32 1h0m20 0h0m9 0h0m1 0h0m2 0h0m-24 1h0m12 0h0m2 0h0m-17 1h0m13 0h0m8 0h0m-29 1h0m3 0h0m8 0h0m11 0h0m-8 1h0m8 0h0m-18 2h0m7 1h0m2 0h0m-7 1h0m-4 1h0"/><path stroke="rgb(255,200,0)" stroke-width="1.8" d="M1043 1351h0m-7 1h0m-4 1h0m7 0h0m6 0h0m5 0h0m-17 1h0m10 1h0m1 0h0m-16 2h0m3 0h0m11 0h0m-11 1h0m20 1h0m-16 1h0m8 0h0m-11 1h0m11 0h0m-26 1h0m14 0h0m7 2h0m5 0h0m-23 1h0m8 1h0m8 0h0m-14 1h0m10 0h0m-16 1h0m3 1h0m21 1h0m2 0h0m-25 1h0m-6 1h0m24 0h0m-12 2h0m-5 3h0"/><path stroke="rgb(255,70,0)" stroke-width="1.8" d="M1028 1352h0m11 0h0m-9 1h0m9 2h0m1 0h0m2 0h0m-10 1h0m4 0h0m1 0h0m2 0h0m-1 1h0m3 0h0m-3 2h0m-6 4h0m-11 1h0m2 0h0m10 0h0m1 0h0m-12 1h0m-5 1h0m16 0h0m1 0h0m-14 1h0m-2 1h0m3 0h0m-3 1h0m-1 1h0m5 2h0"/></g><text transform="translate(0.8 23) scale(1 1.06)" font-size="31" font-weight="bold">A</text><text transform="translate(1319.3 23) scale(1 1.08)" font-size="30" font-weight="bold">B</text><text transform="translate(0.7 543) scale(1 1.12)" font-size="30" font-weight="bold">C</text><text transform="translate(1319.1 542.6) scale(1 1.1)" font-size="30" font-weight="bold">D</text><text transform="translate(-0.6 1062) scale(1 1.08)" font-size="30" font-weight="bold">E</text><text transform="translate(1322.9 1061.8) scale(1 1.08)" font-size="30" font-weight="bold">F</text><text x="233.7" y="25.9" font-size="31.4" font-weight="bold" text-anchor="middle">Sham</text><text x="651.7" y="25.9" font-size="31.4" font-weight="bold" text-anchor="middle">AP</text><text x="1068.6" y="25.9" font-size="31.4" font-weight="bold" text-anchor="middle">SB-500</text><line x1="14.9" y1="74.5" x2="14.9" y2="287.4" stroke="#000" stroke-width="3.0" stroke-linecap="butt"/><polygon points="14.9,51.5 25.9,79 14.9,73 3.9,79" fill="#000"/><line x1="14.9" y1="586.5" x2="14.9" y2="799" stroke="#000" stroke-width="3.0" stroke-linecap="butt"/><polygon points="14.9,564.2 25.9,591 14.9,585 3.9,591" fill="#000"/><line x1="17.3" y1="1098" x2="17.3" y2="1310.5" stroke="#000" stroke-width="3.0" stroke-linecap="butt"/><polygon points="17.3,1075 28.3,1102.5 17.3,1096.5 6.3,1102.5" fill="#000"/><line x1="146.7" y1="441" x2="1202.8" y2="441" stroke="#000" stroke-width="3.0" stroke-linecap="butt"/><polygon points="1225.3,441 1198.8,430 1203.8,441 1198.8,452" fill="#000"/><line x1="147" y1="952.6" x2="1202.8" y2="952.6" stroke="#000" stroke-width="3.0" stroke-linecap="butt"/><polygon points="1225.3,952.6 1198.8,941.6 1203.8,952.6 1198.8,963.6" fill="#000"/><line x1="149.2" y1="1463.4" x2="1204.8" y2="1463.4" stroke="#000" stroke-width="3.0" stroke-linecap="butt"/><polygon points="1227.6,1463.4 1200.8,1452.4 1205.8,1463.4 1200.8,1474.4" fill="#000"/><text x="26.8" y="403" font-size="30" font-weight="bold" textLength="97.8" lengthAdjust="spacingAndGlyphs" transform="rotate(-90 26.8 403)">CD11b</text><text x="27" y="906" font-size="30" font-weight="bold" textLength="88" lengthAdjust="spacingAndGlyphs" transform="rotate(-90 27 906)">F4/80</text><text transform="translate(29.6 1416.6) rotate(-90) scale(1 1.18)" font-size="30" font-weight="bold" textLength="63.8" lengthAdjust="spacingAndGlyphs">SSC</text><text transform="translate(55 454) scale(1 1.11)" font-size="30" font-weight="bold" textLength="78.2" lengthAdjust="spacingAndGlyphs">LY6G</text><text x="37" y="965.7" font-size="30" font-weight="bold" textLength="96" lengthAdjust="spacingAndGlyphs">CD11b</text><text x="40" y="1475.8" font-size="30" font-weight="bold" textLength="94.8" lengthAdjust="spacingAndGlyphs">CD206</text><line x1="87" y1="364.9" x2="87" y2="373.4" stroke="#222" stroke-width="2.6" stroke-linecap="butt"/><line x1="100.4" y1="364.9" x2="100.4" y2="369.4" stroke="#222" stroke-width="1.6" stroke-linecap="butt"/><line x1="108.3" y1="364.9" x2="108.3" y2="369.4" stroke="#222" stroke-width="1.6" stroke-linecap="butt"/><line x1="113.9" y1="364.9" x2="113.9" y2="369.4" stroke="#222" stroke-width="1.6" stroke-linecap="butt"/><line x1="118.2" y1="364.9" x2="118.2" y2="369.4" stroke="#222" stroke-width="1.6" stroke-linecap="butt"/><line x1="121.7" y1="364.9" x2="121.7" y2="369.4" stroke="#222" stroke-width="1.6" stroke-linecap="butt"/><line x1="124.7" y1="364.9" x2="124.7" y2="369.4" stroke="#222" stroke-width="1.6" stroke-linecap="butt"/><line x1="127.3" y1="364.9" x2="127.3" y2="369.4" stroke="#222" stroke-width="1.6" stroke-linecap="butt"/><line x1="129.6" y1="364.9" x2="129.6" y2="369.4" stroke="#222" stroke-width="1.6" stroke-linecap="butt"/><line x1="131.6" y1="364.9" x2="131.6" y2="373.4" stroke="#222" stroke-width="2.6" stroke-linecap="butt"/><line x1="145" y1="364.9" x2="145" y2="369.4" stroke="#222" stroke-width="1.6" stroke-linecap="butt"/><line x1="152.9" y1="364.9" x2="152.9" y2="369.4" stroke="#222" stroke-width="1.6" stroke-linecap="butt"/><line x1="158.5" y1="364.9" x2="158.5" y2="369.4" stroke="#222" stroke-width="1.6" stroke-linecap="butt"/><line x1="162.8" y1="364.9" x2="162.8" y2="369.4" stroke="#222" stroke-width="1.6" stroke-linecap="butt"/><line x1="166.3" y1="364.9" x2="166.3" y2="369.4" stroke="#222" stroke-width="1.6" stroke-linecap="butt"/><line x1="169.3" y1="364.9" x2="169.3" y2="369.4" stroke="#222" stroke-width="1.6" stroke-linecap="butt"/><line x1="171.9" y1="364.9" x2="171.9" y2="369.4" stroke="#222" stroke-width="1.6" stroke-linecap="butt"/><line x1="174.2" y1="364.9" x2="174.2" y2="369.4" stroke="#222" stroke-width="1.6" stroke-linecap="butt"/><line x1="176.2" y1="364.9" x2="176.2" y2="373.4" stroke="#222" stroke-width="2.6" stroke-linecap="butt"/><line x1="189.6" y1="364.9" x2="189.6" y2="369.4" stroke="#222" stroke-width="1.6" stroke-linecap="butt"/><line x1="197.5" y1="364.9" x2="197.5" y2="369.4" stroke="#222" stroke-width="1.6" stroke-linecap="butt"/><line x1="203.1" y1="364.9" x2="203.1" y2="369.4" stroke="#222" stroke-width="1.6" stroke-linecap="butt"/><line x1="207.4" y1="364.9" x2="207.4" y2="369.4" stroke="#222" stroke-width="1.6" stroke-linecap="butt"/><line x1="210.9" y1="364.9" x2="210.9" y2="369.4" stroke="#222" stroke-width="1.6" stroke-linecap="butt"/><line x1="213.9" y1="364.9" x2="213.9" y2="369.4" stroke="#222" stroke-width="1.6" stroke-linecap="butt"/><line x1="216.5" y1="364.9" x2="216.5" y2="369.4" stroke="#222" stroke-width="1.6" stroke-linecap="butt"/><line x1="218.8" y1="364.9" x2="218.8" y2="369.4" stroke="#222" stroke-width="1.6" stroke-linecap="butt"/><line x1="220.8" y1="364.9" x2="220.8" y2="373.4" stroke="#222" stroke-width="2.6" stroke-linecap="butt"/><line x1="234.2" y1="364.9" x2="234.2" y2="369.4" stroke="#222" stroke-width="1.6" stroke-linecap="butt"/><line x1="242.1" y1="364.9" x2="242.1" y2="369.4" stroke="#222" stroke-width="1.6" stroke-linecap="butt"/><line x1="247.7" y1="364.9" x2="247.7" y2="369.4" stroke="#222" stroke-width="1.6" stroke-linecap="butt"/><line x1="252" y1="364.9" x2="252" y2="369.4" stroke="#222" stroke-width="1.6" stroke-linecap="butt"/><line x1="255.5" y1="364.9" x2="255.5" y2="369.4" stroke="#222" stroke-width="1.6" stroke-linecap="butt"/><line x1="258.5" y1="364.9" x2="258.5" y2="369.4" stroke="#222" stroke-width="1.6" stroke-linecap="butt"/><line x1="261.1" y1="364.9" x2="261.1" y2="369.4" stroke="#222" stroke-width="1.6" stroke-linecap="butt"/><line x1="263.4" y1="364.9" x2="263.4" y2="369.4" stroke="#222" stroke-width="1.6" stroke-linecap="butt"/><line x1="265.4" y1="364.9" x2="265.4" y2="373.4" stroke="#222" stroke-width="2.6" stroke-linecap="butt"/><line x1="278.8" y1="364.9" x2="278.8" y2="369.4" stroke="#222" stroke-width="1.6" stroke-linecap="butt"/><line x1="286.7" y1="364.9" x2="286.7" y2="369.4" stroke="#222" stroke-width="1.6" stroke-linecap="butt"/><line x1="292.3" y1="364.9" x2="292.3" y2="369.4" stroke="#222" stroke-width="1.6" stroke-linecap="butt"/><line x1="296.6" y1="364.9" x2="296.6" y2="369.4" stroke="#222" stroke-width="1.6" stroke-linecap="butt"/><line x1="300.1" y1="364.9" x2="300.1" y2="369.4" stroke="#222" stroke-width="1.6" stroke-linecap="butt"/><line x1="303.1" y1="364.9" x2="303.1" y2="369.4" stroke="#222" stroke-width="1.6" stroke-linecap="butt"/><line x1="305.7" y1="364.9" x2="305.7" y2="369.4" stroke="#222" stroke-width="1.6" stroke-linecap="butt"/><line x1="308" y1="364.9" x2="308" y2="369.4" stroke="#222" stroke-width="1.6" stroke-linecap="butt"/><line x1="310" y1="364.9" x2="310" y2="373.4" stroke="#222" stroke-width="2.6" stroke-linecap="butt"/><line x1="323.4" y1="364.9" x2="323.4" y2="369.4" stroke="#222" stroke-width="1.6" stroke-linecap="butt"/><line x1="331.3" y1="364.9" x2="331.3" y2="369.4" stroke="#222" stroke-width="1.6" stroke-linecap="butt"/><line x1="336.9" y1="364.9" x2="336.9" y2="369.4" stroke="#222" stroke-width="1.6" stroke-linecap="butt"/><line x1="341.2" y1="364.9" x2="341.2" y2="369.4" stroke="#222" stroke-width="1.6" stroke-linecap="butt"/><line x1="344.7" y1="364.9" x2="344.7" y2="369.4" stroke="#222" stroke-width="1.6" stroke-linecap="butt"/><line x1="347.7" y1="364.9" x2="347.7" y2="369.4" stroke="#222" stroke-width="1.6" stroke-linecap="butt"/><line x1="350.3" y1="364.9" x2="350.3" y2="369.4" stroke="#222" stroke-width="1.6" stroke-linecap="butt"/><line x1="352.6" y1="364.9" x2="352.6" y2="369.4" stroke="#222" stroke-width="1.6" stroke-linecap="butt"/><line x1="354.6" y1="364.9" x2="354.6" y2="373.4" stroke="#222" stroke-width="2.6" stroke-linecap="butt"/><line x1="368" y1="364.9" x2="368" y2="369.4" stroke="#222" stroke-width="1.6" stroke-linecap="butt"/><line x1="375.9" y1="364.9" x2="375.9" y2="369.4" stroke="#222" stroke-width="1.6" stroke-linecap="butt"/><line x1="381.5" y1="364.9" x2="381.5" y2="369.4" stroke="#222" stroke-width="1.6" stroke-linecap="butt"/><line x1="385.8" y1="364.9" x2="385.8" y2="369.4" stroke="#222" stroke-width="1.6" stroke-linecap="butt"/><line x1="389.3" y1="364.9" x2="389.3" y2="369.4" stroke="#222" stroke-width="1.6" stroke-linecap="butt"/><line x1="392.3" y1="364.9" x2="392.3" y2="369.4" stroke="#222" stroke-width="1.6" stroke-linecap="butt"/><line x1="394.9" y1="364.9" x2="394.9" y2="369.4" stroke="#222" stroke-width="1.6" stroke-linecap="butt"/><line x1="397.2" y1="364.9" x2="397.2" y2="369.4" stroke="#222" stroke-width="1.6" stroke-linecap="butt"/><text x="93" y="401.9" font-size="12.5" fill="#2e2e2e" stroke="#2e2e2e" stroke-width="0.45">10</text><text x="106.6" y="391.4" font-size="12" fill="#2e2e2e" stroke="#2e2e2e" stroke-width="0.45">0</text><text x="171.6" y="401.9" font-size="12.5" fill="#2e2e2e" stroke="#2e2e2e" stroke-width="0.45">10</text><text x="185.2" y="391.4" font-size="12" fill="#2e2e2e" stroke="#2e2e2e" stroke-width="0.45">2</text><text x="260.8" y="401.9" font-size="12.5" fill="#2e2e2e" stroke="#2e2e2e" stroke-width="0.45">10</text><text x="274.4" y="391.4" font-size="12" fill="#2e2e2e" stroke="#2e2e2e" stroke-width="0.45">4</text><text x="350" y="401.9" font-size="12.5" fill="#2e2e2e" stroke="#2e2e2e" stroke-width="0.45">10</text><text x="363.6" y="391.4" font-size="12" fill="#2e2e2e" stroke="#2e2e2e" stroke-width="0.45">6</text><line x1="77.6" y1="365" x2="86.6" y2="365" stroke="#222" stroke-width="2.6" stroke-linecap="butt"/><line x1="82.1" y1="351.5" x2="86.6" y2="351.5" stroke="#222" stroke-width="1.6" stroke-linecap="butt"/><line x1="82.1" y1="343.5" x2="86.6" y2="343.5" stroke="#222" stroke-width="1.6" stroke-linecap="butt"/><line x1="82.1" y1="337.9" x2="86.6" y2="337.9" stroke="#222" stroke-width="1.6" stroke-linecap="butt"/><line x1="82.1" y1="333.5" x2="86.6" y2="333.5" stroke="#222" stroke-width="1.6" stroke-linecap="butt"/><line x1="82.1" y1="330" x2="86.6" y2="330" stroke="#222" stroke-width="1.6" stroke-linecap="butt"/><line x1="82.1" y1="327" x2="86.6" y2="327" stroke="#222" stroke-width="1.6" stroke-linecap="butt"/><line x1="82.1" y1="324.4" x2="86.6" y2="324.4" stroke="#222" stroke-width="1.6" stroke-linecap="butt"/><line x1="82.1" y1="322.1" x2="86.6" y2="322.1" stroke="#222" stroke-width="1.6" stroke-linecap="butt"/><line x1="77.6" y1="320" x2="86.6" y2="320" stroke="#222" stroke-width="2.6" stroke-linecap="butt"/><line x1="82.1" y1="306.5" x2="86.6" y2="306.5" stroke="#222" stroke-width="1.6" stroke-linecap="butt"/><line x1="82.1" y1="298.5" x2="86.6" y2="298.5" stroke="#222" stroke-width="1.6" stroke-linecap="butt"/><line x1="82.1" y1="292.9" x2="86.6" y2="292.9" stroke="#222" stroke-width="1.6" stroke-linecap="butt"/><line x1="82.1" y1="288.5" x2="86.6" y2="288.5" stroke="#222" stroke-width="1.6" stroke-linecap="butt"/><line x1="82.1" y1="285" x2="86.6" y2="285" stroke="#222" stroke-width="1.6" stroke-linecap="butt"/><line x1="82.1" y1="282" x2="86.6" y2="282" stroke="#222" stroke-width="1.6" stroke-linecap="butt"/><line x1="82.1" y1="279.4" x2="86.6" y2="279.4" stroke="#222" stroke-width="1.6" stroke-linecap="butt"/><line x1="82.1" y1="277.1" x2="86.6" y2="277.1" stroke="#222" stroke-width="1.6" stroke-linecap="butt"/><line x1="77.6" y1="275" x2="86.6" y2="275" stroke="#222" stroke-width="2.6" stroke-linecap="butt"/><line x1="82.1" y1="261.5" x2="86.6" y2="261.5" stroke="#222" stroke-width="1.6" stroke-linecap="butt"/><line x1="82.1" y1="253.5" x2="86.6" y2="253.5" stroke="#222" stroke-width="1.6" stroke-linecap="butt"/><line x1="82.1" y1="247.9" x2="86.6" y2="247.9" stroke="#222" stroke-width="1.6" stroke-linecap="butt"/><line x1="82.1" y1="243.5" x2="86.6" y2="243.5" stroke="#222" stroke-width="1.6" stroke-linecap="butt"/><line x1="82.1" y1="240" x2="86.6" y2="240" stroke="#222" stroke-width="1.6" stroke-linecap="butt"/><line x1="82.1" y1="237" x2="86.6" y2="237" stroke="#222" stroke-width="1.6" stroke-linecap="butt"/><line x1="82.1" y1="234.4" x2="86.6" y2="234.4" stroke="#222" stroke-width="1.6" stroke-linecap="butt"/><line x1="82.1" y1="232.1" x2="86.6" y2="232.1" stroke="#222" stroke-width="1.6" stroke-linecap="butt"/><line x1="77.6" y1="230" x2="86.6" y2="230" stroke="#222" stroke-width="2.6" stroke-linecap="butt"/><line x1="82.1" y1="216.5" x2="86.6" y2="216.5" stroke="#222" stroke-width="1.6" stroke-linecap="butt"/><line x1="82.1" y1="208.5" x2="86.6" y2="208.5" stroke="#222" stroke-width="1.6" stroke-linecap="butt"/><line x1="82.1" y1="202.9" x2="86.6" y2="202.9" stroke="#222" stroke-width="1.6" stroke-linecap="butt"/><line x1="82.1" y1="198.5" x2="86.6" y2="198.5" stroke="#222" stroke-width="1.6" stroke-linecap="butt"/><line x1="82.1" y1="195" x2="86.6" y2="195" stroke="#222" stroke-width="1.6" stroke-linecap="butt"/><line x1="82.1" y1="192" x2="86.6" y2="192" stroke="#222" stroke-width="1.6" stroke-linecap="butt"/><line x1="82.1" y1="189.4" x2="86.6" y2="189.4" stroke="#222" stroke-width="1.6" stroke-linecap="butt"/><line x1="82.1" y1="187.1" x2="86.6" y2="187.1" stroke="#222" stroke-width="1.6" stroke-linecap="butt"/><line x1="77.6" y1="185" x2="86.6" y2="185" stroke="#222" stroke-width="2.6" stroke-linecap="butt"/><line x1="82.1" y1="171.5" x2="86.6" y2="171.5" stroke="#222" stroke-width="1.6" stroke-linecap="butt"/><line x1="82.1" y1="163.5" x2="86.6" y2="163.5" stroke="#222" stroke-width="1.6" stroke-linecap="butt"/><line x1="82.1" y1="157.9" x2="86.6" y2="157.9" stroke="#222" stroke-width="1.6" stroke-linecap="butt"/><line x1="82.1" y1="153.5" x2="86.6" y2="153.5" stroke="#222" stroke-width="1.6" stroke-linecap="butt"/><line x1="82.1" y1="150" x2="86.6" y2="150" stroke="#222" stroke-width="1.6" stroke-linecap="butt"/><line x1="82.1" y1="147" x2="86.6" y2="147" stroke="#222" stroke-width="1.6" stroke-linecap="butt"/><line x1="82.1" y1="144.4" x2="86.6" y2="144.4" stroke="#222" stroke-width="1.6" stroke-linecap="butt"/><line x1="82.1" y1="142.1" x2="86.6" y2="142.1" stroke="#222" stroke-width="1.6" stroke-linecap="butt"/><line x1="77.6" y1="140" x2="86.6" y2="140" stroke="#222" stroke-width="2.6" stroke-linecap="butt"/><line x1="82.1" y1="126.5" x2="86.6" y2="126.5" stroke="#222" stroke-width="1.6" stroke-linecap="butt"/><line x1="82.1" y1="118.5" x2="86.6" y2="118.5" stroke="#222" stroke-width="1.6" stroke-linecap="butt"/><line x1="82.1" y1="112.9" x2="86.6" y2="112.9" stroke="#222" stroke-width="1.6" stroke-linecap="butt"/><line x1="82.1" y1="108.5" x2="86.6" y2="108.5" stroke="#222" stroke-width="1.6" stroke-linecap="butt"/><line x1="82.1" y1="105" x2="86.6" y2="105" stroke="#222" stroke-width="1.6" stroke-linecap="butt"/><line x1="82.1" y1="102" x2="86.6" y2="102" stroke="#222" stroke-width="1.6" stroke-linecap="butt"/><line x1="82.1" y1="99.4" x2="86.6" y2="99.4" stroke="#222" stroke-width="1.6" stroke-linecap="butt"/><line x1="82.1" y1="97.1" x2="86.6" y2="97.1" stroke="#222" stroke-width="1.6" stroke-linecap="butt"/><line x1="77.6" y1="95" x2="86.6" y2="95" stroke="#222" stroke-width="2.6" stroke-linecap="butt"/><line x1="82.1" y1="81.5" x2="86.6" y2="81.5" stroke="#222" stroke-width="1.6" stroke-linecap="butt"/><line x1="82.1" y1="73.5" x2="86.6" y2="73.5" stroke="#222" stroke-width="1.6" stroke-linecap="butt"/><line x1="82.1" y1="67.9" x2="86.6" y2="67.9" stroke="#222" stroke-width="1.6" stroke-linecap="butt"/><line x1="82.1" y1="63.5" x2="86.6" y2="63.5" stroke="#222" stroke-width="1.6" stroke-linecap="butt"/><line x1="82.1" y1="60" x2="86.6" y2="60" stroke="#222" stroke-width="1.6" stroke-linecap="butt"/><line x1="82.1" y1="57" x2="86.6" y2="57" stroke="#222" stroke-width="1.6" stroke-linecap="butt"/><line x1="82.1" y1="54.4" x2="86.6" y2="54.4" stroke="#222" stroke-width="1.6" stroke-linecap="butt"/><text x="64.8" y="373.7" font-size="12.5" text-anchor="end" fill="#2e2e2e" stroke="#2e2e2e" stroke-width="0.45">10</text><text x="65" y="363.7" font-size="12" fill="#2e2e2e" stroke="#2e2e2e" stroke-width="0.45">0</text><text x="64.8" y="328.7" font-size="12.5" text-anchor="end" fill="#2e2e2e" stroke="#2e2e2e" stroke-width="0.45">10</text><text x="65" y="318.7" font-size="12" fill="#2e2e2e" stroke="#2e2e2e" stroke-width="0.45">1</text><text x="64.8" y="283.7" font-size="12.5" text-anchor="end" fill="#2e2e2e" stroke="#2e2e2e" stroke-width="0.45">10</text><text x="65" y="273.7" font-size="12" fill="#2e2e2e" stroke="#2e2e2e" stroke-width="0.45">2</text><text x="64.8" y="238.7" font-size="12.5" text-anchor="end" fill="#2e2e2e" stroke="#2e2e2e" stroke-width="0.45">10</text><text x="65" y="228.7" font-size="12" fill="#2e2e2e" stroke="#2e2e2e" stroke-width="0.45">3</text><text x="64.8" y="193.7" font-size="12.5" text-anchor="end" fill="#2e2e2e" stroke="#2e2e2e" stroke-width="0.45">10</text><text x="65" y="183.7" font-size="12" fill="#2e2e2e" stroke="#2e2e2e" stroke-width="0.45">4</text><text x="64.8" y="148.7" font-size="12.5" text-anchor="end" fill="#2e2e2e" stroke="#2e2e2e" stroke-width="0.45">10</text><text x="65" y="138.7" font-size="12" fill="#2e2e2e" stroke="#2e2e2e" stroke-width="0.45">5</text><text x="64.8" y="103.7" font-size="12.5" text-anchor="end" fill="#2e2e2e" stroke="#2e2e2e" stroke-width="0.45">10</text><text x="65" y="93.7" font-size="12" fill="#2e2e2e" stroke="#2e2e2e" stroke-width="0.45">6</text><rect x="86.6" y="54.3" width="311.6" height="310.6" fill="none" stroke="#6c6c6c" stroke-width="2"/><line x1="86.6" y1="53.3" x2="86.6" y2="365.9" stroke="#262626" stroke-width="2.2" stroke-linecap="butt"/><line x1="85.6" y1="364.9" x2="399.2" y2="364.9" stroke="#262626" stroke-width="2.2" stroke-linecap="butt"/><line x1="497.7" y1="365.9" x2="497.7" y2="374.4" stroke="#222" stroke-width="2.6" stroke-linecap="butt"/><line x1="511.2" y1="365.9" x2="511.2" y2="370.4" stroke="#222" stroke-width="1.6" stroke-linecap="butt"/><line x1="519.1" y1="365.9" x2="519.1" y2="370.4" stroke="#222" stroke-width="1.6" stroke-linecap="butt"/><line x1="524.8" y1="365.9" x2="524.8" y2="370.4" stroke="#222" stroke-width="1.6" stroke-linecap="butt"/><line x1="529.1" y1="365.9" x2="529.1" y2="370.4" stroke="#222" stroke-width="1.6" stroke-linecap="butt"/><line x1="532.7" y1="365.9" x2="532.7" y2="370.4" stroke="#222" stroke-width="1.6" stroke-linecap="butt"/><line x1="535.7" y1="365.9" x2="535.7" y2="370.4" stroke="#222" stroke-width="1.6" stroke-linecap="butt"/><line x1="538.3" y1="365.9" x2="538.3" y2="370.4" stroke="#222" stroke-width="1.6" stroke-linecap="butt"/><line x1="540.6" y1="365.9" x2="540.6" y2="370.4" stroke="#222" stroke-width="1.6" stroke-linecap="butt"/><line x1="542.6" y1="365.9" x2="542.6" y2="374.4" stroke="#222" stroke-width="2.6" stroke-linecap="butt"/><line x1="556.2" y1="365.9" x2="556.2" y2="370.4" stroke="#222" stroke-width="1.6" stroke-linecap="butt"/><line x1="564.1" y1="365.9" x2="564.1" y2="370.4" stroke="#222" stroke-width="1.6" stroke-linecap="butt"/><line x1="569.7" y1="365.9" x2="569.7" y2="370.4" stroke="#222" stroke-width="1.6" stroke-linecap="butt"/><line x1="574.1" y1="365.9" x2="574.1" y2="370.4" stroke="#222" stroke-width="1.6" stroke-linecap="butt"/><line x1="577.6" y1="365.9" x2="577.6" y2="370.4" stroke="#222" stroke-width="1.6" stroke-linecap="butt"/><line x1="580.6" y1="365.9" x2="580.6" y2="370.4" stroke="#222" stroke-width="1.6" stroke-linecap="butt"/><line x1="583.2" y1="365.9" x2="583.2" y2="370.4" stroke="#222" stroke-width="1.6" stroke-linecap="butt"/><line x1="585.5" y1="365.9" x2="585.5" y2="370.4" stroke="#222" stroke-width="1.6" stroke-linecap="butt"/><line x1="587.6" y1="365.9" x2="587.6" y2="374.4" stroke="#222" stroke-width="2.6" stroke-linecap="butt"/><line x1="601.1" y1="365.9" x2="601.1" y2="370.4" stroke="#222" stroke-width="1.6" stroke-linecap="butt"/><line x1="609" y1="365.9" x2="609" y2="370.4" stroke="#222" stroke-width="1.6" stroke-linecap="butt"/><line x1="614.7" y1="365.9" x2="614.7" y2="370.4" stroke="#222" stroke-width="1.6" stroke-linecap="butt"/><line x1="619" y1="365.9" x2="619" y2="370.4" stroke="#222" stroke-width="1.6" stroke-linecap="butt"/><line x1="622.6" y1="365.9" x2="622.6" y2="370.4" stroke="#222" stroke-width="1.6" stroke-linecap="butt"/><line x1="625.6" y1="365.9" x2="625.6" y2="370.4" stroke="#222" stroke-width="1.6" stroke-linecap="butt"/><line x1="628.2" y1="365.9" x2="628.2" y2="370.4" stroke="#222" stroke-width="1.6" stroke-linecap="butt"/><line x1="630.5" y1="365.9" x2="630.5" y2="370.4" stroke="#222" stroke-width="1.6" stroke-linecap="butt"/><line x1="632.5" y1="365.9" x2="632.5" y2="374.4" stroke="#222" stroke-width="2.6" stroke-linecap="butt"/><line x1="646.1" y1="365.9" x2="646.1" y2="370.4" stroke="#222" stroke-width="1.6" stroke-linecap="butt"/><line x1="654" y1="365.9" x2="654" y2="370.4" stroke="#222" stroke-width="1.6" stroke-linecap="butt"/><line x1="659.6" y1="365.9" x2="659.6" y2="370.4" stroke="#222" stroke-width="1.6" stroke-linecap="butt"/><line x1="664" y1="365.9" x2="664" y2="370.4" stroke="#222" stroke-width="1.6" stroke-linecap="butt"/><line x1="667.5" y1="365.9" x2="667.5" y2="370.4" stroke="#222" stroke-width="1.6" stroke-linecap="butt"/><line x1="670.5" y1="365.9" x2="670.5" y2="370.4" stroke="#222" stroke-width="1.6" stroke-linecap="butt"/><line x1="673.1" y1="365.9" x2="673.1" y2="370.4" stroke="#222" stroke-width="1.6" stroke-linecap="butt"/><line x1="675.4" y1="365.9" x2="675.4" y2="370.4" stroke="#222" stroke-width="1.6" stroke-linecap="butt"/><line x1="677.5" y1="365.9" x2="677.5" y2="374.4" stroke="#222" stroke-width="2.6" stroke-linecap="butt"/><line x1="691" y1="365.9" x2="691" y2="370.4" stroke="#222" stroke-width="1.6" stroke-linecap="butt"/><line x1="698.9" y1="365.9" x2="698.9" y2="370.4" stroke="#222" stroke-width="1.6" stroke-linecap="butt"/><line x1="704.6" y1="365.9" x2="704.6" y2="370.4" stroke="#222" stroke-width="1.6" stroke-linecap="butt"/><line x1="708.9" y1="365.9" x2="708.9" y2="370.4" stroke="#222" stroke-width="1.6" stroke-linecap="butt"/><line x1="712.5" y1="365.9" x2="712.5" y2="370.4" stroke="#222" stroke-width="1.6" stroke-linecap="butt"/><line x1="715.5" y1="365.9" x2="715.5" y2="370.4" stroke="#222" stroke-width="1.6" stroke-linecap="butt"/><line x1="718.1" y1="365.9" x2="718.1" y2="370.4" stroke="#222" stroke-width="1.6" stroke-linecap="butt"/><line x1="720.4" y1="365.9" x2="720.4" y2="370.4" stroke="#222" stroke-width="1.6" stroke-linecap="butt"/><line x1="722.5" y1="365.9" x2="722.5" y2="374.4" stroke="#222" stroke-width="2.6" stroke-linecap="butt"/><line x1="736" y1="365.9" x2="736" y2="370.4" stroke="#222" stroke-width="1.6" stroke-linecap="butt"/><line x1="743.9" y1="365.9" x2="743.9" y2="370.4" stroke="#222" stroke-width="1.6" stroke-linecap="butt"/><line x1="749.5" y1="365.9" x2="749.5" y2="370.4" stroke="#222" stroke-width="1.6" stroke-linecap="butt"/><line x1="753.9" y1="365.9" x2="753.9" y2="370.4" stroke="#222" stroke-width="1.6" stroke-linecap="butt"/><line x1="757.4" y1="365.9" x2="757.4" y2="370.4" stroke="#222" stroke-width="1.6" stroke-linecap="butt"/><line x1="760.4" y1="365.9" x2="760.4" y2="370.4" stroke="#222" stroke-width="1.6" stroke-linecap="butt"/><line x1="763" y1="365.9" x2="763" y2="370.4" stroke="#222" stroke-width="1.6" stroke-linecap="butt"/><line x1="765.3" y1="365.9" x2="765.3" y2="370.4" stroke="#222" stroke-width="1.6" stroke-linecap="butt"/><line x1="767.4" y1="365.9" x2="767.4" y2="374.4" stroke="#222" stroke-width="2.6" stroke-linecap="butt"/><line x1="780.9" y1="365.9" x2="780.9" y2="370.4" stroke="#222" stroke-width="1.6" stroke-linecap="butt"/><line x1="788.8" y1="365.9" x2="788.8" y2="370.4" stroke="#222" stroke-width="1.6" stroke-linecap="butt"/><line x1="794.5" y1="365.9" x2="794.5" y2="370.4" stroke="#222" stroke-width="1.6" stroke-linecap="butt"/><line x1="798.8" y1="365.9" x2="798.8" y2="370.4" stroke="#222" stroke-width="1.6" stroke-linecap="butt"/><line x1="802.4" y1="365.9" x2="802.4" y2="370.4" stroke="#222" stroke-width="1.6" stroke-linecap="butt"/><line x1="805.4" y1="365.9" x2="805.4" y2="370.4" stroke="#222" stroke-width="1.6" stroke-linecap="butt"/><line x1="808" y1="365.9" x2="808" y2="370.4" stroke="#222" stroke-width="1.6" stroke-linecap="butt"/><line x1="810.3" y1="365.9" x2="810.3" y2="370.4" stroke="#222" stroke-width="1.6" stroke-linecap="butt"/><text x="503.7" y="402.9" font-size="12.5" fill="#2e2e2e" stroke="#2e2e2e" stroke-width="0.45">10</text><text x="517.3" y="392.4" font-size="12" fill="#2e2e2e" stroke="#2e2e2e" stroke-width="0.45">0</text><text x="583" y="402.9" font-size="12.5" fill="#2e2e2e" stroke="#2e2e2e" stroke-width="0.45">10</text><text x="596.6" y="392.4" font-size="12" fill="#2e2e2e" stroke="#2e2e2e" stroke-width="0.45">2</text><text x="672.9" y="402.9" font-size="12.5" fill="#2e2e2e" stroke="#2e2e2e" stroke-width="0.45">10</text><text x="686.5" y="392.4" font-size="12" fill="#2e2e2e" stroke="#2e2e2e" stroke-width="0.45">4</text><text x="762.8" y="402.9" font-size="12.5" fill="#2e2e2e" stroke="#2e2e2e" stroke-width="0.45">10</text><text x="776.4" y="392.4" font-size="12" fill="#2e2e2e" stroke="#2e2e2e" stroke-width="0.45">6</text><line x1="488.2" y1="365.2" x2="497.2" y2="365.2" stroke="#222" stroke-width="2.6" stroke-linecap="butt"/><line x1="492.7" y1="351.6" x2="497.2" y2="351.6" stroke="#222" stroke-width="1.6" stroke-linecap="butt"/><line x1="492.7" y1="343.6" x2="497.2" y2="343.6" stroke="#222" stroke-width="1.6" stroke-linecap="butt"/><line x1="492.7" y1="337.9" x2="497.2" y2="337.9" stroke="#222" stroke-width="1.6" stroke-linecap="butt"/><line x1="492.7" y1="333.5" x2="497.2" y2="333.5" stroke="#222" stroke-width="1.6" stroke-linecap="butt"/><line x1="492.7" y1="329.9" x2="497.2" y2="329.9" stroke="#222" stroke-width="1.6" stroke-linecap="butt"/><line x1="492.7" y1="326.9" x2="497.2" y2="326.9" stroke="#222" stroke-width="1.6" stroke-linecap="butt"/><line x1="492.7" y1="324.3" x2="497.2" y2="324.3" stroke="#222" stroke-width="1.6" stroke-linecap="butt"/><line x1="492.7" y1="322" x2="497.2" y2="322" stroke="#222" stroke-width="1.6" stroke-linecap="butt"/><line x1="488.2" y1="319.9" x2="497.2" y2="319.9" stroke="#222" stroke-width="2.6" stroke-linecap="butt"/><line x1="492.7" y1="306.3" x2="497.2" y2="306.3" stroke="#222" stroke-width="1.6" stroke-linecap="butt"/><line x1="492.7" y1="298.3" x2="497.2" y2="298.3" stroke="#222" stroke-width="1.6" stroke-linecap="butt"/><line x1="492.7" y1="292.6" x2="497.2" y2="292.6" stroke="#222" stroke-width="1.6" stroke-linecap="butt"/><line x1="492.7" y1="288.2" x2="497.2" y2="288.2" stroke="#222" stroke-width="1.6" stroke-linecap="butt"/><line x1="492.7" y1="284.6" x2="497.2" y2="284.6" stroke="#222" stroke-width="1.6" stroke-linecap="butt"/><line x1="492.7" y1="281.6" x2="497.2" y2="281.6" stroke="#222" stroke-width="1.6" stroke-linecap="butt"/><line x1="492.7" y1="279" x2="497.2" y2="279" stroke="#222" stroke-width="1.6" stroke-linecap="butt"/><line x1="492.7" y1="276.7" x2="497.2" y2="276.7" stroke="#222" stroke-width="1.6" stroke-linecap="butt"/><line x1="488.2" y1="274.6" x2="497.2" y2="274.6" stroke="#222" stroke-width="2.6" stroke-linecap="butt"/><line x1="492.7" y1="261" x2="497.2" y2="261" stroke="#222" stroke-width="1.6" stroke-linecap="butt"/><line x1="492.7" y1="253" x2="497.2" y2="253" stroke="#222" stroke-width="1.6" stroke-linecap="butt"/><line x1="492.7" y1="247.3" x2="497.2" y2="247.3" stroke="#222" stroke-width="1.6" stroke-linecap="butt"/><line x1="492.7" y1="242.9" x2="497.2" y2="242.9" stroke="#222" stroke-width="1.6" stroke-linecap="butt"/><line x1="492.7" y1="239.3" x2="497.2" y2="239.3" stroke="#222" stroke-width="1.6" stroke-linecap="butt"/><line x1="492.7" y1="236.3" x2="497.2" y2="236.3" stroke="#222" stroke-width="1.6" stroke-linecap="butt"/><line x1="492.7" y1="233.7" x2="497.2" y2="233.7" stroke="#222" stroke-width="1.6" stroke-linecap="butt"/><line x1="492.7" y1="231.4" x2="497.2" y2="231.4" stroke="#222" stroke-width="1.6" stroke-linecap="butt"/><line x1="488.2" y1="229.3" x2="497.2" y2="229.3" stroke="#222" stroke-width="2.6" stroke-linecap="butt"/><line x1="492.7" y1="215.7" x2="497.2" y2="215.7" stroke="#222" stroke-width="1.6" stroke-linecap="butt"/><line x1="492.7" y1="207.7" x2="497.2" y2="207.7" stroke="#222" stroke-width="1.6" stroke-linecap="butt"/><line x1="492.7" y1="202" x2="497.2" y2="202" stroke="#222" stroke-width="1.6" stroke-linecap="butt"/><line x1="492.7" y1="197.6" x2="497.2" y2="197.6" stroke="#222" stroke-width="1.6" stroke-linecap="butt"/><line x1="492.7" y1="194" x2="497.2" y2="194" stroke="#222" stroke-width="1.6" stroke-linecap="butt"/><line x1="492.7" y1="191" x2="497.2" y2="191" stroke="#222" stroke-width="1.6" stroke-linecap="butt"/><line x1="492.7" y1="188.4" x2="497.2" y2="188.4" stroke="#222" stroke-width="1.6" stroke-linecap="butt"/><line x1="492.7" y1="186.1" x2="497.2" y2="186.1" stroke="#222" stroke-width="1.6" stroke-linecap="butt"/><line x1="488.2" y1="184" x2="497.2" y2="184" stroke="#222" stroke-width="2.6" stroke-linecap="butt"/><line x1="492.7" y1="170.4" x2="497.2" y2="170.4" stroke="#222" stroke-width="1.6" stroke-linecap="butt"/><line x1="492.7" y1="162.4" x2="497.2" y2="162.4" stroke="#222" stroke-width="1.6" stroke-linecap="butt"/><line x1="492.7" y1="156.7" x2="497.2" y2="156.7" stroke="#222" stroke-width="1.6" stroke-linecap="butt"/><line x1="492.7" y1="152.3" x2="497.2" y2="152.3" stroke="#222" stroke-width="1.6" stroke-linecap="butt"/><line x1="492.7" y1="148.7" x2="497.2" y2="148.7" stroke="#222" stroke-width="1.6" stroke-linecap="butt"/><line x1="492.7" y1="145.7" x2="497.2" y2="145.7" stroke="#222" stroke-width="1.6" stroke-linecap="butt"/><line x1="492.7" y1="143.1" x2="497.2" y2="143.1" stroke="#222" stroke-width="1.6" stroke-linecap="butt"/><line x1="492.7" y1="140.8" x2="497.2" y2="140.8" stroke="#222" stroke-width="1.6" stroke-linecap="butt"/><line x1="488.2" y1="138.7" x2="497.2" y2="138.7" stroke="#222" stroke-width="2.6" stroke-linecap="butt"/><line x1="492.7" y1="125.1" x2="497.2" y2="125.1" stroke="#222" stroke-width="1.6" stroke-linecap="butt"/><line x1="492.7" y1="117.1" x2="497.2" y2="117.1" stroke="#222" stroke-width="1.6" stroke-linecap="butt"/><line x1="492.7" y1="111.4" x2="497.2" y2="111.4" stroke="#222" stroke-width="1.6" stroke-linecap="butt"/><line x1="492.7" y1="107" x2="497.2" y2="107" stroke="#222" stroke-width="1.6" stroke-linecap="butt"/><line x1="492.7" y1="103.4" x2="497.2" y2="103.4" stroke="#222" stroke-width="1.6" stroke-linecap="butt"/><line x1="492.7" y1="100.4" x2="497.2" y2="100.4" stroke="#222" stroke-width="1.6" stroke-linecap="butt"/><line x1="492.7" y1="97.8" x2="497.2" y2="97.8" stroke="#222" stroke-width="1.6" stroke-linecap="butt"/><line x1="492.7" y1="95.5" x2="497.2" y2="95.5" stroke="#222" stroke-width="1.6" stroke-linecap="butt"/><line x1="488.2" y1="93.4" x2="497.2" y2="93.4" stroke="#222" stroke-width="2.6" stroke-linecap="butt"/><line x1="492.7" y1="79.8" x2="497.2" y2="79.8" stroke="#222" stroke-width="1.6" stroke-linecap="butt"/><line x1="492.7" y1="71.8" x2="497.2" y2="71.8" stroke="#222" stroke-width="1.6" stroke-linecap="butt"/><line x1="492.7" y1="66.1" x2="497.2" y2="66.1" stroke="#222" stroke-width="1.6" stroke-linecap="butt"/><line x1="492.7" y1="61.7" x2="497.2" y2="61.7" stroke="#222" stroke-width="1.6" stroke-linecap="butt"/><line x1="492.7" y1="58.1" x2="497.2" y2="58.1" stroke="#222" stroke-width="1.6" stroke-linecap="butt"/><line x1="492.7" y1="55.1" x2="497.2" y2="55.1" stroke="#222" stroke-width="1.6" stroke-linecap="butt"/><line x1="492.7" y1="52.5" x2="497.2" y2="52.5" stroke="#222" stroke-width="1.6" stroke-linecap="butt"/><text x="475.4" y="373.9" font-size="12.5" text-anchor="end" fill="#2e2e2e" stroke="#2e2e2e" stroke-width="0.45">10</text><text x="475.6" y="363.9" font-size="12" fill="#2e2e2e" stroke="#2e2e2e" stroke-width="0.45">0</text><text x="475.4" y="328.6" font-size="12.5" text-anchor="end" fill="#2e2e2e" stroke="#2e2e2e" stroke-width="0.45">10</text><text x="475.6" y="318.6" font-size="12" fill="#2e2e2e" stroke="#2e2e2e" stroke-width="0.45">1</text><text x="475.4" y="283.3" font-size="12.5" text-anchor="end" fill="#2e2e2e" stroke="#2e2e2e" stroke-width="0.45">10</text><text x="475.6" y="273.3" font-size="12" fill="#2e2e2e" stroke="#2e2e2e" stroke-width="0.45">2</text><text x="475.4" y="238" font-size="12.5" text-anchor="end" fill="#2e2e2e" stroke="#2e2e2e" stroke-width="0.45">10</text><text x="475.6" y="228" font-size="12" fill="#2e2e2e" stroke="#2e2e2e" stroke-width="0.45">3</text><text x="475.4" y="192.7" font-size="12.5" text-anchor="end" fill="#2e2e2e" stroke="#2e2e2e" stroke-width="0.45">10</text><text x="475.6" y="182.7" font-size="12" fill="#2e2e2e" stroke="#2e2e2e" stroke-width="0.45">4</text><text x="475.4" y="147.4" font-size="12.5" text-anchor="end" fill="#2e2e2e" stroke="#2e2e2e" stroke-width="0.45">10</text><text x="475.6" y="137.4" font-size="12" fill="#2e2e2e" stroke="#2e2e2e" stroke-width="0.45">5</text><text x="475.4" y="102.1" font-size="12.5" text-anchor="end" fill="#2e2e2e" stroke="#2e2e2e" stroke-width="0.45">10</text><text x="475.6" y="92.1" font-size="12" fill="#2e2e2e" stroke="#2e2e2e" stroke-width="0.45">6</text><rect x="497.2" y="52.6" width="314.1" height="313.3" fill="none" stroke="#6c6c6c" stroke-width="2"/><line x1="497.2" y1="51.6" x2="497.2" y2="366.9" stroke="#262626" stroke-width="2.2" stroke-linecap="butt"/><line x1="496.2" y1="365.9" x2="812.3" y2="365.9" stroke="#262626" stroke-width="2.2" stroke-linecap="butt"/><line x1="909" y1="366.2" x2="909" y2="374.7" stroke="#222" stroke-width="2.6" stroke-linecap="butt"/><line x1="922.6" y1="366.2" x2="922.6" y2="370.7" stroke="#222" stroke-width="1.6" stroke-linecap="butt"/><line x1="930.6" y1="366.2" x2="930.6" y2="370.7" stroke="#222" stroke-width="1.6" stroke-linecap="butt"/><line x1="936.2" y1="366.2" x2="936.2" y2="370.7" stroke="#222" stroke-width="1.6" stroke-linecap="butt"/><line x1="940.6" y1="366.2" x2="940.6" y2="370.7" stroke="#222" stroke-width="1.6" stroke-linecap="butt"/><line x1="944.2" y1="366.2" x2="944.2" y2="370.7" stroke="#222" stroke-width="1.6" stroke-linecap="butt"/><line x1="947.2" y1="366.2" x2="947.2" y2="370.7" stroke="#222" stroke-width="1.6" stroke-linecap="butt"/><line x1="949.9" y1="366.2" x2="949.9" y2="370.7" stroke="#222" stroke-width="1.6" stroke-linecap="butt"/><line x1="952.2" y1="366.2" x2="952.2" y2="370.7" stroke="#222" stroke-width="1.6" stroke-linecap="butt"/><line x1="954.2" y1="366.2" x2="954.2" y2="374.7" stroke="#222" stroke-width="2.6" stroke-linecap="butt"/><line x1="967.9" y1="366.2" x2="967.9" y2="370.7" stroke="#222" stroke-width="1.6" stroke-linecap="butt"/><line x1="975.8" y1="366.2" x2="975.8" y2="370.7" stroke="#222" stroke-width="1.6" stroke-linecap="butt"/><line x1="981.5" y1="366.2" x2="981.5" y2="370.7" stroke="#222" stroke-width="1.6" stroke-linecap="butt"/><line x1="985.9" y1="366.2" x2="985.9" y2="370.7" stroke="#222" stroke-width="1.6" stroke-linecap="butt"/><line x1="989.5" y1="366.2" x2="989.5" y2="370.7" stroke="#222" stroke-width="1.6" stroke-linecap="butt"/><line x1="992.5" y1="366.2" x2="992.5" y2="370.7" stroke="#222" stroke-width="1.6" stroke-linecap="butt"/><line x1="995.1" y1="366.2" x2="995.1" y2="370.7" stroke="#222" stroke-width="1.6" stroke-linecap="butt"/><line x1="997.4" y1="366.2" x2="997.4" y2="370.7" stroke="#222" stroke-width="1.6" stroke-linecap="butt"/><line x1="999.5" y1="366.2" x2="999.5" y2="374.7" stroke="#222" stroke-width="2.6" stroke-linecap="butt"/><line x1="1013.1" y1="366.2" x2="1013.1" y2="370.7" stroke="#222" stroke-width="1.6" stroke-linecap="butt"/><line x1="1021.1" y1="366.2" x2="1021.1" y2="370.7" stroke="#222" stroke-width="1.6" stroke-linecap="butt"/><line x1="1026.7" y1="366.2" x2="1026.7" y2="370.7" stroke="#222" stroke-width="1.6" stroke-linecap="butt"/><line x1="1031.1" y1="366.2" x2="1031.1" y2="370.7" stroke="#222" stroke-width="1.6" stroke-linecap="butt"/><line x1="1034.7" y1="366.2" x2="1034.7" y2="370.7" stroke="#222" stroke-width="1.6" stroke-linecap="butt"/><line x1="1037.7" y1="366.2" x2="1037.7" y2="370.7" stroke="#222" stroke-width="1.6" stroke-linecap="butt"/><line x1="1040.4" y1="366.2" x2="1040.4" y2="370.7" stroke="#222" stroke-width="1.6" stroke-linecap="butt"/><line x1="1042.7" y1="366.2" x2="1042.7" y2="370.7" stroke="#222" stroke-width="1.6" stroke-linecap="butt"/><line x1="1044.8" y1="366.2" x2="1044.8" y2="374.7" stroke="#222" stroke-width="2.6" stroke-linecap="butt"/><line x1="1058.4" y1="366.2" x2="1058.4" y2="370.7" stroke="#222" stroke-width="1.6" stroke-linecap="butt"/><line x1="1066.3" y1="366.2" x2="1066.3" y2="370.7" stroke="#222" stroke-width="1.6" stroke-linecap="butt"/><line x1="1072" y1="366.2" x2="1072" y2="370.7" stroke="#222" stroke-width="1.6" stroke-linecap="butt"/><line x1="1076.4" y1="366.2" x2="1076.4" y2="370.7" stroke="#222" stroke-width="1.6" stroke-linecap="butt"/><line x1="1080" y1="366.2" x2="1080" y2="370.7" stroke="#222" stroke-width="1.6" stroke-linecap="butt"/><line x1="1083" y1="366.2" x2="1083" y2="370.7" stroke="#222" stroke-width="1.6" stroke-linecap="butt"/><line x1="1085.6" y1="366.2" x2="1085.6" y2="370.7" stroke="#222" stroke-width="1.6" stroke-linecap="butt"/><line x1="1087.9" y1="366.2" x2="1087.9" y2="370.7" stroke="#222" stroke-width="1.6" stroke-linecap="butt"/><line x1="1090" y1="366.2" x2="1090" y2="374.7" stroke="#222" stroke-width="2.6" stroke-linecap="butt"/><line x1="1103.6" y1="366.2" x2="1103.6" y2="370.7" stroke="#222" stroke-width="1.6" stroke-linecap="butt"/><line x1="1111.6" y1="366.2" x2="1111.6" y2="370.7" stroke="#222" stroke-width="1.6" stroke-linecap="butt"/><line x1="1117.2" y1="366.2" x2="1117.2" y2="370.7" stroke="#222" stroke-width="1.6" stroke-linecap="butt"/><line x1="1121.6" y1="366.2" x2="1121.6" y2="370.7" stroke="#222" stroke-width="1.6" stroke-linecap="butt"/><line x1="1125.2" y1="366.2" x2="1125.2" y2="370.7" stroke="#222" stroke-width="1.6" stroke-linecap="butt"/><line x1="1128.2" y1="366.2" x2="1128.2" y2="370.7" stroke="#222" stroke-width="1.6" stroke-linecap="butt"/><line x1="1130.9" y1="366.2" x2="1130.9" y2="370.7" stroke="#222" stroke-width="1.6" stroke-linecap="butt"/><line x1="1133.2" y1="366.2" x2="1133.2" y2="370.7" stroke="#222" stroke-width="1.6" stroke-linecap="butt"/><line x1="1135.2" y1="366.2" x2="1135.2" y2="374.7" stroke="#222" stroke-width="2.6" stroke-linecap="butt"/><line x1="1148.9" y1="366.2" x2="1148.9" y2="370.7" stroke="#222" stroke-width="1.6" stroke-linecap="butt"/><line x1="1156.8" y1="366.2" x2="1156.8" y2="370.7" stroke="#222" stroke-width="1.6" stroke-linecap="butt"/><line x1="1162.5" y1="366.2" x2="1162.5" y2="370.7" stroke="#222" stroke-width="1.6" stroke-linecap="butt"/><line x1="1166.9" y1="366.2" x2="1166.9" y2="370.7" stroke="#222" stroke-width="1.6" stroke-linecap="butt"/><line x1="1170.5" y1="366.2" x2="1170.5" y2="370.7" stroke="#222" stroke-width="1.6" stroke-linecap="butt"/><line x1="1173.5" y1="366.2" x2="1173.5" y2="370.7" stroke="#222" stroke-width="1.6" stroke-linecap="butt"/><line x1="1176.1" y1="366.2" x2="1176.1" y2="370.7" stroke="#222" stroke-width="1.6" stroke-linecap="butt"/><line x1="1178.4" y1="366.2" x2="1178.4" y2="370.7" stroke="#222" stroke-width="1.6" stroke-linecap="butt"/><line x1="1180.5" y1="366.2" x2="1180.5" y2="374.7" stroke="#222" stroke-width="2.6" stroke-linecap="butt"/><line x1="1194.1" y1="366.2" x2="1194.1" y2="370.7" stroke="#222" stroke-width="1.6" stroke-linecap="butt"/><line x1="1202.1" y1="366.2" x2="1202.1" y2="370.7" stroke="#222" stroke-width="1.6" stroke-linecap="butt"/><line x1="1207.7" y1="366.2" x2="1207.7" y2="370.7" stroke="#222" stroke-width="1.6" stroke-linecap="butt"/><line x1="1212.1" y1="366.2" x2="1212.1" y2="370.7" stroke="#222" stroke-width="1.6" stroke-linecap="butt"/><line x1="1215.7" y1="366.2" x2="1215.7" y2="370.7" stroke="#222" stroke-width="1.6" stroke-linecap="butt"/><line x1="1218.7" y1="366.2" x2="1218.7" y2="370.7" stroke="#222" stroke-width="1.6" stroke-linecap="butt"/><line x1="1221.4" y1="366.2" x2="1221.4" y2="370.7" stroke="#222" stroke-width="1.6" stroke-linecap="butt"/><line x1="1223.7" y1="366.2" x2="1223.7" y2="370.7" stroke="#222" stroke-width="1.6" stroke-linecap="butt"/><text x="915" y="403.2" font-size="12.5" fill="#2e2e2e" stroke="#2e2e2e" stroke-width="0.45">10</text><text x="928.6" y="392.7" font-size="12" fill="#2e2e2e" stroke="#2e2e2e" stroke-width="0.45">0</text><text x="994.9" y="403.2" font-size="12.5" fill="#2e2e2e" stroke="#2e2e2e" stroke-width="0.45">10</text><text x="1008.5" y="392.7" font-size="12" fill="#2e2e2e" stroke="#2e2e2e" stroke-width="0.45">2</text><text x="1085.4" y="403.2" font-size="12.5" fill="#2e2e2e" stroke="#2e2e2e" stroke-width="0.45">10</text><text x="1099" y="392.7" font-size="12" fill="#2e2e2e" stroke="#2e2e2e" stroke-width="0.45">4</text><text x="1175.9" y="403.2" font-size="12.5" fill="#2e2e2e" stroke="#2e2e2e" stroke-width="0.45">10</text><text x="1189.5" y="392.7" font-size="12" fill="#2e2e2e" stroke="#2e2e2e" stroke-width="0.45">6</text><line x1="899.7" y1="366" x2="908.7" y2="366" stroke="#222" stroke-width="2.6" stroke-linecap="butt"/><line x1="904.2" y1="352.3" x2="908.7" y2="352.3" stroke="#222" stroke-width="1.6" stroke-linecap="butt"/><line x1="904.2" y1="344.3" x2="908.7" y2="344.3" stroke="#222" stroke-width="1.6" stroke-linecap="butt"/><line x1="904.2" y1="338.6" x2="908.7" y2="338.6" stroke="#222" stroke-width="1.6" stroke-linecap="butt"/><line x1="904.2" y1="334.2" x2="908.7" y2="334.2" stroke="#222" stroke-width="1.6" stroke-linecap="butt"/><line x1="904.2" y1="330.6" x2="908.7" y2="330.6" stroke="#222" stroke-width="1.6" stroke-linecap="butt"/><line x1="904.2" y1="327.5" x2="908.7" y2="327.5" stroke="#222" stroke-width="1.6" stroke-linecap="butt"/><line x1="904.2" y1="324.9" x2="908.7" y2="324.9" stroke="#222" stroke-width="1.6" stroke-linecap="butt"/><line x1="904.2" y1="322.6" x2="908.7" y2="322.6" stroke="#222" stroke-width="1.6" stroke-linecap="butt"/><line x1="899.7" y1="320.5" x2="908.7" y2="320.5" stroke="#222" stroke-width="2.6" stroke-linecap="butt"/><line x1="904.2" y1="306.8" x2="908.7" y2="306.8" stroke="#222" stroke-width="1.6" stroke-linecap="butt"/><line x1="904.2" y1="298.8" x2="908.7" y2="298.8" stroke="#222" stroke-width="1.6" stroke-linecap="butt"/><line x1="904.2" y1="293.1" x2="908.7" y2="293.1" stroke="#222" stroke-width="1.6" stroke-linecap="butt"/><line x1="904.2" y1="288.7" x2="908.7" y2="288.7" stroke="#222" stroke-width="1.6" stroke-linecap="butt"/><line x1="904.2" y1="285.1" x2="908.7" y2="285.1" stroke="#222" stroke-width="1.6" stroke-linecap="butt"/><line x1="904.2" y1="282" x2="908.7" y2="282" stroke="#222" stroke-width="1.6" stroke-linecap="butt"/><line x1="904.2" y1="279.4" x2="908.7" y2="279.4" stroke="#222" stroke-width="1.6" stroke-linecap="butt"/><line x1="904.2" y1="277.1" x2="908.7" y2="277.1" stroke="#222" stroke-width="1.6" stroke-linecap="butt"/><line x1="899.7" y1="275" x2="908.7" y2="275" stroke="#222" stroke-width="2.6" stroke-linecap="butt"/><line x1="904.2" y1="261.3" x2="908.7" y2="261.3" stroke="#222" stroke-width="1.6" stroke-linecap="butt"/><line x1="904.2" y1="253.3" x2="908.7" y2="253.3" stroke="#222" stroke-width="1.6" stroke-linecap="butt"/><line x1="904.2" y1="247.6" x2="908.7" y2="247.6" stroke="#222" stroke-width="1.6" stroke-linecap="butt"/><line x1="904.2" y1="243.2" x2="908.7" y2="243.2" stroke="#222" stroke-width="1.6" stroke-linecap="butt"/><line x1="904.2" y1="239.6" x2="908.7" y2="239.6" stroke="#222" stroke-width="1.6" stroke-linecap="butt"/><line x1="904.2" y1="236.5" x2="908.7" y2="236.5" stroke="#222" stroke-width="1.6" stroke-linecap="butt"/><line x1="904.2" y1="233.9" x2="908.7" y2="233.9" stroke="#222" stroke-width="1.6" stroke-linecap="butt"/><line x1="904.2" y1="231.6" x2="908.7" y2="231.6" stroke="#222" stroke-width="1.6" stroke-linecap="butt"/><line x1="899.7" y1="229.5" x2="908.7" y2="229.5" stroke="#222" stroke-width="2.6" stroke-linecap="butt"/><line x1="904.2" y1="215.8" x2="908.7" y2="215.8" stroke="#222" stroke-width="1.6" stroke-linecap="butt"/><line x1="904.2" y1="207.8" x2="908.7" y2="207.8" stroke="#222" stroke-width="1.6" stroke-linecap="butt"/><line x1="904.2" y1="202.1" x2="908.7" y2="202.1" stroke="#222" stroke-width="1.6" stroke-linecap="butt"/><line x1="904.2" y1="197.7" x2="908.7" y2="197.7" stroke="#222" stroke-width="1.6" stroke-linecap="butt"/><line x1="904.2" y1="194.1" x2="908.7" y2="194.1" stroke="#222" stroke-width="1.6" stroke-linecap="butt"/><line x1="904.2" y1="191" x2="908.7" y2="191" stroke="#222" stroke-width="1.6" stroke-linecap="butt"/><line x1="904.2" y1="188.4" x2="908.7" y2="188.4" stroke="#222" stroke-width="1.6" stroke-linecap="butt"/><line x1="904.2" y1="186.1" x2="908.7" y2="186.1" stroke="#222" stroke-width="1.6" stroke-linecap="butt"/><line x1="899.7" y1="184" x2="908.7" y2="184" stroke="#222" stroke-width="2.6" stroke-linecap="butt"/><line x1="904.2" y1="170.3" x2="908.7" y2="170.3" stroke="#222" stroke-width="1.6" stroke-linecap="butt"/><line x1="904.2" y1="162.3" x2="908.7" y2="162.3" stroke="#222" stroke-width="1.6" stroke-linecap="butt"/><line x1="904.2" y1="156.6" x2="908.7" y2="156.6" stroke="#222" stroke-width="1.6" stroke-linecap="butt"/><line x1="904.2" y1="152.2" x2="908.7" y2="152.2" stroke="#222" stroke-width="1.6" stroke-linecap="butt"/><line x1="904.2" y1="148.6" x2="908.7" y2="148.6" stroke="#222" stroke-width="1.6" stroke-linecap="butt"/><line x1="904.2" y1="145.5" x2="908.7" y2="145.5" stroke="#222" stroke-width="1.6" stroke-linecap="butt"/><line x1="904.2" y1="142.9" x2="908.7" y2="142.9" stroke="#222" stroke-width="1.6" stroke-linecap="butt"/><line x1="904.2" y1="140.6" x2="908.7" y2="140.6" stroke="#222" stroke-width="1.6" stroke-linecap="butt"/><line x1="899.7" y1="138.5" x2="908.7" y2="138.5" stroke="#222" stroke-width="2.6" stroke-linecap="butt"/><line x1="904.2" y1="124.8" x2="908.7" y2="124.8" stroke="#222" stroke-width="1.6" stroke-linecap="butt"/><line x1="904.2" y1="116.8" x2="908.7" y2="116.8" stroke="#222" stroke-width="1.6" stroke-linecap="butt"/><line x1="904.2" y1="111.1" x2="908.7" y2="111.1" stroke="#222" stroke-width="1.6" stroke-linecap="butt"/><line x1="904.2" y1="106.7" x2="908.7" y2="106.7" stroke="#222" stroke-width="1.6" stroke-linecap="butt"/><line x1="904.2" y1="103.1" x2="908.7" y2="103.1" stroke="#222" stroke-width="1.6" stroke-linecap="butt"/><line x1="904.2" y1="100" x2="908.7" y2="100" stroke="#222" stroke-width="1.6" stroke-linecap="butt"/><line x1="904.2" y1="97.4" x2="908.7" y2="97.4" stroke="#222" stroke-width="1.6" stroke-linecap="butt"/><line x1="904.2" y1="95.1" x2="908.7" y2="95.1" stroke="#222" stroke-width="1.6" stroke-linecap="butt"/><line x1="899.7" y1="93" x2="908.7" y2="93" stroke="#222" stroke-width="2.6" stroke-linecap="butt"/><line x1="904.2" y1="79.3" x2="908.7" y2="79.3" stroke="#222" stroke-width="1.6" stroke-linecap="butt"/><line x1="904.2" y1="71.3" x2="908.7" y2="71.3" stroke="#222" stroke-width="1.6" stroke-linecap="butt"/><line x1="904.2" y1="65.6" x2="908.7" y2="65.6" stroke="#222" stroke-width="1.6" stroke-linecap="butt"/><line x1="904.2" y1="61.2" x2="908.7" y2="61.2" stroke="#222" stroke-width="1.6" stroke-linecap="butt"/><line x1="904.2" y1="57.6" x2="908.7" y2="57.6" stroke="#222" stroke-width="1.6" stroke-linecap="butt"/><line x1="904.2" y1="54.5" x2="908.7" y2="54.5" stroke="#222" stroke-width="1.6" stroke-linecap="butt"/><line x1="904.2" y1="51.9" x2="908.7" y2="51.9" stroke="#222" stroke-width="1.6" stroke-linecap="butt"/><text x="886.9" y="374.7" font-size="12.5" text-anchor="end" fill="#2e2e2e" stroke="#2e2e2e" stroke-width="0.45">10</text><text x="887.1" y="364.7" font-size="12" fill="#2e2e2e" stroke="#2e2e2e" stroke-width="0.45">0</text><text x="886.9" y="329.2" font-size="12.5" text-anchor="end" fill="#2e2e2e" stroke="#2e2e2e" stroke-width="0.45">10</text><text x="887.1" y="319.2" font-size="12" fill="#2e2e2e" stroke="#2e2e2e" stroke-width="0.45">1</text><text x="886.9" y="283.7" font-size="12.5" text-anchor="end" fill="#2e2e2e" stroke="#2e2e2e" stroke-width="0.45">10</text><text x="887.1" y="273.7" font-size="12" fill="#2e2e2e" stroke="#2e2e2e" stroke-width="0.45">2</text><text x="886.9" y="238.2" font-size="12.5" text-anchor="end" fill="#2e2e2e" stroke="#2e2e2e" stroke-width="0.45">10</text><text x="887.1" y="228.2" font-size="12" fill="#2e2e2e" stroke="#2e2e2e" stroke-width="0.45">3</text><text x="886.9" y="192.7" font-size="12.5" text-anchor="end" fill="#2e2e2e" stroke="#2e2e2e" stroke-width="0.45">10</text><text x="887.1" y="182.7" font-size="12" fill="#2e2e2e" stroke="#2e2e2e" stroke-width="0.45">4</text><text x="886.9" y="147.2" font-size="12.5" text-anchor="end" fill="#2e2e2e" stroke="#2e2e2e" stroke-width="0.45">10</text><text x="887.1" y="137.2" font-size="12" fill="#2e2e2e" stroke="#2e2e2e" stroke-width="0.45">5</text><text x="886.9" y="101.7" font-size="12.5" text-anchor="end" fill="#2e2e2e" stroke="#2e2e2e" stroke-width="0.45">10</text><text x="887.1" y="91.7" font-size="12" fill="#2e2e2e" stroke="#2e2e2e" stroke-width="0.45">6</text><rect x="908.7" y="51.7" width="316.3" height="314.5" fill="none" stroke="#6c6c6c" stroke-width="2"/><line x1="908.7" y1="50.7" x2="908.7" y2="367.2" stroke="#262626" stroke-width="2.2" stroke-linecap="butt"/><line x1="907.7" y1="366.2" x2="1226" y2="366.2" stroke="#262626" stroke-width="2.2" stroke-linecap="butt"/><line x1="88.7" y1="874" x2="88.7" y2="882.5" stroke="#222" stroke-width="2.6" stroke-linecap="butt"/><line x1="106.8" y1="874" x2="106.8" y2="878.5" stroke="#222" stroke-width="1.6" stroke-linecap="butt"/><line x1="117.3" y1="874" x2="117.3" y2="878.5" stroke="#222" stroke-width="1.6" stroke-linecap="butt"/><line x1="124.8" y1="874" x2="124.8" y2="878.5" stroke="#222" stroke-width="1.6" stroke-linecap="butt"/><line x1="130.6" y1="874" x2="130.6" y2="878.5" stroke="#222" stroke-width="1.6" stroke-linecap="butt"/><line x1="135.4" y1="874" x2="135.4" y2="878.5" stroke="#222" stroke-width="1.6" stroke-linecap="butt"/><line x1="139.4" y1="874" x2="139.4" y2="878.5" stroke="#222" stroke-width="1.6" stroke-linecap="butt"/><line x1="142.9" y1="874" x2="142.9" y2="878.5" stroke="#222" stroke-width="1.6" stroke-linecap="butt"/><line x1="146" y1="874" x2="146" y2="878.5" stroke="#222" stroke-width="1.6" stroke-linecap="butt"/><line x1="148.7" y1="874" x2="148.7" y2="882.5" stroke="#222" stroke-width="2.6" stroke-linecap="butt"/><line x1="166.8" y1="874" x2="166.8" y2="878.5" stroke="#222" stroke-width="1.6" stroke-linecap="butt"/><line x1="177.3" y1="874" x2="177.3" y2="878.5" stroke="#222" stroke-width="1.6" stroke-linecap="butt"/><line x1="184.8" y1="874" x2="184.8" y2="878.5" stroke="#222" stroke-width="1.6" stroke-linecap="butt"/><line x1="190.6" y1="874" x2="190.6" y2="878.5" stroke="#222" stroke-width="1.6" stroke-linecap="butt"/><line x1="195.4" y1="874" x2="195.4" y2="878.5" stroke="#222" stroke-width="1.6" stroke-linecap="butt"/><line x1="199.4" y1="874" x2="199.4" y2="878.5" stroke="#222" stroke-width="1.6" stroke-linecap="butt"/><line x1="202.9" y1="874" x2="202.9" y2="878.5" stroke="#222" stroke-width="1.6" stroke-linecap="butt"/><line x1="206" y1="874" x2="206" y2="878.5" stroke="#222" stroke-width="1.6" stroke-linecap="butt"/><line x1="208.7" y1="874" x2="208.7" y2="882.5" stroke="#222" stroke-width="2.6" stroke-linecap="butt"/><line x1="226.8" y1="874" x2="226.8" y2="878.5" stroke="#222" stroke-width="1.6" stroke-linecap="butt"/><line x1="237.3" y1="874" x2="237.3" y2="878.5" stroke="#222" stroke-width="1.6" stroke-linecap="butt"/><line x1="244.8" y1="874" x2="244.8" y2="878.5" stroke="#222" stroke-width="1.6" stroke-linecap="butt"/><line x1="250.6" y1="874" x2="250.6" y2="878.5" stroke="#222" stroke-width="1.6" stroke-linecap="butt"/><line x1="255.4" y1="874" x2="255.4" y2="878.5" stroke="#222" stroke-width="1.6" stroke-linecap="butt"/><line x1="259.4" y1="874" x2="259.4" y2="878.5" stroke="#222" stroke-width="1.6" stroke-linecap="butt"/><line x1="262.9" y1="874" x2="262.9" y2="878.5" stroke="#222" stroke-width="1.6" stroke-linecap="butt"/><line x1="266" y1="874" x2="266" y2="878.5" stroke="#222" stroke-width="1.6" stroke-linecap="butt"/><line x1="268.7" y1="874" x2="268.7" y2="882.5" stroke="#222" stroke-width="2.6" stroke-linecap="butt"/><line x1="286.8" y1="874" x2="286.8" y2="878.5" stroke="#222" stroke-width="1.6" stroke-linecap="butt"/><line x1="297.3" y1="874" x2="297.3" y2="878.5" stroke="#222" stroke-width="1.6" stroke-linecap="butt"/><line x1="304.8" y1="874" x2="304.8" y2="878.5" stroke="#222" stroke-width="1.6" stroke-linecap="butt"/><line x1="310.6" y1="874" x2="310.6" y2="878.5" stroke="#222" stroke-width="1.6" stroke-linecap="butt"/><line x1="315.4" y1="874" x2="315.4" y2="878.5" stroke="#222" stroke-width="1.6" stroke-linecap="butt"/><line x1="319.4" y1="874" x2="319.4" y2="878.5" stroke="#222" stroke-width="1.6" stroke-linecap="butt"/><line x1="322.9" y1="874" x2="322.9" y2="878.5" stroke="#222" stroke-width="1.6" stroke-linecap="butt"/><line x1="326" y1="874" x2="326" y2="878.5" stroke="#222" stroke-width="1.6" stroke-linecap="butt"/><line x1="328.7" y1="874" x2="328.7" y2="882.5" stroke="#222" stroke-width="2.6" stroke-linecap="butt"/><line x1="346.8" y1="874" x2="346.8" y2="878.5" stroke="#222" stroke-width="1.6" stroke-linecap="butt"/><line x1="357.3" y1="874" x2="357.3" y2="878.5" stroke="#222" stroke-width="1.6" stroke-linecap="butt"/><line x1="364.8" y1="874" x2="364.8" y2="878.5" stroke="#222" stroke-width="1.6" stroke-linecap="butt"/><line x1="370.6" y1="874" x2="370.6" y2="878.5" stroke="#222" stroke-width="1.6" stroke-linecap="butt"/><line x1="375.4" y1="874" x2="375.4" y2="878.5" stroke="#222" stroke-width="1.6" stroke-linecap="butt"/><line x1="379.4" y1="874" x2="379.4" y2="878.5" stroke="#222" stroke-width="1.6" stroke-linecap="butt"/><line x1="382.9" y1="874" x2="382.9" y2="878.5" stroke="#222" stroke-width="1.6" stroke-linecap="butt"/><line x1="386" y1="874" x2="386" y2="878.5" stroke="#222" stroke-width="1.6" stroke-linecap="butt"/><line x1="388.7" y1="874" x2="388.7" y2="882.5" stroke="#222" stroke-width="2.6" stroke-linecap="butt"/><line x1="406.8" y1="874" x2="406.8" y2="878.5" stroke="#222" stroke-width="1.6" stroke-linecap="butt"/><text x="95.2" y="911.8" font-size="12.5" fill="#2e2e2e" stroke="#2e2e2e" stroke-width="0.45">10</text><text x="108.8" y="901" font-size="12" fill="#2e2e2e" stroke="#2e2e2e" stroke-width="0.45">0</text><text x="144.1" y="911.8" font-size="12.5" fill="#2e2e2e" stroke="#2e2e2e" stroke-width="0.45">10</text><text x="157.7" y="901" font-size="12" fill="#2e2e2e" stroke="#2e2e2e" stroke-width="0.45">1</text><text x="204.1" y="911.8" font-size="12.5" fill="#2e2e2e" stroke="#2e2e2e" stroke-width="0.45">10</text><text x="217.7" y="901" font-size="12" fill="#2e2e2e" stroke="#2e2e2e" stroke-width="0.45">2</text><text x="264.1" y="911.8" font-size="12.5" fill="#2e2e2e" stroke="#2e2e2e" stroke-width="0.45">10</text><text x="277.7" y="901" font-size="12" fill="#2e2e2e" stroke="#2e2e2e" stroke-width="0.45">3</text><text x="324.1" y="911.8" font-size="12.5" fill="#2e2e2e" stroke="#2e2e2e" stroke-width="0.45">10</text><text x="337.7" y="901" font-size="12" fill="#2e2e2e" stroke="#2e2e2e" stroke-width="0.45">4</text><text x="384.1" y="911.8" font-size="12.5" fill="#2e2e2e" stroke="#2e2e2e" stroke-width="0.45">10</text><text x="397.7" y="901" font-size="12" fill="#2e2e2e" stroke="#2e2e2e" stroke-width="0.45">5</text><line x1="83.1" y1="874.2" x2="87.6" y2="874.2" stroke="#222" stroke-width="1.6" stroke-linecap="butt"/><line x1="78.6" y1="871.5" x2="87.6" y2="871.5" stroke="#222" stroke-width="2.6" stroke-linecap="butt"/><line x1="83.1" y1="853.4" x2="87.6" y2="853.4" stroke="#222" stroke-width="1.6" stroke-linecap="butt"/><line x1="83.1" y1="842.8" x2="87.6" y2="842.8" stroke="#222" stroke-width="1.6" stroke-linecap="butt"/><line x1="83.1" y1="835.3" x2="87.6" y2="835.3" stroke="#222" stroke-width="1.6" stroke-linecap="butt"/><line x1="83.1" y1="829.5" x2="87.6" y2="829.5" stroke="#222" stroke-width="1.6" stroke-linecap="butt"/><line x1="83.1" y1="824.8" x2="87.6" y2="824.8" stroke="#222" stroke-width="1.6" stroke-linecap="butt"/><line x1="83.1" y1="820.7" x2="87.6" y2="820.7" stroke="#222" stroke-width="1.6" stroke-linecap="butt"/><line x1="83.1" y1="817.3" x2="87.6" y2="817.3" stroke="#222" stroke-width="1.6" stroke-linecap="butt"/><line x1="83.1" y1="814.2" x2="87.6" y2="814.2" stroke="#222" stroke-width="1.6" stroke-linecap="butt"/><line x1="78.6" y1="811.4" x2="87.6" y2="811.4" stroke="#222" stroke-width="2.6" stroke-linecap="butt"/><line x1="83.1" y1="793.4" x2="87.6" y2="793.4" stroke="#222" stroke-width="1.6" stroke-linecap="butt"/><line x1="83.1" y1="782.8" x2="87.6" y2="782.8" stroke="#222" stroke-width="1.6" stroke-linecap="butt"/><line x1="83.1" y1="775.3" x2="87.6" y2="775.3" stroke="#222" stroke-width="1.6" stroke-linecap="butt"/><line x1="83.1" y1="769.5" x2="87.6" y2="769.5" stroke="#222" stroke-width="1.6" stroke-linecap="butt"/><line x1="83.1" y1="764.7" x2="87.6" y2="764.7" stroke="#222" stroke-width="1.6" stroke-linecap="butt"/><line x1="83.1" y1="760.7" x2="87.6" y2="760.7" stroke="#222" stroke-width="1.6" stroke-linecap="butt"/><line x1="83.1" y1="757.2" x2="87.6" y2="757.2" stroke="#222" stroke-width="1.6" stroke-linecap="butt"/><line x1="83.1" y1="754.1" x2="87.6" y2="754.1" stroke="#222" stroke-width="1.6" stroke-linecap="butt"/><line x1="78.6" y1="751.4" x2="87.6" y2="751.4" stroke="#222" stroke-width="2.6" stroke-linecap="butt"/><line x1="83.1" y1="733.3" x2="87.6" y2="733.3" stroke="#222" stroke-width="1.6" stroke-linecap="butt"/><line x1="83.1" y1="722.7" x2="87.6" y2="722.7" stroke="#222" stroke-width="1.6" stroke-linecap="butt"/><line x1="83.1" y1="715.2" x2="87.6" y2="715.2" stroke="#222" stroke-width="1.6" stroke-linecap="butt"/><line x1="83.1" y1="709.4" x2="87.6" y2="709.4" stroke="#222" stroke-width="1.6" stroke-linecap="butt"/><line x1="83.1" y1="704.6" x2="87.6" y2="704.6" stroke="#222" stroke-width="1.6" stroke-linecap="butt"/><line x1="83.1" y1="700.6" x2="87.6" y2="700.6" stroke="#222" stroke-width="1.6" stroke-linecap="butt"/><line x1="83.1" y1="697.1" x2="87.6" y2="697.1" stroke="#222" stroke-width="1.6" stroke-linecap="butt"/><line x1="83.1" y1="694.1" x2="87.6" y2="694.1" stroke="#222" stroke-width="1.6" stroke-linecap="butt"/><line x1="78.6" y1="691.3" x2="87.6" y2="691.3" stroke="#222" stroke-width="2.6" stroke-linecap="butt"/><line x1="83.1" y1="673.2" x2="87.6" y2="673.2" stroke="#222" stroke-width="1.6" stroke-linecap="butt"/><line x1="83.1" y1="662.7" x2="87.6" y2="662.7" stroke="#222" stroke-width="1.6" stroke-linecap="butt"/><line x1="83.1" y1="655.2" x2="87.6" y2="655.2" stroke="#222" stroke-width="1.6" stroke-linecap="butt"/><line x1="83.1" y1="649.3" x2="87.6" y2="649.3" stroke="#222" stroke-width="1.6" stroke-linecap="butt"/><line x1="83.1" y1="644.6" x2="87.6" y2="644.6" stroke="#222" stroke-width="1.6" stroke-linecap="butt"/><line x1="83.1" y1="640.6" x2="87.6" y2="640.6" stroke="#222" stroke-width="1.6" stroke-linecap="butt"/><line x1="83.1" y1="637.1" x2="87.6" y2="637.1" stroke="#222" stroke-width="1.6" stroke-linecap="butt"/><line x1="83.1" y1="634" x2="87.6" y2="634" stroke="#222" stroke-width="1.6" stroke-linecap="butt"/><line x1="78.6" y1="631.3" x2="87.6" y2="631.3" stroke="#222" stroke-width="2.6" stroke-linecap="butt"/><line x1="83.1" y1="613.2" x2="87.6" y2="613.2" stroke="#222" stroke-width="1.6" stroke-linecap="butt"/><line x1="83.1" y1="602.6" x2="87.6" y2="602.6" stroke="#222" stroke-width="1.6" stroke-linecap="butt"/><line x1="83.1" y1="595.1" x2="87.6" y2="595.1" stroke="#222" stroke-width="1.6" stroke-linecap="butt"/><line x1="83.1" y1="589.3" x2="87.6" y2="589.3" stroke="#222" stroke-width="1.6" stroke-linecap="butt"/><line x1="83.1" y1="584.5" x2="87.6" y2="584.5" stroke="#222" stroke-width="1.6" stroke-linecap="butt"/><line x1="83.1" y1="580.5" x2="87.6" y2="580.5" stroke="#222" stroke-width="1.6" stroke-linecap="butt"/><line x1="83.1" y1="577" x2="87.6" y2="577" stroke="#222" stroke-width="1.6" stroke-linecap="butt"/><line x1="83.1" y1="573.9" x2="87.6" y2="573.9" stroke="#222" stroke-width="1.6" stroke-linecap="butt"/><line x1="78.6" y1="571.2" x2="87.6" y2="571.2" stroke="#222" stroke-width="2.6" stroke-linecap="butt"/><line x1="83.1" y1="553.1" x2="87.6" y2="553.1" stroke="#222" stroke-width="1.6" stroke-linecap="butt"/><text x="64.6" y="880.2" font-size="12.5" text-anchor="end" fill="#2e2e2e" stroke="#2e2e2e" stroke-width="0.45">10</text><text x="64.8" y="870.2" font-size="12" fill="#2e2e2e" stroke="#2e2e2e" stroke-width="0.45">0</text><text x="64.6" y="820.1" font-size="12.5" text-anchor="end" fill="#2e2e2e" stroke="#2e2e2e" stroke-width="0.45">10</text><text x="64.8" y="810.1" font-size="12" fill="#2e2e2e" stroke="#2e2e2e" stroke-width="0.45">1</text><text x="64.6" y="760.1" font-size="12.5" text-anchor="end" fill="#2e2e2e" stroke="#2e2e2e" stroke-width="0.45">10</text><text x="64.8" y="750.1" font-size="12" fill="#2e2e2e" stroke="#2e2e2e" stroke-width="0.45">2</text><text x="64.6" y="700" font-size="12.5" text-anchor="end" fill="#2e2e2e" stroke="#2e2e2e" stroke-width="0.45">10</text><text x="64.8" y="690" font-size="12" fill="#2e2e2e" stroke="#2e2e2e" stroke-width="0.45">3</text><text x="64.6" y="640" font-size="12.5" text-anchor="end" fill="#2e2e2e" stroke="#2e2e2e" stroke-width="0.45">10</text><text x="64.8" y="630" font-size="12" fill="#2e2e2e" stroke="#2e2e2e" stroke-width="0.45">4</text><text x="64.6" y="579.9" font-size="12.5" text-anchor="end" fill="#2e2e2e" stroke="#2e2e2e" stroke-width="0.45">10</text><text x="64.8" y="569.9" font-size="12" fill="#2e2e2e" stroke="#2e2e2e" stroke-width="0.45">5</text><rect x="87.6" y="546.2" width="329" height="327.8" fill="none" stroke="#6c6c6c" stroke-width="2"/><line x1="87.6" y1="545.2" x2="87.6" y2="875" stroke="#262626" stroke-width="2.2" stroke-linecap="butt"/><line x1="86.6" y1="874" x2="417.6" y2="874" stroke="#262626" stroke-width="2.2" stroke-linecap="butt"/><line x1="495.6" y1="873.8" x2="495.6" y2="882.3" stroke="#222" stroke-width="2.6" stroke-linecap="butt"/><line x1="513.5" y1="873.8" x2="513.5" y2="878.3" stroke="#222" stroke-width="1.6" stroke-linecap="butt"/><line x1="524" y1="873.8" x2="524" y2="878.3" stroke="#222" stroke-width="1.6" stroke-linecap="butt"/><line x1="531.5" y1="873.8" x2="531.5" y2="878.3" stroke="#222" stroke-width="1.6" stroke-linecap="butt"/><line x1="537.3" y1="873.8" x2="537.3" y2="878.3" stroke="#222" stroke-width="1.6" stroke-linecap="butt"/><line x1="542" y1="873.8" x2="542" y2="878.3" stroke="#222" stroke-width="1.6" stroke-linecap="butt"/><line x1="546" y1="873.8" x2="546" y2="878.3" stroke="#222" stroke-width="1.6" stroke-linecap="butt"/><line x1="549.4" y1="873.8" x2="549.4" y2="878.3" stroke="#222" stroke-width="1.6" stroke-linecap="butt"/><line x1="552.5" y1="873.8" x2="552.5" y2="878.3" stroke="#222" stroke-width="1.6" stroke-linecap="butt"/><line x1="555.2" y1="873.8" x2="555.2" y2="882.3" stroke="#222" stroke-width="2.6" stroke-linecap="butt"/><line x1="573.2" y1="873.8" x2="573.2" y2="878.3" stroke="#222" stroke-width="1.6" stroke-linecap="butt"/><line x1="583.7" y1="873.8" x2="583.7" y2="878.3" stroke="#222" stroke-width="1.6" stroke-linecap="butt"/><line x1="591.1" y1="873.8" x2="591.1" y2="878.3" stroke="#222" stroke-width="1.6" stroke-linecap="butt"/><line x1="596.9" y1="873.8" x2="596.9" y2="878.3" stroke="#222" stroke-width="1.6" stroke-linecap="butt"/><line x1="601.6" y1="873.8" x2="601.6" y2="878.3" stroke="#222" stroke-width="1.6" stroke-linecap="butt"/><line x1="605.6" y1="873.8" x2="605.6" y2="878.3" stroke="#222" stroke-width="1.6" stroke-linecap="butt"/><line x1="609.1" y1="873.8" x2="609.1" y2="878.3" stroke="#222" stroke-width="1.6" stroke-linecap="butt"/><line x1="612.1" y1="873.8" x2="612.1" y2="878.3" stroke="#222" stroke-width="1.6" stroke-linecap="butt"/><line x1="614.8" y1="873.8" x2="614.8" y2="882.3" stroke="#222" stroke-width="2.6" stroke-linecap="butt"/><line x1="632.8" y1="873.8" x2="632.8" y2="878.3" stroke="#222" stroke-width="1.6" stroke-linecap="butt"/><line x1="643.3" y1="873.8" x2="643.3" y2="878.3" stroke="#222" stroke-width="1.6" stroke-linecap="butt"/><line x1="650.7" y1="873.8" x2="650.7" y2="878.3" stroke="#222" stroke-width="1.6" stroke-linecap="butt"/><line x1="656.5" y1="873.8" x2="656.5" y2="878.3" stroke="#222" stroke-width="1.6" stroke-linecap="butt"/><line x1="661.2" y1="873.8" x2="661.2" y2="878.3" stroke="#222" stroke-width="1.6" stroke-linecap="butt"/><line x1="665.2" y1="873.8" x2="665.2" y2="878.3" stroke="#222" stroke-width="1.6" stroke-linecap="butt"/><line x1="668.7" y1="873.8" x2="668.7" y2="878.3" stroke="#222" stroke-width="1.6" stroke-linecap="butt"/><line x1="671.7" y1="873.8" x2="671.7" y2="878.3" stroke="#222" stroke-width="1.6" stroke-linecap="butt"/><line x1="674.5" y1="873.8" x2="674.5" y2="882.3" stroke="#222" stroke-width="2.6" stroke-linecap="butt"/><line x1="692.4" y1="873.8" x2="692.4" y2="878.3" stroke="#222" stroke-width="1.6" stroke-linecap="butt"/><line x1="702.9" y1="873.8" x2="702.9" y2="878.3" stroke="#222" stroke-width="1.6" stroke-linecap="butt"/><line x1="710.4" y1="873.8" x2="710.4" y2="878.3" stroke="#222" stroke-width="1.6" stroke-linecap="butt"/><line x1="716.1" y1="873.8" x2="716.1" y2="878.3" stroke="#222" stroke-width="1.6" stroke-linecap="butt"/><line x1="720.9" y1="873.8" x2="720.9" y2="878.3" stroke="#222" stroke-width="1.6" stroke-linecap="butt"/><line x1="724.8" y1="873.8" x2="724.8" y2="878.3" stroke="#222" stroke-width="1.6" stroke-linecap="butt"/><line x1="728.3" y1="873.8" x2="728.3" y2="878.3" stroke="#222" stroke-width="1.6" stroke-linecap="butt"/><line x1="731.4" y1="873.8" x2="731.4" y2="878.3" stroke="#222" stroke-width="1.6" stroke-linecap="butt"/><line x1="734.1" y1="873.8" x2="734.1" y2="882.3" stroke="#222" stroke-width="2.6" stroke-linecap="butt"/><line x1="752" y1="873.8" x2="752" y2="878.3" stroke="#222" stroke-width="1.6" stroke-linecap="butt"/><line x1="762.5" y1="873.8" x2="762.5" y2="878.3" stroke="#222" stroke-width="1.6" stroke-linecap="butt"/><line x1="770" y1="873.8" x2="770" y2="878.3" stroke="#222" stroke-width="1.6" stroke-linecap="butt"/><line x1="775.8" y1="873.8" x2="775.8" y2="878.3" stroke="#222" stroke-width="1.6" stroke-linecap="butt"/><line x1="780.5" y1="873.8" x2="780.5" y2="878.3" stroke="#222" stroke-width="1.6" stroke-linecap="butt"/><line x1="784.5" y1="873.8" x2="784.5" y2="878.3" stroke="#222" stroke-width="1.6" stroke-linecap="butt"/><line x1="787.9" y1="873.8" x2="787.9" y2="878.3" stroke="#222" stroke-width="1.6" stroke-linecap="butt"/><line x1="791" y1="873.8" x2="791" y2="878.3" stroke="#222" stroke-width="1.6" stroke-linecap="butt"/><line x1="793.7" y1="873.8" x2="793.7" y2="882.3" stroke="#222" stroke-width="2.6" stroke-linecap="butt"/><line x1="811.6" y1="873.8" x2="811.6" y2="878.3" stroke="#222" stroke-width="1.6" stroke-linecap="butt"/><text x="502.1" y="911.6" font-size="12.5" fill="#2e2e2e" stroke="#2e2e2e" stroke-width="0.45">10</text><text x="515.7" y="900.8" font-size="12" fill="#2e2e2e" stroke="#2e2e2e" stroke-width="0.45">0</text><text x="550.6" y="911.6" font-size="12.5" fill="#2e2e2e" stroke="#2e2e2e" stroke-width="0.45">10</text><text x="564.2" y="900.8" font-size="12" fill="#2e2e2e" stroke="#2e2e2e" stroke-width="0.45">1</text><text x="610.2" y="911.6" font-size="12.5" fill="#2e2e2e" stroke="#2e2e2e" stroke-width="0.45">10</text><text x="623.8" y="900.8" font-size="12" fill="#2e2e2e" stroke="#2e2e2e" stroke-width="0.45">2</text><text x="669.9" y="911.6" font-size="12.5" fill="#2e2e2e" stroke="#2e2e2e" stroke-width="0.45">10</text><text x="683.5" y="900.8" font-size="12" fill="#2e2e2e" stroke="#2e2e2e" stroke-width="0.45">3</text><text x="729.5" y="911.6" font-size="12.5" fill="#2e2e2e" stroke="#2e2e2e" stroke-width="0.45">10</text><text x="743.1" y="900.8" font-size="12" fill="#2e2e2e" stroke="#2e2e2e" stroke-width="0.45">4</text><text x="789.1" y="911.6" font-size="12.5" fill="#2e2e2e" stroke="#2e2e2e" stroke-width="0.45">10</text><text x="802.7" y="900.8" font-size="12" fill="#2e2e2e" stroke="#2e2e2e" stroke-width="0.45">5</text><line x1="486.6" y1="873.8" x2="495.6" y2="873.8" stroke="#222" stroke-width="2.6" stroke-linecap="butt"/><line x1="491.1" y1="855.8" x2="495.6" y2="855.8" stroke="#222" stroke-width="1.6" stroke-linecap="butt"/><line x1="491.1" y1="845.2" x2="495.6" y2="845.2" stroke="#222" stroke-width="1.6" stroke-linecap="butt"/><line x1="491.1" y1="837.7" x2="495.6" y2="837.7" stroke="#222" stroke-width="1.6" stroke-linecap="butt"/><line x1="491.1" y1="831.9" x2="495.6" y2="831.9" stroke="#222" stroke-width="1.6" stroke-linecap="butt"/><line x1="491.1" y1="827.2" x2="495.6" y2="827.2" stroke="#222" stroke-width="1.6" stroke-linecap="butt"/><line x1="491.1" y1="823.2" x2="495.6" y2="823.2" stroke="#222" stroke-width="1.6" stroke-linecap="butt"/><line x1="491.1" y1="819.7" x2="495.6" y2="819.7" stroke="#222" stroke-width="1.6" stroke-linecap="butt"/><line x1="491.1" y1="816.6" x2="495.6" y2="816.6" stroke="#222" stroke-width="1.6" stroke-linecap="butt"/><line x1="486.6" y1="813.9" x2="495.6" y2="813.9" stroke="#222" stroke-width="2.6" stroke-linecap="butt"/><line x1="491.1" y1="795.9" x2="495.6" y2="795.9" stroke="#222" stroke-width="1.6" stroke-linecap="butt"/><line x1="491.1" y1="785.3" x2="495.6" y2="785.3" stroke="#222" stroke-width="1.6" stroke-linecap="butt"/><line x1="491.1" y1="777.8" x2="495.6" y2="777.8" stroke="#222" stroke-width="1.6" stroke-linecap="butt"/><line x1="491.1" y1="772" x2="495.6" y2="772" stroke="#222" stroke-width="1.6" stroke-linecap="butt"/><line x1="491.1" y1="767.3" x2="495.6" y2="767.3" stroke="#222" stroke-width="1.6" stroke-linecap="butt"/><line x1="491.1" y1="763.3" x2="495.6" y2="763.3" stroke="#222" stroke-width="1.6" stroke-linecap="butt"/><line x1="491.1" y1="759.8" x2="495.6" y2="759.8" stroke="#222" stroke-width="1.6" stroke-linecap="butt"/><line x1="491.1" y1="756.7" x2="495.6" y2="756.7" stroke="#222" stroke-width="1.6" stroke-linecap="butt"/><line x1="486.6" y1="754" x2="495.6" y2="754" stroke="#222" stroke-width="2.6" stroke-linecap="butt"/><line x1="491.1" y1="736" x2="495.6" y2="736" stroke="#222" stroke-width="1.6" stroke-linecap="butt"/><line x1="491.1" y1="725.4" x2="495.6" y2="725.4" stroke="#222" stroke-width="1.6" stroke-linecap="butt"/><line x1="491.1" y1="717.9" x2="495.6" y2="717.9" stroke="#222" stroke-width="1.6" stroke-linecap="butt"/><line x1="491.1" y1="712.1" x2="495.6" y2="712.1" stroke="#222" stroke-width="1.6" stroke-linecap="butt"/><line x1="491.1" y1="707.4" x2="495.6" y2="707.4" stroke="#222" stroke-width="1.6" stroke-linecap="butt"/><line x1="491.1" y1="703.4" x2="495.6" y2="703.4" stroke="#222" stroke-width="1.6" stroke-linecap="butt"/><line x1="491.1" y1="699.9" x2="495.6" y2="699.9" stroke="#222" stroke-width="1.6" stroke-linecap="butt"/><line x1="491.1" y1="696.8" x2="495.6" y2="696.8" stroke="#222" stroke-width="1.6" stroke-linecap="butt"/><line x1="486.6" y1="694.1" x2="495.6" y2="694.1" stroke="#222" stroke-width="2.6" stroke-linecap="butt"/><line x1="491.1" y1="676.1" x2="495.6" y2="676.1" stroke="#222" stroke-width="1.6" stroke-linecap="butt"/><line x1="491.1" y1="665.5" x2="495.6" y2="665.5" stroke="#222" stroke-width="1.6" stroke-linecap="butt"/><line x1="491.1" y1="658" x2="495.6" y2="658" stroke="#222" stroke-width="1.6" stroke-linecap="butt"/><line x1="491.1" y1="652.2" x2="495.6" y2="652.2" stroke="#222" stroke-width="1.6" stroke-linecap="butt"/><line x1="491.1" y1="647.5" x2="495.6" y2="647.5" stroke="#222" stroke-width="1.6" stroke-linecap="butt"/><line x1="491.1" y1="643.5" x2="495.6" y2="643.5" stroke="#222" stroke-width="1.6" stroke-linecap="butt"/><line x1="491.1" y1="640" x2="495.6" y2="640" stroke="#222" stroke-width="1.6" stroke-linecap="butt"/><line x1="491.1" y1="636.9" x2="495.6" y2="636.9" stroke="#222" stroke-width="1.6" stroke-linecap="butt"/><line x1="486.6" y1="634.2" x2="495.6" y2="634.2" stroke="#222" stroke-width="2.6" stroke-linecap="butt"/><line x1="491.1" y1="616.2" x2="495.6" y2="616.2" stroke="#222" stroke-width="1.6" stroke-linecap="butt"/><line x1="491.1" y1="605.6" x2="495.6" y2="605.6" stroke="#222" stroke-width="1.6" stroke-linecap="butt"/><line x1="491.1" y1="598.1" x2="495.6" y2="598.1" stroke="#222" stroke-width="1.6" stroke-linecap="butt"/><line x1="491.1" y1="592.3" x2="495.6" y2="592.3" stroke="#222" stroke-width="1.6" stroke-linecap="butt"/><line x1="491.1" y1="587.6" x2="495.6" y2="587.6" stroke="#222" stroke-width="1.6" stroke-linecap="butt"/><line x1="491.1" y1="583.6" x2="495.6" y2="583.6" stroke="#222" stroke-width="1.6" stroke-linecap="butt"/><line x1="491.1" y1="580.1" x2="495.6" y2="580.1" stroke="#222" stroke-width="1.6" stroke-linecap="butt"/><line x1="491.1" y1="577" x2="495.6" y2="577" stroke="#222" stroke-width="1.6" stroke-linecap="butt"/><line x1="486.6" y1="574.3" x2="495.6" y2="574.3" stroke="#222" stroke-width="2.6" stroke-linecap="butt"/><line x1="491.1" y1="556.3" x2="495.6" y2="556.3" stroke="#222" stroke-width="1.6" stroke-linecap="butt"/><text x="472.6" y="882.5" font-size="12.5" text-anchor="end" fill="#2e2e2e" stroke="#2e2e2e" stroke-width="0.45">10</text><text x="472.8" y="872.5" font-size="12" fill="#2e2e2e" stroke="#2e2e2e" stroke-width="0.45">0</text><text x="472.6" y="822.6" font-size="12.5" text-anchor="end" fill="#2e2e2e" stroke="#2e2e2e" stroke-width="0.45">10</text><text x="472.8" y="812.6" font-size="12" fill="#2e2e2e" stroke="#2e2e2e" stroke-width="0.45">1</text><text x="472.6" y="762.7" font-size="12.5" text-anchor="end" fill="#2e2e2e" stroke="#2e2e2e" stroke-width="0.45">10</text><text x="472.8" y="752.7" font-size="12" fill="#2e2e2e" stroke="#2e2e2e" stroke-width="0.45">2</text><text x="472.6" y="702.8" font-size="12.5" text-anchor="end" fill="#2e2e2e" stroke="#2e2e2e" stroke-width="0.45">10</text><text x="472.8" y="692.8" font-size="12" fill="#2e2e2e" stroke="#2e2e2e" stroke-width="0.45">3</text><text x="472.6" y="642.9" font-size="12.5" text-anchor="end" fill="#2e2e2e" stroke="#2e2e2e" stroke-width="0.45">10</text><text x="472.8" y="632.9" font-size="12" fill="#2e2e2e" stroke="#2e2e2e" stroke-width="0.45">4</text><text x="472.6" y="583" font-size="12.5" text-anchor="end" fill="#2e2e2e" stroke="#2e2e2e" stroke-width="0.45">10</text><text x="472.8" y="573" font-size="12" fill="#2e2e2e" stroke="#2e2e2e" stroke-width="0.45">5</text><rect x="495.6" y="549.6" width="325.5" height="324.2" fill="none" stroke="#6c6c6c" stroke-width="2"/><line x1="495.6" y1="548.6" x2="495.6" y2="874.8" stroke="#262626" stroke-width="2.2" stroke-linecap="butt"/><line x1="494.6" y1="873.8" x2="822.1" y2="873.8" stroke="#262626" stroke-width="2.2" stroke-linecap="butt"/><line x1="899.8" y1="874" x2="899.8" y2="882.5" stroke="#222" stroke-width="2.6" stroke-linecap="butt"/><line x1="917.9" y1="874" x2="917.9" y2="878.5" stroke="#222" stroke-width="1.6" stroke-linecap="butt"/><line x1="928.5" y1="874" x2="928.5" y2="878.5" stroke="#222" stroke-width="1.6" stroke-linecap="butt"/><line x1="936" y1="874" x2="936" y2="878.5" stroke="#222" stroke-width="1.6" stroke-linecap="butt"/><line x1="941.9" y1="874" x2="941.9" y2="878.5" stroke="#222" stroke-width="1.6" stroke-linecap="butt"/><line x1="946.6" y1="874" x2="946.6" y2="878.5" stroke="#222" stroke-width="1.6" stroke-linecap="butt"/><line x1="950.7" y1="874" x2="950.7" y2="878.5" stroke="#222" stroke-width="1.6" stroke-linecap="butt"/><line x1="954.2" y1="874" x2="954.2" y2="878.5" stroke="#222" stroke-width="1.6" stroke-linecap="butt"/><line x1="957.2" y1="874" x2="957.2" y2="878.5" stroke="#222" stroke-width="1.6" stroke-linecap="butt"/><line x1="960" y1="874" x2="960" y2="882.5" stroke="#222" stroke-width="2.6" stroke-linecap="butt"/><line x1="978.1" y1="874" x2="978.1" y2="878.5" stroke="#222" stroke-width="1.6" stroke-linecap="butt"/><line x1="988.7" y1="874" x2="988.7" y2="878.5" stroke="#222" stroke-width="1.6" stroke-linecap="butt"/><line x1="996.2" y1="874" x2="996.2" y2="878.5" stroke="#222" stroke-width="1.6" stroke-linecap="butt"/><line x1="1002.1" y1="874" x2="1002.1" y2="878.5" stroke="#222" stroke-width="1.6" stroke-linecap="butt"/><line x1="1006.8" y1="874" x2="1006.8" y2="878.5" stroke="#222" stroke-width="1.6" stroke-linecap="butt"/><line x1="1010.9" y1="874" x2="1010.9" y2="878.5" stroke="#222" stroke-width="1.6" stroke-linecap="butt"/><line x1="1014.4" y1="874" x2="1014.4" y2="878.5" stroke="#222" stroke-width="1.6" stroke-linecap="butt"/><line x1="1017.4" y1="874" x2="1017.4" y2="878.5" stroke="#222" stroke-width="1.6" stroke-linecap="butt"/><line x1="1020.2" y1="874" x2="1020.2" y2="882.5" stroke="#222" stroke-width="2.6" stroke-linecap="butt"/><line x1="1038.3" y1="874" x2="1038.3" y2="878.5" stroke="#222" stroke-width="1.6" stroke-linecap="butt"/><line x1="1048.9" y1="874" x2="1048.9" y2="878.5" stroke="#222" stroke-width="1.6" stroke-linecap="butt"/><line x1="1056.4" y1="874" x2="1056.4" y2="878.5" stroke="#222" stroke-width="1.6" stroke-linecap="butt"/><line x1="1062.3" y1="874" x2="1062.3" y2="878.5" stroke="#222" stroke-width="1.6" stroke-linecap="butt"/><line x1="1067" y1="874" x2="1067" y2="878.5" stroke="#222" stroke-width="1.6" stroke-linecap="butt"/><line x1="1071.1" y1="874" x2="1071.1" y2="878.5" stroke="#222" stroke-width="1.6" stroke-linecap="butt"/><line x1="1074.6" y1="874" x2="1074.6" y2="878.5" stroke="#222" stroke-width="1.6" stroke-linecap="butt"/><line x1="1077.6" y1="874" x2="1077.6" y2="878.5" stroke="#222" stroke-width="1.6" stroke-linecap="butt"/><line x1="1080.4" y1="874" x2="1080.4" y2="882.5" stroke="#222" stroke-width="2.6" stroke-linecap="butt"/><line x1="1098.5" y1="874" x2="1098.5" y2="878.5" stroke="#222" stroke-width="1.6" stroke-linecap="butt"/><line x1="1109.1" y1="874" x2="1109.1" y2="878.5" stroke="#222" stroke-width="1.6" stroke-linecap="butt"/><line x1="1116.6" y1="874" x2="1116.6" y2="878.5" stroke="#222" stroke-width="1.6" stroke-linecap="butt"/><line x1="1122.5" y1="874" x2="1122.5" y2="878.5" stroke="#222" stroke-width="1.6" stroke-linecap="butt"/><line x1="1127.2" y1="874" x2="1127.2" y2="878.5" stroke="#222" stroke-width="1.6" stroke-linecap="butt"/><line x1="1131.3" y1="874" x2="1131.3" y2="878.5" stroke="#222" stroke-width="1.6" stroke-linecap="butt"/><line x1="1134.8" y1="874" x2="1134.8" y2="878.5" stroke="#222" stroke-width="1.6" stroke-linecap="butt"/><line x1="1137.8" y1="874" x2="1137.8" y2="878.5" stroke="#222" stroke-width="1.6" stroke-linecap="butt"/><line x1="1140.6" y1="874" x2="1140.6" y2="882.5" stroke="#222" stroke-width="2.6" stroke-linecap="butt"/><line x1="1158.7" y1="874" x2="1158.7" y2="878.5" stroke="#222" stroke-width="1.6" stroke-linecap="butt"/><line x1="1169.3" y1="874" x2="1169.3" y2="878.5" stroke="#222" stroke-width="1.6" stroke-linecap="butt"/><line x1="1176.8" y1="874" x2="1176.8" y2="878.5" stroke="#222" stroke-width="1.6" stroke-linecap="butt"/><line x1="1182.7" y1="874" x2="1182.7" y2="878.5" stroke="#222" stroke-width="1.6" stroke-linecap="butt"/><line x1="1187.4" y1="874" x2="1187.4" y2="878.5" stroke="#222" stroke-width="1.6" stroke-linecap="butt"/><line x1="1191.5" y1="874" x2="1191.5" y2="878.5" stroke="#222" stroke-width="1.6" stroke-linecap="butt"/><line x1="1195" y1="874" x2="1195" y2="878.5" stroke="#222" stroke-width="1.6" stroke-linecap="butt"/><line x1="1198" y1="874" x2="1198" y2="878.5" stroke="#222" stroke-width="1.6" stroke-linecap="butt"/><line x1="1200.8" y1="874" x2="1200.8" y2="882.5" stroke="#222" stroke-width="2.6" stroke-linecap="butt"/><line x1="1218.9" y1="874" x2="1218.9" y2="878.5" stroke="#222" stroke-width="1.6" stroke-linecap="butt"/><text x="906.3" y="911.8" font-size="12.5" fill="#2e2e2e" stroke="#2e2e2e" stroke-width="0.45">10</text><text x="919.9" y="901" font-size="12" fill="#2e2e2e" stroke="#2e2e2e" stroke-width="0.45">0</text><text x="955.4" y="911.8" font-size="12.5" fill="#2e2e2e" stroke="#2e2e2e" stroke-width="0.45">10</text><text x="969" y="901" font-size="12" fill="#2e2e2e" stroke="#2e2e2e" stroke-width="0.45">1</text><text x="1015.6" y="911.8" font-size="12.5" fill="#2e2e2e" stroke="#2e2e2e" stroke-width="0.45">10</text><text x="1029.2" y="901" font-size="12" fill="#2e2e2e" stroke="#2e2e2e" stroke-width="0.45">2</text><text x="1075.8" y="911.8" font-size="12.5" fill="#2e2e2e" stroke="#2e2e2e" stroke-width="0.45">10</text><text x="1089.4" y="901" font-size="12" fill="#2e2e2e" stroke="#2e2e2e" stroke-width="0.45">3</text><text x="1136" y="911.8" font-size="12.5" fill="#2e2e2e" stroke="#2e2e2e" stroke-width="0.45">10</text><text x="1149.6" y="901" font-size="12" fill="#2e2e2e" stroke="#2e2e2e" stroke-width="0.45">4</text><text x="1196.2" y="911.8" font-size="12.5" fill="#2e2e2e" stroke="#2e2e2e" stroke-width="0.45">10</text><text x="1209.8" y="901" font-size="12" fill="#2e2e2e" stroke="#2e2e2e" stroke-width="0.45">5</text><line x1="890.8" y1="874" x2="899.8" y2="874" stroke="#222" stroke-width="2.6" stroke-linecap="butt"/><line x1="895.3" y1="855.7" x2="899.8" y2="855.7" stroke="#222" stroke-width="1.6" stroke-linecap="butt"/><line x1="895.3" y1="845" x2="899.8" y2="845" stroke="#222" stroke-width="1.6" stroke-linecap="butt"/><line x1="895.3" y1="837.4" x2="899.8" y2="837.4" stroke="#222" stroke-width="1.6" stroke-linecap="butt"/><line x1="895.3" y1="831.5" x2="899.8" y2="831.5" stroke="#222" stroke-width="1.6" stroke-linecap="butt"/><line x1="895.3" y1="826.7" x2="899.8" y2="826.7" stroke="#222" stroke-width="1.6" stroke-linecap="butt"/><line x1="895.3" y1="822.6" x2="899.8" y2="822.6" stroke="#222" stroke-width="1.6" stroke-linecap="butt"/><line x1="895.3" y1="819.1" x2="899.8" y2="819.1" stroke="#222" stroke-width="1.6" stroke-linecap="butt"/><line x1="895.3" y1="816" x2="899.8" y2="816" stroke="#222" stroke-width="1.6" stroke-linecap="butt"/><line x1="890.8" y1="813.2" x2="899.8" y2="813.2" stroke="#222" stroke-width="2.6" stroke-linecap="butt"/><line x1="895.3" y1="794.9" x2="899.8" y2="794.9" stroke="#222" stroke-width="1.6" stroke-linecap="butt"/><line x1="895.3" y1="784.2" x2="899.8" y2="784.2" stroke="#222" stroke-width="1.6" stroke-linecap="butt"/><line x1="895.3" y1="776.6" x2="899.8" y2="776.6" stroke="#222" stroke-width="1.6" stroke-linecap="butt"/><line x1="895.3" y1="770.7" x2="899.8" y2="770.7" stroke="#222" stroke-width="1.6" stroke-linecap="butt"/><line x1="895.3" y1="765.9" x2="899.8" y2="765.9" stroke="#222" stroke-width="1.6" stroke-linecap="butt"/><line x1="895.3" y1="761.8" x2="899.8" y2="761.8" stroke="#222" stroke-width="1.6" stroke-linecap="butt"/><line x1="895.3" y1="758.3" x2="899.8" y2="758.3" stroke="#222" stroke-width="1.6" stroke-linecap="butt"/><line x1="895.3" y1="755.2" x2="899.8" y2="755.2" stroke="#222" stroke-width="1.6" stroke-linecap="butt"/><line x1="890.8" y1="752.4" x2="899.8" y2="752.4" stroke="#222" stroke-width="2.6" stroke-linecap="butt"/><line x1="895.3" y1="734.1" x2="899.8" y2="734.1" stroke="#222" stroke-width="1.6" stroke-linecap="butt"/><line x1="895.3" y1="723.4" x2="899.8" y2="723.4" stroke="#222" stroke-width="1.6" stroke-linecap="butt"/><line x1="895.3" y1="715.8" x2="899.8" y2="715.8" stroke="#222" stroke-width="1.6" stroke-linecap="butt"/><line x1="895.3" y1="709.9" x2="899.8" y2="709.9" stroke="#222" stroke-width="1.6" stroke-linecap="butt"/><line x1="895.3" y1="705.1" x2="899.8" y2="705.1" stroke="#222" stroke-width="1.6" stroke-linecap="butt"/><line x1="895.3" y1="701" x2="899.8" y2="701" stroke="#222" stroke-width="1.6" stroke-linecap="butt"/><line x1="895.3" y1="697.5" x2="899.8" y2="697.5" stroke="#222" stroke-width="1.6" stroke-linecap="butt"/><line x1="895.3" y1="694.4" x2="899.8" y2="694.4" stroke="#222" stroke-width="1.6" stroke-linecap="butt"/><line x1="890.8" y1="691.6" x2="899.8" y2="691.6" stroke="#222" stroke-width="2.6" stroke-linecap="butt"/><line x1="895.3" y1="673.3" x2="899.8" y2="673.3" stroke="#222" stroke-width="1.6" stroke-linecap="butt"/><line x1="895.3" y1="662.6" x2="899.8" y2="662.6" stroke="#222" stroke-width="1.6" stroke-linecap="butt"/><line x1="895.3" y1="655" x2="899.8" y2="655" stroke="#222" stroke-width="1.6" stroke-linecap="butt"/><line x1="895.3" y1="649.1" x2="899.8" y2="649.1" stroke="#222" stroke-width="1.6" stroke-linecap="butt"/><line x1="895.3" y1="644.3" x2="899.8" y2="644.3" stroke="#222" stroke-width="1.6" stroke-linecap="butt"/><line x1="895.3" y1="640.2" x2="899.8" y2="640.2" stroke="#222" stroke-width="1.6" stroke-linecap="butt"/><line x1="895.3" y1="636.7" x2="899.8" y2="636.7" stroke="#222" stroke-width="1.6" stroke-linecap="butt"/><line x1="895.3" y1="633.6" x2="899.8" y2="633.6" stroke="#222" stroke-width="1.6" stroke-linecap="butt"/><line x1="890.8" y1="630.8" x2="899.8" y2="630.8" stroke="#222" stroke-width="2.6" stroke-linecap="butt"/><line x1="895.3" y1="612.5" x2="899.8" y2="612.5" stroke="#222" stroke-width="1.6" stroke-linecap="butt"/><line x1="895.3" y1="601.8" x2="899.8" y2="601.8" stroke="#222" stroke-width="1.6" stroke-linecap="butt"/><line x1="895.3" y1="594.2" x2="899.8" y2="594.2" stroke="#222" stroke-width="1.6" stroke-linecap="butt"/><line x1="895.3" y1="588.3" x2="899.8" y2="588.3" stroke="#222" stroke-width="1.6" stroke-linecap="butt"/><line x1="895.3" y1="583.5" x2="899.8" y2="583.5" stroke="#222" stroke-width="1.6" stroke-linecap="butt"/><line x1="895.3" y1="579.4" x2="899.8" y2="579.4" stroke="#222" stroke-width="1.6" stroke-linecap="butt"/><line x1="895.3" y1="575.9" x2="899.8" y2="575.9" stroke="#222" stroke-width="1.6" stroke-linecap="butt"/><line x1="895.3" y1="572.8" x2="899.8" y2="572.8" stroke="#222" stroke-width="1.6" stroke-linecap="butt"/><line x1="890.8" y1="570" x2="899.8" y2="570" stroke="#222" stroke-width="2.6" stroke-linecap="butt"/><line x1="895.3" y1="551.7" x2="899.8" y2="551.7" stroke="#222" stroke-width="1.6" stroke-linecap="butt"/><text x="876.8" y="882.7" font-size="12.5" text-anchor="end" fill="#2e2e2e" stroke="#2e2e2e" stroke-width="0.45">10</text><text x="877" y="872.7" font-size="12" fill="#2e2e2e" stroke="#2e2e2e" stroke-width="0.45">0</text><text x="876.8" y="821.9" font-size="12.5" text-anchor="end" fill="#2e2e2e" stroke="#2e2e2e" stroke-width="0.45">10</text><text x="877" y="811.9" font-size="12" fill="#2e2e2e" stroke="#2e2e2e" stroke-width="0.45">1</text><text x="876.8" y="761.1" font-size="12.5" text-anchor="end" fill="#2e2e2e" stroke="#2e2e2e" stroke-width="0.45">10</text><text x="877" y="751.1" font-size="12" fill="#2e2e2e" stroke="#2e2e2e" stroke-width="0.45">2</text><text x="876.8" y="700.3" font-size="12.5" text-anchor="end" fill="#2e2e2e" stroke="#2e2e2e" stroke-width="0.45">10</text><text x="877" y="690.3" font-size="12" fill="#2e2e2e" stroke="#2e2e2e" stroke-width="0.45">3</text><text x="876.8" y="639.5" font-size="12.5" text-anchor="end" fill="#2e2e2e" stroke="#2e2e2e" stroke-width="0.45">10</text><text x="877" y="629.5" font-size="12" fill="#2e2e2e" stroke="#2e2e2e" stroke-width="0.45">4</text><text x="876.8" y="578.7" font-size="12.5" text-anchor="end" fill="#2e2e2e" stroke="#2e2e2e" stroke-width="0.45">10</text><text x="877" y="568.7" font-size="12" fill="#2e2e2e" stroke="#2e2e2e" stroke-width="0.45">5</text><rect x="899.8" y="545.5" width="329" height="328.5" fill="none" stroke="#6c6c6c" stroke-width="2"/><line x1="899.8" y1="544.5" x2="899.8" y2="875" stroke="#262626" stroke-width="2.2" stroke-linecap="butt"/><line x1="898.8" y1="874" x2="1229.8" y2="874" stroke="#262626" stroke-width="2.2" stroke-linecap="butt"/><line x1="88.4" y1="1391" x2="88.4" y2="1399.5" stroke="#222" stroke-width="2.6" stroke-linecap="butt"/><line x1="107.1" y1="1391" x2="107.1" y2="1395.5" stroke="#222" stroke-width="1.6" stroke-linecap="butt"/><line x1="118.1" y1="1391" x2="118.1" y2="1395.5" stroke="#222" stroke-width="1.6" stroke-linecap="butt"/><line x1="125.9" y1="1391" x2="125.9" y2="1395.5" stroke="#222" stroke-width="1.6" stroke-linecap="butt"/><line x1="131.9" y1="1391" x2="131.9" y2="1395.5" stroke="#222" stroke-width="1.6" stroke-linecap="butt"/><line x1="136.8" y1="1391" x2="136.8" y2="1395.5" stroke="#222" stroke-width="1.6" stroke-linecap="butt"/><line x1="141" y1="1391" x2="141" y2="1395.5" stroke="#222" stroke-width="1.6" stroke-linecap="butt"/><line x1="144.6" y1="1391" x2="144.6" y2="1395.5" stroke="#222" stroke-width="1.6" stroke-linecap="butt"/><line x1="147.8" y1="1391" x2="147.8" y2="1395.5" stroke="#222" stroke-width="1.6" stroke-linecap="butt"/><line x1="150.6" y1="1391" x2="150.6" y2="1399.5" stroke="#222" stroke-width="2.6" stroke-linecap="butt"/><line x1="169.4" y1="1391" x2="169.4" y2="1395.5" stroke="#222" stroke-width="1.6" stroke-linecap="butt"/><line x1="180.3" y1="1391" x2="180.3" y2="1395.5" stroke="#222" stroke-width="1.6" stroke-linecap="butt"/><line x1="188.1" y1="1391" x2="188.1" y2="1395.5" stroke="#222" stroke-width="1.6" stroke-linecap="butt"/><line x1="194.1" y1="1391" x2="194.1" y2="1395.5" stroke="#222" stroke-width="1.6" stroke-linecap="butt"/><line x1="199" y1="1391" x2="199" y2="1395.5" stroke="#222" stroke-width="1.6" stroke-linecap="butt"/><line x1="203.2" y1="1391" x2="203.2" y2="1395.5" stroke="#222" stroke-width="1.6" stroke-linecap="butt"/><line x1="206.8" y1="1391" x2="206.8" y2="1395.5" stroke="#222" stroke-width="1.6" stroke-linecap="butt"/><line x1="210" y1="1391" x2="210" y2="1395.5" stroke="#222" stroke-width="1.6" stroke-linecap="butt"/><line x1="212.8" y1="1391" x2="212.8" y2="1399.5" stroke="#222" stroke-width="2.6" stroke-linecap="butt"/><line x1="231.6" y1="1391" x2="231.6" y2="1395.5" stroke="#222" stroke-width="1.6" stroke-linecap="butt"/><line x1="242.5" y1="1391" x2="242.5" y2="1395.5" stroke="#222" stroke-width="1.6" stroke-linecap="butt"/><line x1="250.3" y1="1391" x2="250.3" y2="1395.5" stroke="#222" stroke-width="1.6" stroke-linecap="butt"/><line x1="256.3" y1="1391" x2="256.3" y2="1395.5" stroke="#222" stroke-width="1.6" stroke-linecap="butt"/><line x1="261.3" y1="1391" x2="261.3" y2="1395.5" stroke="#222" stroke-width="1.6" stroke-linecap="butt"/><line x1="265.4" y1="1391" x2="265.4" y2="1395.5" stroke="#222" stroke-width="1.6" stroke-linecap="butt"/><line x1="269" y1="1391" x2="269" y2="1395.5" stroke="#222" stroke-width="1.6" stroke-linecap="butt"/><line x1="272.2" y1="1391" x2="272.2" y2="1395.5" stroke="#222" stroke-width="1.6" stroke-linecap="butt"/><line x1="275.1" y1="1391" x2="275.1" y2="1399.5" stroke="#222" stroke-width="2.6" stroke-linecap="butt"/><line x1="293.8" y1="1391" x2="293.8" y2="1395.5" stroke="#222" stroke-width="1.6" stroke-linecap="butt"/><line x1="304.7" y1="1391" x2="304.7" y2="1395.5" stroke="#222" stroke-width="1.6" stroke-linecap="butt"/><line x1="312.5" y1="1391" x2="312.5" y2="1395.5" stroke="#222" stroke-width="1.6" stroke-linecap="butt"/><line x1="318.5" y1="1391" x2="318.5" y2="1395.5" stroke="#222" stroke-width="1.6" stroke-linecap="butt"/><line x1="323.5" y1="1391" x2="323.5" y2="1395.5" stroke="#222" stroke-width="1.6" stroke-linecap="butt"/><line x1="327.6" y1="1391" x2="327.6" y2="1395.5" stroke="#222" stroke-width="1.6" stroke-linecap="butt"/><line x1="331.3" y1="1391" x2="331.3" y2="1395.5" stroke="#222" stroke-width="1.6" stroke-linecap="butt"/><line x1="334.4" y1="1391" x2="334.4" y2="1395.5" stroke="#222" stroke-width="1.6" stroke-linecap="butt"/><line x1="337.3" y1="1391" x2="337.3" y2="1399.5" stroke="#222" stroke-width="2.6" stroke-linecap="butt"/><line x1="356" y1="1391" x2="356" y2="1395.5" stroke="#222" stroke-width="1.6" stroke-linecap="butt"/><line x1="367" y1="1391" x2="367" y2="1395.5" stroke="#222" stroke-width="1.6" stroke-linecap="butt"/><line x1="374.7" y1="1391" x2="374.7" y2="1395.5" stroke="#222" stroke-width="1.6" stroke-linecap="butt"/><line x1="380.8" y1="1391" x2="380.8" y2="1395.5" stroke="#222" stroke-width="1.6" stroke-linecap="butt"/><line x1="385.7" y1="1391" x2="385.7" y2="1395.5" stroke="#222" stroke-width="1.6" stroke-linecap="butt"/><line x1="389.9" y1="1391" x2="389.9" y2="1395.5" stroke="#222" stroke-width="1.6" stroke-linecap="butt"/><line x1="393.5" y1="1391" x2="393.5" y2="1395.5" stroke="#222" stroke-width="1.6" stroke-linecap="butt"/><line x1="396.7" y1="1391" x2="396.7" y2="1395.5" stroke="#222" stroke-width="1.6" stroke-linecap="butt"/><line x1="399.5" y1="1391" x2="399.5" y2="1399.5" stroke="#222" stroke-width="2.6" stroke-linecap="butt"/><line x1="418.2" y1="1391" x2="418.2" y2="1395.5" stroke="#222" stroke-width="1.6" stroke-linecap="butt"/><text x="96.4" y="1431" font-size="12.5" fill="#2e2e2e" stroke="#2e2e2e" stroke-width="0.45">10</text><text x="110" y="1420.3" font-size="12" fill="#2e2e2e" stroke="#2e2e2e" stroke-width="0.45">0</text><text x="146" y="1431" font-size="12.5" fill="#2e2e2e" stroke="#2e2e2e" stroke-width="0.45">10</text><text x="159.6" y="1420.3" font-size="12" fill="#2e2e2e" stroke="#2e2e2e" stroke-width="0.45">1</text><text x="208.2" y="1431" font-size="12.5" fill="#2e2e2e" stroke="#2e2e2e" stroke-width="0.45">10</text><text x="221.8" y="1420.3" font-size="12" fill="#2e2e2e" stroke="#2e2e2e" stroke-width="0.45">2</text><text x="270.5" y="1431" font-size="12.5" fill="#2e2e2e" stroke="#2e2e2e" stroke-width="0.45">10</text><text x="284.1" y="1420.3" font-size="12" fill="#2e2e2e" stroke="#2e2e2e" stroke-width="0.45">3</text><text x="332.7" y="1431" font-size="12.5" fill="#2e2e2e" stroke="#2e2e2e" stroke-width="0.45">10</text><text x="346.3" y="1420.3" font-size="12" fill="#2e2e2e" stroke="#2e2e2e" stroke-width="0.45">4</text><text x="394.9" y="1431" font-size="12.5" fill="#2e2e2e" stroke="#2e2e2e" stroke-width="0.45">10</text><text x="408.5" y="1420.3" font-size="12" fill="#2e2e2e" stroke="#2e2e2e" stroke-width="0.45">5</text><line x1="78" y1="1390.2" x2="88" y2="1390.2" stroke="#222" stroke-width="2.6" stroke-linecap="butt"/><text x="71.6" y="1390.2" font-size="11" text-anchor="end" fill="#2e2e2e" stroke="#2e2e2e" stroke-width="0.45">0</text><line x1="83" y1="1370.1" x2="88" y2="1370.1" stroke="#222" stroke-width="1.8" stroke-linecap="butt"/><line x1="83" y1="1349.9" x2="88" y2="1349.9" stroke="#222" stroke-width="1.8" stroke-linecap="butt"/><line x1="83" y1="1329.8" x2="88" y2="1329.8" stroke="#222" stroke-width="1.8" stroke-linecap="butt"/><line x1="78" y1="1309.7" x2="88" y2="1309.7" stroke="#222" stroke-width="2.6" stroke-linecap="butt"/><text x="72.2" y="1318.9" font-size="11" text-anchor="end" fill="#2e2e2e" stroke="#2e2e2e" stroke-width="0.45" textLength="32.5" lengthAdjust="spacingAndGlyphs">100K</text><line x1="83" y1="1289.5" x2="88" y2="1289.5" stroke="#222" stroke-width="1.8" stroke-linecap="butt"/><line x1="83" y1="1269.4" x2="88" y2="1269.4" stroke="#222" stroke-width="1.8" stroke-linecap="butt"/><line x1="83" y1="1249.2" x2="88" y2="1249.2" stroke="#222" stroke-width="1.8" stroke-linecap="butt"/><line x1="78" y1="1229.1" x2="88" y2="1229.1" stroke="#222" stroke-width="2.6" stroke-linecap="butt"/><text x="72.2" y="1238.3" font-size="11" text-anchor="end" fill="#2e2e2e" stroke="#2e2e2e" stroke-width="0.45" textLength="32.5" lengthAdjust="spacingAndGlyphs">200K</text><line x1="83" y1="1209" x2="88" y2="1209" stroke="#222" stroke-width="1.8" stroke-linecap="butt"/><line x1="83" y1="1188.8" x2="88" y2="1188.8" stroke="#222" stroke-width="1.8" stroke-linecap="butt"/><line x1="83" y1="1168.7" x2="88" y2="1168.7" stroke="#222" stroke-width="1.8" stroke-linecap="butt"/><line x1="78" y1="1148.6" x2="88" y2="1148.6" stroke="#222" stroke-width="2.6" stroke-linecap="butt"/><text x="72.2" y="1157.8" font-size="11" text-anchor="end" fill="#2e2e2e" stroke="#2e2e2e" stroke-width="0.45" textLength="32.5" lengthAdjust="spacingAndGlyphs">300K</text><line x1="83" y1="1128.4" x2="88" y2="1128.4" stroke="#222" stroke-width="1.8" stroke-linecap="butt"/><line x1="83" y1="1108.3" x2="88" y2="1108.3" stroke="#222" stroke-width="1.8" stroke-linecap="butt"/><line x1="83" y1="1088.1" x2="88" y2="1088.1" stroke="#222" stroke-width="1.8" stroke-linecap="butt"/><line x1="78" y1="1068" x2="88" y2="1068" stroke="#222" stroke-width="2.6" stroke-linecap="butt"/><text x="72.2" y="1077.2" font-size="11" text-anchor="end" fill="#2e2e2e" stroke="#2e2e2e" stroke-width="0.45" textLength="32.5" lengthAdjust="spacingAndGlyphs">400K</text><rect x="88" y="1051.5" width="340.3" height="339.5" fill="none" stroke="#6c6c6c" stroke-width="2"/><line x1="88" y1="1050.5" x2="88" y2="1392" stroke="#262626" stroke-width="2.2" stroke-linecap="butt"/><line x1="87" y1="1391" x2="429.3" y2="1391" stroke="#262626" stroke-width="2.2" stroke-linecap="butt"/><line x1="492.2" y1="1391.3" x2="492.2" y2="1399.8" stroke="#222" stroke-width="2.6" stroke-linecap="butt"/><line x1="510.5" y1="1391.3" x2="510.5" y2="1395.8" stroke="#222" stroke-width="1.6" stroke-linecap="butt"/><line x1="521.2" y1="1391.3" x2="521.2" y2="1395.8" stroke="#222" stroke-width="1.6" stroke-linecap="butt"/><line x1="528.7" y1="1391.3" x2="528.7" y2="1395.8" stroke="#222" stroke-width="1.6" stroke-linecap="butt"/><line x1="534.6" y1="1391.3" x2="534.6" y2="1395.8" stroke="#222" stroke-width="1.6" stroke-linecap="butt"/><line x1="539.4" y1="1391.3" x2="539.4" y2="1395.8" stroke="#222" stroke-width="1.6" stroke-linecap="butt"/><line x1="543.5" y1="1391.3" x2="543.5" y2="1395.8" stroke="#222" stroke-width="1.6" stroke-linecap="butt"/><line x1="547" y1="1391.3" x2="547" y2="1395.8" stroke="#222" stroke-width="1.6" stroke-linecap="butt"/><line x1="550.1" y1="1391.3" x2="550.1" y2="1395.8" stroke="#222" stroke-width="1.6" stroke-linecap="butt"/><line x1="552.9" y1="1391.3" x2="552.9" y2="1399.8" stroke="#222" stroke-width="2.6" stroke-linecap="butt"/><line x1="571.2" y1="1391.3" x2="571.2" y2="1395.8" stroke="#222" stroke-width="1.6" stroke-linecap="butt"/><line x1="581.9" y1="1391.3" x2="581.9" y2="1395.8" stroke="#222" stroke-width="1.6" stroke-linecap="butt"/><line x1="589.4" y1="1391.3" x2="589.4" y2="1395.8" stroke="#222" stroke-width="1.6" stroke-linecap="butt"/><line x1="595.3" y1="1391.3" x2="595.3" y2="1395.8" stroke="#222" stroke-width="1.6" stroke-linecap="butt"/><line x1="600.1" y1="1391.3" x2="600.1" y2="1395.8" stroke="#222" stroke-width="1.6" stroke-linecap="butt"/><line x1="604.2" y1="1391.3" x2="604.2" y2="1395.8" stroke="#222" stroke-width="1.6" stroke-linecap="butt"/><line x1="607.7" y1="1391.3" x2="607.7" y2="1395.8" stroke="#222" stroke-width="1.6" stroke-linecap="butt"/><line x1="610.8" y1="1391.3" x2="610.8" y2="1395.8" stroke="#222" stroke-width="1.6" stroke-linecap="butt"/><line x1="613.6" y1="1391.3" x2="613.6" y2="1399.8" stroke="#222" stroke-width="2.6" stroke-linecap="butt"/><line x1="631.9" y1="1391.3" x2="631.9" y2="1395.8" stroke="#222" stroke-width="1.6" stroke-linecap="butt"/><line x1="642.6" y1="1391.3" x2="642.6" y2="1395.8" stroke="#222" stroke-width="1.6" stroke-linecap="butt"/><line x1="650.1" y1="1391.3" x2="650.1" y2="1395.8" stroke="#222" stroke-width="1.6" stroke-linecap="butt"/><line x1="656" y1="1391.3" x2="656" y2="1395.8" stroke="#222" stroke-width="1.6" stroke-linecap="butt"/><line x1="660.8" y1="1391.3" x2="660.8" y2="1395.8" stroke="#222" stroke-width="1.6" stroke-linecap="butt"/><line x1="664.9" y1="1391.3" x2="664.9" y2="1395.8" stroke="#222" stroke-width="1.6" stroke-linecap="butt"/><line x1="668.4" y1="1391.3" x2="668.4" y2="1395.8" stroke="#222" stroke-width="1.6" stroke-linecap="butt"/><line x1="671.5" y1="1391.3" x2="671.5" y2="1395.8" stroke="#222" stroke-width="1.6" stroke-linecap="butt"/><line x1="674.3" y1="1391.3" x2="674.3" y2="1399.8" stroke="#222" stroke-width="2.6" stroke-linecap="butt"/><line x1="692.6" y1="1391.3" x2="692.6" y2="1395.8" stroke="#222" stroke-width="1.6" stroke-linecap="butt"/><line x1="703.3" y1="1391.3" x2="703.3" y2="1395.8" stroke="#222" stroke-width="1.6" stroke-linecap="butt"/><line x1="710.8" y1="1391.3" x2="710.8" y2="1395.8" stroke="#222" stroke-width="1.6" stroke-linecap="butt"/><line x1="716.7" y1="1391.3" x2="716.7" y2="1395.8" stroke="#222" stroke-width="1.6" stroke-linecap="butt"/><line x1="721.5" y1="1391.3" x2="721.5" y2="1395.8" stroke="#222" stroke-width="1.6" stroke-linecap="butt"/><line x1="725.6" y1="1391.3" x2="725.6" y2="1395.8" stroke="#222" stroke-width="1.6" stroke-linecap="butt"/><line x1="729.1" y1="1391.3" x2="729.1" y2="1395.8" stroke="#222" stroke-width="1.6" stroke-linecap="butt"/><line x1="732.2" y1="1391.3" x2="732.2" y2="1395.8" stroke="#222" stroke-width="1.6" stroke-linecap="butt"/><line x1="735" y1="1391.3" x2="735" y2="1399.8" stroke="#222" stroke-width="2.6" stroke-linecap="butt"/><line x1="753.3" y1="1391.3" x2="753.3" y2="1395.8" stroke="#222" stroke-width="1.6" stroke-linecap="butt"/><line x1="764" y1="1391.3" x2="764" y2="1395.8" stroke="#222" stroke-width="1.6" stroke-linecap="butt"/><line x1="771.5" y1="1391.3" x2="771.5" y2="1395.8" stroke="#222" stroke-width="1.6" stroke-linecap="butt"/><line x1="777.4" y1="1391.3" x2="777.4" y2="1395.8" stroke="#222" stroke-width="1.6" stroke-linecap="butt"/><line x1="782.2" y1="1391.3" x2="782.2" y2="1395.8" stroke="#222" stroke-width="1.6" stroke-linecap="butt"/><line x1="786.3" y1="1391.3" x2="786.3" y2="1395.8" stroke="#222" stroke-width="1.6" stroke-linecap="butt"/><line x1="789.8" y1="1391.3" x2="789.8" y2="1395.8" stroke="#222" stroke-width="1.6" stroke-linecap="butt"/><line x1="792.9" y1="1391.3" x2="792.9" y2="1395.8" stroke="#222" stroke-width="1.6" stroke-linecap="butt"/><line x1="795.7" y1="1391.3" x2="795.7" y2="1399.8" stroke="#222" stroke-width="2.6" stroke-linecap="butt"/><line x1="814" y1="1391.3" x2="814" y2="1395.8" stroke="#222" stroke-width="1.6" stroke-linecap="butt"/><text x="500.2" y="1431.3" font-size="12.5" fill="#2e2e2e" stroke="#2e2e2e" stroke-width="0.45">10</text><text x="513.8" y="1420.6" font-size="12" fill="#2e2e2e" stroke="#2e2e2e" stroke-width="0.45">0</text><text x="548.3" y="1431.3" font-size="12.5" fill="#2e2e2e" stroke="#2e2e2e" stroke-width="0.45">10</text><text x="561.9" y="1420.6" font-size="12" fill="#2e2e2e" stroke="#2e2e2e" stroke-width="0.45">1</text><text x="609" y="1431.3" font-size="12.5" fill="#2e2e2e" stroke="#2e2e2e" stroke-width="0.45">10</text><text x="622.6" y="1420.6" font-size="12" fill="#2e2e2e" stroke="#2e2e2e" stroke-width="0.45">2</text><text x="669.7" y="1431.3" font-size="12.5" fill="#2e2e2e" stroke="#2e2e2e" stroke-width="0.45">10</text><text x="683.3" y="1420.6" font-size="12" fill="#2e2e2e" stroke="#2e2e2e" stroke-width="0.45">3</text><text x="730.4" y="1431.3" font-size="12.5" fill="#2e2e2e" stroke="#2e2e2e" stroke-width="0.45">10</text><text x="744" y="1420.6" font-size="12" fill="#2e2e2e" stroke="#2e2e2e" stroke-width="0.45">4</text><text x="791.1" y="1431.3" font-size="12.5" fill="#2e2e2e" stroke="#2e2e2e" stroke-width="0.45">10</text><text x="804.7" y="1420.6" font-size="12" fill="#2e2e2e" stroke="#2e2e2e" stroke-width="0.45">5</text><line x1="481" y1="1390.5" x2="491" y2="1390.5" stroke="#222" stroke-width="2.6" stroke-linecap="butt"/><text x="474.6" y="1390.5" font-size="11" text-anchor="end" fill="#2e2e2e" stroke="#2e2e2e" stroke-width="0.45">0</text><line x1="486" y1="1370.8" x2="491" y2="1370.8" stroke="#222" stroke-width="1.8" stroke-linecap="butt"/><line x1="486" y1="1351.1" x2="491" y2="1351.1" stroke="#222" stroke-width="1.8" stroke-linecap="butt"/><line x1="486" y1="1331.4" x2="491" y2="1331.4" stroke="#222" stroke-width="1.8" stroke-linecap="butt"/><line x1="481" y1="1311.7" x2="491" y2="1311.7" stroke="#222" stroke-width="2.6" stroke-linecap="butt"/><text x="475.2" y="1320.9" font-size="11" text-anchor="end" fill="#2e2e2e" stroke="#2e2e2e" stroke-width="0.45" textLength="32.5" lengthAdjust="spacingAndGlyphs">100K</text><line x1="486" y1="1292" x2="491" y2="1292" stroke="#222" stroke-width="1.8" stroke-linecap="butt"/><line x1="486" y1="1272.3" x2="491" y2="1272.3" stroke="#222" stroke-width="1.8" stroke-linecap="butt"/><line x1="486" y1="1252.6" x2="491" y2="1252.6" stroke="#222" stroke-width="1.8" stroke-linecap="butt"/><line x1="481" y1="1232.9" x2="491" y2="1232.9" stroke="#222" stroke-width="2.6" stroke-linecap="butt"/><text x="475.2" y="1242.1" font-size="11" text-anchor="end" fill="#2e2e2e" stroke="#2e2e2e" stroke-width="0.45" textLength="32.5" lengthAdjust="spacingAndGlyphs">200K</text><line x1="486" y1="1213.2" x2="491" y2="1213.2" stroke="#222" stroke-width="1.8" stroke-linecap="butt"/><line x1="486" y1="1193.5" x2="491" y2="1193.5" stroke="#222" stroke-width="1.8" stroke-linecap="butt"/><line x1="486" y1="1173.9" x2="491" y2="1173.9" stroke="#222" stroke-width="1.8" stroke-linecap="butt"/><line x1="481" y1="1154.2" x2="491" y2="1154.2" stroke="#222" stroke-width="2.6" stroke-linecap="butt"/><text x="475.2" y="1163.4" font-size="11" text-anchor="end" fill="#2e2e2e" stroke="#2e2e2e" stroke-width="0.45" textLength="32.5" lengthAdjust="spacingAndGlyphs">300K</text><line x1="486" y1="1134.5" x2="491" y2="1134.5" stroke="#222" stroke-width="1.8" stroke-linecap="butt"/><line x1="486" y1="1114.8" x2="491" y2="1114.8" stroke="#222" stroke-width="1.8" stroke-linecap="butt"/><line x1="486" y1="1095.1" x2="491" y2="1095.1" stroke="#222" stroke-width="1.8" stroke-linecap="butt"/><line x1="481" y1="1075.4" x2="491" y2="1075.4" stroke="#222" stroke-width="2.6" stroke-linecap="butt"/><text x="475.2" y="1084.6" font-size="11" text-anchor="end" fill="#2e2e2e" stroke="#2e2e2e" stroke-width="0.45" textLength="32.5" lengthAdjust="spacingAndGlyphs">400K</text><rect x="491" y="1059.2" width="333" height="332.1" fill="none" stroke="#6c6c6c" stroke-width="2"/><line x1="491" y1="1058.2" x2="491" y2="1392.3" stroke="#262626" stroke-width="2.2" stroke-linecap="butt"/><line x1="490" y1="1391.3" x2="825" y2="1391.3" stroke="#262626" stroke-width="2.2" stroke-linecap="butt"/><line x1="890.2" y1="1390.9" x2="890.2" y2="1399.4" stroke="#222" stroke-width="2.6" stroke-linecap="butt"/><line x1="908.6" y1="1390.9" x2="908.6" y2="1395.4" stroke="#222" stroke-width="1.6" stroke-linecap="butt"/><line x1="919.4" y1="1390.9" x2="919.4" y2="1395.4" stroke="#222" stroke-width="1.6" stroke-linecap="butt"/><line x1="927" y1="1390.9" x2="927" y2="1395.4" stroke="#222" stroke-width="1.6" stroke-linecap="butt"/><line x1="932.9" y1="1390.9" x2="932.9" y2="1395.4" stroke="#222" stroke-width="1.6" stroke-linecap="butt"/><line x1="937.7" y1="1390.9" x2="937.7" y2="1395.4" stroke="#222" stroke-width="1.6" stroke-linecap="butt"/><line x1="941.8" y1="1390.9" x2="941.8" y2="1395.4" stroke="#222" stroke-width="1.6" stroke-linecap="butt"/><line x1="945.4" y1="1390.9" x2="945.4" y2="1395.4" stroke="#222" stroke-width="1.6" stroke-linecap="butt"/><line x1="948.5" y1="1390.9" x2="948.5" y2="1395.4" stroke="#222" stroke-width="1.6" stroke-linecap="butt"/><line x1="951.3" y1="1390.9" x2="951.3" y2="1399.4" stroke="#222" stroke-width="2.6" stroke-linecap="butt"/><line x1="969.7" y1="1390.9" x2="969.7" y2="1395.4" stroke="#222" stroke-width="1.6" stroke-linecap="butt"/><line x1="980.5" y1="1390.9" x2="980.5" y2="1395.4" stroke="#222" stroke-width="1.6" stroke-linecap="butt"/><line x1="988.1" y1="1390.9" x2="988.1" y2="1395.4" stroke="#222" stroke-width="1.6" stroke-linecap="butt"/><line x1="994" y1="1390.9" x2="994" y2="1395.4" stroke="#222" stroke-width="1.6" stroke-linecap="butt"/><line x1="998.8" y1="1390.9" x2="998.8" y2="1395.4" stroke="#222" stroke-width="1.6" stroke-linecap="butt"/><line x1="1002.9" y1="1390.9" x2="1002.9" y2="1395.4" stroke="#222" stroke-width="1.6" stroke-linecap="butt"/><line x1="1006.5" y1="1390.9" x2="1006.5" y2="1395.4" stroke="#222" stroke-width="1.6" stroke-linecap="butt"/><line x1="1009.6" y1="1390.9" x2="1009.6" y2="1395.4" stroke="#222" stroke-width="1.6" stroke-linecap="butt"/><line x1="1012.4" y1="1390.9" x2="1012.4" y2="1399.4" stroke="#222" stroke-width="2.6" stroke-linecap="butt"/><line x1="1030.8" y1="1390.9" x2="1030.8" y2="1395.4" stroke="#222" stroke-width="1.6" stroke-linecap="butt"/><line x1="1041.6" y1="1390.9" x2="1041.6" y2="1395.4" stroke="#222" stroke-width="1.6" stroke-linecap="butt"/><line x1="1049.2" y1="1390.9" x2="1049.2" y2="1395.4" stroke="#222" stroke-width="1.6" stroke-linecap="butt"/><line x1="1055.1" y1="1390.9" x2="1055.1" y2="1395.4" stroke="#222" stroke-width="1.6" stroke-linecap="butt"/><line x1="1059.9" y1="1390.9" x2="1059.9" y2="1395.4" stroke="#222" stroke-width="1.6" stroke-linecap="butt"/><line x1="1064" y1="1390.9" x2="1064" y2="1395.4" stroke="#222" stroke-width="1.6" stroke-linecap="butt"/><line x1="1067.6" y1="1390.9" x2="1067.6" y2="1395.4" stroke="#222" stroke-width="1.6" stroke-linecap="butt"/><line x1="1070.7" y1="1390.9" x2="1070.7" y2="1395.4" stroke="#222" stroke-width="1.6" stroke-linecap="butt"/><line x1="1073.5" y1="1390.9" x2="1073.5" y2="1399.4" stroke="#222" stroke-width="2.6" stroke-linecap="butt"/><line x1="1091.9" y1="1390.9" x2="1091.9" y2="1395.4" stroke="#222" stroke-width="1.6" stroke-linecap="butt"/><line x1="1102.7" y1="1390.9" x2="1102.7" y2="1395.4" stroke="#222" stroke-width="1.6" stroke-linecap="butt"/><line x1="1110.3" y1="1390.9" x2="1110.3" y2="1395.4" stroke="#222" stroke-width="1.6" stroke-linecap="butt"/><line x1="1116.2" y1="1390.9" x2="1116.2" y2="1395.4" stroke="#222" stroke-width="1.6" stroke-linecap="butt"/><line x1="1121" y1="1390.9" x2="1121" y2="1395.4" stroke="#222" stroke-width="1.6" stroke-linecap="butt"/><line x1="1125.1" y1="1390.9" x2="1125.1" y2="1395.4" stroke="#222" stroke-width="1.6" stroke-linecap="butt"/><line x1="1128.7" y1="1390.9" x2="1128.7" y2="1395.4" stroke="#222" stroke-width="1.6" stroke-linecap="butt"/><line x1="1131.8" y1="1390.9" x2="1131.8" y2="1395.4" stroke="#222" stroke-width="1.6" stroke-linecap="butt"/><line x1="1134.6" y1="1390.9" x2="1134.6" y2="1399.4" stroke="#222" stroke-width="2.6" stroke-linecap="butt"/><line x1="1153" y1="1390.9" x2="1153" y2="1395.4" stroke="#222" stroke-width="1.6" stroke-linecap="butt"/><line x1="1163.8" y1="1390.9" x2="1163.8" y2="1395.4" stroke="#222" stroke-width="1.6" stroke-linecap="butt"/><line x1="1171.4" y1="1390.9" x2="1171.4" y2="1395.4" stroke="#222" stroke-width="1.6" stroke-linecap="butt"/><line x1="1177.3" y1="1390.9" x2="1177.3" y2="1395.4" stroke="#222" stroke-width="1.6" stroke-linecap="butt"/><line x1="1182.1" y1="1390.9" x2="1182.1" y2="1395.4" stroke="#222" stroke-width="1.6" stroke-linecap="butt"/><line x1="1186.2" y1="1390.9" x2="1186.2" y2="1395.4" stroke="#222" stroke-width="1.6" stroke-linecap="butt"/><line x1="1189.8" y1="1390.9" x2="1189.8" y2="1395.4" stroke="#222" stroke-width="1.6" stroke-linecap="butt"/><line x1="1192.9" y1="1390.9" x2="1192.9" y2="1395.4" stroke="#222" stroke-width="1.6" stroke-linecap="butt"/><line x1="1195.7" y1="1390.9" x2="1195.7" y2="1399.4" stroke="#222" stroke-width="2.6" stroke-linecap="butt"/><line x1="1214.1" y1="1390.9" x2="1214.1" y2="1395.4" stroke="#222" stroke-width="1.6" stroke-linecap="butt"/><line x1="1224.9" y1="1390.9" x2="1224.9" y2="1395.4" stroke="#222" stroke-width="1.6" stroke-linecap="butt"/><text x="898.2" y="1430.9" font-size="12.5" fill="#2e2e2e" stroke="#2e2e2e" stroke-width="0.45">10</text><text x="911.8" y="1420.2" font-size="12" fill="#2e2e2e" stroke="#2e2e2e" stroke-width="0.45">0</text><text x="946.7" y="1430.9" font-size="12.5" fill="#2e2e2e" stroke="#2e2e2e" stroke-width="0.45">10</text><text x="960.3" y="1420.2" font-size="12" fill="#2e2e2e" stroke="#2e2e2e" stroke-width="0.45">1</text><text x="1007.8" y="1430.9" font-size="12.5" fill="#2e2e2e" stroke="#2e2e2e" stroke-width="0.45">10</text><text x="1021.4" y="1420.2" font-size="12" fill="#2e2e2e" stroke="#2e2e2e" stroke-width="0.45">2</text><text x="1068.9" y="1430.9" font-size="12.5" fill="#2e2e2e" stroke="#2e2e2e" stroke-width="0.45">10</text><text x="1082.5" y="1420.2" font-size="12" fill="#2e2e2e" stroke="#2e2e2e" stroke-width="0.45">3</text><text x="1130" y="1430.9" font-size="12.5" fill="#2e2e2e" stroke="#2e2e2e" stroke-width="0.45">10</text><text x="1143.6" y="1420.2" font-size="12" fill="#2e2e2e" stroke="#2e2e2e" stroke-width="0.45">4</text><text x="1191.1" y="1430.9" font-size="12.5" fill="#2e2e2e" stroke="#2e2e2e" stroke-width="0.45">10</text><text x="1204.7" y="1420.2" font-size="12" fill="#2e2e2e" stroke="#2e2e2e" stroke-width="0.45">5</text><line x1="879.8" y1="1390.3" x2="889.8" y2="1390.3" stroke="#222" stroke-width="2.6" stroke-linecap="butt"/><text x="873.4" y="1390.3" font-size="11" text-anchor="end" fill="#2e2e2e" stroke="#2e2e2e" stroke-width="0.45">0</text><line x1="884.8" y1="1370.5" x2="889.8" y2="1370.5" stroke="#222" stroke-width="1.8" stroke-linecap="butt"/><line x1="884.8" y1="1350.7" x2="889.8" y2="1350.7" stroke="#222" stroke-width="1.8" stroke-linecap="butt"/><line x1="884.8" y1="1330.9" x2="889.8" y2="1330.9" stroke="#222" stroke-width="1.8" stroke-linecap="butt"/><line x1="879.8" y1="1311" x2="889.8" y2="1311" stroke="#222" stroke-width="2.6" stroke-linecap="butt"/><text x="874" y="1320.2" font-size="11" text-anchor="end" fill="#2e2e2e" stroke="#2e2e2e" stroke-width="0.45" textLength="32.5" lengthAdjust="spacingAndGlyphs">100K</text><line x1="884.8" y1="1291.2" x2="889.8" y2="1291.2" stroke="#222" stroke-width="1.8" stroke-linecap="butt"/><line x1="884.8" y1="1271.4" x2="889.8" y2="1271.4" stroke="#222" stroke-width="1.8" stroke-linecap="butt"/><line x1="884.8" y1="1251.6" x2="889.8" y2="1251.6" stroke="#222" stroke-width="1.8" stroke-linecap="butt"/><line x1="879.8" y1="1231.8" x2="889.8" y2="1231.8" stroke="#222" stroke-width="2.6" stroke-linecap="butt"/><text x="874" y="1241" font-size="11" text-anchor="end" fill="#2e2e2e" stroke="#2e2e2e" stroke-width="0.45" textLength="32.5" lengthAdjust="spacingAndGlyphs">200K</text><line x1="884.8" y1="1212" x2="889.8" y2="1212" stroke="#222" stroke-width="1.8" stroke-linecap="butt"/><line x1="884.8" y1="1192.2" x2="889.8" y2="1192.2" stroke="#222" stroke-width="1.8" stroke-linecap="butt"/><line x1="884.8" y1="1172.4" x2="889.8" y2="1172.4" stroke="#222" stroke-width="1.8" stroke-linecap="butt"/><line x1="879.8" y1="1152.5" x2="889.8" y2="1152.5" stroke="#222" stroke-width="2.6" stroke-linecap="butt"/><text x="874" y="1161.8" font-size="11" text-anchor="end" fill="#2e2e2e" stroke="#2e2e2e" stroke-width="0.45" textLength="32.5" lengthAdjust="spacingAndGlyphs">300K</text><line x1="884.8" y1="1132.7" x2="889.8" y2="1132.7" stroke="#222" stroke-width="1.8" stroke-linecap="butt"/><line x1="884.8" y1="1112.9" x2="889.8" y2="1112.9" stroke="#222" stroke-width="1.8" stroke-linecap="butt"/><line x1="884.8" y1="1093.1" x2="889.8" y2="1093.1" stroke="#222" stroke-width="1.8" stroke-linecap="butt"/><line x1="879.8" y1="1073.3" x2="889.8" y2="1073.3" stroke="#222" stroke-width="2.6" stroke-linecap="butt"/><text x="874" y="1082.5" font-size="11" text-anchor="end" fill="#2e2e2e" stroke="#2e2e2e" stroke-width="0.45" textLength="32.5" lengthAdjust="spacingAndGlyphs">400K</text><rect x="889.8" y="1057" width="334.7" height="333.9" fill="none" stroke="#6c6c6c" stroke-width="2"/><line x1="889.8" y1="1056" x2="889.8" y2="1391.9" stroke="#262626" stroke-width="2.2" stroke-linecap="butt"/><line x1="888.8" y1="1390.9" x2="1225.5" y2="1390.9" stroke="#262626" stroke-width="2.2" stroke-linecap="butt"/><line x1="118" y1="362.7" x2="142" y2="362.7" stroke="#c0ecec" stroke-width="2.0" stroke-linecap="butt"/><line x1="142" y1="362.7" x2="178" y2="362.7" stroke="#e0dc90" stroke-width="2.0" stroke-linecap="butt"/><line x1="498" y1="363.7" x2="590" y2="363.7" stroke="#9090d8" stroke-width="2.0" stroke-linecap="butt"/><line x1="935" y1="364" x2="1000" y2="364" stroke="#9090d8" stroke-width="2.0" stroke-linecap="butt"/><line x1="88.6" y1="873.7" x2="105" y2="873.7" stroke="#005a5a" stroke-width="2.6" stroke-linecap="butt"/><line x1="105" y1="873.7" x2="128" y2="873.7" stroke="#3c8c00" stroke-width="2.6" stroke-linecap="butt"/><line x1="128" y1="873.7" x2="145" y2="873.7" stroke="#c8c000" stroke-width="2.6" stroke-linecap="butt"/><line x1="145" y1="873.7" x2="190" y2="873.7" stroke="#d06000" stroke-width="2.6" stroke-linecap="butt"/><line x1="190" y1="873.7" x2="196" y2="873.7" stroke="#c8c000" stroke-width="2.6" stroke-linecap="butt"/><line x1="196" y1="873.7" x2="205" y2="873.7" stroke="#3c8c00" stroke-width="2.6" stroke-linecap="butt"/><line x1="205" y1="873.7" x2="218.6" y2="873.7" stroke="#005a70" stroke-width="2.6" stroke-linecap="butt"/><line x1="496" y1="873.5" x2="514" y2="873.5" stroke="#1a2a90" stroke-width="2.6" stroke-linecap="butt"/><line x1="514" y1="873.5" x2="526" y2="873.5" stroke="#3c8c00" stroke-width="2.6" stroke-linecap="butt"/><line x1="526" y1="873.5" x2="547" y2="873.5" stroke="#c8c000" stroke-width="2.6" stroke-linecap="butt"/><line x1="547" y1="873.5" x2="600" y2="873.5" stroke="#c83010" stroke-width="2.6" stroke-linecap="butt"/><line x1="600" y1="873.5" x2="605" y2="873.5" stroke="#d08000" stroke-width="2.6" stroke-linecap="butt"/><line x1="605" y1="873.5" x2="612" y2="873.5" stroke="#3c9c00" stroke-width="2.6" stroke-linecap="butt"/><line x1="612" y1="873.5" x2="625" y2="873.5" stroke="#1a3ab0" stroke-width="2.6" stroke-linecap="butt"/><line x1="625" y1="873.5" x2="674" y2="873.5" stroke="#10506a" stroke-width="2.6" stroke-linecap="butt"/><line x1="900" y1="873.7" x2="912" y2="873.7" stroke="#005a5a" stroke-width="2.6" stroke-linecap="butt"/><line x1="912" y1="873.7" x2="925" y2="873.7" stroke="#3c8c00" stroke-width="2.6" stroke-linecap="butt"/><line x1="925" y1="873.7" x2="960" y2="873.7" stroke="#b8b800" stroke-width="2.6" stroke-linecap="butt"/><line x1="960" y1="873.7" x2="1005" y2="873.7" stroke="#d06000" stroke-width="2.6" stroke-linecap="butt"/><line x1="1005" y1="873.7" x2="1009" y2="873.7" stroke="#c8c000" stroke-width="2.6" stroke-linecap="butt"/><line x1="1009" y1="873.7" x2="1013" y2="873.7" stroke="#3c9c00" stroke-width="2.6" stroke-linecap="butt"/><line x1="1013" y1="873.7" x2="1025" y2="873.7" stroke="#00707a" stroke-width="2.6" stroke-linecap="butt"/><line x1="1025" y1="873.7" x2="1105" y2="873.7" stroke="#20207a" stroke-width="2.6" stroke-linecap="butt"/><line x1="211.7" y1="54.3" x2="211.7" y2="364.9" stroke="#000" stroke-width="2.6" stroke-linecap="butt"/><line x1="86.6" y1="246.8" x2="398.2" y2="246.8" stroke="#000" stroke-width="2.6" stroke-linecap="butt"/><line x1="623" y1="52.6" x2="623" y2="365.9" stroke="#000" stroke-width="2.6" stroke-linecap="butt"/><line x1="497.2" y1="246.7" x2="811.3" y2="246.7" stroke="#000" stroke-width="2.6" stroke-linecap="butt"/><line x1="1035.5" y1="51.7" x2="1035.5" y2="366.2" stroke="#000" stroke-width="2.6" stroke-linecap="butt"/><line x1="908.7" y1="246.7" x2="1225" y2="246.7" stroke="#000" stroke-width="2.6" stroke-linecap="butt"/><line x1="291" y1="1051.5" x2="291" y2="1391" stroke="#000" stroke-width="2.6" stroke-linecap="butt"/><line x1="689.1" y1="1059.2" x2="689.1" y2="1391.3" stroke="#000" stroke-width="2.6" stroke-linecap="butt"/><line x1="1088.9" y1="1057" x2="1088.9" y2="1390.9" stroke="#000" stroke-width="2.6" stroke-linecap="butt"/><text transform="translate(93.3 81) scale(0.84 1.0)" font-size="15.2" fill="#383838" stroke="#383838" stroke-width="0.4">Q1</text><text transform="translate(93.3 103.4) scale(0.92 1.12)" font-size="15.2" fill="#383838" stroke="#383838" stroke-width="0.4">0.19</text><text transform="translate(371.5 81) scale(0.84 1.0)" font-size="15.2" fill="#383838" stroke="#383838" stroke-width="0.4" text-anchor="end">Q2</text><text transform="translate(371.5 103.4) scale(0.92 1.12)" font-size="15.2" fill="#383838" stroke="#383838" stroke-width="0.4" text-anchor="end">0.72</text><text transform="translate(93.3 326) scale(0.84 1.0)" font-size="15.2" fill="#383838" stroke="#383838" stroke-width="0.4">Q4</text><text transform="translate(93.3 347.8) scale(0.92 1.12)" font-size="15.2" fill="#383838" stroke="#383838" stroke-width="0.4">98.0</text><text transform="translate(371.5 326) scale(0.84 1.0)" font-size="15.2" fill="#383838" stroke="#383838" stroke-width="0.4" text-anchor="end">Q3</text><text transform="translate(371.5 347.8) scale(0.92 1.12)" font-size="15.2" fill="#383838" stroke="#383838" stroke-width="0.4" text-anchor="end">1.05</text><text transform="translate(502.9 79.3) scale(0.84 1.0)" font-size="15.2" fill="#383838" stroke="#383838" stroke-width="0.4">Q1</text><text transform="translate(502.9 102) scale(0.92 1.12)" font-size="15.2" fill="#383838" stroke="#383838" stroke-width="0.4">0.25</text><text transform="translate(784.3 79.3) scale(0.84 1.0)" font-size="15.2" fill="#383838" stroke="#383838" stroke-width="0.4" text-anchor="end">Q2</text><text transform="translate(784.3 102) scale(0.92 1.12)" font-size="15.2" fill="#383838" stroke="#383838" stroke-width="0.4" text-anchor="end">16.0</text><text transform="translate(502.9 326.4) scale(0.84 1.0)" font-size="15.2" fill="#383838" stroke="#383838" stroke-width="0.4">Q4</text><text transform="translate(502.9 348.5) scale(0.92 1.12)" font-size="15.2" fill="#383838" stroke="#383838" stroke-width="0.4">79.1</text><text transform="translate(784.3 326.4) scale(0.84 1.0)" font-size="15.2" fill="#383838" stroke="#383838" stroke-width="0.4" text-anchor="end">Q3</text><text transform="translate(784.3 348.5) scale(0.92 1.12)" font-size="15.2" fill="#383838" stroke="#383838" stroke-width="0.4" text-anchor="end">4.70</text><text transform="translate(914.6 79.3) scale(0.84 1.0)" font-size="15.2" fill="#383838" stroke="#383838" stroke-width="0.4">Q1</text><text transform="translate(914.6 102) scale(0.92 1.12)" font-size="15.2" fill="#383838" stroke="#383838" stroke-width="0.4">0.94</text><text transform="translate(1197.1 79.3) scale(0.84 1.0)" font-size="15.2" fill="#383838" stroke="#383838" stroke-width="0.4" text-anchor="end">Q2</text><text transform="translate(1197.1 102) scale(0.92 1.12)" font-size="15.2" fill="#383838" stroke="#383838" stroke-width="0.4" text-anchor="end">10.5</text><text transform="translate(914.6 326.4) scale(0.84 1.0)" font-size="15.2" fill="#383838" stroke="#383838" stroke-width="0.4">Q4</text><text transform="translate(914.6 349.1) scale(0.92 1.12)" font-size="15.2" fill="#383838" stroke="#383838" stroke-width="0.4">84.7</text><text transform="translate(1197.1 326.4) scale(0.84 1.0)" font-size="15.2" fill="#383838" stroke="#383838" stroke-width="0.4" text-anchor="end">Q3</text><text transform="translate(1197.1 349.1) scale(0.92 1.12)" font-size="15.2" fill="#383838" stroke="#383838" stroke-width="0.4" text-anchor="end">3.82</text><text transform="translate(94.3 1081) scale(0.84 1.0)" font-size="15.2" fill="#383838" stroke="#383838" stroke-width="0.4">Q1</text><text transform="translate(94.3 1105.3) scale(0.92 1.12)" font-size="15.2" fill="#383838" stroke="#383838" stroke-width="0.4">91.4</text><text transform="translate(398 1081) scale(0.84 1.0)" font-size="15.2" fill="#383838" stroke="#383838" stroke-width="0.4" text-anchor="end">Q2</text><text transform="translate(398 1105.3) scale(0.92 1.12)" font-size="15.2" fill="#383838" stroke="#383838" stroke-width="0.4" text-anchor="end">8.62</text><text transform="translate(497.5 1088.4) scale(0.84 1.0)" font-size="15.2" fill="#383838" stroke="#383838" stroke-width="0.4">Q1</text><text transform="translate(497.5 1112) scale(0.92 1.12)" font-size="15.2" fill="#383838" stroke="#383838" stroke-width="0.4">88.0</text><text transform="translate(795.7 1088.4) scale(0.84 1.0)" font-size="15.2" fill="#383838" stroke="#383838" stroke-width="0.4" text-anchor="end">Q2</text><text transform="translate(795.7 1112) scale(0.92 1.12)" font-size="15.2" fill="#383838" stroke="#383838" stroke-width="0.4" text-anchor="end">12.0</text><text transform="translate(896.7 1086.7) scale(0.84 1.0)" font-size="15.2" fill="#383838" stroke="#383838" stroke-width="0.4">Q1</text><text transform="translate(896.7 1109.8) scale(0.92 1.12)" font-size="15.2" fill="#383838" stroke="#383838" stroke-width="0.4">92.2</text><text transform="translate(1194.9 1086.7) scale(0.84 1.0)" font-size="15.2" fill="#383838" stroke="#383838" stroke-width="0.4" text-anchor="end">Q2</text><text transform="translate(1194.9 1109.8) scale(0.92 1.12)" font-size="15.2" fill="#383838" stroke="#383838" stroke-width="0.4" text-anchor="end">7.78</text><text x="235.5" y="678" font-size="15.5" text-anchor="middle" fill="#3a3a3a" stroke="#3a3a3a" stroke-width="0.45" textLength="166.5" lengthAdjust="spacingAndGlyphs">APC-A, BV421-A subset</text><text x="234.7" y="700.3" font-size="15.5" text-anchor="middle" fill="#3a3a3a" stroke="#3a3a3a" stroke-width="0.45">17.5</text><ellipse cx="224.9" cy="748.5" rx="31" ry="17" transform="rotate(-37 224.9 748.5)" fill="none" stroke="#111" stroke-width="2.2"/><text x="638" y="685.8" font-size="15.5" text-anchor="middle" fill="#3a3a3a" stroke="#3a3a3a" stroke-width="0.45" textLength="166.5" lengthAdjust="spacingAndGlyphs">APC-A, BV421-A subset</text><text x="637.8" y="708.4" font-size="15.5" text-anchor="middle" fill="#3a3a3a" stroke="#3a3a3a" stroke-width="0.45">27.5</text><ellipse cx="627" cy="756.6" rx="31" ry="17" transform="rotate(-35 627 756.6)" fill="none" stroke="#111" stroke-width="2.2"/><text x="1050" y="688.6" font-size="15.5" text-anchor="middle" fill="#3a3a3a" stroke="#3a3a3a" stroke-width="0.45" textLength="166.5" lengthAdjust="spacingAndGlyphs">APC-A, BV421-A subset</text><text x="1048.4" y="711.3" font-size="15.5" text-anchor="middle" fill="#3a3a3a" stroke="#3a3a3a" stroke-width="0.45">20.1</text><ellipse cx="1038.6" cy="759.6" rx="31" ry="17" transform="rotate(-36 1038.6 759.6)" fill="none" stroke="#111" stroke-width="2.2"/><rect x="1426.4" y="332.5" width="77.4" height="29.1" fill="#000000" stroke="none" stroke-width="0"/><rect x="1539.5" y="150.8" width="77.1" height="210.8" fill="#a1a1a5" stroke="none" stroke-width="0"/><rect x="1652.9" y="213.6" width="76.5" height="148" fill="#d5d5d5" stroke="none" stroke-width="0"/><line x1="1446" y1="327.8" x2="1483.5" y2="327.8" stroke="#000000" stroke-width="2.8" stroke-linecap="butt"/><line x1="1464.8" y1="327.8" x2="1464.8" y2="333.5" stroke="#000000" stroke-width="2.8" stroke-linecap="butt"/><line x1="1559.4" y1="132.1" x2="1596.6" y2="132.1" stroke="#000000" stroke-width="2.8" stroke-linecap="butt"/><line x1="1578" y1="132.1" x2="1578" y2="151.8" stroke="#000000" stroke-width="2.8" stroke-linecap="butt"/><line x1="1672" y1="200" x2="1709.6" y2="200" stroke="#c4c4c4" stroke-width="2.8" stroke-linecap="butt"/><line x1="1690.8" y1="200" x2="1690.8" y2="214.6" stroke="#c4c4c4" stroke-width="2.8" stroke-linecap="butt"/><line x1="1389.8" y1="110.4" x2="1389.8" y2="363" stroke="#000" stroke-width="2.8" stroke-linecap="butt"/><line x1="1382.6" y1="361.6" x2="1767.5" y2="361.6" stroke="#000" stroke-width="2.8" stroke-linecap="butt"/><line x1="1382.6" y1="110.4" x2="1389.8" y2="110.4" stroke="#000" stroke-width="2.8" stroke-linecap="butt"/><text x="1379.5" y="116.7" font-size="18" font-weight="bold" text-anchor="end">15</text><line x1="1382.6" y1="194.1" x2="1389.8" y2="194.1" stroke="#000" stroke-width="2.8" stroke-linecap="butt"/><text x="1379.5" y="200.4" font-size="18" font-weight="bold" text-anchor="end">10</text><line x1="1382.6" y1="277.7" x2="1389.8" y2="277.7" stroke="#000" stroke-width="2.8" stroke-linecap="butt"/><text x="1379.5" y="284" font-size="18" font-weight="bold" text-anchor="end">5</text><line x1="1382.6" y1="361.6" x2="1389.8" y2="361.6" stroke="#000" stroke-width="2.8" stroke-linecap="butt"/><text x="1379.5" y="367.9" font-size="18" font-weight="bold" text-anchor="end">0</text><polyline points="1465.6,313.5 1465.6,97.6 1574,97.6 1574,113.3" fill="none" stroke="#000" stroke-width="2.8" stroke-linejoin="miter"/><polyline points="1579.4,113.3 1579.4,97.6 1691.2,97.6 1691.2,187.7" fill="none" stroke="#000" stroke-width="2.8" stroke-linejoin="miter"/><text x="1514.7" y="83.1" font-size="10" font-weight="bold" text-anchor="middle" stroke="#000" stroke-width="0.9" stroke-linejoin="round">★</text><text x="1524.3" y="83.1" font-size="10" font-weight="bold" text-anchor="middle" stroke="#000" stroke-width="0.9" stroke-linejoin="round">★</text><text x="1635" y="84.5" font-size="10" font-weight="bold" text-anchor="middle" stroke="#000" stroke-width="0.9" stroke-linejoin="round">★</text><text x="1464.8" y="388.7" font-size="19" font-weight="bold" text-anchor="middle">Sham</text><text x="1577.6" y="388.7" font-size="19" font-weight="bold" text-anchor="middle">AP</text><text x="1691" y="388.7" font-size="19" font-weight="bold" text-anchor="middle">SB-500</text><text x="1347" y="235.9" font-size="20.5" font-weight="bold" text-anchor="middle" textLength="157" lengthAdjust="spacingAndGlyphs" transform="rotate(-90 1347 235.9)">Neutrophils (%)</text><rect x="1423" y="733.1" width="77.3" height="144.7" fill="#000000" stroke="none" stroke-width="0"/><rect x="1536" y="658" width="77" height="219.8" fill="#a1a1a5" stroke="none" stroke-width="0"/><rect x="1649.4" y="704" width="77.2" height="173.8" fill="#d5d5d5" stroke="none" stroke-width="0"/><line x1="1443.8" y1="727.2" x2="1480" y2="727.2" stroke="#000000" stroke-width="2.8" stroke-linecap="butt"/><line x1="1461.9" y1="727.2" x2="1461.9" y2="734.1" stroke="#000000" stroke-width="2.8" stroke-linecap="butt"/><line x1="1555.8" y1="653" x2="1593" y2="653" stroke="#000000" stroke-width="2.8" stroke-linecap="butt"/><line x1="1574.4" y1="653" x2="1574.4" y2="659" stroke="#000000" stroke-width="2.8" stroke-linecap="butt"/><line x1="1668.7" y1="700.5" x2="1705.8" y2="700.5" stroke="#c4c4c4" stroke-width="2.8" stroke-linecap="butt"/><line x1="1687.2" y1="700.5" x2="1687.2" y2="705" stroke="#c4c4c4" stroke-width="2.8" stroke-linecap="butt"/><line x1="1386.5" y1="626.2" x2="1386.5" y2="879.2" stroke="#000" stroke-width="2.8" stroke-linecap="butt"/><line x1="1379.3" y1="877.8" x2="1763.7" y2="877.8" stroke="#000" stroke-width="2.8" stroke-linecap="butt"/><line x1="1379.3" y1="626.2" x2="1386.5" y2="626.2" stroke="#000" stroke-width="2.8" stroke-linecap="butt"/><text x="1376.2" y="632.5" font-size="18" font-weight="bold" text-anchor="end">30</text><line x1="1379.3" y1="710.9" x2="1386.5" y2="710.9" stroke="#000" stroke-width="2.8" stroke-linecap="butt"/><text x="1376.2" y="717.2" font-size="18" font-weight="bold" text-anchor="end">20</text><line x1="1379.3" y1="795" x2="1386.5" y2="795" stroke="#000" stroke-width="2.8" stroke-linecap="butt"/><text x="1376.2" y="801.3" font-size="18" font-weight="bold" text-anchor="end">10</text><line x1="1379.3" y1="877.8" x2="1386.5" y2="877.8" stroke="#000" stroke-width="2.8" stroke-linecap="butt"/><text x="1376.2" y="884.1" font-size="18" font-weight="bold" text-anchor="end">0</text><polyline points="1461.4,713.2 1461.4,625.6 1571.6,625.6 1571.6,642" fill="none" stroke="#000" stroke-width="2.8" stroke-linejoin="miter"/><polyline points="1579.6,642 1579.6,625.6 1688,625.6 1688,685.6" fill="none" stroke="#000" stroke-width="2.8" stroke-linejoin="miter"/><text x="1511.5" y="608.2" font-size="10" font-weight="bold" text-anchor="middle" stroke="#000" stroke-width="0.9" stroke-linejoin="round">★</text><text x="1521.4" y="608.2" font-size="10" font-weight="bold" text-anchor="middle" stroke="#000" stroke-width="0.9" stroke-linejoin="round">★</text><text x="1627.4" y="608.6" font-size="10" font-weight="bold" text-anchor="middle" stroke="#000" stroke-width="0.9" stroke-linejoin="round">★</text><text x="1636.9" y="608.6" font-size="10" font-weight="bold" text-anchor="middle" stroke="#000" stroke-width="0.9" stroke-linejoin="round">★</text><text x="1461.4" y="905.4" font-size="19" font-weight="bold" text-anchor="middle">Sham</text><text x="1574.5" y="905.4" font-size="19" font-weight="bold" text-anchor="middle">AP</text><text x="1688" y="905.4" font-size="19" font-weight="bold" text-anchor="middle">SB-500</text><text x="1345" y="752" font-size="20.5" font-weight="bold" text-anchor="middle" textLength="175" lengthAdjust="spacingAndGlyphs" transform="rotate(-90 1345 752)">Macrophages (%)</text><rect x="1422.5" y="1285.6" width="77" height="111.6" fill="#000000" stroke="none" stroke-width="0"/><rect x="1536.3" y="1216.4" width="76.4" height="180.8" fill="#a1a1a5" stroke="none" stroke-width="0"/><rect x="1649.2" y="1290" width="76.3" height="107.2" fill="#d5d5d5" stroke="none" stroke-width="0"/><line x1="1442.8" y1="1271.9" x2="1480.2" y2="1271.9" stroke="#000000" stroke-width="2.8" stroke-linecap="butt"/><line x1="1461.5" y1="1271.9" x2="1461.5" y2="1286.6" stroke="#000000" stroke-width="2.8" stroke-linecap="butt"/><line x1="1555" y1="1204" x2="1592.4" y2="1204" stroke="#000000" stroke-width="2.8" stroke-linecap="butt"/><line x1="1573.7" y1="1204" x2="1573.7" y2="1217.4" stroke="#000000" stroke-width="2.8" stroke-linecap="butt"/><line x1="1669.7" y1="1279.4" x2="1706.2" y2="1279.4" stroke="#c4c4c4" stroke-width="2.8" stroke-linecap="butt"/><line x1="1688" y1="1279.4" x2="1688" y2="1291" stroke="#c4c4c4" stroke-width="2.8" stroke-linecap="butt"/><line x1="1385" y1="1144.7" x2="1385" y2="1398.6" stroke="#000" stroke-width="2.8" stroke-linecap="butt"/><line x1="1377.8" y1="1397.2" x2="1763.9" y2="1397.2" stroke="#000" stroke-width="2.8" stroke-linecap="butt"/><line x1="1377.8" y1="1144.7" x2="1385" y2="1144.7" stroke="#000" stroke-width="2.8" stroke-linecap="butt"/><text x="1374.7" y="1151" font-size="18" font-weight="bold" text-anchor="end">15</text><line x1="1377.8" y1="1229.5" x2="1385" y2="1229.5" stroke="#000" stroke-width="2.8" stroke-linecap="butt"/><text x="1374.7" y="1235.8" font-size="18" font-weight="bold" text-anchor="end">10</text><line x1="1377.8" y1="1313.7" x2="1385" y2="1313.7" stroke="#000" stroke-width="2.8" stroke-linecap="butt"/><text x="1374.7" y="1320" font-size="18" font-weight="bold" text-anchor="end">5</text><line x1="1377.8" y1="1397.2" x2="1385" y2="1397.2" stroke="#000" stroke-width="2.8" stroke-linecap="butt"/><text x="1374.7" y="1403.5" font-size="18" font-weight="bold" text-anchor="end">0</text><polyline points="1460.8,1257.6 1460.8,1165 1572.2,1165 1572.2,1188.4" fill="none" stroke="#000" stroke-width="2.8" stroke-linejoin="miter"/><polyline points="1580,1188.4 1580,1165 1688.4,1165 1688.4,1267.9" fill="none" stroke="#000" stroke-width="2.8" stroke-linejoin="miter"/><text x="1514.3" y="1146.8" font-size="10" font-weight="bold" text-anchor="middle" stroke="#000" stroke-width="0.9" stroke-linejoin="round">★</text><text x="1523.7" y="1146.8" font-size="10" font-weight="bold" text-anchor="middle" stroke="#000" stroke-width="0.9" stroke-linejoin="round">★</text><text x="1625.3" y="1148.2" font-size="10" font-weight="bold" text-anchor="middle" stroke="#000" stroke-width="0.9" stroke-linejoin="round">★</text><text x="1634.6" y="1148.2" font-size="10" font-weight="bold" text-anchor="middle" stroke="#000" stroke-width="0.9" stroke-linejoin="round">★</text><text x="1461.5" y="1424.7" font-size="19" font-weight="bold" text-anchor="middle">Sham</text><text x="1574.3" y="1424.7" font-size="19" font-weight="bold" text-anchor="middle">AP</text><text x="1687.5" y="1424.7" font-size="19" font-weight="bold" text-anchor="middle">SB-500</text><text x="1343.9" y="1270.6" font-size="21.1" font-weight="bold" text-anchor="middle" transform="rotate(-90 1343.9 1270.6)">CD206<tspan font-size="12.5" dy="-8.5">+</tspan><tspan dy="8.5">Macrophages (%)</tspan></text></svg></body></html>
